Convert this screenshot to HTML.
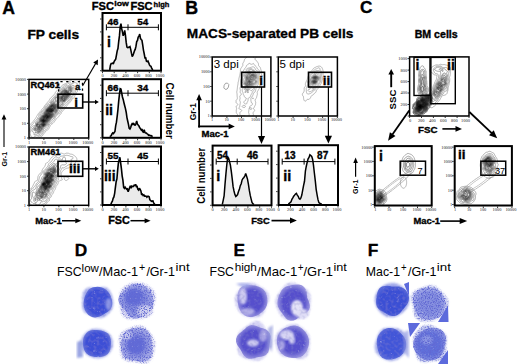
<!DOCTYPE html>
<html><head><meta charset="utf-8"><style>
html,body{margin:0;padding:0;background:#fff;}
svg{display:block;}
text{font-family:"Liberation Sans", sans-serif;}
</style></head><body>
<svg width="520" height="364" viewBox="0 0 520 364" font-family="Liberation Sans, sans-serif">
<rect width="520" height="364" fill="#fff"/>
<text x="2.2" y="13.7" font-size="17.6" font-weight="bold" text-anchor="start" fill="#000"  stroke="#000" stroke-width="0.35">A</text>
<text x="27.4" y="39" font-size="13.7" font-weight="bold" text-anchor="start" fill="#000"  textLength="51.7" lengthAdjust="spacingAndGlyphs" stroke="#000" stroke-width="0.35">FP cells</text>
<text x="91.8" y="10.2" font-size="10.6" font-weight="bold" text-anchor="start" fill="#000"  textLength="22.2" lengthAdjust="spacingAndGlyphs" stroke="#000" stroke-width="0.35">FSC</text>
<text x="114.3" y="6.2" font-size="7.8" font-weight="bold" text-anchor="start" fill="#000"  textLength="14.6" lengthAdjust="spacingAndGlyphs" stroke="#000" stroke-width="0.35">low</text>
<text x="130.4" y="10.2" font-size="10.6" font-weight="bold" text-anchor="start" fill="#000"  textLength="22.2" lengthAdjust="spacingAndGlyphs" stroke="#000" stroke-width="0.35">FSC</text>
<text x="153.6" y="6.6" font-size="7.8" font-weight="bold" text-anchor="start" fill="#000"  textLength="15.8" lengthAdjust="spacingAndGlyphs" stroke="#000" stroke-width="0.35">high</text>
<path d="M109.70,69.90 L110.45,65.29 L111.20,63.49 L111.95,63.35 L112.70,63.18 L113.45,63.51 L114.20,61.38 L114.95,60.23 L115.70,59.14 L116.45,55.06 L117.20,50.86 L117.95,48.60 L118.70,41.54 L119.45,35.93 L120.20,26.91 L120.95,23.63 L121.70,28.85 L122.45,31.84 L123.20,35.78 L123.95,34.08 L124.70,30.29 L125.45,35.40 L126.20,42.38 L126.95,47.04 L127.70,47.56 L128.45,47.38 L129.20,47.12 L129.95,46.59 L130.70,49.41 L131.45,53.15 L132.20,56.45 L132.95,55.41 L133.70,53.20 L134.45,50.91 L135.20,49.40 L135.95,46.40 L136.70,41.58 L137.45,40.56 L138.20,37.07 L138.95,36.19 L139.70,34.07 L140.45,38.47 L141.20,39.50 L141.95,40.32 L142.70,44.88 L143.45,50.05 L144.20,53.76 L144.95,57.93 L145.70,57.87 L146.45,61.13 L147.20,61.54 L147.95,60.99 L148.70,62.80 L149.45,64.86 L150.20,65.97 L150.95,66.41 L151.70,68.05 L152.70,70.00 L152.70,69.9 L109.70,69.9 Z" fill="#ebebeb" stroke="none"/>
<path d="M109.70,69.90 L110.45,65.29 L111.20,63.49 L111.95,63.35 L112.70,63.18 L113.45,63.51 L114.20,61.38 L114.95,60.23 L115.70,59.14 L116.45,55.06 L117.20,50.86 L117.95,48.60 L118.70,41.54 L119.45,35.93 L120.20,26.91 L120.95,23.63 L121.70,28.85 L122.45,31.84 L123.20,35.78 L123.95,34.08 L124.70,30.29 L125.45,35.40 L126.20,42.38 L126.95,47.04 L127.70,47.56 L128.45,47.38 L129.20,47.12 L129.95,46.59 L130.70,49.41 L131.45,53.15 L132.20,56.45 L132.95,55.41 L133.70,53.20 L134.45,50.91 L135.20,49.40 L135.95,46.40 L136.70,41.58 L137.45,40.56 L138.20,37.07 L138.95,36.19 L139.70,34.07 L140.45,38.47 L141.20,39.50 L141.95,40.32 L142.70,44.88 L143.45,50.05 L144.20,53.76 L144.95,57.93 L145.70,57.87 L146.45,61.13 L147.20,61.54 L147.95,60.99 L148.70,62.80 L149.45,64.86 L150.20,65.97 L150.95,66.41 L151.70,68.05 L152.70,70.00" fill="none" stroke="#000" stroke-width="1.6" stroke-linejoin="miter" stroke-miterlimit="2"/>
<rect x="102.5" y="13" width="58.5" height="57.7" stroke="#000" stroke-width="2" fill="none" />
<line x1="100.0" y1="19.0" x2="101.5" y2="19.0" stroke="#000" stroke-width="0.8" />
<line x1="100.0" y1="31.9" x2="101.5" y2="31.9" stroke="#000" stroke-width="0.8" />
<line x1="100.0" y1="44.9" x2="101.5" y2="44.9" stroke="#000" stroke-width="0.8" />
<line x1="100.0" y1="57.8" x2="101.5" y2="57.8" stroke="#000" stroke-width="0.8" />
<line x1="100.0" y1="70.7" x2="101.5" y2="70.7" stroke="#000" stroke-width="0.8" />
<line x1="102.5" y1="71.7" x2="102.5" y2="73.2" stroke="#000" stroke-width="0.8" />
<line x1="114.2" y1="71.7" x2="114.2" y2="73.2" stroke="#000" stroke-width="0.8" />
<line x1="125.9" y1="71.7" x2="125.9" y2="73.2" stroke="#000" stroke-width="0.8" />
<line x1="137.6" y1="71.7" x2="137.6" y2="73.2" stroke="#000" stroke-width="0.8" />
<line x1="149.3" y1="71.7" x2="149.3" y2="73.2" stroke="#000" stroke-width="0.8" />
<line x1="161.0" y1="71.7" x2="161.0" y2="73.2" stroke="#000" stroke-width="0.8" />
<text x="102.5" y="76.9" font-size="4.4" font-weight="normal" text-anchor="middle" fill="#222" style="font-family:Liberation Serif">0</text>
<text x="114.0" y="76.9" font-size="4.4" font-weight="normal" text-anchor="middle" fill="#222" style="font-family:Liberation Serif">200</text>
<text x="125.5" y="76.9" font-size="4.4" font-weight="normal" text-anchor="middle" fill="#222" style="font-family:Liberation Serif">400</text>
<text x="137.0" y="76.9" font-size="4.4" font-weight="normal" text-anchor="middle" fill="#222" style="font-family:Liberation Serif">600</text>
<text x="148.5" y="76.9" font-size="4.4" font-weight="normal" text-anchor="middle" fill="#222" style="font-family:Liberation Serif">800</text>
<text x="160.0" y="76.9" font-size="4.4" font-weight="normal" text-anchor="middle" fill="#222" style="font-family:Liberation Serif">1000</text>
<line x1="106.4" y1="27.3" x2="158.4" y2="27.3" stroke="#000" stroke-width="1.0" />
<line x1="106.4" y1="24.3" x2="106.4" y2="30.3" stroke="#000" stroke-width="1.0" />
<line x1="128" y1="24.3" x2="128" y2="30.3" stroke="#000" stroke-width="1.0" />
<line x1="158.4" y1="24.3" x2="158.4" y2="30.3" stroke="#000" stroke-width="1.0" />
<text x="107.4" y="24.900000000000002" font-size="9.9" font-weight="bold" text-anchor="start" fill="#000"  stroke="#000" stroke-width="0.35">46</text>
<text x="137.3" y="24.900000000000002" font-size="9.9" font-weight="bold" text-anchor="start" fill="#000"  stroke="#000" stroke-width="0.35">54</text>
<text x="107.1" y="46.8" font-size="14" font-weight="bold" text-anchor="start" fill="#000"  stroke="#000" stroke-width="0.35">i</text>
<path d="M109.70,136.50 L110.45,136.15 L111.20,135.66 L111.95,133.85 L112.70,132.85 L113.45,133.57 L114.20,132.48 L114.95,131.38 L115.70,125.69 L116.45,122.13 L117.20,116.20 L117.95,109.52 L118.70,101.10 L119.45,94.33 L120.20,88.80 L120.95,89.15 L121.70,92.99 L122.45,96.98 L123.20,99.41 L123.95,102.72 L124.70,105.75 L125.45,108.58 L126.20,112.22 L126.95,117.62 L127.70,120.98 L128.45,124.30 L129.20,128.35 L129.95,128.99 L130.70,127.57 L131.45,124.86 L132.20,123.59 L132.95,124.42 L133.70,123.49 L134.45,124.49 L135.20,125.50 L135.95,123.58 L136.70,121.05 L137.45,124.21 L138.20,124.95 L138.95,125.87 L139.70,127.76 L140.45,128.51 L141.20,129.87 L141.95,128.90 L142.70,131.65 L143.45,132.07 L144.20,129.77 L144.95,132.53 L145.70,133.04 L146.45,133.09 L147.20,133.96 L147.95,134.38 L148.70,135.31 L149.45,135.06 L150.20,135.71 L150.95,135.61 L151.70,136.06 L152.70,136.50 L152.70,137.0 L109.70,137.0 Z" fill="#ebebeb" stroke="none"/>
<path d="M109.70,136.50 L110.45,136.15 L111.20,135.66 L111.95,133.85 L112.70,132.85 L113.45,133.57 L114.20,132.48 L114.95,131.38 L115.70,125.69 L116.45,122.13 L117.20,116.20 L117.95,109.52 L118.70,101.10 L119.45,94.33 L120.20,88.80 L120.95,89.15 L121.70,92.99 L122.45,96.98 L123.20,99.41 L123.95,102.72 L124.70,105.75 L125.45,108.58 L126.20,112.22 L126.95,117.62 L127.70,120.98 L128.45,124.30 L129.20,128.35 L129.95,128.99 L130.70,127.57 L131.45,124.86 L132.20,123.59 L132.95,124.42 L133.70,123.49 L134.45,124.49 L135.20,125.50 L135.95,123.58 L136.70,121.05 L137.45,124.21 L138.20,124.95 L138.95,125.87 L139.70,127.76 L140.45,128.51 L141.20,129.87 L141.95,128.90 L142.70,131.65 L143.45,132.07 L144.20,129.77 L144.95,132.53 L145.70,133.04 L146.45,133.09 L147.20,133.96 L147.95,134.38 L148.70,135.31 L149.45,135.06 L150.20,135.71 L150.95,135.61 L151.70,136.06 L152.70,136.50" fill="none" stroke="#000" stroke-width="1.6" stroke-linejoin="miter" stroke-miterlimit="2"/>
<rect x="102.5" y="79.2" width="58.5" height="58.60000000000001" stroke="#000" stroke-width="2" fill="none" />
<line x1="100.0" y1="85.2" x2="101.5" y2="85.2" stroke="#000" stroke-width="0.8" />
<line x1="100.0" y1="98.4" x2="101.5" y2="98.4" stroke="#000" stroke-width="0.8" />
<line x1="100.0" y1="111.5" x2="101.5" y2="111.5" stroke="#000" stroke-width="0.8" />
<line x1="100.0" y1="124.7" x2="101.5" y2="124.7" stroke="#000" stroke-width="0.8" />
<line x1="100.0" y1="137.8" x2="101.5" y2="137.8" stroke="#000" stroke-width="0.8" />
<line x1="102.5" y1="138.8" x2="102.5" y2="140.3" stroke="#000" stroke-width="0.8" />
<line x1="114.2" y1="138.8" x2="114.2" y2="140.3" stroke="#000" stroke-width="0.8" />
<line x1="125.9" y1="138.8" x2="125.9" y2="140.3" stroke="#000" stroke-width="0.8" />
<line x1="137.6" y1="138.8" x2="137.6" y2="140.3" stroke="#000" stroke-width="0.8" />
<line x1="149.3" y1="138.8" x2="149.3" y2="140.3" stroke="#000" stroke-width="0.8" />
<line x1="161.0" y1="138.8" x2="161.0" y2="140.3" stroke="#000" stroke-width="0.8" />
<text x="102.5" y="144.0" font-size="4.4" font-weight="normal" text-anchor="middle" fill="#222" style="font-family:Liberation Serif">0</text>
<text x="114.0" y="144.0" font-size="4.4" font-weight="normal" text-anchor="middle" fill="#222" style="font-family:Liberation Serif">200</text>
<text x="125.5" y="144.0" font-size="4.4" font-weight="normal" text-anchor="middle" fill="#222" style="font-family:Liberation Serif">400</text>
<text x="137.0" y="144.0" font-size="4.4" font-weight="normal" text-anchor="middle" fill="#222" style="font-family:Liberation Serif">600</text>
<text x="148.5" y="144.0" font-size="4.4" font-weight="normal" text-anchor="middle" fill="#222" style="font-family:Liberation Serif">800</text>
<text x="160.0" y="144.0" font-size="4.4" font-weight="normal" text-anchor="middle" fill="#222" style="font-family:Liberation Serif">1000</text>
<line x1="106.4" y1="93.2" x2="158.4" y2="93.2" stroke="#000" stroke-width="1.0" />
<line x1="106.4" y1="90.2" x2="106.4" y2="96.2" stroke="#000" stroke-width="1.0" />
<line x1="128" y1="90.2" x2="128" y2="96.2" stroke="#000" stroke-width="1.0" />
<line x1="158.4" y1="90.2" x2="158.4" y2="96.2" stroke="#000" stroke-width="1.0" />
<text x="107.4" y="90.8" font-size="9.9" font-weight="bold" text-anchor="start" fill="#000"  stroke="#000" stroke-width="0.35">66</text>
<text x="137.3" y="90.8" font-size="9.9" font-weight="bold" text-anchor="start" fill="#000"  stroke="#000" stroke-width="0.35">34</text>
<text x="105.2" y="114.8" font-size="14" font-weight="bold" text-anchor="start" fill="#000"  stroke="#000" stroke-width="0.35">ii</text>
<path d="M110.90,204.20 L111.65,202.42 L112.40,201.10 L113.15,198.39 L113.90,196.88 L114.65,193.32 L115.40,187.45 L116.15,181.75 L116.90,178.95 L117.65,170.13 L118.40,162.94 L119.15,160.00 L119.90,157.33 L120.65,162.94 L121.40,168.53 L122.15,175.81 L122.90,180.23 L123.65,187.14 L124.40,188.32 L125.15,187.25 L125.90,188.38 L126.65,189.20 L127.40,188.92 L128.15,191.77 L128.90,189.77 L129.65,187.53 L130.40,185.81 L131.15,188.14 L131.90,186.21 L132.65,186.57 L133.40,186.56 L134.15,185.22 L134.90,185.42 L135.65,184.33 L136.40,186.64 L137.15,186.50 L137.90,189.40 L138.65,190.16 L139.40,188.32 L140.15,189.42 L140.90,190.94 L141.65,194.87 L142.40,194.20 L143.15,195.51 L143.90,194.86 L144.65,196.12 L145.40,196.01 L146.15,196.15 L146.90,197.27 L147.65,196.33 L148.40,196.36 L149.15,196.84 L149.90,199.85 L150.65,200.52 L151.40,201.26 L152.15,200.93 L152.90,200.84 L153.65,202.91 L154.80,204.30 L154.80,204.2 L110.90,204.2 Z" fill="#ebebeb" stroke="none"/>
<path d="M110.90,204.20 L111.65,202.42 L112.40,201.10 L113.15,198.39 L113.90,196.88 L114.65,193.32 L115.40,187.45 L116.15,181.75 L116.90,178.95 L117.65,170.13 L118.40,162.94 L119.15,160.00 L119.90,157.33 L120.65,162.94 L121.40,168.53 L122.15,175.81 L122.90,180.23 L123.65,187.14 L124.40,188.32 L125.15,187.25 L125.90,188.38 L126.65,189.20 L127.40,188.92 L128.15,191.77 L128.90,189.77 L129.65,187.53 L130.40,185.81 L131.15,188.14 L131.90,186.21 L132.65,186.57 L133.40,186.56 L134.15,185.22 L134.90,185.42 L135.65,184.33 L136.40,186.64 L137.15,186.50 L137.90,189.40 L138.65,190.16 L139.40,188.32 L140.15,189.42 L140.90,190.94 L141.65,194.87 L142.40,194.20 L143.15,195.51 L143.90,194.86 L144.65,196.12 L145.40,196.01 L146.15,196.15 L146.90,197.27 L147.65,196.33 L148.40,196.36 L149.15,196.84 L149.90,199.85 L150.65,200.52 L151.40,201.26 L152.15,200.93 L152.90,200.84 L153.65,202.91 L154.80,204.30" fill="none" stroke="#000" stroke-width="1.6" stroke-linejoin="miter" stroke-miterlimit="2"/>
<rect x="102.5" y="146.5" width="58.5" height="58.5" stroke="#000" stroke-width="2" fill="none" />
<line x1="100.0" y1="152.5" x2="101.5" y2="152.5" stroke="#000" stroke-width="0.8" />
<line x1="100.0" y1="165.6" x2="101.5" y2="165.6" stroke="#000" stroke-width="0.8" />
<line x1="100.0" y1="178.8" x2="101.5" y2="178.8" stroke="#000" stroke-width="0.8" />
<line x1="100.0" y1="191.9" x2="101.5" y2="191.9" stroke="#000" stroke-width="0.8" />
<line x1="100.0" y1="205.0" x2="101.5" y2="205.0" stroke="#000" stroke-width="0.8" />
<line x1="102.5" y1="206" x2="102.5" y2="207.5" stroke="#000" stroke-width="0.8" />
<line x1="114.2" y1="206" x2="114.2" y2="207.5" stroke="#000" stroke-width="0.8" />
<line x1="125.9" y1="206" x2="125.9" y2="207.5" stroke="#000" stroke-width="0.8" />
<line x1="137.6" y1="206" x2="137.6" y2="207.5" stroke="#000" stroke-width="0.8" />
<line x1="149.3" y1="206" x2="149.3" y2="207.5" stroke="#000" stroke-width="0.8" />
<line x1="161.0" y1="206" x2="161.0" y2="207.5" stroke="#000" stroke-width="0.8" />
<text x="102.5" y="211.2" font-size="4.4" font-weight="normal" text-anchor="middle" fill="#222" style="font-family:Liberation Serif">0</text>
<text x="114.0" y="211.2" font-size="4.4" font-weight="normal" text-anchor="middle" fill="#222" style="font-family:Liberation Serif">200</text>
<text x="125.5" y="211.2" font-size="4.4" font-weight="normal" text-anchor="middle" fill="#222" style="font-family:Liberation Serif">400</text>
<text x="137.0" y="211.2" font-size="4.4" font-weight="normal" text-anchor="middle" fill="#222" style="font-family:Liberation Serif">600</text>
<text x="148.5" y="211.2" font-size="4.4" font-weight="normal" text-anchor="middle" fill="#222" style="font-family:Liberation Serif">800</text>
<text x="160.0" y="211.2" font-size="4.4" font-weight="normal" text-anchor="middle" fill="#222" style="font-family:Liberation Serif">1000</text>
<line x1="106.4" y1="161.5" x2="158.4" y2="161.5" stroke="#000" stroke-width="1.0" />
<line x1="106.4" y1="158.5" x2="106.4" y2="164.5" stroke="#000" stroke-width="1.0" />
<line x1="128" y1="158.5" x2="128" y2="164.5" stroke="#000" stroke-width="1.0" />
<line x1="158.4" y1="158.5" x2="158.4" y2="164.5" stroke="#000" stroke-width="1.0" />
<text x="107.4" y="159.1" font-size="9.9" font-weight="bold" text-anchor="start" fill="#000"  stroke="#000" stroke-width="0.35">55</text>
<text x="137.3" y="159.1" font-size="9.9" font-weight="bold" text-anchor="start" fill="#000"  stroke="#000" stroke-width="0.35">45</text>
<text x="103.9" y="180.8" font-size="14" font-weight="bold" text-anchor="start" fill="#000"  stroke="#000" stroke-width="0.35">iii</text>
<text x="0" y="0" font-size="10" font-weight="bold" textLength="56.3" lengthAdjust="spacingAndGlyphs" transform="translate(166.2,82.4) rotate(90)">Cell number</text>
<path d="M29.1,126.1 L29.3,125.8 L29.4,125.5 L29.6,125.1 L29.9,124.8 L30.1,124.6 L30.4,124.4 L30.6,124.1 L30.9,123.8 L31.1,123.5 L31.3,123.3 L31.6,123.0 L31.8,122.8 L32.1,122.5 L32.3,122.3 L32.5,122.0 L32.8,121.8 L33.0,121.5 L33.3,121.3 L33.5,121.0 L33.7,120.8 L33.9,120.5 L34.1,120.2 L34.4,119.9 L34.6,119.5 L34.8,119.3 L35.0,119.0 L35.2,118.8 L35.4,118.5 L35.6,118.2 L35.9,117.8 L36.0,117.5 L36.2,117.3 L36.4,116.9 L36.5,116.5 L36.7,116.3 L36.9,116.0 L37.1,115.6 L37.3,115.3 L37.4,115.0 L37.6,114.7 L37.9,114.3 L38.0,114.0 L38.2,113.8 L38.4,113.5 L38.6,113.3 L38.9,113.0 L39.1,112.7 L39.4,112.5 L39.6,112.2 L39.9,111.9 L40.1,111.6 L40.4,111.3 L40.6,111.1 L40.9,110.8 L41.1,110.5 L41.2,110.3 L41.4,110.0 L41.6,109.6 L41.9,109.3 L42.1,109.0 L42.3,108.8 L42.6,108.5 L42.9,108.3 L43.1,108.0 L43.4,107.8 L43.6,107.5 L43.7,107.3 L43.9,107.0 L44.1,106.6 L44.3,106.3 L44.4,106.0 L44.6,105.6 L44.9,105.3 L45.1,105.1 L45.4,104.9 L45.6,104.8 L45.9,104.5 L46.1,104.3 L46.3,103.8 L46.4,103.5 L46.6,103.2 L46.9,102.9 L47.1,102.6 L47.4,102.4 L47.6,102.2 L47.9,101.9 L48.1,101.6 L48.4,101.3 L48.6,101.0 L48.8,100.8 L49.0,100.5 L49.2,100.3 L49.4,100.0 L49.6,99.5 L49.7,99.3 L49.9,99.0 L50.1,98.7 L50.4,98.3 L50.6,98.1 L50.9,97.9 L51.1,97.7 L51.4,97.5 L51.6,97.2 L51.9,96.8 L52.1,96.5 L52.4,96.3 L52.6,96.1 L52.9,95.9 L53.1,95.7 L53.4,95.5 L53.6,95.3 L53.9,95.0 L54.1,94.6 L54.4,94.3 L54.6,94.1 L54.9,93.8 L54.9,93.5 L55.1,93.0 L55.2,92.8 L55.4,92.3 L55.5,92.0 L55.7,91.8 L56.0,91.5 L56.3,91.3 L56.6,91.0 L56.9,90.8 L57.1,90.6 L57.4,90.3 L57.6,90.1 L57.9,89.8 L58.1,89.6 L58.4,89.3 L58.6,89.1 L58.9,88.9 L59.1,88.7 L59.4,88.5 L59.9,88.3 L60.1,88.1 L60.4,88.0 L60.9,87.8 L60.9,87.5 L61.0,87.0 L61.1,86.8 L61.3,86.3 L61.5,86.0 L61.6,85.8 L62.0,85.5 L62.3,85.3 L62.6,85.1 L62.9,84.9 L63.1,84.8 L63.5,84.5 L63.9,84.3 L64.1,84.1 L64.5,84.0 L64.9,83.9 L65.4,83.8 L65.6,83.7 L66.1,83.6 L66.4,83.3 L66.6,83.0 L66.9,82.8 L67.1,82.6 L67.4,82.4 L67.6,82.3 L68.1,82.0 L68.4,81.9 L68.6,81.8 L69.0,81.5 L69.4,81.3 L69.6,81.2 L70.0,81.0 L70.4,80.9 L70.8,80.8 L71.1,80.6 L71.4,80.4 L71.6,80.2 L71.9,79.9 L72.1,79.5" fill="none" stroke="rgb(140,140,140)" stroke-width="0.6"/>
<path d="M79.4,79.5 L79.4,80.0 L79.4,80.5 L79.4,80.8 L79.3,81.3 L79.3,81.8 L79.4,82.1 L79.4,82.5 L79.5,83.0 L79.5,83.5 L79.4,84.0 L79.3,84.3 L79.2,84.8 L79.1,85.0 L78.9,85.5 L78.7,85.8 L78.6,86.0 L78.4,86.5 L78.3,86.8 L78.1,87.3 L78.1,87.5 L78.0,88.0 L78.0,88.5 L77.9,89.0 L77.9,89.3 L77.8,89.8 L77.7,90.3 L77.6,90.5 L77.4,91.0 L77.4,91.3 L77.2,91.8 L77.0,92.0 L76.8,92.3 L76.6,92.6 L76.4,93.0 L76.2,93.3 L76.1,93.5 L75.9,94.0 L75.7,94.3 L75.5,94.5 L75.4,94.8 L75.1,95.2 L75.0,95.5 L74.9,95.8 L74.7,96.3 L74.6,96.6 L74.5,97.0 L74.4,97.3 L74.1,97.6 L73.9,97.9 L73.6,98.0 L73.2,98.3 L72.9,98.4 L72.5,98.5 L72.3,98.8 L72.1,99.0 L71.9,99.5 L71.7,99.8 L71.6,100.0 L71.4,100.5 L71.3,100.8 L71.1,101.0 L70.9,101.3 L70.6,101.6 L70.4,101.9 L70.1,102.1 L69.9,102.4 L69.6,102.7 L69.4,103.0 L69.1,103.2 L68.9,103.5 L68.6,103.7 L68.4,104.0 L68.1,104.2 L67.9,104.5 L67.6,104.7 L67.4,105.0 L67.2,105.3 L67.0,105.5 L66.8,105.8 L66.6,106.1 L66.4,106.5 L66.3,106.8 L66.1,107.1 L65.9,107.4 L65.6,107.7 L65.4,108.0 L65.2,108.3 L65.0,108.5 L64.7,108.8 L64.4,109.0 L64.1,109.3 L63.9,109.5 L63.6,109.8 L63.4,110.0 L63.3,110.3 L63.1,110.5 L62.9,110.8 L62.6,111.1 L62.4,111.4 L62.1,111.6 L61.9,111.9 L61.6,112.2 L61.4,112.5 L61.4,112.8 L61.2,113.3 L61.1,113.5 L60.9,113.8 L60.6,114.1 L60.4,114.3 L60.0,114.5 L59.8,114.8 L59.6,115.1 L59.4,115.4 L59.2,115.8 L59.0,116.0 L58.9,116.3 L58.6,116.6 L58.4,116.9 L58.1,117.1 L57.9,117.4 L57.6,117.6 L57.4,117.8 L57.1,118.1 L56.9,118.3 L56.6,118.6 L56.4,118.8 L56.1,119.0 L55.9,119.3 L55.7,119.8 L55.5,120.0 L55.4,120.3 L55.1,120.7 L54.9,121.0 L54.7,121.3 L54.5,121.5 L54.4,121.8 L54.1,122.1 L53.9,122.4 L53.6,122.7 L53.4,122.9 L53.1,123.2 L52.9,123.4 L52.6,123.6 L52.3,123.8 L51.9,124.0 L51.6,124.2 L51.4,124.3 L51.1,124.5 L50.8,124.8 L50.6,125.0 L50.4,125.5 L50.2,125.8 L50.1,126.0 L49.9,126.5 L49.8,126.8 L49.6,127.1 L49.4,127.5 L49.2,127.8 L49.1,128.0 L48.9,128.4 L48.7,128.8 L48.5,129.0 L48.3,129.3 L48.1,129.5 L47.9,129.8 L47.6,130.1 L47.3,130.3 L46.9,130.5 L46.6,130.6 L46.2,130.8 L45.9,130.9 L45.6,131.0 L45.4,131.5 L45.3,131.8 L45.1,132.2 L44.9,132.5 L44.7,132.8 L44.4,133.0 L44.1,133.3 L43.9,133.5 L43.7,133.8 L43.5,134.0 L43.4,134.3 L43.1,134.8 L43.0,135.0 L42.8,135.3 L42.5,135.5 L42.3,135.8 L42.0,136.0 L41.8,136.3 L41.5,136.5 L41.1,136.7 L40.9,136.8 L40.4,137.0 L40.1,137.1 L39.6,137.2 L39.4,137.3 L39.1,137.6" fill="none" stroke="rgb(140,140,140)" stroke-width="0.6"/>
<path d="M29.1,131.7 L29.4,131.3 L29.6,131.0 L29.5,130.5 L29.5,130.0 L29.5,129.5 L29.6,129.0 L29.6,128.8 L29.7,128.3 L29.9,127.8 L30.0,127.5 L30.1,127.1 L30.3,126.8 L30.4,126.5 L30.6,126.1 L30.9,125.8 L31.0,125.5 L31.3,125.3 L31.6,125.1 L31.9,124.9 L32.1,124.8 L32.4,124.5 L32.7,124.3 L32.9,124.0 L33.1,123.7 L33.4,123.4 L33.6,123.0 L33.7,122.8 L33.9,122.5 L34.2,122.3 L34.4,122.0 L34.7,121.8 L34.9,121.5 L35.1,121.3 L35.4,121.0 L35.6,120.7 L35.9,120.4 L36.1,120.0 L36.3,119.8 L36.5,119.5 L36.8,119.3 L37.0,119.0 L37.3,118.8 L37.4,118.5 L37.5,118.0 L37.6,117.8 L37.9,117.3 L38.1,117.0 L38.4,116.8 L38.6,116.6 L38.7,116.3 L38.8,115.8 L38.9,115.4 L38.9,115.0 L39.0,114.5 L39.2,114.3 L39.4,114.0 L39.7,113.8 L39.9,113.5 L40.1,113.2 L40.4,112.9 L40.6,112.5 L40.8,112.3 L41.0,112.0 L41.2,111.8 L41.4,111.5 L41.7,111.3 L41.9,111.0 L42.2,110.8 L42.4,110.5 L42.6,110.3 L42.9,110.0 L43.1,109.7 L43.4,109.5 L43.6,109.2 L43.9,108.9 L44.1,108.6 L44.3,108.3 L44.5,108.0 L44.6,107.7 L44.8,107.3 L45.0,107.0 L45.1,106.7 L45.3,106.3 L45.5,106.0 L45.8,105.8 L46.1,105.6 L46.4,105.3 L46.6,105.1 L46.9,104.8 L47.0,104.5 L47.2,104.3 L47.4,104.0 L47.6,103.7 L47.9,103.5 L48.4,103.3 L48.6,103.2 L49.0,103.0 L49.3,102.8 L49.6,102.5 L49.7,102.3 L49.9,101.9 L50.1,101.5 L50.2,101.3 L50.4,101.0 L50.6,100.7 L50.9,100.4 L51.1,100.2 L51.4,100.0 L51.6,99.7 L51.9,99.4 L52.1,99.0 L52.3,98.8 L52.5,98.5 L52.7,98.3 L53.0,98.0 L53.2,97.8 L53.4,97.5 L53.7,97.3 L54.0,97.0 L54.2,96.8 L54.4,96.5 L54.6,96.3 L54.9,96.0 L55.1,95.7 L55.4,95.4 L55.6,95.2 L55.9,95.0 L56.1,94.7 L56.4,94.5 L56.6,94.2 L56.8,93.8 L56.9,93.5 L57.1,93.1 L57.3,92.8 L57.5,92.5 L57.8,92.3 L58.0,92.0 L58.2,91.8 L58.4,91.5 L58.6,91.1 L58.9,90.8 L59.0,90.5 L59.2,90.3 L59.4,90.0 L59.6,89.7 L59.9,89.5 L60.3,89.3 L60.6,89.1 L60.9,88.9 L61.2,88.8 L61.6,88.6 L61.9,88.5 L62.2,88.3 L62.5,88.0 L62.7,87.8 L62.8,87.3 L62.9,87.0 L63.1,86.5 L63.3,86.3 L63.4,86.0 L63.6,85.8 L64.0,85.5 L64.4,85.3 L64.6,85.2 L65.1,85.1 L65.4,85.0 L65.9,84.9 L66.3,84.8 L66.6,84.7 L66.9,84.5 L67.3,84.3 L67.6,84.0 L67.8,83.8 L68.0,83.5 L68.4,83.3 L68.6,83.3 L69.1,83.1 L69.4,83.0 L69.9,82.9 L70.1,82.8 L70.6,82.8 L70.9,82.8 L71.3,83.0 L71.6,83.3 L71.8,83.5 L72.0,83.8 L72.4,84.0 L72.6,83.7 L72.9,83.4 L73.1,83.1 L73.4,82.9 L73.8,82.8 L74.1,82.7 L74.6,82.6 L75.1,82.7 L75.6,82.7 L76.0,82.8 L76.4,82.9 L76.6,83.0 L76.9,83.3 L77.1,83.7 L77.1,84.0 L77.1,84.3 L77.0,84.8 L76.9,85.3 L76.9,85.6 L76.9,86.0 L76.9,86.5 L76.8,87.0 L76.8,87.5 L76.7,88.0 L76.6,88.3 L76.4,88.8 L76.2,89.0 L76.0,89.3 L75.9,89.5 L75.7,90.0 L75.7,90.5 L75.6,90.8 L75.5,91.3 L75.5,91.8 L75.4,92.0 L75.2,92.5 L75.1,92.8 L74.9,93.3 L74.8,93.5 L74.6,94.0 L74.5,94.3 L74.4,94.6 L74.1,94.9 L73.9,95.3 L73.7,95.5 L73.5,95.8 L73.3,96.0 L73.1,96.3 L72.9,96.5 L72.5,96.8 L72.2,97.0 L72.0,97.3 L71.8,97.5 L71.6,97.8 L71.4,98.2 L71.2,98.5 L71.1,98.8 L70.9,99.2 L70.7,99.5 L70.6,99.8 L70.4,100.1 L70.1,100.4 L69.9,100.6 L69.6,100.9 L69.4,101.2 L69.1,101.4 L68.9,101.7 L68.6,102.0 L68.4,102.3 L68.1,102.5 L67.9,102.7 L67.6,103.0 L67.4,103.2 L67.1,103.4 L66.9,103.7 L66.6,104.0 L66.4,104.3 L66.2,104.5 L66.0,104.8 L65.8,105.0 L65.6,105.3 L65.4,105.5 L65.1,105.9 L64.9,106.2 L64.7,106.5 L64.5,106.8 L64.3,107.0 L64.1,107.3 L63.8,107.5 L63.4,107.8 L63.1,108.0 L62.9,108.1 L62.4,108.2 L62.1,108.3 L62.0,108.8 L61.9,109.3 L61.9,109.8 L61.8,110.0 L61.6,110.5 L61.4,110.7 L61.1,111.0 L60.9,111.3 L60.7,111.5 L60.6,111.8 L60.4,112.2 L60.2,112.5 L60.0,112.8 L59.7,113.0 L59.4,113.3 L59.1,113.4 L58.9,113.6 L58.5,113.8 L58.1,114.0 L57.9,114.1 L57.6,114.4 L57.4,114.8 L57.3,115.0 L57.1,115.3 L56.9,115.6 L56.6,115.8 L56.2,116.0 L55.9,116.2 L55.6,116.5 L55.5,116.8 L55.4,117.2 L55.3,117.5 L55.1,117.9 L55.0,118.3 L54.9,118.5 L54.6,119.0 L54.5,119.3 L54.3,119.5 L54.1,119.9 L53.9,120.3 L53.7,120.5 L53.4,120.8 L53.2,121.0 L53.0,121.3 L52.8,121.5 L52.6,121.8 L52.4,122.0 L52.1,122.4 L51.9,122.7 L51.6,122.9 L51.3,123.0 L50.9,123.2 L50.6,123.4 L50.3,123.5 L50.0,123.8 L49.7,124.0 L49.5,124.3 L49.4,124.6 L49.2,125.0 L49.1,125.3 L48.9,125.8 L48.7,126.0 L48.6,126.3 L48.4,126.6 L48.1,127.0 L48.0,127.3 L47.9,127.5 L47.6,128.0 L47.5,128.3 L47.3,128.5 L47.1,128.8 L46.8,129.0 L46.4,129.3 L46.1,129.4 L45.9,129.5 L45.4,129.8 L45.1,130.0 L44.9,130.2 L44.6,130.5 L44.5,130.8 L44.4,131.0 L44.1,131.4 L43.9,131.7 L43.6,131.9 L43.4,132.2 L43.1,132.4 L42.9,132.7 L42.6,133.0 L42.5,133.3 L42.4,133.5 L42.1,134.0 L42.0,134.3 L41.8,134.5 L41.6,134.9 L41.4,135.2 L41.1,135.3 L40.7,135.5 L40.4,135.6 L40.0,135.8 L39.6,135.9 L39.3,136.0 L38.9,136.2 L38.6,136.3 L38.3,136.5 L37.9,136.8 L37.6,136.9 L37.4,137.1 L37.1,137.3 L36.7,137.5 L36.4,137.7" fill="none" stroke="rgb(126,126,126)" stroke-width="0.6"/>
<path d="M29.9,137.8 L29.8,137.5 L29.6,137.0 L29.5,136.8 L29.4,136.4 L29.2,136.0" fill="none" stroke="rgb(126,126,126)" stroke-width="0.6"/>
<path d="M33.6,137.3 L33.1,137.5 L32.6,137.4 L32.1,137.3 L31.9,137.3 L31.4,137.0 L31.2,136.8 L31.1,136.5 L30.9,136.0 L30.8,135.8 L30.6,135.3 L30.5,135.0 L30.4,134.5 L30.3,134.3 L30.2,133.8 L30.1,133.5 L30.0,133.0 L30.1,132.7 L30.3,132.3 L30.4,132.0 L30.5,131.5 L30.6,131.2 L30.7,130.8 L30.7,130.3 L30.7,129.8 L30.7,129.3 L30.8,128.8 L30.9,128.5 L31.0,128.0 L31.1,127.6 L31.3,127.3 L31.5,127.0 L31.8,126.8 L32.1,126.6 L32.4,126.4 L32.6,126.3 L33.1,126.0 L33.4,125.9 L33.7,125.8 L34.1,125.7 L34.6,125.6 L35.1,125.6 L35.4,125.5 L35.6,125.0 L35.7,124.8 L35.6,124.4 L35.6,124.0 L35.5,123.5 L35.4,123.0 L35.6,122.5 L35.8,122.3 L36.0,122.0 L36.2,121.8 L36.4,121.5 L36.6,121.2 L36.9,120.9 L37.1,120.6 L37.4,120.4 L37.6,120.1 L37.8,119.8 L38.0,119.5 L38.1,119.2 L38.3,118.8 L38.4,118.5 L38.6,118.2 L38.9,117.9 L39.1,117.6 L39.4,117.4 L39.6,117.2 L39.9,117.0 L40.1,116.7 L40.2,116.3 L40.2,115.8 L40.2,115.3 L40.4,114.8 L40.4,114.5 L40.6,114.3 L40.9,114.0 L41.1,113.5 L41.3,113.3 L41.4,113.0 L41.6,112.6 L41.9,112.3 L42.1,112.1 L42.4,111.9 L42.6,111.7 L42.9,111.5 L43.1,111.2 L43.4,110.9 L43.6,110.6 L43.9,110.3 L44.1,110.1 L44.4,109.8 L44.6,109.5 L44.7,109.3 L44.9,109.0 L45.1,108.7 L45.3,108.3 L45.4,108.0 L45.6,107.6 L45.9,107.3 L46.1,107.0 L46.3,106.8 L46.5,106.5 L46.7,106.3 L47.1,106.0 L47.3,105.8 L47.5,105.5 L47.7,105.3 L48.0,105.0 L48.4,104.8 L48.6,104.7 L49.1,104.6 L49.6,104.6 L49.9,104.5 L50.1,104.3 L50.3,103.8 L50.4,103.3 L50.4,103.0 L50.5,102.5 L50.6,102.1 L50.8,101.8 L51.0,101.5 L51.2,101.3 L51.5,101.0 L51.8,100.8 L52.1,100.6 L52.4,100.3 L52.6,100.1 L52.9,99.8 L53.1,99.5 L53.3,99.3 L53.5,99.0 L53.8,98.8 L54.0,98.5 L54.1,98.2 L54.4,97.8 L54.6,97.5 L54.8,97.3 L55.0,97.0 L55.3,96.8 L55.6,96.5 L55.9,96.3 L56.1,96.1 L56.4,96.0 L56.6,95.8 L56.9,95.5 L57.1,95.3 L57.4,94.9 L57.6,94.6 L57.8,94.3 L58.0,94.0 L58.2,93.8 L58.4,93.5 L58.6,93.2 L58.9,92.9 L59.1,92.6 L59.4,92.3 L59.6,92.0 L59.7,91.8 L59.9,91.5 L60.1,91.1 L60.3,90.8 L60.5,90.5 L60.7,90.3 L60.9,90.0 L61.3,89.8 L61.6,89.6 L61.9,89.5 L62.2,89.3 L62.5,89.0 L62.8,88.8 L63.1,88.5 L63.4,88.3 L63.6,88.0 L63.9,87.8 L64.0,87.5 L64.1,87.3 L64.4,87.0 L64.8,86.8 L65.1,86.5 L65.4,86.4 L65.6,86.2 L66.1,86.0 L66.4,85.9 L66.9,85.9 L67.4,85.9 L67.9,85.9 L68.4,85.9 L68.6,85.5 L68.8,85.3 L69.0,85.0 L69.3,84.8 L69.6,84.6 L69.9,84.4 L70.4,84.3 L70.8,84.5 L71.1,84.7 L71.4,84.8 L71.7,85.0 L72.0,85.3 L72.3,85.5 L72.6,85.5 L72.9,85.5 L73.4,85.5 L73.9,85.5 L74.1,85.6 L74.2,86.0 L74.1,86.4 L74.1,86.8 L74.0,87.3 L73.9,87.8 L74.0,88.3 L74.0,88.8 L73.9,89.3 L73.9,89.7 L73.9,89.8 L74.0,90.3 L74.0,90.8 L74.0,91.3 L74.0,91.8 L73.9,92.2 L73.8,92.5 L73.6,93.0 L73.6,93.3 L73.4,93.8 L73.3,94.0 L73.1,94.3 L72.9,94.6 L72.6,95.0 L72.4,95.3 L72.2,95.5 L72.0,95.8 L71.8,96.0 L71.6,96.3 L71.3,96.5 L71.1,96.8 L70.9,97.2 L70.7,97.5 L70.6,97.8 L70.4,98.2 L70.1,98.5 L69.9,98.8 L69.7,99.0 L69.5,99.3 L69.3,99.5 L69.1,99.8 L68.9,100.2 L68.6,100.4 L68.4,100.7 L68.1,100.9 L67.9,101.1 L67.6,101.3 L67.3,101.5 L67.1,101.8 L66.9,102.0 L66.6,102.3 L66.4,102.5 L66.1,102.8 L65.7,103.0 L65.4,103.3 L65.1,103.5 L64.9,103.7 L64.6,103.9 L64.4,104.2 L64.1,104.5 L64.0,104.8 L63.9,105.1 L63.6,105.5 L63.5,105.8 L63.4,106.0 L63.1,106.4 L62.9,106.6 L62.6,106.8 L62.3,107.0 L61.9,107.3 L61.6,107.5 L61.4,107.6 L61.1,107.8 L60.9,108.0 L60.6,108.3 L60.4,108.8 L60.4,109.0 L60.2,109.5 L60.1,109.8 L59.9,110.3 L59.8,110.5 L59.6,110.8 L59.4,111.2 L59.2,111.5 L59.0,111.8 L58.8,112.0 L58.6,112.3 L58.4,112.6 L58.1,112.8 L57.8,113.0 L57.5,113.3 L57.2,113.5 L57.0,113.8 L56.8,114.0 L56.6,114.3 L56.4,114.5 L56.1,114.8 L55.9,115.0 L55.6,115.3 L55.4,115.5 L55.1,115.8 L54.9,116.2 L54.7,116.5 L54.6,116.8 L54.4,117.3 L54.3,117.5 L54.1,117.8 L53.9,118.3 L53.6,118.5 L53.4,118.7 L53.1,118.9 L52.9,119.1 L52.6,119.3 L52.4,119.6 L52.1,119.9 L51.9,120.3 L51.8,120.5 L51.6,120.8 L51.4,121.1 L51.1,121.4 L50.9,121.6 L50.6,121.8 L50.3,122.0 L49.9,122.3 L49.6,122.4 L49.4,122.7 L49.1,123.0 L49.0,123.3 L48.9,123.6 L48.7,124.0 L48.6,124.3 L48.4,124.8 L48.3,125.0 L48.1,125.3 L47.9,125.7 L47.6,126.0 L47.4,126.2 L47.1,126.4 L46.9,126.6 L46.6,126.8 L46.4,127.0 L46.1,127.3 L45.9,127.7 L45.6,128.0 L45.4,128.2 L45.1,128.4 L44.9,128.6 L44.4,128.7 L44.1,128.8 L43.6,128.8 L43.5,129.3 L43.5,129.8 L43.4,130.3 L43.4,130.5 L43.2,131.0 L42.9,131.3 L42.6,131.5 L42.4,131.8 L42.2,132.0 L42.0,132.3 L41.8,132.5 L41.6,132.8 L41.4,133.1 L41.1,133.4 L40.9,133.6 L40.6,133.9 L40.4,134.1 L40.1,134.3 L39.8,134.5 L39.4,134.7 L39.1,134.9 L38.6,135.0 L38.4,135.1 L37.9,135.2 L37.4,135.3 L37.1,135.4 L36.9,135.6 L36.5,135.8 L36.1,136.0 L35.9,136.1 L35.4,136.2 L35.1,136.3 L34.8,136.5 L34.4,136.8 L34.1,137.0 L33.9,137.2 L33.6,137.3" fill="none" stroke="rgb(113,113,113)" stroke-width="0.6"/>
<path d="M35.4,134.9 L34.9,134.9 L34.4,134.9 L34.1,134.8 L34.0,134.3 L34.0,133.8 L34.1,133.3 L34.0,132.8 L33.8,132.5 L33.6,132.3 L33.2,132.0 L32.9,131.9 L32.6,131.8 L32.3,131.5 L32.1,131.2 L32.1,130.8 L32.0,130.3 L32.1,129.8 L32.1,129.5 L32.3,129.0 L32.4,128.8 L32.6,128.4 L32.9,128.1 L33.1,127.8 L33.4,127.6 L33.6,127.3 L33.9,127.1 L34.1,126.9 L34.4,126.8 L34.9,126.6 L35.1,126.5 L35.5,126.3 L35.7,126.0 L35.9,125.6 L36.0,125.3 L36.1,124.8 L36.1,124.5 L36.2,124.0 L36.2,123.5 L36.4,123.1 L36.5,122.8 L36.7,122.5 L36.9,122.3 L37.1,122.0 L37.4,121.7 L37.6,121.5 L37.9,121.3 L38.2,121.0 L38.5,120.8 L38.7,120.5 L38.8,120.0 L38.9,119.8 L39.0,119.3 L39.1,118.8 L39.2,118.5 L39.4,118.3 L39.7,118.0 L39.9,117.8 L40.2,117.5 L40.4,117.3 L40.6,117.0 L40.9,116.8 L41.1,116.3 L41.1,116.0 L41.3,115.5 L41.4,115.2 L41.6,114.8 L41.8,114.5 L42.0,114.3 L42.1,114.0 L42.4,113.6 L42.6,113.3 L42.7,113.0 L42.9,112.8 L43.1,112.5 L43.4,112.2 L43.6,112.0 L43.9,111.6 L44.1,111.3 L44.4,111.1 L44.6,110.8 L44.9,110.5 L45.1,110.3 L45.3,110.0 L45.4,109.8 L45.6,109.4 L45.8,109.0 L45.9,108.8 L46.1,108.5 L46.4,108.1 L46.6,107.8 L46.8,107.5 L47.1,107.3 L47.3,107.0 L47.6,106.8 L47.9,106.5 L48.1,106.3 L48.4,106.0 L48.6,105.8 L48.9,105.7 L49.1,105.5 L49.6,105.4 L49.9,105.2 L50.1,105.0 L50.4,104.8 L50.7,104.5 L51.0,104.3 L51.1,103.8 L51.1,103.3 L51.1,103.0 L51.2,102.5 L51.4,102.1 L51.6,101.8 L51.9,101.6 L52.1,101.5 L52.5,101.3 L52.9,101.1 L53.1,100.8 L53.4,100.6 L53.6,100.3 L53.7,100.0 L54.0,99.8 L54.3,99.5 L54.5,99.3 L54.6,99.0 L54.8,98.5 L54.9,98.3 L55.1,97.8 L55.4,97.6 L55.6,97.3 L55.9,97.1 L56.1,97.0 L56.6,96.8 L56.9,96.8 L57.4,96.5 L57.6,96.4 L57.9,96.1 L58.1,95.8 L58.2,95.5 L58.4,95.3 L58.6,95.0 L58.9,94.6 L59.1,94.3 L59.4,94.1 L59.6,93.8 L59.8,93.5 L60.0,93.3 L60.1,93.0 L60.4,92.5 L60.5,92.3 L60.6,92.0 L60.9,91.6 L61.1,91.3 L61.3,91.0 L61.5,90.8 L61.8,90.5 L62.1,90.3 L62.4,90.1 L62.6,89.9 L62.9,89.7 L63.1,89.5 L63.4,89.3 L63.7,89.0 L63.9,88.8 L64.3,88.5 L64.6,88.4 L64.9,88.3 L65.4,88.0 L65.6,87.9 L65.9,87.7 L66.2,87.5 L66.6,87.3 L66.9,87.2 L67.4,87.0 L67.6,87.0 L68.1,86.9 L68.4,86.8 L68.8,86.5 L69.1,86.3 L69.4,86.1 L69.6,85.9 L69.9,85.7 L70.1,85.5 L70.6,85.5 L70.9,85.7 L71.1,85.8 L71.4,86.0 L71.6,86.3 L71.9,86.5 L72.2,86.8 L72.4,87.0 L72.6,87.3 L72.9,87.7 L72.9,87.9 L72.8,88.3 L72.7,88.8 L72.6,89.0 L72.4,89.5 L72.3,89.8 L72.3,90.3 L72.3,90.8 L72.2,91.3 L72.1,91.8 L72.2,92.3 L72.1,92.8 L72.1,93.0 L71.9,93.5 L71.6,93.7 L71.4,93.8 L71.1,93.8 L70.6,93.7 L70.3,93.8 L70.2,94.3 L70.3,94.8 L70.4,95.0 L70.5,95.5 L70.4,96.0 L70.3,96.3 L70.1,96.6 L69.9,97.0 L69.7,97.3 L69.4,97.5 L69.2,97.8 L68.9,98.0 L68.7,98.3 L68.5,98.5 L68.4,98.8 L68.1,99.2 L67.9,99.5 L67.6,99.7 L67.4,99.9 L66.9,100.0 L66.6,100.1 L66.3,100.3 L66.1,100.5 L65.9,101.0 L65.8,101.3 L65.6,101.5 L65.2,101.8 L64.9,102.0 L64.6,102.0 L64.1,102.2 L63.9,102.4 L63.7,102.8 L63.6,103.0 L63.4,103.5 L63.3,103.8 L63.1,104.3 L63.0,104.5 L62.9,104.8 L62.6,105.2 L62.5,105.5 L62.3,105.8 L62.1,106.1 L61.9,106.3 L61.6,106.5 L61.2,106.8 L60.9,107.0 L60.6,107.2 L60.4,107.4 L60.1,107.6 L59.8,107.8 L59.4,108.0 L59.1,108.1 L58.9,108.3 L58.7,108.8 L58.6,109.1 L58.5,109.5 L58.4,110.0 L58.3,110.3 L58.1,110.7 L58.0,111.0 L57.8,111.3 L57.6,111.7 L57.5,112.0 L57.3,112.3 L57.1,112.6 L56.9,112.8 L56.6,113.1 L56.4,113.4 L56.1,113.7 L55.9,114.0 L55.6,114.2 L55.4,114.4 L55.1,114.6 L54.9,114.9 L54.6,115.2 L54.4,115.5 L54.3,115.8 L54.1,116.1 L54.0,116.5 L53.9,116.8 L53.6,117.1 L53.4,117.3 L53.1,117.5 L52.8,117.8 L52.4,118.0 L52.1,118.1 L51.7,118.3 L51.4,118.5 L51.3,118.8 L51.1,119.3 L51.0,119.5 L50.9,119.9 L50.6,120.3 L50.4,120.5 L50.2,120.8 L49.9,121.0 L49.6,121.2 L49.4,121.5 L49.2,121.8 L48.9,122.0 L48.7,122.3 L48.4,122.5 L48.2,122.8 L48.1,123.0 L48.0,123.5 L47.9,124.0 L47.8,124.3 L47.7,124.8 L47.5,125.0 L47.2,125.3 L46.9,125.5 L46.6,125.7 L46.4,125.8 L46.1,126.0 L45.7,126.3 L45.4,126.5 L45.1,126.7 L44.9,127.0 L44.6,127.2 L44.4,127.4 L44.1,127.6 L43.7,127.8 L43.4,128.0 L43.2,128.3 L43.0,128.5 L42.8,128.8 L42.7,129.3 L42.6,129.5 L42.5,130.0 L42.3,130.3 L42.1,130.6 L41.9,130.9 L41.6,131.2 L41.4,131.5 L41.2,131.8 L41.0,132.0 L40.7,132.3 L40.4,132.5 L40.1,132.7 L39.9,132.9 L39.6,133.1 L39.3,133.3 L38.9,133.4 L38.4,133.5 L38.1,133.6 L37.6,133.6 L37.1,133.7 L36.9,133.9 L36.6,134.1 L36.4,134.3 L36.0,134.5 L35.6,134.7 L35.4,134.9" fill="none" stroke="rgb(100,100,100)" stroke-width="0.6"/>
<path d="M35.6,133.0 L35.3,133.0 L35.4,132.5 L35.5,132.3 L35.6,132.0 L35.8,131.5 L35.9,131.1 L35.9,131.0 L35.6,130.7 L35.1,130.5 L34.6,130.6 L34.3,130.5 L33.9,130.4 L33.6,130.0 L33.6,129.8 L33.6,129.3 L33.6,128.9 L33.8,128.5 L34.0,128.3 L34.2,128.0 L34.4,127.8 L34.8,127.5 L35.1,127.3 L35.4,127.2 L35.6,127.0 L35.9,126.7 L36.1,126.3 L36.2,126.0 L36.3,125.5 L36.4,125.2 L36.4,124.8 L36.5,124.3 L36.6,123.9 L36.8,123.5 L36.9,123.3 L37.1,123.0 L37.4,122.7 L37.6,122.4 L37.9,122.2 L38.1,122.0 L38.4,121.8 L38.7,121.5 L39.0,121.3 L39.4,121.0 L39.6,120.8 L39.6,120.3 L39.6,119.8 L39.6,119.3 L39.6,119.0 L39.8,118.5 L40.1,118.3 L40.3,118.0 L40.6,117.8 L40.8,117.5 L41.0,117.3 L41.2,117.0 L41.4,116.8 L41.6,116.4 L41.8,116.0 L41.9,115.8 L42.1,115.4 L42.4,115.1 L42.6,114.8 L42.9,114.7 L43.1,114.5 L43.4,114.1 L43.5,113.8 L43.6,113.5 L43.8,113.0 L43.9,112.7 L44.1,112.3 L44.3,112.0 L44.6,111.8 L44.8,111.5 L45.0,111.3 L45.2,111.0 L45.5,110.8 L45.7,110.5 L45.9,110.0 L46.0,109.8 L46.1,109.5 L46.4,109.0 L46.6,108.8 L46.8,108.5 L47.0,108.3 L47.2,108.0 L47.4,107.8 L47.7,107.5 L47.9,107.3 L48.2,107.0 L48.4,106.8 L48.7,106.5 L49.0,106.3 L49.4,106.0 L49.6,105.9 L49.9,105.7 L50.1,105.5 L50.4,105.3 L50.7,105.0 L51.0,104.8 L51.3,104.5 L51.6,104.3 L51.8,104.0 L51.7,103.5 L51.7,103.0 L51.8,102.5 L51.9,102.2 L52.4,102.1 L52.6,102.0 L53.1,101.9 L53.6,101.8 L53.9,101.7 L54.1,101.4 L54.4,101.1 L54.6,100.9 L54.9,100.7 L55.3,100.5 L55.6,100.4 L56.1,100.3 L56.2,100.0 L55.9,99.9 L55.6,99.7 L55.5,99.3 L55.4,98.8 L55.5,98.3 L55.6,97.9 L55.9,97.6 L56.4,97.6 L56.9,97.6 L57.4,97.7 L57.6,97.9 L57.8,98.3 L58.0,98.3 L58.1,98.0 L58.3,97.5 L58.4,97.2 L58.5,96.8 L58.6,96.5 L58.8,96.0 L59.0,95.8 L59.1,95.5 L59.4,95.2 L59.6,94.9 L59.9,94.6 L60.1,94.3 L60.3,94.0 L60.5,93.8 L60.6,93.4 L60.8,93.0 L60.9,92.8 L61.1,92.3 L61.3,92.0 L61.4,91.8 L61.6,91.5 L61.9,91.3 L62.1,91.0 L62.5,90.8 L62.8,90.5 L63.1,90.3 L63.4,90.0 L63.6,89.8 L63.9,89.6 L64.1,89.4 L64.5,89.3 L64.9,89.2 L65.4,89.1 L65.6,89.0 L66.1,89.0 L66.4,88.8 L66.7,88.5 L67.0,88.3 L67.3,88.0 L67.5,87.8 L67.9,87.7 L68.3,87.5 L68.6,87.3 L68.9,87.2 L69.1,87.0 L69.5,86.8 L69.9,86.5 L70.1,86.4 L70.6,86.5 L70.9,86.6 L71.1,86.8 L71.4,87.1 L71.6,87.3 L71.9,87.6 L72.0,88.0 L71.9,88.5 L71.9,88.8 L71.7,89.3 L71.6,89.5 L71.5,90.0 L71.5,90.5 L71.5,91.0 L71.4,91.5 L71.4,91.8 L71.2,92.3 L71.0,92.5 L70.7,92.8 L70.4,92.9 L70.1,93.1 L69.9,93.5 L69.8,93.8 L69.8,94.3 L69.8,94.8 L69.7,95.3 L69.6,95.8 L69.6,96.0 L69.4,96.3 L69.1,96.7 L68.9,97.0 L68.6,97.2 L68.4,97.4 L68.1,97.6 L67.9,97.9 L67.7,98.3 L67.5,98.5 L67.3,98.8 L67.0,99.0 L66.6,99.3 L66.4,99.4 L66.1,99.5 L65.9,99.8 L65.6,100.3 L65.5,100.5 L65.3,100.8 L65.1,101.0 L64.8,101.3 L64.4,101.5 L64.1,101.6 L63.6,101.7 L63.4,101.8 L62.9,102.0 L62.6,102.1 L62.5,102.5 L62.5,103.0 L62.5,103.5 L62.4,104.0 L62.4,104.3 L62.1,104.7 L61.9,104.8 L61.4,104.9 L61.0,104.8 L61.0,104.3 L60.9,103.8 L60.9,103.3 L61.0,102.8 L61.1,102.3 L61.1,102.3 L60.8,102.0 L60.4,101.9 L59.9,101.8 L59.6,102.0 L59.5,102.5 L59.4,102.9 L59.3,103.3 L59.1,103.8 L59.0,104.0 L59.1,104.4 L59.4,104.6 L59.6,104.8 L60.0,105.0 L60.4,105.1 L60.9,105.2 L60.9,105.3 L60.8,105.8 L60.8,106.3 L60.4,106.5 L60.1,106.7 L59.9,106.9 L59.6,107.0 L59.1,107.2 L58.9,107.3 L58.5,107.5 L58.1,107.7 L57.9,107.9 L57.6,108.1 L57.4,108.4 L57.4,108.6 L57.5,109.0 L57.5,109.5 L57.5,110.0 L57.4,110.5 L57.3,110.8 L57.1,111.1 L56.9,111.5 L56.8,111.8 L56.6,112.1 L56.4,112.5 L56.2,112.8 L56.0,113.0 L55.6,113.3 L55.4,113.4 L55.1,113.6 L54.9,113.8 L54.6,114.0 L54.4,114.4 L54.1,114.8 L54.0,115.0 L53.9,115.3 L53.6,115.8 L53.5,116.0 L53.4,116.3 L53.1,116.7 L52.9,116.9 L52.6,117.1 L52.4,117.3 L52.0,117.5 L51.6,117.7 L51.4,118.0 L51.1,118.2 L50.9,118.5 L50.7,118.8 L50.6,119.0 L50.4,119.5 L50.2,119.8 L50.0,120.0 L49.7,120.3 L49.5,120.5 L49.3,120.8 L49.1,121.0 L48.9,121.3 L48.6,121.6 L48.4,121.8 L48.1,122.1 L47.9,122.3 L47.6,122.5 L47.3,122.8 L47.3,123.3 L47.2,123.8 L47.1,124.0 L46.9,124.5 L46.8,124.8 L46.5,125.0 L46.1,125.3 L45.9,125.4 L45.6,125.6 L45.4,125.8 L45.1,126.1 L44.9,126.3 L44.6,126.5 L44.2,126.8 L43.9,127.0 L43.6,127.1 L43.4,127.3 L43.1,127.5 L42.9,127.8 L42.6,128.1 L42.4,128.5 L42.3,128.8 L42.1,129.2 L42.0,129.5 L41.9,129.8 L41.6,130.1 L41.4,130.4 L41.1,130.7 L40.9,131.0 L40.7,131.3 L40.5,131.5 L40.2,131.8 L39.9,132.0 L39.6,132.2 L39.4,132.4 L38.9,132.5 L38.4,132.5 L37.9,132.5 L37.4,132.4 L36.9,132.5 L36.6,132.6 L36.1,132.7 L35.9,132.8 L35.6,133.0" fill="rgba(0,0,0,0.1)" stroke="rgb(90,90,90)" stroke-width="0.6"/>
<path d="M37.4,129.0 L37.4,129.0 L37.4,129.0" fill="rgba(0,0,0,0.1)" stroke="rgb(90,90,90)" stroke-width="0.6"/>
<path d="M39.4,131.8 L38.9,131.9 L38.4,131.9 L37.9,131.8 L37.6,131.7 L37.2,131.5 L36.9,131.3 L36.7,131.0 L36.6,130.7 L36.4,130.3 L36.1,130.2 L35.6,130.0 L35.4,130.0 L34.9,129.8 L34.6,129.6 L34.4,129.3 L34.3,129.0 L34.4,128.8 L34.6,128.5 L34.9,128.2 L35.1,128.0 L35.6,127.8 L35.9,127.7 L36.2,127.5 L36.4,127.3 L36.6,126.8 L36.6,126.3 L36.6,125.8 L36.6,125.5 L36.7,125.0 L36.7,124.5 L36.9,124.1 L37.0,123.8 L37.2,123.5 L37.4,123.2 L37.7,123.0 L38.0,122.8 L38.3,122.5 L38.6,122.3 L38.9,122.0 L39.1,121.9 L39.4,121.7 L39.6,121.4 L39.9,121.0 L40.0,120.8 L40.0,120.3 L40.0,119.8 L40.1,119.3 L40.1,119.0 L40.3,118.5 L40.6,118.3 L40.8,118.0 L41.1,117.8 L41.3,117.5 L41.5,117.3 L41.7,117.0 L41.9,116.7 L42.1,116.3 L42.2,116.0 L42.4,115.8 L42.6,115.5 L42.9,115.3 L43.2,115.0 L43.6,114.8 L43.9,114.5 L43.9,114.3 L44.0,113.8 L44.1,113.5 L44.3,113.0 L44.4,112.8 L44.6,112.4 L44.9,112.1 L45.1,111.8 L45.4,111.5 L45.6,111.3 L45.8,111.0 L45.9,110.8 L46.1,110.3 L46.2,110.0 L46.4,109.7 L46.6,109.3 L46.8,109.0 L47.0,108.8 L47.3,108.5 L47.5,108.3 L47.7,108.0 L48.0,107.8 L48.2,107.5 L48.5,107.3 L48.7,107.0 L49.0,106.8 L49.3,106.5 L49.6,106.3 L49.9,106.1 L50.1,105.8 L50.4,105.6 L50.6,105.4 L50.9,105.2 L51.1,105.0 L51.5,104.8 L51.9,104.5 L52.1,104.4 L52.4,104.1 L52.4,103.8 L52.6,103.3 L52.8,103.0 L53.1,102.8 L53.4,102.8 L53.9,102.7 L54.4,102.5 L54.6,102.4 L54.9,102.2 L55.1,102.0 L55.4,101.8 L55.9,101.5 L56.1,101.4 L56.4,101.2 L56.8,101.0 L57.1,100.9 L57.4,100.8 L57.9,100.7 L58.1,100.5 L58.4,100.0 L58.4,99.8 L58.5,99.3 L58.6,98.8 L58.7,98.5 L58.8,98.0 L58.9,97.8 L59.0,97.3 L59.1,96.9 L59.3,96.5 L59.4,96.3 L59.6,95.8 L59.8,95.5 L60.1,95.3 L60.4,95.1 L60.6,94.8 L60.7,94.5 L60.9,94.1 L61.0,93.8 L61.1,93.5 L61.3,93.0 L61.4,92.8 L61.6,92.3 L61.8,92.0 L61.9,91.8 L62.2,91.5 L62.6,91.3 L62.9,91.1 L63.1,90.9 L63.4,90.7 L63.6,90.4 L63.9,90.2 L64.1,90.0 L64.6,89.9 L65.1,89.9 L65.6,89.9 L66.1,90.0 L66.6,90.0 L67.1,90.0 L67.4,90.0 L67.8,90.3 L68.0,90.5 L68.1,91.0 L68.3,91.3 L68.2,91.8 L68.5,91.8 L68.4,91.3 L68.4,90.8 L68.5,90.3 L68.6,89.8 L68.5,89.3 L68.5,88.8 L68.6,88.3 L68.7,88.0 L68.9,87.7 L69.2,87.5 L69.6,87.3 L69.9,87.2 L70.2,87.0 L70.4,87.0 L70.7,87.3 L71.0,87.5 L71.3,87.8 L71.3,88.3 L71.2,88.8 L71.1,89.2 L71.0,89.5 L71.0,90.0 L71.0,90.5 L70.9,91.0 L70.9,91.3 L70.8,91.8 L70.6,92.0 L70.4,92.3 L70.0,92.5 L69.8,92.8 L69.6,93.3 L69.6,93.5 L69.5,94.0 L69.5,94.5 L69.4,95.0 L69.3,95.3 L69.1,95.7 L68.9,96.0 L68.7,96.3 L68.5,96.5 L68.3,96.8 L68.1,97.0 L67.8,97.3 L67.6,97.5 L67.4,97.9 L67.1,98.2 L66.9,98.5 L66.6,98.7 L66.4,98.8 L66.1,99.0 L65.8,99.3 L65.6,99.5 L65.4,100.0 L65.2,100.3 L65.0,100.5 L64.8,100.8 L64.5,101.0 L64.1,101.2 L63.8,101.3 L63.4,101.3 L62.9,101.4 L62.4,101.4 L61.9,101.4 L61.4,101.4 L60.9,101.3 L60.6,101.2 L60.1,101.1 L59.6,101.2 L59.4,101.3 L59.1,101.5 L58.9,101.8 L58.7,102.3 L58.6,102.7 L58.5,103.0 L58.4,103.4 L58.2,103.8 L58.1,104.0 L58.1,104.5 L58.4,104.8 L58.6,105.0 L58.8,105.3 L59.1,105.5 L59.4,105.8 L59.6,106.0 L59.8,106.3 L59.4,106.5 L59.1,106.5 L58.6,106.7 L58.4,106.8 L57.9,107.0 L57.6,107.3 L57.4,107.5 L57.1,107.7 L56.9,107.9 L56.6,108.1 L56.5,108.5 L56.6,108.8 L56.8,109.3 L56.9,109.8 L56.9,110.0 L56.9,110.3 L56.7,110.8 L56.6,111.0 L56.4,111.5 L56.3,111.8 L56.1,112.0 L55.9,112.5 L55.6,112.6 L55.1,112.7 L54.9,112.8 L54.4,113.0 L54.1,113.2 L53.9,113.5 L53.8,113.8 L53.7,114.3 L53.6,114.5 L53.4,115.0 L53.3,115.3 L53.1,115.6 L52.9,116.0 L52.8,116.3 L52.6,116.6 L52.4,116.8 L52.1,117.0 L51.7,117.3 L51.4,117.5 L51.1,117.7 L50.9,118.0 L50.6,118.3 L50.4,118.5 L50.3,118.8 L50.1,119.1 L49.9,119.5 L49.6,119.8 L49.4,120.0 L49.2,120.3 L49.0,120.5 L48.8,120.8 L48.6,121.0 L48.4,121.3 L48.1,121.5 L47.9,121.8 L47.6,122.0 L47.3,122.3 L46.9,122.5 L46.6,122.8 L46.6,123.0 L46.5,123.5 L46.4,123.9 L46.2,124.3 L46.1,124.5 L45.9,124.9 L45.6,125.0 L45.4,125.3 L45.1,125.6 L44.9,125.8 L44.6,126.1 L44.3,126.3 L43.9,126.5 L43.6,126.7 L43.4,126.8 L42.9,127.0 L42.6,127.3 L42.4,127.5 L42.3,127.8 L42.1,128.1 L42.0,128.5 L41.9,128.8 L41.7,129.3 L41.5,129.5 L41.3,129.8 L41.0,130.0 L40.8,130.3 L40.6,130.5 L40.4,130.9 L40.1,131.2 L39.9,131.4 L39.6,131.6 L39.4,131.8" fill="rgba(0,0,0,0.1)" stroke="rgb(81,81,81)" stroke-width="0.6"/>
<path d="M62.3,96.0 L62.1,95.7 L61.8,95.8 L61.6,96.0 L61.9,96.1 L62.3,96.0" fill="rgba(0,0,0,0.1)" stroke="rgb(81,81,81)" stroke-width="0.6"/>
<path d="M56.5,104.3 L56.4,104.0 L55.9,103.8 L55.9,103.8 L55.8,104.3 L56.1,104.3 L56.5,104.3" fill="rgba(0,0,0,0.1)" stroke="rgb(81,81,81)" stroke-width="0.6"/>
<path d="M37.5,129.8 L37.6,129.5 L37.9,129.1 L37.9,128.8 L37.7,128.5 L37.6,128.3 L37.4,127.9 L37.1,128.0 L36.9,128.3 L36.7,128.8 L36.7,129.3 L36.9,129.6 L37.1,129.9 L37.5,129.8" fill="rgba(0,0,0,0.1)" stroke="rgb(81,81,81)" stroke-width="0.6"/>
<path d="M70.1,91.3 L69.9,91.2 L69.7,90.8 L69.7,90.3 L69.8,89.8 L69.6,89.4 L69.5,89.0 L69.6,88.5 L69.7,88.3 L69.9,87.8 L70.1,87.7 L70.5,87.8 L70.6,88.3 L70.6,88.8 L70.5,89.3 L70.4,89.8 L70.4,90.3 L70.4,90.8 L70.3,91.0 L70.1,91.3" fill="rgba(0,0,0,0.1)" stroke="rgb(73,73,73)" stroke-width="0.6"/>
<path d="M64.1,100.9 L63.6,100.9 L63.1,100.9 L62.6,100.8 L62.4,100.7 L61.9,100.6 L61.4,100.6 L60.9,100.6 L60.5,100.5 L60.1,100.5 L59.6,100.3 L59.4,100.0 L59.3,99.8 L59.3,99.3 L59.4,98.8 L59.4,98.5 L59.5,98.0 L59.6,97.5 L59.7,97.3 L59.8,96.8 L59.9,96.5 L60.1,96.3 L60.4,96.3 L60.9,96.3 L61.4,96.4 L61.9,96.5 L62.4,96.3 L62.6,96.1 L62.6,95.9 L62.4,95.5 L62.3,95.3 L61.9,95.0 L61.6,94.8 L61.5,94.5 L61.4,94.0 L61.6,93.5 L61.7,93.3 L61.9,92.8 L62.0,92.5 L62.2,92.3 L62.4,92.0 L62.7,91.8 L63.0,91.5 L63.4,91.3 L63.6,91.1 L63.9,90.9 L64.1,90.7 L64.6,90.5 L64.9,90.5 L65.4,90.4 L65.9,90.4 L66.4,90.5 L66.6,90.5 L67.1,90.7 L67.4,91.0 L67.6,91.3 L67.7,91.5 L67.9,92.0 L68.1,92.2 L68.4,92.3 L68.9,92.4 L69.1,92.6 L69.2,93.0 L69.3,93.5 L69.2,94.0 L69.2,94.5 L69.1,94.8 L68.9,95.3 L68.8,95.5 L68.6,95.8 L68.3,96.0 L68.1,96.3 L67.9,96.6 L67.6,96.9 L67.4,97.2 L67.1,97.5 L66.9,97.8 L66.7,98.0 L66.5,98.3 L66.1,98.5 L65.9,98.7 L65.6,98.9 L65.4,99.2 L65.2,99.5 L65.1,99.8 L64.9,100.2 L64.6,100.5 L64.4,100.7 L64.1,100.9" fill="rgba(0,0,0,0.1)" stroke="rgb(73,73,73)" stroke-width="0.6"/>
<path d="M57.9,102.3 L57.6,102.3 L57.9,102.2 L57.9,102.3" fill="rgba(0,0,0,0.1)" stroke="rgb(73,73,73)" stroke-width="0.6"/>
<path d="M39.6,131.1 L39.1,131.3 L38.6,131.2 L38.1,131.1 L37.8,131.0 L37.9,130.6 L38.0,130.3 L38.1,130.0 L38.3,129.5 L38.4,129.3 L38.4,128.8 L38.3,128.5 L38.1,128.3 L37.9,127.9 L37.7,127.5 L37.6,127.3 L37.4,126.9 L37.1,126.5 L37.0,126.3 L36.9,125.8 L36.9,125.3 L36.9,124.8 L37.1,124.3 L37.2,124.0 L37.4,123.8 L37.9,123.6 L38.1,123.5 L38.5,123.3 L38.7,123.0 L38.9,122.7 L39.1,122.5 L39.4,122.3 L39.7,122.0 L39.9,121.8 L40.1,121.4 L40.3,121.0 L40.4,120.6 L40.4,120.3 L40.4,119.8 L40.5,119.3 L40.6,118.9 L40.8,118.5 L41.0,118.3 L41.3,118.0 L41.5,117.8 L41.7,117.5 L41.9,117.3 L42.1,117.0 L42.4,116.6 L42.5,116.3 L42.7,116.0 L42.9,115.8 L43.2,115.5 L43.5,115.3 L43.8,115.0 L44.0,114.8 L44.3,114.5 L44.4,114.2 L44.5,113.8 L44.6,113.4 L44.8,113.0 L44.9,112.8 L45.1,112.4 L45.4,112.1 L45.6,111.9 L45.8,111.5 L46.0,111.3 L46.1,110.9 L46.3,110.5 L46.4,110.3 L46.6,109.8 L46.8,109.5 L47.0,109.3 L47.2,109.0 L47.4,108.8 L47.7,108.5 L48.0,108.3 L48.2,108.0 L48.4,107.8 L48.7,107.5 L49.0,107.3 L49.3,107.0 L49.6,106.8 L49.8,106.5 L50.0,106.3 L50.3,106.0 L50.6,105.8 L50.9,105.5 L51.1,105.3 L51.4,105.1 L51.6,105.0 L52.0,104.8 L52.4,104.6 L52.6,104.4 L52.9,104.3 L53.1,103.9 L53.4,103.6 L53.6,103.4 L54.1,103.4 L54.6,103.5 L54.9,103.7 L55.0,104.0 L55.1,104.3 L55.4,104.5 L55.8,104.8 L56.1,104.9 L56.6,104.9 L56.9,105.0 L57.4,105.3 L57.6,105.5 L57.7,105.8 L57.8,106.3 L57.6,106.5 L57.4,106.8 L57.1,107.0 L56.8,107.3 L56.5,107.5 L56.2,107.8 L55.9,108.0 L55.7,108.3 L55.9,108.8 L56.0,109.0 L56.2,109.3 L56.3,109.8 L56.4,110.2 L56.4,110.3 L56.2,110.8 L56.1,111.0 L55.9,111.5 L55.6,111.7 L55.4,111.8 L54.9,111.9 L54.4,111.8 L54.1,111.8 L53.8,111.8 L53.6,112.0 L53.3,112.3 L53.0,112.5 L53.1,113.0 L53.2,113.3 L53.2,113.8 L53.1,114.1 L53.1,114.5 L52.9,115.0 L52.7,115.3 L52.6,115.6 L52.4,116.0 L52.3,116.3 L52.1,116.6 L51.9,116.8 L51.5,117.0 L51.2,117.3 L50.9,117.5 L50.6,117.8 L50.4,118.0 L50.2,118.3 L50.1,118.5 L49.9,118.8 L49.6,119.2 L49.4,119.4 L49.1,119.7 L48.9,120.0 L48.7,120.3 L48.5,120.5 L48.4,120.8 L48.1,121.0 L47.9,121.3 L47.6,121.5 L47.3,121.8 L47.0,122.0 L46.6,122.3 L46.4,122.4 L46.1,122.6 L45.9,122.8 L45.8,123.3 L45.7,123.8 L45.6,124.0 L45.5,124.5 L45.4,124.8 L45.1,125.2 L44.9,125.4 L44.6,125.7 L44.4,125.9 L44.1,126.1 L43.8,126.3 L43.4,126.5 L43.1,126.5 L42.6,126.7 L42.3,126.8 L41.9,127.0 L41.8,127.3 L41.7,127.8 L41.6,128.1 L41.5,128.5 L41.4,129.0 L41.1,129.2 L40.9,129.4 L40.6,129.6 L40.4,129.9 L40.1,130.3 L40.0,130.5 L39.8,130.8 L39.6,131.1" fill="rgba(0,0,0,0.1)" stroke="rgb(73,73,73)" stroke-width="0.6"/>
<path d="M39.7,125.0 L39.9,124.8 L39.8,124.5 L39.6,124.2 L39.4,123.9 L39.1,124.3 L39.0,124.5 L39.1,125.0 L39.4,125.2 L39.7,125.0" fill="rgba(0,0,0,0.1)" stroke="rgb(73,73,73)" stroke-width="0.6"/>
<path d="M35.4,129.3 L35.1,129.2 L35.1,128.8 L35.4,128.6 L35.8,128.8 L35.6,129.2 L35.4,129.3" fill="rgba(0,0,0,0.1)" stroke="rgb(73,73,73)" stroke-width="0.6"/>
<path d="M64.1,100.6 L63.6,100.5 L63.4,100.5 L62.9,100.4 L62.6,100.2 L62.3,100.0 L61.9,99.8 L61.4,99.8 L61.1,99.8 L60.6,99.6 L60.4,99.4 L60.2,99.0 L60.1,98.5 L60.1,98.3 L60.1,98.0 L60.3,97.5 L60.5,97.3 L60.8,97.0 L61.1,96.9 L61.6,96.9 L62.1,96.8 L62.4,96.7 L62.6,96.5 L62.9,96.3 L63.0,95.8 L62.9,95.3 L62.8,95.0 L62.6,94.7 L62.4,94.4 L62.1,94.3 L62.0,93.8 L62.1,93.5 L62.4,93.3 L62.7,93.0 L62.9,92.8 L63.1,92.4 L63.3,92.0 L63.5,91.8 L63.9,91.5 L64.1,91.4 L64.4,91.2 L64.9,91.0 L65.1,91.0 L65.6,90.9 L66.1,90.9 L66.5,91.0 L66.9,91.2 L67.1,91.5 L67.3,91.8 L67.5,92.0 L67.7,92.3 L68.1,92.5 L68.4,92.7 L68.6,92.8 L68.9,93.2 L69.0,93.5 L69.0,94.0 L68.9,94.5 L68.8,94.8 L68.6,95.1 L68.4,95.5 L68.1,95.7 L67.9,95.9 L67.6,96.2 L67.4,96.5 L67.1,96.8 L66.9,97.0 L66.7,97.3 L66.6,97.5 L66.4,97.8 L66.1,98.1 L65.7,98.3 L65.4,98.5 L65.1,98.8 L65.0,99.0 L64.9,99.3 L64.7,99.8 L64.6,100.1 L64.4,100.4 L64.1,100.6" fill="rgba(0,0,0,0.1)" stroke="rgb(65,65,65)" stroke-width="0.6"/>
<path d="M64.3,94.0 L64.2,93.5 L63.9,93.5 L63.6,93.7 L63.5,94.0 L63.9,94.2 L64.3,94.0" fill="rgba(0,0,0,0.1)" stroke="rgb(65,65,65)" stroke-width="0.6"/>
<path d="M39.4,130.1 L39.2,129.8 L39.2,129.3 L39.1,128.9 L38.9,128.6 L38.6,128.3 L38.5,128.0 L38.3,127.8 L38.1,127.4 L38.0,127.0 L37.9,126.8 L37.6,126.4 L37.4,126.1 L37.2,125.8 L37.1,125.3 L37.1,125.0 L37.1,124.8 L37.4,124.3 L37.6,124.2 L38.0,124.3 L38.4,124.5 L38.5,124.8 L38.6,125.0 L38.9,125.3 L39.2,125.5 L39.6,125.5 L39.9,125.4 L40.1,125.2 L40.4,124.8 L40.4,124.8 L40.3,124.3 L40.2,123.8 L40.1,123.5 L40.0,123.0 L39.8,122.8 L40.1,122.6 L40.4,122.4 L40.5,122.0 L40.6,121.5 L40.6,121.3 L40.7,120.8 L40.7,120.3 L40.8,119.8 L40.9,119.5 L41.0,119.0 L41.1,118.7 L41.4,118.4 L41.6,118.1 L41.9,117.9 L42.1,117.6 L42.3,117.3 L42.5,117.0 L42.6,116.8 L42.9,116.3 L43.1,116.0 L43.4,115.8 L43.6,115.6 L43.9,115.3 L44.1,115.1 L44.4,114.8 L44.6,114.6 L44.8,114.3 L44.9,113.9 L45.0,113.5 L45.1,113.3 L45.4,112.8 L45.6,112.5 L45.8,112.3 L46.0,112.0 L46.1,111.7 L46.3,111.3 L46.4,111.0 L46.5,110.5 L46.6,110.3 L46.9,109.9 L47.1,109.5 L47.3,109.3 L47.6,109.0 L47.8,108.8 L48.1,108.5 L48.4,108.3 L48.6,108.0 L48.9,107.8 L49.1,107.6 L49.4,107.4 L49.6,107.2 L49.9,106.9 L50.1,106.6 L50.4,106.3 L50.6,106.0 L50.9,105.8 L51.1,105.6 L51.4,105.4 L51.6,105.3 L52.1,105.0 L52.4,104.9 L52.7,104.8 L53.1,104.5 L53.4,104.4 L53.6,104.1 L53.9,104.0 L54.1,104.1 L54.4,104.3 L54.7,104.5 L55.1,104.8 L55.4,105.0 L55.6,105.2 L55.9,105.4 L56.4,105.5 L56.6,105.7 L56.9,105.9 L57.1,106.3 L56.9,106.5 L56.6,106.8 L56.3,107.0 L56.0,107.3 L55.8,107.5 L55.6,107.8 L55.4,108.1 L55.3,108.5 L55.4,108.8 L55.5,109.3 L55.6,109.6 L55.9,110.0 L55.9,110.3 L55.9,110.6 L55.4,110.8 L55.1,110.9 L54.6,110.9 L54.1,110.8 L53.9,110.6 L53.7,111.0 L53.6,111.3 L53.4,111.6 L53.1,111.9 L52.9,112.1 L52.5,112.3 L52.1,112.5 L52.1,112.7 L52.3,113.0 L52.4,113.3 L52.5,113.8 L52.5,114.3 L52.4,114.8 L52.3,115.0 L52.1,115.5 L52.0,115.8 L51.9,116.2 L51.7,116.5 L51.4,116.8 L51.1,116.9 L50.9,117.1 L50.6,117.3 L50.4,117.6 L50.1,117.9 L49.9,118.3 L49.7,118.5 L49.4,118.8 L49.1,119.0 L48.9,119.3 L48.7,119.5 L48.5,119.8 L48.3,120.0 L48.1,120.5 L48.0,120.8 L47.7,121.0 L47.4,121.3 L47.1,121.5 L46.9,121.6 L46.6,121.8 L46.3,122.0 L45.9,122.3 L45.6,122.4 L45.4,122.6 L45.2,123.0 L45.2,123.5 L45.2,124.0 L45.1,124.5 L45.1,124.8 L44.9,125.1 L44.6,125.3 L44.4,125.5 L44.1,125.8 L43.7,126.0 L43.4,126.2 L42.9,126.3 L42.6,126.3 L42.1,126.4 L41.6,126.4 L41.4,126.5 L41.2,127.0 L41.1,127.4 L41.0,127.8 L40.9,128.2 L40.7,128.5 L40.4,128.8 L40.1,129.0 L39.9,129.2 L39.7,129.5 L39.5,129.8 L39.4,130.1" fill="rgba(0,0,0,0.1)" stroke="rgb(65,65,65)" stroke-width="0.6"/>
<path d="M41.5,122.8 L41.2,122.8 L41.5,122.8" fill="rgba(0,0,0,0.1)" stroke="rgb(65,65,65)" stroke-width="0.6"/>
<path d="M64.1,100.3 L63.6,100.2 L63.2,100.0 L62.9,99.8 L62.6,99.6 L62.4,99.4 L62.0,99.3 L61.6,99.2 L61.3,99.0 L61.0,98.8 L60.8,98.5 L60.7,98.0 L60.9,97.8 L61.1,97.5 L61.6,97.3 L61.9,97.2 L62.4,97.1 L62.6,97.0 L63.0,96.8 L63.2,96.5 L63.4,96.2 L63.5,95.8 L63.6,95.3 L63.8,95.0 L64.1,94.9 L64.4,94.6 L64.6,94.3 L64.7,94.0 L64.7,93.5 L64.6,93.3 L64.5,92.8 L64.4,92.3 L64.6,91.8 L64.9,91.6 L65.1,91.5 L65.6,91.4 L66.1,91.3 L66.5,91.5 L66.8,91.8 L67.0,92.0 L67.2,92.3 L67.6,92.5 L67.9,92.7 L68.1,92.9 L68.4,93.1 L68.6,93.4 L68.7,93.8 L68.7,94.3 L68.6,94.5 L68.4,94.9 L68.1,95.2 L67.9,95.4 L67.6,95.6 L67.4,95.8 L67.1,96.0 L66.9,96.3 L66.6,96.7 L66.4,97.0 L66.2,97.3 L65.9,97.5 L65.6,97.6 L65.2,97.8 L64.9,97.9 L64.4,98.0 L64.1,98.0 L64.4,98.2 L64.5,98.5 L64.4,99.0 L64.4,99.5 L64.3,99.8 L64.1,100.3" fill="rgba(0,0,0,0.1)" stroke="rgb(57,57,57)" stroke-width="0.6"/>
<path d="M43.6,125.8 L43.1,125.9 L42.6,125.9 L42.1,125.9 L41.7,125.8 L41.4,125.7 L40.9,125.5 L40.9,125.2 L40.9,125.0 L40.9,124.5 L41.1,124.0 L41.3,123.8 L41.5,123.5 L41.7,123.3 L41.9,123.0 L42.2,122.8 L41.9,122.5 L41.7,122.3 L41.5,122.0 L41.3,121.8 L41.1,121.5 L41.1,121.0 L41.1,120.5 L41.1,120.1 L41.2,119.8 L41.3,119.3 L41.4,119.0 L41.6,118.7 L41.9,118.4 L42.1,118.2 L42.4,117.9 L42.6,117.5 L42.8,117.3 L42.9,117.0 L43.1,116.5 L43.3,116.3 L43.5,116.0 L43.8,115.8 L44.1,115.5 L44.3,115.3 L44.6,115.0 L44.8,114.8 L45.1,114.5 L45.2,114.3 L45.4,113.8 L45.5,113.5 L45.6,113.2 L45.9,112.9 L46.1,112.5 L46.3,112.3 L46.4,112.0 L46.5,111.5 L46.6,111.2 L46.7,110.8 L46.9,110.3 L47.0,110.0 L47.2,109.8 L47.4,109.5 L47.6,109.3 L48.0,109.0 L48.3,108.8 L48.5,108.5 L48.8,108.3 L49.1,108.0 L49.3,107.8 L49.6,107.5 L49.9,107.3 L50.1,107.1 L50.4,106.8 L50.5,106.5 L50.7,106.3 L51.0,106.0 L51.3,105.8 L51.6,105.5 L51.9,105.4 L52.2,105.3 L52.6,105.1 L52.9,105.0 L53.4,104.8 L53.6,104.7 L54.1,104.7 L54.4,104.9 L54.6,105.0 L55.0,105.3 L55.4,105.5 L55.6,105.7 L55.9,105.9 L56.1,106.0 L56.4,106.3 L56.1,106.5 L55.9,106.8 L55.6,107.0 L55.5,107.3 L55.3,107.5 L55.1,107.8 L54.9,108.3 L54.9,108.8 L54.9,109.0 L54.7,109.5 L54.5,109.8 L54.1,109.9 L53.8,110.0 L53.6,110.3 L53.5,110.8 L53.3,111.0 L53.1,111.4 L52.9,111.6 L52.6,111.8 L52.3,112.0 L51.9,112.2 L51.5,112.3 L51.1,112.4 L50.7,112.5 L51.1,112.7 L51.4,112.9 L51.6,113.3 L51.8,113.5 L51.9,113.8 L52.0,114.3 L51.9,114.8 L51.8,115.0 L51.6,115.5 L51.5,115.8 L51.4,116.1 L51.1,116.5 L50.9,116.7 L50.6,116.9 L50.4,117.1 L50.1,117.4 L49.9,117.7 L49.6,118.0 L49.4,118.2 L49.1,118.4 L48.9,118.6 L48.6,118.8 L48.4,119.0 L48.1,119.4 L47.9,119.8 L47.8,120.0 L47.7,120.5 L47.5,120.8 L47.1,121.0 L46.9,121.2 L46.6,121.4 L46.4,121.5 L46.0,121.8 L45.6,122.0 L45.4,122.2 L45.1,122.4 L44.9,122.6 L44.7,123.0 L44.8,123.5 L44.8,124.0 L44.8,124.5 L44.6,125.0 L44.4,125.2 L44.1,125.4 L43.9,125.6 L43.6,125.8" fill="rgba(0,0,0,0.1)" stroke="rgb(57,57,57)" stroke-width="0.6"/>
<path d="M37.6,125.0 L37.3,125.0 L37.4,124.7 L37.6,124.8 L37.6,125.0" fill="rgba(0,0,0,0.1)" stroke="rgb(57,57,57)" stroke-width="0.6"/>
<path d="M39.6,128.3 L39.3,128.3 L39.1,128.0 L38.9,127.8 L38.6,127.4 L38.5,127.0 L38.4,126.5 L38.6,126.2 L39.1,126.0 L39.4,126.0 L39.9,126.0 L40.4,126.0 L40.6,126.2 L40.6,126.5 L40.6,126.9 L40.5,127.3 L40.4,127.6 L40.1,127.9 L39.9,128.2 L39.6,128.3" fill="rgba(0,0,0,0.1)" stroke="rgb(57,57,57)" stroke-width="0.6"/>
<path d="M65.4,96.8 L64.9,97.0 L64.4,97.0 L63.9,96.8 L63.9,96.4 L63.9,96.0 L64.0,95.8 L64.1,95.5 L64.4,95.3 L64.6,95.0 L64.9,94.7 L65.1,94.3 L65.2,94.0 L65.1,93.5 L65.1,93.3 L65.1,92.8 L65.2,92.5 L65.4,92.0 L65.6,91.9 L66.0,91.8 L66.2,91.8 L66.5,92.0 L66.7,92.3 L66.9,92.5 L67.3,92.8 L67.6,93.0 L67.9,93.1 L68.1,93.3 L68.4,93.5 L68.5,94.0 L68.4,94.4 L68.1,94.7 L67.9,94.9 L67.6,95.1 L67.3,95.3 L67.0,95.5 L66.7,95.8 L66.5,96.0 L66.3,96.3 L66.0,96.5 L65.6,96.7 L65.4,96.8" fill="rgba(0,0,0,0.1)" stroke="rgb(49,49,49)" stroke-width="0.6"/>
<path d="M63.1,98.6 L62.6,98.8 L62.1,98.8 L61.7,98.5 L61.4,98.3 L61.3,98.0 L61.6,97.8 L61.9,97.6 L62.4,97.5 L62.9,97.6 L63.3,97.8 L63.3,98.3 L63.1,98.6" fill="rgba(0,0,0,0.1)" stroke="rgb(49,49,49)" stroke-width="0.6"/>
<path d="M43.6,125.5 L43.1,125.6 L42.6,125.6 L42.3,125.5 L41.9,125.3 L41.6,125.1 L41.4,124.8 L41.6,124.3 L41.7,124.0 L41.9,123.8 L42.1,123.4 L42.4,123.2 L42.6,123.0 L42.9,122.8 L42.6,122.6 L42.4,122.4 L42.1,122.2 L41.9,121.9 L41.6,121.5 L41.5,121.3 L41.4,120.8 L41.4,120.5 L41.4,120.3 L41.5,119.8 L41.6,119.5 L41.9,119.1 L42.1,118.8 L42.4,118.6 L42.6,118.3 L42.8,118.0 L43.0,117.8 L43.1,117.4 L43.2,117.0 L43.4,116.6 L43.6,116.3 L43.9,116.1 L44.1,115.9 L44.4,115.6 L44.6,115.4 L44.9,115.1 L45.1,114.9 L45.4,114.6 L45.6,114.3 L45.7,114.0 L45.9,113.7 L46.1,113.3 L46.3,113.0 L46.5,112.8 L46.7,112.5 L46.8,112.0 L46.9,111.6 L46.9,111.3 L47.0,110.8 L47.1,110.3 L47.3,110.0 L47.5,109.8 L47.7,109.5 L48.1,109.3 L48.4,109.0 L48.6,108.8 L48.9,108.6 L49.1,108.4 L49.4,108.1 L49.6,107.9 L49.9,107.7 L50.2,107.5 L50.4,107.3 L50.6,107.0 L50.9,106.5 L51.0,106.3 L51.3,106.0 L51.6,105.8 L51.9,105.6 L52.4,105.5 L52.6,105.5 L53.1,105.4 L53.5,105.3 L53.9,105.2 L54.1,105.3 L54.5,105.5 L54.9,105.8 L55.1,105.9 L55.4,106.1 L55.4,106.5 L55.2,106.8 L55.1,107.0 L54.9,107.4 L54.7,107.8 L54.6,108.0 L54.5,108.5 L54.4,108.8 L54.1,109.2 L53.9,109.4 L53.6,109.7 L53.5,110.0 L53.4,110.3 L53.2,110.8 L53.0,111.0 L52.8,111.3 L52.6,111.5 L52.2,111.8 L51.9,111.9 L51.5,112.0 L51.1,112.1 L50.6,112.2 L50.1,112.2 L49.6,112.3 L49.4,112.5 L49.4,112.6 L49.7,112.8 L50.1,112.9 L50.5,113.0 L50.9,113.3 L51.1,113.5 L51.2,113.8 L51.4,114.1 L51.5,114.5 L51.4,114.8 L51.2,115.3 L51.1,115.5 L50.9,116.0 L50.7,116.3 L50.6,116.5 L50.3,116.8 L50.0,117.0 L49.8,117.3 L49.6,117.5 L49.3,117.8 L49.0,118.0 L48.6,118.3 L48.4,118.4 L47.9,118.5 L47.6,118.6 L47.5,119.0 L47.5,119.5 L47.4,119.9 L47.2,120.3 L47.1,120.5 L46.9,120.8 L46.5,121.0 L46.1,121.3 L45.9,121.4 L45.6,121.5 L45.4,121.8 L45.1,122.0 L44.8,122.3 L44.4,122.5 L44.1,122.7 L44.1,122.9 L44.3,123.3 L44.4,123.5 L44.5,124.0 L44.5,124.5 L44.4,124.9 L44.1,125.2 L43.9,125.4 L43.6,125.5" fill="rgba(0,0,0,0.1)" stroke="rgb(49,49,49)" stroke-width="0.6"/>
<path d="M39.4,127.6 L39.1,127.3 L39.0,127.0 L39.1,126.6 L39.4,126.5 L39.6,126.5 L40.0,126.8 L39.9,127.2 L39.6,127.5 L39.4,127.6" fill="rgba(0,0,0,0.1)" stroke="rgb(49,49,49)" stroke-width="0.6"/>
<path d="M66.4,95.3 L65.9,95.4 L65.6,95.3 L65.6,94.8 L65.6,94.3 L65.7,94.0 L65.7,93.5 L65.8,93.0 L65.9,92.8 L66.4,92.7 L66.6,92.9 L66.9,93.1 L67.2,93.3 L67.6,93.5 L67.9,93.6 L68.2,93.8 L68.1,94.2 L67.9,94.4 L67.6,94.5 L67.1,94.8 L66.9,94.9 L66.6,95.1 L66.4,95.3" fill="rgba(0,0,0,0.1)" stroke="rgb(40,40,40)" stroke-width="0.6"/>
<path d="M62.1,98.1 L62.1,98.0 L62.1,98.1" fill="rgba(0,0,0,0.1)" stroke="rgb(40,40,40)" stroke-width="0.6"/>
<path d="M43.6,122.6 L43.3,122.5 L42.9,122.3 L42.6,122.2 L42.4,122.0 L42.1,121.7 L41.9,121.3 L41.8,121.0 L41.7,120.5 L41.8,120.0 L41.9,119.8 L42.1,119.5 L42.4,119.2 L42.6,119.0 L43.0,118.8 L43.4,118.6 L43.5,118.3 L43.5,117.8 L43.6,117.3 L43.6,117.0 L43.8,116.5 L44.1,116.3 L44.4,116.0 L44.6,115.8 L44.9,115.5 L45.1,115.3 L45.4,115.0 L45.6,114.8 L45.9,114.6 L46.1,114.3 L46.2,114.0 L46.4,113.7 L46.6,113.4 L46.9,113.1 L47.1,112.8 L47.4,112.6 L47.4,112.3 L47.3,112.0 L47.2,111.5 L47.2,111.0 L47.2,110.5 L47.4,110.2 L47.6,109.9 L47.9,109.7 L48.2,109.5 L48.5,109.3 L48.8,109.0 L49.1,108.8 L49.4,108.5 L49.6,108.3 L49.9,108.1 L50.1,108.0 L50.6,107.8 L50.8,107.5 L51.0,107.3 L51.1,106.9 L51.2,106.5 L51.4,106.2 L51.6,106.0 L52.1,105.9 L52.6,105.8 L52.9,105.8 L53.4,105.8 L53.6,105.8 L54.1,106.0 L54.4,106.1 L54.7,106.3 L54.6,106.5 L54.5,107.0 L54.4,107.3 L54.3,107.8 L54.2,108.3 L54.1,108.5 L53.9,108.8 L53.6,109.0 L53.4,109.4 L53.2,109.8 L53.1,110.2 L53.0,110.5 L52.9,110.8 L52.6,111.1 L52.4,111.3 L52.1,111.5 L51.6,111.8 L51.4,111.8 L50.9,111.9 L50.4,111.9 L49.9,111.9 L49.5,112.0 L49.1,112.2 L48.8,112.3 L48.4,112.5 L48.4,112.6 L48.8,112.8 L49.1,112.9 L49.4,113.1 L49.7,113.3 L50.1,113.5 L50.4,113.6 L50.6,113.9 L50.8,114.3 L50.9,114.5 L50.9,114.8 L50.7,115.3 L50.6,115.5 L50.4,115.9 L50.1,116.3 L49.9,116.5 L49.7,116.8 L49.5,117.0 L49.3,117.3 L49.0,117.5 L48.7,117.8 L48.4,118.0 L48.1,118.1 L47.6,118.2 L47.4,118.4 L47.1,118.7 L47.0,119.0 L46.9,119.5 L46.9,119.8 L46.7,120.3 L46.5,120.5 L46.3,120.8 L45.9,121.0 L45.6,121.1 L45.4,121.4 L45.1,121.6 L44.9,121.8 L44.6,122.0 L44.2,122.3 L43.9,122.5 L43.6,122.6" fill="rgba(0,0,0,0.1)" stroke="rgb(40,40,40)" stroke-width="0.6"/>
<path d="M43.6,125.3 L43.1,125.3 L42.7,125.3 L42.4,125.2 L42.1,125.0 L42.0,124.5 L42.1,124.2 L42.4,123.8 L42.6,123.5 L42.9,123.3 L43.1,123.2 L43.6,123.1 L43.9,123.3 L44.1,123.8 L44.1,124.0 L44.2,124.5 L44.1,124.9 L43.9,125.1 L43.6,125.3" fill="rgba(0,0,0,0.1)" stroke="rgb(40,40,40)" stroke-width="0.6"/>
<path d="M53.1,108.3 L52.9,108.3 L52.4,108.1 L52.1,107.9 L51.9,107.8 L51.6,107.5 L51.5,107.0 L51.6,106.5 L51.6,106.3 L52.1,106.1 L52.6,106.1 L53.1,106.2 L53.5,106.3 L53.6,106.7 L53.7,107.0 L53.7,107.5 L53.6,108.0 L53.4,108.3 L53.1,108.3" fill="rgba(0,0,0,0.1)" stroke="rgb(32,32,32)" stroke-width="0.6"/>
<path d="M49.1,111.8 L48.6,111.9 L48.1,111.9 L47.6,111.8 L47.5,111.5 L47.5,111.0 L47.5,110.5 L47.6,110.2 L47.9,110.0 L48.3,109.8 L48.6,109.6 L48.9,109.4 L49.1,109.2 L49.4,109.0 L49.6,108.7 L50.0,108.5 L50.4,108.4 L50.9,108.4 L51.4,108.5 L51.6,108.6 L52.1,108.6 L52.4,108.5 L52.9,108.5 L52.9,108.8 L52.9,109.3 L52.9,109.8 L52.9,110.0 L52.7,110.5 L52.6,110.8 L52.4,111.0 L52.1,111.3 L51.6,111.5 L51.4,111.6 L50.9,111.6 L50.4,111.7 L49.9,111.6 L49.4,111.7 L49.1,111.8" fill="rgba(0,0,0,0.1)" stroke="rgb(32,32,32)" stroke-width="0.6"/>
<path d="M43.9,122.1 L43.4,122.2 L42.9,122.0 L42.6,121.8 L42.4,121.5 L42.2,121.3 L42.1,121.0 L42.0,120.5 L42.1,120.2 L42.3,119.8 L42.5,119.5 L42.8,119.3 L43.1,119.1 L43.4,119.0 L43.9,118.8 L44.1,118.5 L44.0,118.0 L44.0,117.5 L44.1,117.0 L44.1,116.7 L44.4,116.4 L44.6,116.2 L44.9,115.9 L45.1,115.7 L45.4,115.5 L45.6,115.2 L45.9,115.0 L46.1,114.8 L46.5,114.5 L46.6,114.2 L46.9,113.9 L47.1,113.6 L47.4,113.3 L47.6,113.1 L48.1,113.1 L48.6,113.3 L48.9,113.4 L49.2,113.5 L49.6,113.8 L49.9,114.0 L50.1,114.2 L50.4,114.5 L50.2,115.0 L50.1,115.3 L49.9,115.6 L49.7,116.0 L49.5,116.3 L49.4,116.6 L49.1,117.0 L48.9,117.2 L48.6,117.4 L48.4,117.6 L48.0,117.8 L47.6,117.9 L47.4,118.1 L47.0,118.3 L46.7,118.5 L46.5,118.8 L46.4,119.3 L46.3,119.5 L46.1,120.0 L46.0,120.3 L45.8,120.5 L45.5,120.8 L45.3,121.0 L45.1,121.3 L44.8,121.5 L44.5,121.8 L44.1,122.0 L43.9,122.1" fill="rgba(0,0,0,0.1)" stroke="rgb(32,32,32)" stroke-width="0.6"/>
<path d="M43.6,125.0 L43.1,125.1 L42.9,125.0 L42.4,124.8 L42.6,124.3 L42.9,124.0 L43.1,123.8 L43.4,123.6 L43.7,123.8 L43.9,124.3 L43.9,124.5 L43.9,124.8 L43.6,125.0" fill="rgba(0,0,0,0.1)" stroke="rgb(32,32,32)" stroke-width="0.6"/>
<path d="M51.4,111.3 L50.9,111.4 L50.4,111.4 L49.9,111.3 L49.4,111.4 L48.9,111.4 L48.4,111.4 L48.1,111.3 L47.9,111.0 L47.7,110.5 L47.9,110.3 L48.4,110.1 L48.6,109.9 L48.9,109.8 L49.3,109.5 L49.6,109.3 L49.9,109.1 L50.1,109.0 L50.6,108.9 L51.1,108.9 L51.6,109.0 L51.9,109.0 L52.3,109.3 L52.4,109.5 L52.5,110.0 L52.5,110.5 L52.3,110.8 L52.0,111.0 L51.6,111.2 L51.4,111.3" fill="rgba(0,0,0,0.1)" stroke="rgb(24,24,24)" stroke-width="0.6"/>
<path d="M43.9,121.8 L43.4,121.9 L43.1,121.8 L42.8,121.5 L42.6,121.3 L42.4,121.0 L42.3,120.5 L42.4,120.3 L42.6,119.9 L42.9,119.7 L43.1,119.5 L43.5,119.3 L43.9,119.2 L44.3,119.0 L44.6,118.9 L44.9,118.7 L44.9,118.5 L44.7,118.0 L44.6,117.8 L44.5,117.3 L44.6,116.8 L44.7,116.5 L45.0,116.3 L45.2,116.0 L45.5,115.8 L45.8,115.5 L46.1,115.3 L46.4,115.1 L46.6,114.9 L46.9,114.7 L47.1,114.5 L47.4,114.2 L47.6,113.9 L48.1,113.8 L48.6,113.9 L48.9,114.0 L49.4,114.3 L49.6,114.5 L49.6,114.7 L49.5,115.0 L49.4,115.4 L49.3,115.8 L49.1,116.3 L49.1,116.5 L48.9,116.8 L48.6,117.0 L48.3,117.3 L47.9,117.5 L47.6,117.6 L47.3,117.8 L46.9,118.0 L46.6,118.1 L46.4,118.3 L46.0,118.5 L45.8,118.8 L45.7,119.3 L45.6,119.5 L45.4,120.0 L45.4,120.3 L45.2,120.8 L45.0,121.0 L44.7,121.3 L44.4,121.5 L44.1,121.7 L43.9,121.8" fill="rgba(0,0,0,0.1)" stroke="rgb(24,24,24)" stroke-width="0.6"/>
<path d="M43.6,124.8 L43.1,124.8 L43.1,124.7 L43.4,124.4 L43.6,124.7 L43.6,124.8" fill="rgba(0,0,0,0.1)" stroke="rgb(24,24,24)" stroke-width="0.6"/>
<path d="M51.4,111.0 L50.9,111.1 L50.4,111.1 L50.1,111.0 L49.6,110.9 L49.1,110.9 L48.6,110.8 L48.4,110.5 L48.4,110.5 L48.6,110.3 L49.1,110.0 L49.4,109.9 L49.6,109.8 L50.1,109.5 L50.4,109.4 L50.9,109.3 L51.4,109.4 L51.9,109.5 L52.1,109.8 L52.2,110.0 L52.2,110.5 L52.0,110.8 L51.6,111.0 L51.4,111.0" fill="rgba(0,0,0,0.1)" stroke="rgb(16,16,16)" stroke-width="0.6"/>
<path d="M46.1,117.8 L45.6,118.0 L45.4,117.8 L45.2,117.3 L45.1,117.0 L45.1,116.7 L45.4,116.4 L45.6,116.1 L45.9,115.9 L46.1,115.7 L46.4,115.5 L46.8,115.3 L47.1,115.0 L47.4,114.9 L47.6,114.8 L48.1,114.7 L48.4,114.8 L48.7,115.0 L48.7,115.5 L48.7,116.0 L48.6,116.5 L48.4,116.8 L48.1,117.0 L47.9,117.1 L47.6,117.3 L47.1,117.5 L46.9,117.6 L46.4,117.7 L46.1,117.8" fill="rgba(0,0,0,0.1)" stroke="rgb(16,16,16)" stroke-width="0.6"/>
<path d="M43.6,121.6 L43.3,121.5 L43.0,121.3 L42.7,121.0 L42.6,120.8 L42.6,120.5 L42.9,120.1 L43.1,119.9 L43.4,119.7 L43.9,119.5 L44.4,119.6 L44.7,119.8 L44.9,120.1 L44.9,120.5 L44.8,120.8 L44.6,121.0 L44.3,121.3 L43.9,121.5 L43.6,121.6" fill="rgba(0,0,0,0.1)" stroke="rgb(16,16,16)" stroke-width="0.6"/>
<path d="M51.9,110.6 L51.4,110.8 L50.9,110.8 L50.4,110.7 L49.9,110.5 L49.8,110.3 L50.1,110.0 L50.4,109.9 L50.9,109.8 L51.4,109.8 L51.9,110.0 L52.0,110.3 L51.9,110.6" fill="rgba(0,0,0,0.1)" stroke="rgb(8,8,8)" stroke-width="0.6"/>
<path d="M47.1,117.1 L46.6,117.1 L46.1,117.1 L45.9,116.9 L45.8,116.5 L46.1,116.3 L46.4,116.1 L46.6,115.9 L46.9,115.8 L47.4,115.5 L47.6,115.5 L47.9,115.6 L48.1,116.0 L48.2,116.3 L48.1,116.6 L47.9,116.8 L47.4,117.0 L47.1,117.1" fill="rgba(0,0,0,0.1)" stroke="rgb(8,8,8)" stroke-width="0.6"/>
<path d="M43.6,121.3 L43.4,121.3 L43.1,121.0 L42.9,120.5 L43.1,120.3 L43.4,120.0 L43.9,120.0 L44.1,120.1 L44.4,120.3 L44.5,120.8 L44.1,121.0 L43.9,121.2 L43.6,121.3" fill="rgba(0,0,0,0.1)" stroke="rgb(8,8,8)" stroke-width="0.6"/>
<path d="M47.6,116.5 L47.1,116.6 L46.9,116.5 L47.1,116.5 L47.6,116.5 L47.6,116.5" fill="rgba(0,0,0,0.1)" stroke="rgb(0,0,0)" stroke-width="0.6"/>
<path d="M43.9,120.9 L43.4,120.9 L43.3,120.5 L43.6,120.3 L44.0,120.5 L43.9,120.9" fill="rgba(0,0,0,0.1)" stroke="rgb(0,0,0)" stroke-width="0.6"/>
<rect x="29" y="79.4" width="59.7" height="58.599999999999994" stroke="#000" stroke-width="1.5" fill="none" />
<line x1="27.0" y1="79.4" x2="28.5" y2="79.4" stroke="#000" stroke-width="0.8" />
<line x1="27.0" y1="94.1" x2="28.5" y2="94.1" stroke="#000" stroke-width="0.8" />
<line x1="27.0" y1="108.7" x2="28.5" y2="108.7" stroke="#000" stroke-width="0.8" />
<line x1="27.0" y1="123.3" x2="28.5" y2="123.3" stroke="#000" stroke-width="0.8" />
<line x1="27.0" y1="138.0" x2="28.5" y2="138.0" stroke="#000" stroke-width="0.8" />
<text x="26.0" y="139.4" font-size="4.4" font-weight="normal" text-anchor="end" fill="#222" style="font-family:Liberation Serif">1</text>
<text x="26.0" y="124.8" font-size="4.4" font-weight="normal" text-anchor="end" fill="#222" style="font-family:Liberation Serif">10</text>
<text x="26.0" y="110.1" font-size="4.4" font-weight="normal" text-anchor="end" fill="#222" style="font-family:Liberation Serif">100</text>
<text x="26.0" y="95.5" font-size="4.4" font-weight="normal" text-anchor="end" fill="#222" style="font-family:Liberation Serif">1000</text>
<text x="26.0" y="80.8" font-size="4.4" font-weight="normal" text-anchor="end" fill="#222" style="font-family:Liberation Serif">10000</text>
<line x1="29.0" y1="138.5" x2="29.0" y2="140.0" stroke="#000" stroke-width="0.8" />
<line x1="43.9" y1="138.5" x2="43.9" y2="140.0" stroke="#000" stroke-width="0.8" />
<line x1="58.9" y1="138.5" x2="58.9" y2="140.0" stroke="#000" stroke-width="0.8" />
<line x1="73.8" y1="138.5" x2="73.8" y2="140.0" stroke="#000" stroke-width="0.8" />
<line x1="88.7" y1="138.5" x2="88.7" y2="140.0" stroke="#000" stroke-width="0.8" />
<text x="29.0" y="143.5" font-size="4.4" font-weight="normal" text-anchor="middle" fill="#222" style="font-family:Liberation Serif">1</text>
<text x="43.7" y="143.5" font-size="4.4" font-weight="normal" text-anchor="middle" fill="#222" style="font-family:Liberation Serif">10</text>
<text x="58.4" y="143.5" font-size="4.4" font-weight="normal" text-anchor="middle" fill="#222" style="font-family:Liberation Serif">100</text>
<text x="73.0" y="143.5" font-size="4.4" font-weight="normal" text-anchor="middle" fill="#222" style="font-family:Liberation Serif">1000</text>
<text x="87.7" y="143.5" font-size="4.4" font-weight="normal" text-anchor="middle" fill="#222" style="font-family:Liberation Serif">10000</text>
<path d="M29.1,189.4 L29.4,189.3 L29.6,189.1 L30.1,188.9 L30.4,188.9 L30.9,188.8 L31.3,188.6 L31.6,188.4 L31.7,188.1 L31.8,187.6 L31.9,187.4 L32.1,187.0 L32.4,186.7 L32.6,186.4 L32.8,186.1 L32.9,185.9 L33.1,185.4 L33.2,185.1 L33.4,184.7 L33.5,184.4 L33.7,184.1 L33.9,183.8 L34.1,183.4 L34.2,183.1 L34.4,182.6 L34.5,182.4 L34.6,182.0 L34.9,181.8 L35.1,181.5 L35.4,181.2 L35.6,181.1 L36.1,180.9 L36.4,180.8 L36.8,180.6 L37.1,180.5 L37.4,180.4 L37.6,179.9 L37.6,179.4 L37.6,179.0 L37.7,178.6 L37.7,178.1 L37.8,177.6 L37.8,177.1 L37.9,176.9 L38.0,176.4 L38.1,175.9 L38.3,175.6 L38.5,175.4 L38.7,175.1 L38.9,174.8 L39.1,174.5 L39.4,174.1 L39.6,173.9 L39.8,173.6 L40.0,173.4 L40.3,173.1 L40.6,172.9 L40.9,172.7 L41.1,172.5 L41.4,172.4 L41.7,172.1 L41.9,171.9 L42.0,171.4 L42.0,170.9 L42.1,170.5 L42.2,170.1 L42.4,169.7 L42.5,169.4 L42.7,169.1 L42.9,168.8 L43.1,168.5 L43.4,168.2 L43.6,167.9 L43.9,167.7 L44.1,167.4 L44.3,167.1 L44.5,166.9 L44.6,166.6 L44.9,166.2 L45.0,165.9 L45.1,165.6 L45.3,165.1 L45.4,164.8 L45.5,164.4 L45.6,163.9 L45.7,163.6 L46.0,163.4 L46.3,163.1 L46.6,162.9 L46.9,162.8 L47.2,162.6 L47.6,162.5 L47.9,162.3 L48.1,162.1 L48.4,161.8 L48.6,161.6 L48.9,161.3 L49.1,160.9 L49.3,160.6 L49.4,160.4 L49.6,159.9 L49.8,159.6 L50.0,159.4 L50.2,159.1 L50.5,158.9 L50.7,158.6 L50.9,158.4 L51.1,158.1 L51.4,157.8 L51.6,157.4 L51.9,157.2 L52.1,157.1 L52.5,156.9 L52.9,156.6 L53.1,156.4 L53.4,156.2 L53.6,156.0 L53.9,155.7 L54.1,155.6 L54.6,155.5 L55.1,155.5 L55.6,155.5 L56.1,155.4 L56.1,155.1 L56.4,154.6 L56.6,154.4 L56.9,154.2 L57.1,154.1 L57.6,154.0 L58.1,153.9 L58.4,153.9 L58.9,153.7 L59.3,153.6 L59.6,153.5 L60.1,153.4 L60.4,153.3 L60.9,153.2 L61.4,153.2 L61.9,153.1 L62.4,153.3 L62.6,153.5 L62.9,153.6 L63.4,153.8 L63.6,153.9 L64.1,154.1 L64.6,153.9 L64.9,153.8 L65.2,153.6 L65.6,153.5 L65.9,153.4 L66.4,153.2 L66.9,153.2 L67.4,153.2 L67.9,153.2 L68.4,153.2 L68.7,153.4 L69.1,153.6 L69.4,153.7 L69.7,153.9 L70.1,154.0 L70.6,154.1 L70.9,154.1 L71.4,154.2 L71.9,154.3 L72.4,154.4 L72.6,154.5 L72.9,154.7 L73.1,154.9 L73.6,155.1 L73.9,155.3 L74.1,155.4 L74.4,155.7 L74.6,155.9 L75.0,156.1 L75.2,156.4 L75.5,156.6 L75.7,156.9 L75.9,157.1 L76.1,157.4 L76.4,157.7 L76.6,158.1 L76.7,158.4 L76.9,158.9 L76.9,159.1 L76.9,159.6 L76.8,159.9 L76.6,160.2 L76.4,160.5 L76.1,160.7 L75.9,161.1 L75.7,161.4 L75.6,161.6 L75.6,162.1 L75.4,162.6 L75.3,162.9 L75.1,163.3 L74.9,163.6 L74.6,163.7 L74.3,163.9 L73.9,164.1 L73.6,164.3 L73.4,164.6 L73.2,164.9 L73.0,165.1 L72.9,165.5 L72.6,165.9 L72.4,166.1 L72.1,166.3 L71.9,166.4 L71.4,166.5 L71.1,166.6 L70.6,166.8 L70.3,166.9 L69.9,167.1 L69.6,167.2 L69.4,167.4 L69.1,167.6 L68.6,167.9 L68.4,168.0 L67.9,168.1 L67.6,168.1 L67.1,168.2 L66.6,168.3 L66.1,168.4 L65.9,168.5 L65.6,168.7 L65.4,168.9 L65.0,169.1 L64.6,169.3 L64.4,169.5 L64.1,169.6 L63.8,169.9 L63.5,170.1 L63.3,170.4 L63.0,170.6 L62.8,170.9 L62.6,171.1 L62.4,171.4 L62.1,171.7 L61.9,172.0 L61.7,172.4 L61.6,172.6 L61.4,173.1 L61.3,173.4 L61.2,173.9 L61.3,174.4 L61.4,174.9 L61.4,175.1 L61.6,175.6 L61.7,175.9 L61.7,176.4 L61.7,176.9 L61.6,177.4 L61.6,177.6 L61.6,178.1 L61.7,178.4 L61.9,178.8 L62.1,179.1 L62.3,179.4 L62.2,179.9 L61.9,180.1 L61.6,180.1 L61.1,180.2 L60.6,180.3 L60.4,180.4 L59.9,180.6 L59.6,180.8 L59.4,181.0 L59.1,181.3 L58.9,181.5 L58.6,181.7 L58.4,182.0 L58.2,182.4 L58.1,182.8 L58.1,183.1 L58.0,183.6 L57.9,183.9 L57.7,184.4 L57.5,184.6 L57.3,184.9 L57.1,185.1 L56.9,185.4 L56.6,185.7 L56.4,186.0 L56.1,186.3 L56.0,186.6 L55.9,187.0 L55.8,187.4 L55.7,187.9 L55.6,188.1 L55.4,188.6 L55.3,188.9 L55.1,189.3 L55.0,189.6 L54.8,189.9 L54.6,190.1 L54.3,190.4 L54.1,190.7 L53.9,191.1 L53.8,191.4 L53.7,191.9 L53.6,192.2 L53.5,192.6 L53.4,192.9 L53.1,193.4 L53.0,193.6 L52.8,193.9 L52.5,194.1 L52.2,194.4 L51.9,194.6 L51.8,194.9 L51.6,195.4 L51.6,195.6 L51.5,196.1 L51.4,196.4 L51.1,196.9 L50.9,197.1 L50.7,197.4 L50.5,197.6 L50.1,197.9 L49.9,198.0 L49.6,198.2 L49.4,198.6 L49.4,198.8 L49.4,199.1 L49.5,199.6 L49.4,200.1 L49.4,200.6 L49.1,200.8 L48.9,201.0 L48.6,201.1 L48.2,201.4 L47.9,201.6 L47.6,201.8 L47.4,202.1 L47.3,202.4 L47.1,202.6 L46.9,203.0 L46.7,203.4 L46.5,203.6 L46.3,203.9 L46.1,204.1 L45.8,204.4 L45.5,204.6 L45.2,204.9 L44.9,205.1" fill="none" stroke="rgb(140,140,140)" stroke-width="0.6"/>
<path d="M66.6,180.4 L66.1,180.5 L65.6,180.4 L65.4,180.3 L65.1,180.1 L64.8,179.9 L64.6,179.6 L64.4,179.1 L64.3,178.9 L64.3,178.4 L64.3,177.9 L64.1,177.5 L64.0,177.1 L64.1,176.9 L64.6,176.8 L65.1,176.8 L65.6,176.8 L66.1,176.9 L66.4,176.9 L66.9,177.1 L67.1,177.2 L67.6,177.3 L67.9,177.4 L68.4,177.6 L68.6,177.7 L68.9,178.0 L68.9,178.4 L68.8,178.6 L68.6,178.9 L68.4,179.1 L68.1,179.4 L67.8,179.6 L67.5,179.9 L67.2,180.1 L66.9,180.3 L66.6,180.4" fill="none" stroke="rgb(140,140,140)" stroke-width="0.6"/>
<path d="M29.1,194.0 L29.3,193.6 L29.5,193.4 L29.6,193.0 L29.8,192.6 L29.9,192.1 L29.9,191.9 L30.0,191.4 L30.1,191.1 L30.3,190.6 L30.5,190.4 L30.8,190.1 L31.1,190.0 L31.4,189.8 L31.7,189.6 L32.0,189.4 L32.3,189.1 L32.5,188.9 L32.7,188.6 L32.9,188.3 L33.1,187.9 L33.4,187.7 L33.6,187.5 L33.9,187.3 L34.1,187.1 L34.4,186.8 L34.6,186.5 L34.9,186.1 L35.0,185.9 L35.2,185.6 L35.4,185.4 L35.6,185.0 L35.9,184.6 L36.0,184.4 L36.1,184.1 L36.4,183.6 L36.5,183.4 L36.8,183.1 L37.1,182.9 L37.4,182.7 L37.6,182.5 L37.9,182.3 L38.1,182.0 L38.3,181.6 L38.4,181.4 L38.6,180.9 L38.7,180.6 L38.9,180.2 L38.9,179.9 L39.0,179.4 L39.1,178.9 L39.2,178.6 L39.3,178.1 L39.4,177.6 L39.4,177.4 L39.6,176.9 L39.7,176.6 L39.9,176.3 L40.1,175.9 L40.4,175.6 L40.6,175.4 L40.8,175.1 L40.9,174.9 L41.1,174.5 L41.3,174.1 L41.4,173.9 L41.8,173.6 L42.1,173.4 L42.4,173.2 L42.6,172.9 L42.8,172.6 L42.9,172.4 L43.1,171.9 L43.2,171.6 L43.4,171.2 L43.5,170.9 L43.7,170.6 L44.0,170.4 L44.4,170.1 L44.6,170.0 L44.9,169.9 L45.4,169.6 L45.6,169.4 L45.7,169.1 L45.9,168.7 L46.0,168.4 L46.2,168.1 L46.4,167.9 L46.6,167.6 L46.9,167.2 L47.1,166.9 L47.4,166.7 L47.6,166.5 L47.9,166.1 L48.0,165.9 L48.1,165.6 L48.2,165.1 L48.4,164.6 L48.4,164.4 L48.6,163.9 L48.8,163.6 L49.0,163.4 L49.3,163.1 L49.6,162.9 L49.9,162.6 L50.1,162.5 L50.4,162.3 L50.7,162.1 L51.0,161.9 L51.4,161.6 L51.6,161.4 L51.7,161.1 L51.9,160.8 L52.1,160.4 L52.2,160.1 L52.4,159.8 L52.6,159.4 L52.9,159.2 L53.1,158.9 L53.4,158.7 L53.6,158.6 L53.9,158.4 L54.1,158.1 L54.4,157.8 L54.6,157.5 L54.9,157.3 L55.1,157.1 L55.5,156.9 L55.9,156.7 L56.4,156.8 L56.8,156.9 L57.1,157.1 L57.2,157.4 L57.4,157.6 L57.6,157.9 L57.9,158.2 L58.2,158.1 L58.6,157.9 L58.9,157.8 L59.2,157.6 L59.6,157.4 L59.8,157.1 L60.0,156.9 L60.3,156.6 L60.6,156.4 L60.9,156.3 L61.4,156.2 L61.7,156.1 L62.1,156.0 L62.6,156.0 L63.1,155.9 L63.4,155.8 L63.9,155.8 L64.4,155.7 L64.9,155.7 L65.1,155.6 L65.6,155.5 L66.0,155.4 L66.4,155.3 L66.9,155.4 L67.2,155.4 L67.6,155.4 L68.1,155.5 L68.6,155.6 L68.9,155.7 L69.4,155.8 L69.6,156.0 L70.0,156.1 L70.4,156.3 L70.6,156.4 L71.1,156.5 L71.6,156.6 L71.9,156.6 L72.4,156.7 L72.6,157.0 L72.9,157.2 L73.0,157.6 L72.9,158.1 L72.8,158.4 L72.6,158.8 L72.4,159.1 L72.1,159.2 L71.6,159.3 L71.2,159.4 L70.9,159.6 L71.2,159.9 L71.3,160.4 L71.3,160.9 L71.2,161.4 L71.2,161.9 L71.2,162.4 L71.1,162.9 L71.1,163.1 L70.9,163.6 L70.8,163.9 L70.6,164.2 L70.4,164.4 L69.9,164.6 L69.6,164.7 L69.1,164.8 L68.6,164.9 L68.4,164.9 L67.9,165.1 L67.6,165.3 L67.4,165.5 L67.1,165.8 L66.9,166.1 L66.6,166.2 L66.4,166.4 L65.9,166.6 L65.6,166.7 L65.3,166.9 L65.0,167.1 L64.7,167.4 L64.4,167.6 L64.1,167.9 L63.9,167.9 L63.4,167.9 L63.1,167.9 L62.6,167.8 L62.1,167.7 L61.9,168.1 L61.8,168.4 L61.6,168.9 L61.5,169.1 L61.4,169.4 L61.1,169.9 L61.0,170.1 L60.8,170.4 L60.6,170.8 L60.5,171.1 L60.4,171.4 L60.2,171.9 L60.1,172.3 L60.1,172.6 L60.0,173.1 L60.0,173.6 L59.9,174.1 L60.0,174.6 L60.0,175.1 L60.0,175.6 L59.9,176.1 L59.8,176.4 L59.5,176.6 L59.3,176.9 L59.0,177.1 L58.8,177.4 L58.5,177.6 L58.3,177.9 L58.4,178.4 L58.4,178.6 L58.5,179.1 L58.5,179.6 L58.4,180.1 L58.2,180.4 L58.0,180.6 L57.7,180.9 L57.4,181.1 L57.1,181.4 L56.9,181.6 L56.6,181.9 L56.4,182.1 L56.4,182.6 L56.3,182.9 L56.3,183.4 L56.2,183.9 L56.1,184.1 L55.9,184.5 L55.6,184.7 L55.4,185.0 L55.2,185.4 L55.0,185.6 L54.9,185.9 L54.7,186.4 L54.6,186.6 L54.4,187.1 L54.3,187.4 L54.1,187.7 L53.9,188.1 L53.8,188.4 L53.6,188.6 L53.4,189.0 L53.1,189.4 L53.0,189.6 L52.8,189.9 L52.6,190.1 L52.4,190.6 L52.3,190.9 L52.2,191.4 L52.1,191.6 L52.0,192.1 L51.9,192.4 L51.6,192.7 L51.4,193.0 L51.1,193.3 L50.9,193.6 L50.8,193.9 L50.6,194.2 L50.4,194.6 L50.4,194.9 L50.2,195.4 L50.1,195.7 L50.0,196.1 L49.9,196.5 L49.6,196.8 L49.4,196.9 L49.1,197.2 L48.9,197.5 L48.6,197.9 L48.5,198.1 L48.4,198.5 L48.2,198.9 L48.1,199.1 L47.9,199.6 L47.6,199.9 L47.4,200.1 L47.3,200.4 L47.1,200.6 L46.9,201.0 L46.6,201.4 L46.5,201.6 L46.3,201.9 L46.1,202.2 L45.9,202.6 L45.7,202.9 L45.4,203.0 L45.1,203.2 L44.6,203.4 L44.4,203.5 L44.1,203.6 L43.6,203.9 L43.4,204.0 L43.0,204.1 L42.6,204.3 L42.4,204.4 L42.0,204.6 L41.6,204.8 L41.4,204.9 L41.1,205.1" fill="none" stroke="rgb(126,126,126)" stroke-width="0.6"/>
<path d="M31.7,205.1 L31.4,204.9 L31.1,204.6 L30.9,204.5 L30.6,204.3 L30.4,204.1 L30.1,203.9 L29.9,203.6 L29.6,203.3 L29.4,202.9 L29.2,202.6 L29.2,202.1 L29.1,201.6 L29.1,201.1 L29.1,200.6" fill="none" stroke="rgb(126,126,126)" stroke-width="0.6"/>
<path d="M35.5,205.1 L35.4,204.6 L35.3,204.6 L34.9,204.9" fill="none" stroke="rgb(126,126,126)" stroke-width="0.6"/>
<path d="M38.4,204.9 L37.9,205.0 L37.4,205.1 L37.1,204.8 L36.9,204.5 L36.6,204.3 L36.4,204.1 L36.1,203.9 L35.6,203.7 L35.4,203.6 L34.9,203.6 L34.4,203.6 L33.9,203.6 L33.4,203.6 L33.1,203.4 L32.8,203.1 L32.6,202.9 L32.3,202.6 L32.0,202.4 L31.6,202.2 L31.4,202.0 L31.1,201.9 L30.9,201.6 L30.6,201.2 L30.5,200.9 L30.4,200.4 L30.5,199.9 L30.6,199.6 L30.9,199.2 L31.1,199.0 L31.4,198.8 L31.7,198.6 L31.6,198.3 L31.5,197.9 L31.4,197.4 L31.4,197.1 L31.3,196.6 L31.2,196.1 L31.1,195.8 L31.0,195.4 L30.9,194.9 L30.9,194.4 L30.8,194.1 L30.8,193.6 L30.8,193.1 L30.8,192.6 L30.9,192.3 L31.1,191.9 L31.3,191.6 L31.6,191.4 L31.9,191.1 L32.1,191.0 L32.4,190.8 L32.6,190.6 L32.9,190.4 L33.2,190.1 L33.6,189.9 L33.9,189.7 L34.1,189.6 L34.6,189.4 L34.9,189.3 L35.2,189.1 L35.4,188.9 L35.6,188.4 L35.7,188.1 L35.9,187.7 L36.0,187.4 L36.1,187.0 L36.3,186.6 L36.4,186.3 L36.6,185.9 L36.7,185.6 L36.9,185.4 L37.1,184.9 L37.3,184.6 L37.4,184.4 L37.7,184.1 L38.0,183.9 L38.4,183.6 L38.6,183.4 L38.9,183.2 L39.1,182.9 L39.3,182.6 L39.5,182.4 L39.7,182.1 L39.9,181.6 L40.0,181.4 L40.1,181.1 L40.4,180.7 L40.6,180.4 L40.9,180.2 L41.0,179.9 L41.1,179.6 L41.3,179.1 L41.4,178.9 L41.5,178.4 L41.6,178.0 L41.8,177.6 L41.9,177.4 L42.1,177.1 L42.4,176.8 L42.7,176.6 L43.1,176.4 L43.4,176.4 L43.7,176.1 L43.9,175.9 L43.8,175.6 L43.8,175.1 L43.8,174.6 L43.8,174.1 L43.8,173.6 L43.9,173.4 L44.0,172.9 L44.1,172.6 L44.3,172.1 L44.5,171.9 L44.7,171.6 L45.0,171.4 L45.3,171.1 L45.6,170.9 L45.9,170.6 L46.1,170.4 L46.3,170.1 L46.4,169.9 L46.6,169.5 L46.9,169.1 L47.0,168.9 L47.3,168.6 L47.5,168.4 L47.8,168.1 L48.1,167.9 L48.3,167.6 L48.5,167.4 L48.6,167.1 L48.9,166.7 L49.1,166.4 L49.2,166.1 L49.4,165.8 L49.6,165.4 L49.7,165.1 L49.9,164.9 L50.2,164.6 L50.5,164.4 L50.8,164.1 L51.1,163.9 L51.4,163.8 L51.8,163.6 L52.0,163.4 L52.2,163.1 L52.4,162.9 L52.7,162.6 L52.9,162.4 L53.2,162.1 L53.4,161.9 L53.7,161.6 L53.9,161.4 L54.1,161.0 L54.4,160.6 L54.5,160.4 L54.7,160.1 L55.0,159.9 L55.2,159.6 L55.4,159.4 L55.7,159.1 L56.1,159.0 L56.4,159.2 L56.7,159.4 L57.1,159.6 L57.4,159.7 L57.7,159.9 L58.1,159.9 L58.4,159.8 L58.6,159.6 L59.0,159.4 L59.4,159.2 L59.6,159.1 L60.1,159.0 L60.6,159.1 L60.9,159.3 L61.1,159.5 L61.4,159.6 L61.9,159.8 L62.4,159.6 L62.5,159.4 L62.5,158.9 L62.6,158.4 L62.6,158.1 L62.9,157.6 L63.1,157.4 L63.4,157.3 L63.7,157.1 L64.1,157.0 L64.5,157.1 L64.9,157.3 L65.1,157.6 L65.2,157.9 L65.4,158.3 L65.5,158.6 L65.5,159.1 L65.5,159.6 L65.5,160.1 L65.5,160.6 L65.4,161.1 L65.2,161.4 L65.4,161.8 L65.6,162.1 L65.9,162.4 L66.0,162.6 L66.2,162.9 L66.4,163.1 L66.5,163.6 L66.2,163.9 L65.9,164.1 L65.6,164.3 L65.4,164.5 L65.1,164.6 L64.6,164.8 L64.4,164.9 L63.9,164.9 L63.4,164.9 L63.1,164.8 L62.6,164.8 L62.1,164.7 L61.6,164.9 L61.4,165.0 L61.1,165.3 L60.9,165.6 L60.8,165.9 L60.7,166.4 L60.6,166.6 L60.6,167.1 L60.5,167.6 L60.4,167.9 L60.2,168.4 L60.0,168.6 L59.9,168.9 L59.6,169.1 L59.4,169.4 L59.1,169.8 L59.0,170.1 L58.9,170.5 L58.8,170.9 L58.7,171.4 L58.6,171.6 L58.6,172.1 L58.6,172.6 L58.6,173.1 L58.6,173.6 L58.5,174.1 L58.4,174.5 L58.1,174.9 L58.0,175.1 L57.8,175.4 L57.6,175.7 L57.5,176.1 L57.4,176.5 L57.3,176.9 L57.1,177.3 L57.0,177.6 L56.9,178.1 L56.9,178.4 L56.8,178.9 L56.8,179.4 L56.7,179.9 L56.6,180.1 L56.4,180.4 L56.1,180.6 L55.9,180.9 L55.6,181.3 L55.4,181.6 L55.3,181.9 L55.1,182.4 L55.1,182.6 L54.9,183.1 L54.8,183.4 L54.6,183.7 L54.4,184.0 L54.2,184.4 L54.1,184.6 L53.9,185.1 L53.9,185.4 L53.7,185.9 L53.6,186.2 L53.4,186.5 L53.2,186.9 L53.0,187.1 L52.9,187.5 L52.8,187.9 L52.6,188.3 L52.4,188.6 L52.3,188.9 L52.1,189.1 L51.9,189.4 L51.6,189.7 L51.1,189.8 L50.9,189.9 L50.4,189.9 L50.0,189.9 L49.8,189.9 L49.5,190.1 L49.5,190.6 L49.6,191.1 L49.7,191.4 L49.9,191.7 L50.0,192.1 L50.0,192.6 L49.8,192.9 L49.6,193.4 L49.5,193.6 L49.4,193.9 L49.1,194.4 L49.0,194.6 L48.8,194.9 L48.6,195.2 L48.4,195.6 L48.1,195.9 L47.9,196.1 L47.7,196.4 L47.6,196.6 L47.5,197.1 L47.4,197.6 L47.4,197.9 L47.2,198.4 L47.0,198.6 L46.8,198.9 L46.6,199.1 L46.4,199.5 L46.2,199.9 L46.1,200.1 L45.9,200.6 L45.7,200.9 L45.4,201.1 L45.1,201.2 L44.6,201.3 L44.1,201.3 L43.7,201.1 L43.5,201.1 L43.2,201.4 L42.9,201.6 L42.6,201.7 L42.1,201.8 L41.6,201.8 L41.4,201.9 L41.0,202.1 L40.7,202.4 L40.5,202.6 L40.4,202.9 L40.2,203.4 L40.1,203.6 L39.9,203.9 L39.6,204.3 L39.4,204.6 L39.1,204.7 L38.6,204.8 L38.4,204.9" fill="none" stroke="rgb(113,113,113)" stroke-width="0.6"/>
<path d="M62.1,161.9 L61.8,161.9 L61.5,161.6 L61.8,161.4 L62.1,161.3 L62.4,161.6 L62.1,161.9" fill="none" stroke="rgb(100,100,100)" stroke-width="0.6"/>
<path d="M35.6,202.6 L35.3,202.6 L34.9,202.4 L34.7,202.1 L34.5,201.9 L34.3,201.6 L34.1,201.4 L33.9,200.9 L33.8,200.6 L33.8,200.1 L33.8,199.6 L33.9,199.3 L34.0,198.9 L33.9,198.4 L33.8,198.1 L33.6,197.9 L33.4,197.6 L33.1,197.3 L32.9,196.9 L32.7,196.6 L32.6,196.3 L32.5,195.9 L32.4,195.4 L32.4,194.9 L32.4,194.5 L32.4,194.1 L32.4,193.6 L32.4,193.4 L32.5,192.9 L32.6,192.5 L32.9,192.2 L33.1,192.0 L33.6,192.1 L33.9,192.2 L34.1,192.4 L34.4,192.7 L34.6,192.9 L34.9,193.2 L35.1,193.4 L35.4,193.4 L35.6,193.0 L35.9,192.6 L36.0,192.4 L36.1,191.9 L36.1,191.5 L36.3,191.1 L36.4,190.8 L36.6,190.4 L36.7,190.1 L36.8,189.6 L36.9,189.4 L37.0,188.9 L37.1,188.4 L37.1,188.1 L37.3,187.6 L37.4,187.2 L37.6,186.9 L37.8,186.6 L38.1,186.4 L38.4,186.1 L38.6,185.9 L38.9,185.7 L39.1,185.4 L39.3,185.1 L39.5,184.9 L39.6,184.6 L40.0,184.4 L40.4,184.3 L40.9,184.2 L41.4,184.2 L41.4,183.9 L41.1,183.8 L40.9,183.4 L40.9,183.1 L40.8,182.6 L40.9,182.1 L41.0,181.9 L41.2,181.6 L41.4,181.4 L41.6,181.1 L41.9,180.8 L42.1,180.4 L42.3,180.1 L42.4,179.9 L42.5,179.4 L42.6,179.1 L42.8,178.6 L42.9,178.3 L43.1,177.9 L43.4,177.6 L43.6,177.4 L43.8,177.1 L44.0,176.9 L44.2,176.6 L44.5,176.4 L44.7,176.1 L44.9,175.9 L44.8,175.6 L44.7,175.1 L44.6,174.9 L44.6,174.4 L44.5,173.9 L44.6,173.6 L44.9,173.1 L45.0,172.9 L45.1,172.6 L45.4,172.3 L45.6,172.0 L45.9,171.8 L46.1,171.6 L46.4,171.4 L46.6,171.1 L46.9,170.7 L47.0,170.4 L47.1,170.1 L47.4,169.6 L47.6,169.4 L47.8,169.1 L48.1,168.9 L48.4,168.7 L48.6,168.5 L48.9,168.2 L49.1,168.0 L49.4,167.8 L49.6,167.4 L49.8,167.1 L50.1,166.9 L50.3,166.6 L50.5,166.4 L50.8,166.1 L51.0,165.9 L51.2,165.6 L51.6,165.4 L51.9,165.2 L52.1,165.0 L52.4,164.8 L52.6,164.5 L52.9,164.3 L53.1,164.1 L53.4,163.8 L53.6,163.5 L54.1,163.5 L54.4,163.6 L54.9,163.9 L55.1,164.0 L55.4,164.1 L55.9,164.3 L56.4,164.2 L56.6,164.0 L56.9,163.8 L57.0,163.4 L57.1,163.1 L57.4,162.7 L57.6,162.5 L58.1,162.5 L58.4,162.7 L58.6,163.1 L58.7,163.4 L58.6,163.8 L58.5,164.1 L58.4,164.4 L58.1,164.8 L57.9,165.0 L57.7,165.4 L57.6,165.6 L57.7,165.9 L57.9,166.3 L58.1,166.5 L58.4,166.9 L58.5,167.1 L58.6,167.4 L58.6,167.9 L58.4,168.1 L58.3,168.4 L58.1,168.6 L57.9,168.9 L57.6,169.2 L57.4,169.6 L57.3,169.9 L57.3,170.4 L57.3,170.9 L57.3,171.4 L57.3,171.9 L57.3,172.4 L57.3,172.9 L57.3,173.4 L57.3,173.9 L57.1,174.1 L56.9,174.6 L56.9,174.9 L56.8,175.4 L56.7,175.9 L56.6,176.2 L56.5,176.6 L56.4,177.0 L56.2,177.4 L56.1,177.7 L56.0,178.1 L55.9,178.6 L55.7,178.9 L55.6,179.1 L55.4,179.6 L55.2,179.9 L55.1,180.1 L54.9,180.6 L54.7,180.9 L54.6,181.1 L54.5,181.6 L54.4,182.0 L54.2,182.4 L54.1,182.6 L53.9,183.0 L53.6,183.3 L53.4,183.6 L53.3,183.9 L53.1,184.3 L53.0,184.6 L52.9,184.9 L52.6,185.3 L52.4,185.6 L52.1,185.9 L51.9,186.0 L51.8,186.4 L51.8,186.9 L51.8,187.4 L51.7,187.9 L51.6,188.3 L51.4,188.5 L51.1,188.6 L50.6,188.8 L50.4,188.9 L49.9,188.9 L49.5,189.1 L49.3,189.4 L49.1,189.7 L48.9,190.1 L48.8,190.4 L48.9,190.9 L48.9,191.4 L48.9,191.9 L48.8,192.4 L48.6,192.8 L48.4,193.1 L48.3,193.4 L48.1,193.6 L47.9,193.9 L47.6,194.2 L47.4,194.6 L47.3,194.9 L47.2,195.4 L47.1,195.6 L46.9,196.1 L46.8,196.4 L46.6,196.7 L46.4,197.1 L46.3,197.4 L46.1,197.6 L45.9,197.9 L45.6,198.1 L45.2,198.4 L44.9,198.5 L44.6,198.6 L44.3,198.9 L43.9,199.0 L43.4,199.1 L43.1,199.2 L42.9,199.4 L42.6,199.6 L42.3,199.9 L42.1,200.1 L41.9,200.5 L41.6,200.7 L41.1,200.8 L40.6,200.7 L40.4,200.6 L39.9,200.4 L39.6,200.4 L39.1,200.3 L38.6,200.3 L38.1,200.3 L37.8,200.1 L37.7,199.6 L37.7,199.1 L37.8,198.6 L37.6,198.4 L37.1,198.3 L36.9,198.6 L36.9,198.8 L37.0,199.1 L37.1,199.6 L37.2,199.9 L37.3,200.4 L37.3,200.9 L37.2,201.4 L37.1,201.7 L36.9,202.1 L36.6,202.3 L36.4,202.4 L35.9,202.6 L35.6,202.6" fill="none" stroke="rgb(100,100,100)" stroke-width="0.6"/>
<path d="M35.4,200.9 L35.1,200.7 L35.0,200.4 L35.0,199.9 L35.0,199.4 L35.0,198.9 L35.0,198.4 L35.0,197.9 L34.9,197.4 L34.9,197.0 L34.9,196.6 L34.9,196.4 L35.1,195.9 L35.3,195.6 L35.4,195.4 L35.6,194.9 L35.6,194.6 L35.9,194.1 L36.0,193.9 L36.2,193.6 L36.4,193.2 L36.5,192.9 L36.7,192.6 L36.8,192.1 L37.0,191.9 L37.1,191.5 L37.4,191.2 L37.6,190.9 L37.7,190.6 L37.9,190.3 L38.0,189.9 L38.1,189.4 L38.2,189.1 L38.4,188.8 L38.6,188.4 L38.9,188.2 L39.1,187.9 L39.4,187.7 L39.5,187.4 L39.6,187.1 L39.8,186.6 L39.9,186.3 L40.1,185.9 L40.2,185.6 L40.4,185.4 L40.7,185.1 L41.1,184.9 L41.4,184.8 L41.6,184.6 L41.8,184.1 L41.8,183.6 L41.8,183.1 L41.7,182.6 L41.7,182.1 L41.9,181.9 L42.2,181.6 L42.4,181.3 L42.6,181.0 L42.8,180.6 L43.0,180.4 L43.1,180.0 L43.2,179.6 L43.4,179.2 L43.5,178.9 L43.6,178.5 L43.7,178.1 L43.9,177.8 L44.1,177.4 L44.4,177.1 L44.6,176.9 L44.8,176.6 L45.1,176.4 L45.4,176.2 L45.6,175.9 L45.6,175.9 L45.4,175.4 L45.3,175.1 L45.1,174.6 L45.1,174.4 L45.0,173.9 L45.2,173.6 L45.4,173.2 L45.6,172.9 L45.9,172.7 L46.1,172.4 L46.4,172.2 L46.6,172.1 L46.9,171.9 L47.1,171.6 L47.4,171.2 L47.5,170.9 L47.6,170.5 L47.8,170.1 L47.9,169.9 L48.1,169.6 L48.4,169.4 L48.7,169.1 L49.0,168.9 L49.3,168.6 L49.6,168.4 L49.9,168.2 L50.1,168.1 L50.6,167.9 L50.9,167.8 L51.2,167.6 L51.6,167.4 L51.8,167.1 L51.9,166.9 L52.1,166.5 L52.4,166.2 L52.6,165.9 L52.9,165.7 L53.1,165.6 L53.4,165.4 L53.8,165.1 L54.1,165.0 L54.6,165.0 L55.1,165.0 L55.6,165.1 L55.9,165.2 L56.3,165.4 L56.5,165.6 L56.5,166.1 L56.5,166.6 L56.4,167.1 L56.1,167.3 L55.9,167.4 L55.8,167.9 L55.9,168.4 L56.0,168.6 L56.1,169.1 L56.1,169.6 L56.1,169.9 L56.3,170.4 L56.3,170.9 L56.4,171.2 L56.4,171.6 L56.4,172.0 L56.3,172.4 L56.1,172.8 L55.9,173.1 L55.8,173.4 L55.6,173.6 L55.6,174.1 L55.8,174.4 L55.9,174.6 L56.1,175.1 L56.1,175.5 L56.2,175.9 L56.1,176.1 L55.9,176.6 L55.8,176.9 L55.6,177.1 L55.4,177.4 L55.1,177.6 L54.8,177.9 L54.6,178.1 L54.4,178.6 L54.3,178.9 L54.2,179.4 L54.1,179.7 L54.0,180.1 L54.0,180.6 L53.9,181.1 L53.8,181.4 L53.7,181.9 L53.6,182.1 L53.3,182.4 L53.1,182.6 L52.9,183.0 L52.7,183.4 L52.6,183.8 L52.6,184.1 L52.4,184.5 L52.1,184.9 L51.9,185.1 L51.7,185.4 L51.5,185.6 L51.4,186.0 L51.3,186.4 L51.2,186.9 L51.1,187.1 L50.9,187.6 L50.7,187.9 L50.4,188.1 L50.1,188.2 L49.6,188.3 L49.4,188.5 L49.1,188.7 L48.9,189.1 L48.7,189.4 L48.6,189.6 L48.5,190.1 L48.4,190.6 L48.4,190.9 L48.3,191.4 L48.2,191.9 L48.1,192.1 L47.9,192.6 L47.7,192.9 L47.5,193.1 L47.3,193.4 L47.1,193.7 L47.0,194.1 L46.9,194.4 L46.7,194.9 L46.6,195.1 L46.4,195.6 L46.3,195.9 L46.1,196.3 L46.0,196.6 L45.8,196.9 L45.6,197.1 L45.1,197.4 L44.9,197.5 L44.4,197.6 L44.1,197.7 L43.6,197.8 L43.4,197.9 L42.9,198.1 L42.6,198.2 L42.1,198.2 L41.6,198.3 L41.2,198.4 L40.9,198.6 L40.8,198.9 L40.5,199.1 L40.2,199.4 L39.9,199.5 L39.4,199.5 L39.0,199.4 L38.8,199.1 L38.6,198.9 L38.4,198.4 L38.2,198.1 L38.0,197.9 L37.7,197.6 L37.4,197.5 L36.9,197.5 L36.6,197.6 L36.1,197.8 L35.9,198.1 L35.7,198.4 L35.7,198.9 L35.8,199.4 L35.8,199.9 L35.7,200.4 L35.6,200.7 L35.4,200.9" fill="rgba(0,0,0,0.1)" stroke="rgb(90,90,90)" stroke-width="0.6"/>
<path d="M43.7,194.6 L43.6,194.3 L43.4,194.6 L43.7,194.6" fill="rgba(0,0,0,0.1)" stroke="rgb(90,90,90)" stroke-width="0.6"/>
<path d="M39.6,198.9 L39.3,198.9 L39.0,198.6 L39.0,198.1 L38.9,197.7 L38.8,197.4 L38.6,197.1 L38.1,197.0 L37.6,196.9 L37.4,196.9 L36.9,196.7 L36.6,196.6 L36.5,196.1 L36.4,195.6 L36.4,195.1 L36.4,194.6 L36.6,194.1 L36.7,193.9 L36.9,193.5 L37.0,193.1 L37.1,192.9 L37.3,192.4 L37.5,192.1 L37.7,191.9 L37.9,191.6 L38.1,191.2 L38.3,190.9 L38.4,190.6 L38.6,190.1 L38.7,189.9 L38.9,189.5 L39.1,189.1 L39.4,188.9 L39.6,188.6 L39.7,188.4 L39.9,188.1 L40.0,187.6 L40.1,187.3 L40.2,186.9 L40.4,186.4 L40.4,186.1 L40.6,185.9 L40.9,185.6 L41.2,185.4 L41.5,185.1 L41.7,184.9 L41.9,184.5 L42.0,184.1 L42.0,183.6 L42.1,183.1 L42.1,182.9 L42.3,182.4 L42.5,182.1 L42.7,181.9 L42.9,181.6 L43.1,181.2 L43.3,180.9 L43.4,180.6 L43.6,180.1 L43.7,179.9 L43.8,179.4 L43.9,179.1 L44.0,178.6 L44.1,178.1 L44.2,177.9 L44.4,177.6 L44.6,177.3 L44.9,177.0 L45.1,176.8 L45.4,176.5 L45.6,176.3 L45.9,176.0 L45.9,175.7 L45.8,175.4 L45.6,174.9 L45.5,174.6 L45.4,174.1 L45.6,173.6 L45.8,173.4 L46.0,173.1 L46.3,172.9 L46.6,172.6 L46.9,172.4 L47.1,172.3 L47.4,172.1 L47.9,171.9 L48.1,171.8 L48.3,171.4 L48.4,171.1 L48.5,170.6 L48.5,170.1 L48.6,169.8 L48.9,169.6 L49.1,169.4 L49.4,169.1 L49.8,168.9 L50.1,168.7 L50.4,168.6 L50.9,168.5 L51.2,168.4 L51.6,168.3 L51.9,168.1 L52.2,167.9 L52.4,167.6 L52.6,167.3 L52.9,167.0 L53.1,166.7 L53.4,166.5 L53.7,166.4 L54.1,166.3 L54.6,166.3 L54.9,166.5 L55.0,166.9 L55.0,167.4 L55.1,167.9 L55.2,168.1 L55.3,168.6 L55.4,168.9 L55.5,169.4 L55.5,169.9 L55.6,170.4 L55.7,170.6 L55.7,171.1 L55.8,171.6 L55.7,172.1 L55.6,172.4 L55.4,172.8 L55.2,173.1 L54.9,173.4 L54.6,173.6 L54.4,173.7 L53.9,173.8 L53.6,173.9 L53.9,174.1 L54.1,174.2 L54.5,174.4 L54.8,174.6 L55.0,174.9 L55.2,175.1 L55.4,175.5 L55.6,175.9 L55.4,176.2 L55.1,176.5 L54.9,176.7 L54.6,176.9 L54.2,177.1 L53.9,177.2 L53.6,177.6 L53.4,177.9 L53.3,178.1 L53.4,178.4 L53.5,178.9 L53.5,179.4 L53.5,179.9 L53.5,180.4 L53.4,180.7 L53.2,181.1 L53.1,181.4 L52.8,181.6 L52.4,181.9 L52.1,181.9 L51.6,182.1 L51.6,182.2 L51.8,182.6 L52.0,182.9 L52.1,183.4 L52.1,183.9 L52.0,184.4 L51.8,184.6 L51.5,184.9 L51.4,185.1 L51.2,185.6 L51.1,185.9 L51.0,186.4 L50.9,186.6 L50.6,187.1 L50.5,187.4 L50.2,187.6 L49.9,187.8 L49.6,187.9 L49.2,188.1 L48.9,188.3 L48.6,188.4 L48.4,188.9 L48.3,189.1 L48.2,189.6 L48.1,190.1 L48.1,190.4 L48.0,190.9 L47.9,191.4 L47.8,191.6 L47.6,191.9 L47.4,192.1 L47.1,192.4 L46.9,192.7 L46.7,193.1 L46.6,193.4 L46.5,193.9 L46.4,194.4 L46.3,194.6 L46.1,195.1 L46.0,195.4 L45.9,195.7 L45.7,196.1 L45.6,196.4 L45.1,196.6 L44.9,196.7 L44.4,196.8 L43.9,196.9 L43.6,196.9 L43.3,197.1 L43.0,197.4 L42.6,197.6 L42.4,197.6 L41.9,197.8 L41.4,197.9 L41.1,197.9 L40.6,198.1 L40.4,198.2 L40.1,198.5 L39.9,198.7 L39.6,198.9" fill="rgba(0,0,0,0.1)" stroke="rgb(81,81,81)" stroke-width="0.6"/>
<path d="M43.8,195.6 L43.9,195.4 L44.1,194.9 L44.2,194.6 L44.1,194.3 L43.9,194.1 L43.4,194.0 L43.1,194.1 L42.8,194.4 L42.9,194.7 L43.1,195.1 L43.3,195.4 L43.4,195.6 L43.8,195.6" fill="rgba(0,0,0,0.1)" stroke="rgb(81,81,81)" stroke-width="0.6"/>
<path d="M39.4,196.6 L39.2,196.6 L39.4,196.6" fill="rgba(0,0,0,0.1)" stroke="rgb(81,81,81)" stroke-width="0.6"/>
<path d="M41.6,197.4 L41.1,197.4 L40.8,197.4 L40.4,197.2 L40.1,196.9 L40.0,196.6 L39.9,196.1 L39.7,195.9 L39.6,195.6 L39.1,195.5 L38.6,195.5 L38.1,195.6 L37.6,195.5 L37.3,195.4 L37.2,194.9 L37.2,194.4 L37.4,193.9 L37.6,193.7 L37.8,193.4 L38.0,193.1 L38.1,192.9 L38.4,192.4 L38.5,192.1 L38.6,191.8 L38.8,191.4 L38.9,191.0 L39.0,190.6 L39.1,190.2 L39.3,189.9 L39.5,189.6 L39.8,189.4 L40.0,189.1 L40.1,188.9 L40.4,188.4 L40.4,188.1 L40.6,187.6 L40.6,187.3 L40.7,186.9 L40.8,186.4 L40.9,186.1 L41.1,185.9 L41.4,185.6 L41.7,185.4 L41.9,185.1 L42.0,184.6 L42.1,184.4 L42.2,183.9 L42.3,183.4 L42.4,183.1 L42.6,182.7 L42.9,182.4 L43.1,182.2 L43.4,182.0 L43.6,181.6 L43.7,181.4 L43.9,180.9 L44.0,180.6 L44.1,180.2 L44.2,179.9 L44.3,179.4 L44.3,178.9 L44.4,178.4 L44.4,178.1 L44.6,177.7 L44.9,177.4 L45.1,177.1 L45.4,176.9 L45.6,176.7 L45.9,176.4 L46.1,176.1 L46.2,175.9 L46.1,175.4 L46.1,175.1 L45.9,174.6 L45.9,174.2 L45.8,173.9 L46.1,173.6 L46.3,173.4 L46.6,173.1 L46.9,172.9 L47.1,172.7 L47.4,172.6 L47.8,172.4 L48.1,172.3 L48.6,172.2 L49.1,172.2 L49.6,172.3 L49.9,172.1 L50.2,171.9 L50.1,171.6 L49.9,171.2 L49.6,170.9 L49.4,170.6 L49.3,170.4 L49.3,169.9 L49.5,169.6 L49.9,169.4 L50.1,169.3 L50.6,169.1 L50.9,169.1 L51.4,169.0 L51.9,168.9 L52.1,168.7 L52.4,168.4 L52.6,168.2 L52.9,168.0 L53.1,167.8 L53.4,167.6 L53.7,167.4 L54.0,167.4 L54.2,167.6 L54.4,167.9 L54.6,168.3 L54.8,168.6 L54.9,168.9 L55.0,169.4 L55.1,169.9 L55.1,170.1 L55.2,170.6 L55.3,171.1 L55.3,171.6 L55.2,172.1 L55.1,172.4 L54.9,172.6 L54.6,172.9 L54.4,173.1 L53.9,173.4 L53.6,173.4 L53.1,173.5 L52.6,173.5 L52.1,173.5 L51.6,173.5 L51.4,173.9 L51.8,174.1 L52.1,174.2 L52.6,174.2 L53.1,174.4 L53.4,174.6 L53.6,174.9 L53.7,175.1 L53.9,175.6 L54.1,175.7 L54.1,176.0 L53.9,176.1 L53.6,176.6 L53.5,176.9 L53.4,177.1 L53.1,177.4 L52.9,177.6 L52.5,177.9 L52.4,178.1 L52.6,178.4 L52.8,178.6 L52.9,178.9 L53.0,179.4 L53.1,179.9 L53.0,180.4 L52.9,180.7 L52.6,181.0 L52.4,181.2 L52.1,181.4 L51.7,181.6 L51.4,181.9 L51.3,182.1 L51.3,182.6 L51.4,182.9 L51.5,183.4 L51.5,183.9 L51.4,184.3 L51.1,184.6 L51.0,184.9 L50.9,185.3 L50.8,185.6 L50.7,186.1 L50.6,186.5 L50.4,186.9 L50.2,187.1 L50.0,187.4 L49.6,187.6 L49.4,187.7 L48.9,187.9 L48.6,187.9 L48.1,188.1 L47.9,188.2 L47.8,188.6 L47.8,189.1 L47.8,189.6 L47.8,190.1 L47.7,190.6 L47.6,191.0 L47.3,191.1 L46.9,191.4 L46.6,191.5 L46.3,191.6 L45.9,191.7 L45.6,191.9 L45.5,192.4 L45.6,192.8 L45.8,193.1 L45.9,193.4 L45.9,193.9 L45.9,194.4 L45.9,194.6 L45.7,195.1 L45.4,195.3 L45.1,195.1 L44.9,194.6 L44.8,194.4 L44.6,194.0 L44.4,193.8 L44.1,193.6 L43.6,193.5 L43.2,193.6 L42.9,193.8 L42.6,194.0 L42.4,194.2 L42.2,194.6 L42.4,194.9 L42.6,195.3 L42.8,195.6 L42.9,195.9 L43.1,196.4 L42.9,196.8 L42.6,197.0 L42.4,197.1 L41.9,197.3 L41.6,197.4" fill="rgba(0,0,0,0.1)" stroke="rgb(73,73,73)" stroke-width="0.6"/>
<path d="M41.9,196.9 L41.4,197.1 L40.9,196.9 L40.6,196.6 L40.5,196.4 L40.5,195.9 L40.4,195.4 L40.4,194.9 L40.3,194.6 L39.9,194.4 L39.6,194.2 L39.4,193.9 L39.3,193.6 L39.3,193.1 L39.3,192.6 L39.4,192.1 L39.4,191.9 L39.5,191.4 L39.6,190.9 L39.7,190.6 L39.9,190.4 L40.3,190.1 L40.5,189.9 L40.6,189.6 L40.8,189.1 L40.9,188.7 L40.9,188.4 L41.0,187.9 L41.1,187.4 L41.1,186.9 L41.2,186.6 L41.3,186.1 L41.6,185.9 L41.8,185.6 L42.0,185.4 L42.1,185.1 L42.3,184.6 L42.4,184.1 L42.4,183.9 L42.6,183.4 L42.7,183.1 L42.9,182.8 L43.1,182.5 L43.4,182.4 L43.9,182.1 L44.0,181.9 L44.1,181.6 L44.3,181.1 L44.4,180.9 L44.6,180.4 L44.7,180.1 L44.7,179.6 L44.7,179.1 L44.7,178.6 L44.7,178.1 L44.9,177.8 L45.1,177.5 L45.4,177.2 L45.6,177.0 L45.9,176.8 L46.1,176.5 L46.4,176.2 L46.5,175.9 L46.4,175.4 L46.4,175.0 L46.3,174.6 L46.3,174.1 L46.4,173.8 L46.6,173.6 L46.9,173.4 L47.2,173.1 L47.6,172.9 L47.9,172.8 L48.4,172.6 L48.6,172.6 L49.1,172.6 L49.4,172.6 L49.9,172.6 L50.1,172.5 L50.4,172.4 L50.6,172.1 L50.7,171.6 L50.6,171.2 L50.5,170.9 L50.4,170.4 L50.3,170.1 L50.4,169.8 L50.9,169.6 L51.1,169.6 L51.4,169.6 L51.7,169.6 L52.1,169.4 L52.4,169.2 L52.6,169.0 L52.9,168.8 L53.1,168.6 L53.5,168.4 L53.9,168.3 L54.1,168.6 L54.3,168.9 L54.4,169.1 L54.6,169.6 L54.7,169.9 L54.7,170.4 L54.8,170.9 L54.8,171.4 L54.9,171.9 L54.6,172.2 L54.4,172.5 L54.1,172.8 L53.9,172.9 L53.4,173.0 L52.9,173.1 L52.4,173.0 L51.9,172.9 L51.4,173.1 L51.2,173.4 L51.1,173.8 L51.1,173.9 L51.4,174.1 L51.7,174.4 L52.1,174.5 L52.6,174.6 L52.9,174.8 L53.1,175.0 L53.3,175.4 L53.5,175.6 L53.5,176.1 L53.4,176.4 L53.1,176.8 L52.9,177.1 L52.6,177.3 L52.4,177.5 L52.1,177.6 L51.6,177.9 L51.6,178.1 L51.8,178.4 L52.1,178.6 L52.4,178.9 L52.5,179.1 L52.6,179.5 L52.7,179.9 L52.6,180.3 L52.4,180.6 L52.2,180.9 L51.9,181.1 L51.6,181.3 L51.4,181.5 L51.1,181.8 L51.0,182.1 L50.9,182.6 L50.9,183.1 L50.9,183.4 L50.6,183.9 L50.4,184.1 L50.4,184.3 L50.5,184.6 L50.5,185.1 L50.5,185.6 L50.5,186.1 L50.4,186.4 L50.1,186.8 L49.9,187.1 L49.6,187.2 L49.2,187.4 L48.9,187.5 L48.4,187.6 L48.1,187.7 L47.6,187.8 L47.4,188.1 L47.3,188.4 L47.3,188.9 L47.3,189.4 L47.2,189.9 L47.0,190.1 L46.6,190.2 L46.1,190.2 L45.6,190.1 L45.2,190.4 L45.1,190.9 L45.1,191.1 L45.0,191.6 L44.9,192.1 L44.8,192.4 L44.6,192.8 L44.4,193.0 L43.9,193.1 L43.4,193.1 L43.1,193.2 L42.9,193.4 L42.4,193.6 L42.1,193.8 L41.9,194.0 L41.6,194.3 L41.5,194.6 L41.7,194.9 L41.9,195.1 L42.1,195.5 L42.3,195.9 L42.4,196.1 L42.4,196.6 L42.1,196.8 L41.9,196.9" fill="rgba(0,0,0,0.1)" stroke="rgb(65,65,65)" stroke-width="0.6"/>
<path d="M53.9,172.5 L53.4,172.6 L52.9,172.6 L52.4,172.5 L52.0,172.4 L51.6,172.1 L51.4,171.9 L51.5,171.4 L51.6,171.1 L51.9,170.8 L52.1,170.4 L52.2,170.1 L52.4,169.9 L52.7,169.6 L53.1,169.4 L53.4,169.2 L53.9,169.1 L54.1,169.6 L54.2,169.9 L54.3,170.4 L54.4,170.9 L54.4,171.1 L54.4,171.6 L54.4,171.9 L54.1,172.2 L53.9,172.5" fill="rgba(0,0,0,0.1)" stroke="rgb(57,57,57)" stroke-width="0.6"/>
<path d="M41.6,193.4 L41.1,193.4 L40.9,193.2 L40.6,193.0 L40.4,192.6 L40.3,192.4 L40.4,192.1 L40.6,191.7 L40.8,191.4 L41.1,191.1 L41.4,190.9 L41.6,190.7 L41.9,190.5 L41.9,190.1 L41.8,189.9 L41.6,189.4 L41.6,189.1 L41.5,188.6 L41.5,188.1 L41.5,187.6 L41.5,187.1 L41.6,186.6 L41.6,186.4 L41.9,186.1 L42.1,185.8 L42.3,185.4 L42.4,185.1 L42.5,184.6 L42.5,184.1 L42.6,183.8 L42.8,183.4 L42.9,183.1 L43.1,182.9 L43.4,182.6 L43.9,182.4 L44.1,182.3 L44.5,182.1 L44.6,181.7 L44.7,181.4 L44.9,180.9 L45.0,180.6 L45.1,180.2 L45.1,179.9 L45.1,179.6 L45.0,179.1 L45.0,178.6 L44.9,178.1 L45.1,177.8 L45.4,177.5 L45.6,177.3 L45.9,177.1 L46.2,176.9 L46.4,176.6 L46.6,176.2 L46.7,175.9 L46.7,175.4 L46.7,174.9 L46.7,174.4 L46.8,173.9 L47.1,173.6 L47.4,173.4 L47.6,173.2 L47.9,173.1 L48.4,173.0 L48.9,173.0 L49.4,173.0 L49.9,173.1 L50.2,173.1 L50.6,173.4 L50.7,173.6 L50.9,174.0 L51.1,174.3 L51.4,174.5 L51.7,174.6 L52.1,174.8 L52.4,174.9 L52.7,175.1 L52.9,175.4 L53.1,175.7 L53.1,176.1 L53.0,176.4 L52.8,176.6 L52.6,176.9 L52.3,177.1 L51.9,177.4 L51.6,177.6 L51.4,177.8 L51.3,178.1 L51.4,178.4 L51.6,178.7 L51.9,179.0 L52.1,179.3 L52.3,179.6 L52.4,180.1 L52.1,180.4 L51.9,180.7 L51.6,180.9 L51.4,181.1 L51.1,181.4 L50.9,181.7 L50.7,182.1 L50.6,182.4 L50.5,182.9 L50.4,183.1 L50.1,183.4 L49.8,183.6 L49.6,183.9 L49.5,184.4 L49.7,184.6 L50.0,184.9 L50.1,185.3 L50.2,185.6 L50.2,186.1 L50.1,186.4 L49.9,186.7 L49.6,186.9 L49.1,187.1 L48.9,187.1 L48.4,187.2 L47.9,187.2 L47.6,187.4 L47.4,187.7 L47.1,188.1 L47.0,188.4 L46.9,188.9 L46.8,189.1 L46.6,189.4 L46.3,189.6 L45.9,189.8 L45.4,189.9 L45.1,190.0 L44.9,190.1 L44.5,190.4 L44.5,190.9 L44.4,191.4 L44.3,191.6 L44.2,192.1 L44.1,192.4 L43.8,192.6 L43.4,192.7 L43.0,192.9 L42.6,193.0 L42.3,193.1 L41.9,193.3 L41.6,193.4" fill="rgba(0,0,0,0.1)" stroke="rgb(57,57,57)" stroke-width="0.6"/>
<path d="M41.6,196.6 L41.3,196.6 L41.2,196.1 L41.4,195.7 L41.6,195.9 L41.8,196.4 L41.6,196.6" fill="rgba(0,0,0,0.1)" stroke="rgb(57,57,57)" stroke-width="0.6"/>
<path d="M53.9,172.0 L53.4,172.1 L52.9,172.1 L52.4,171.9 L52.3,171.6 L52.5,171.4 L52.6,171.1 L52.9,170.8 L53.1,170.6 L53.4,170.4 L53.7,170.4 L53.9,170.6 L54.0,171.1 L54.0,171.6 L53.9,172.0" fill="rgba(0,0,0,0.1)" stroke="rgb(49,49,49)" stroke-width="0.6"/>
<path d="M43.6,190.1 L43.4,190.1 L43.1,189.7 L43.0,189.4 L42.9,189.0 L42.8,188.6 L42.6,188.1 L42.5,187.9 L42.4,187.4 L42.4,187.1 L42.3,186.6 L42.4,186.3 L42.5,185.9 L42.6,185.4 L42.6,184.9 L42.6,184.6 L42.7,184.1 L42.9,183.6 L43.0,183.4 L43.2,183.1 L43.4,182.9 L43.9,182.6 L44.1,182.5 L44.5,182.4 L44.9,182.2 L45.1,181.9 L45.2,181.6 L45.3,181.1 L45.4,180.9 L45.5,180.4 L45.5,179.9 L45.4,179.4 L45.3,179.1 L45.2,178.6 L45.2,178.1 L45.4,177.8 L45.6,177.5 L45.9,177.4 L46.3,177.1 L46.6,176.9 L46.7,176.6 L46.9,176.2 L47.0,175.9 L47.0,175.4 L47.0,174.9 L47.1,174.4 L47.1,174.1 L47.4,173.8 L47.6,173.6 L48.1,173.4 L48.4,173.4 L48.9,173.3 L49.3,173.4 L49.6,173.4 L50.1,173.6 L50.3,173.9 L50.5,174.1 L50.8,174.4 L51.1,174.6 L51.4,174.8 L51.6,174.9 L52.1,175.1 L52.4,175.3 L52.6,175.5 L52.9,175.9 L52.6,176.4 L52.4,176.6 L52.1,176.9 L51.9,177.1 L51.6,177.2 L51.4,177.4 L51.1,177.7 L50.9,178.1 L51.1,178.5 L51.4,178.9 L51.5,179.1 L51.7,179.4 L51.9,179.6 L52.0,180.1 L51.8,180.4 L51.5,180.6 L51.2,180.9 L50.9,181.1 L50.7,181.4 L50.6,181.6 L50.4,182.1 L50.3,182.4 L50.1,182.7 L49.9,183.0 L49.6,183.3 L49.4,183.6 L49.3,183.9 L49.1,184.1 L49.2,184.4 L49.4,184.8 L49.6,185.1 L49.8,185.4 L49.9,185.6 L50.0,186.1 L49.9,186.4 L49.6,186.6 L49.1,186.8 L48.6,186.8 L48.1,186.8 L47.6,186.8 L47.4,187.1 L47.2,187.4 L47.1,187.6 L46.9,188.0 L46.7,188.4 L46.6,188.6 L46.4,189.0 L46.1,189.2 L45.8,189.4 L45.4,189.5 L44.9,189.6 L44.6,189.7 L44.1,189.8 L43.9,189.9 L43.6,190.1" fill="rgba(0,0,0,0.1)" stroke="rgb(49,49,49)" stroke-width="0.6"/>
<path d="M42.9,192.4 L42.4,192.5 L41.9,192.5 L41.4,192.4 L41.7,192.1 L42.1,191.9 L42.4,191.8 L42.9,191.6 L43.1,192.1 L42.9,192.4" fill="rgba(0,0,0,0.1)" stroke="rgb(49,49,49)" stroke-width="0.6"/>
<path d="M45.4,189.1 L44.9,189.1 L44.6,189.1 L44.2,188.9 L44.0,188.6 L43.9,188.3 L43.7,187.9 L43.6,187.6 L43.4,187.1 L43.3,186.9 L43.1,186.4 L43.0,186.1 L42.9,185.7 L42.8,185.4 L42.8,184.9 L42.8,184.4 L42.9,184.0 L43.0,183.6 L43.2,183.4 L43.4,183.1 L43.9,182.9 L44.1,182.8 L44.6,182.6 L44.9,182.5 L45.2,182.4 L45.5,182.1 L45.6,181.8 L45.7,181.4 L45.8,180.9 L45.9,180.6 L46.0,180.1 L45.9,179.7 L45.7,179.4 L45.6,179.1 L45.5,178.6 L45.4,178.1 L45.6,177.8 L46.1,177.6 L46.4,177.5 L46.6,177.3 L46.9,177.0 L47.0,176.6 L47.1,176.2 L47.2,175.9 L47.2,175.4 L47.3,174.9 L47.4,174.6 L47.5,174.1 L47.7,173.9 L48.1,173.8 L48.6,173.7 L49.1,173.7 L49.6,173.8 L49.9,174.0 L50.1,174.3 L50.4,174.5 L50.6,174.7 L50.9,174.9 L51.4,175.1 L51.6,175.2 L52.0,175.4 L52.3,175.6 L52.6,175.9 L52.4,176.3 L52.1,176.5 L51.9,176.7 L51.6,176.9 L51.3,177.1 L51.0,177.4 L50.7,177.6 L50.6,177.9 L50.6,178.3 L50.8,178.6 L50.9,178.9 L51.1,179.2 L51.4,179.6 L51.6,179.9 L51.6,180.1 L51.4,180.3 L51.1,180.5 L50.9,180.7 L50.6,181.0 L50.4,181.4 L50.2,181.6 L50.1,182.0 L50.0,182.4 L49.8,182.6 L49.6,182.9 L49.4,183.2 L49.1,183.6 L48.9,183.9 L48.8,184.1 L48.9,184.6 L49.0,184.9 L49.1,185.1 L49.4,185.5 L49.6,185.8 L49.7,186.1 L49.6,186.4 L49.1,186.5 L48.6,186.5 L48.1,186.5 L47.8,186.4 L47.6,186.4 L47.4,186.7 L47.1,187.0 L46.9,187.4 L46.8,187.6 L46.6,187.9 L46.4,188.4 L46.2,188.6 L46.0,188.9 L45.6,189.1 L45.4,189.1" fill="rgba(0,0,0,0.1)" stroke="rgb(40,40,40)" stroke-width="0.6"/>
<path d="M45.6,188.8 L45.1,188.7 L44.8,188.6 L44.5,188.4 L44.3,188.1 L44.1,187.6 L44.0,187.4 L43.9,186.9 L43.8,186.6 L43.6,186.1 L43.4,185.9 L43.2,185.6 L43.1,185.4 L43.0,184.9 L43.0,184.4 L43.1,183.9 L43.2,183.6 L43.4,183.4 L43.8,183.1 L44.1,183.0 L44.6,182.9 L44.9,182.9 L45.4,182.7 L45.6,182.6 L45.9,182.2 L45.9,181.9 L46.0,181.4 L46.1,181.0 L46.2,180.6 L46.4,180.2 L46.4,179.9 L46.3,179.6 L46.2,179.1 L46.1,178.8 L46.0,178.4 L46.1,178.0 L46.5,177.9 L46.9,177.8 L47.2,177.9 L47.4,178.1 L47.8,178.1 L47.6,177.7 L47.3,177.6 L47.3,177.1 L47.3,176.6 L47.4,176.1 L47.4,175.9 L47.5,175.4 L47.6,174.9 L47.8,174.6 L48.1,174.4 L48.4,174.3 L48.9,174.3 L49.2,174.4 L49.5,174.6 L49.6,174.9 L50.1,175.1 L50.4,175.1 L50.9,175.3 L51.3,175.4 L51.6,175.5 L52.0,175.6 L52.2,175.9 L52.1,176.1 L51.9,176.4 L51.4,176.6 L51.1,176.8 L50.9,176.9 L50.6,177.1 L50.4,177.5 L50.2,177.9 L50.2,178.4 L50.4,178.8 L50.5,179.1 L50.6,179.4 L50.9,179.8 L50.9,180.1 L50.6,180.3 L50.4,180.6 L50.2,180.9 L50.0,181.1 L49.9,181.6 L49.8,181.9 L49.6,182.4 L49.4,182.6 L49.3,182.9 L49.1,183.1 L48.9,183.5 L48.6,183.9 L48.5,184.1 L48.5,184.6 L48.5,185.1 L48.4,185.6 L48.1,185.7 L47.6,185.7 L47.4,186.1 L47.2,186.4 L47.0,186.6 L46.9,186.9 L46.6,187.3 L46.5,187.6 L46.3,187.9 L46.1,188.3 L45.9,188.6 L45.6,188.8" fill="rgba(0,0,0,0.1)" stroke="rgb(32,32,32)" stroke-width="0.6"/>
<path d="M45.6,188.5 L45.2,188.4 L44.9,188.1 L44.8,187.9 L44.6,187.5 L44.5,187.1 L44.4,186.8 L44.3,186.4 L44.1,186.1 L43.8,185.9 L43.5,185.6 L43.3,185.4 L43.2,184.9 L43.1,184.6 L43.1,184.1 L43.2,183.9 L43.4,183.6 L43.7,183.4 L44.1,183.3 L44.6,183.2 L45.1,183.2 L45.6,183.2 L45.9,182.9 L46.0,182.6 L46.1,182.4 L46.3,181.9 L46.4,181.4 L46.5,181.1 L46.6,180.6 L46.7,180.4 L46.8,179.9 L46.9,179.6 L47.0,179.1 L47.4,178.9 L47.6,178.9 L48.0,178.6 L48.4,178.4 L48.6,178.3 L48.9,178.0 L48.9,177.9 L48.6,177.6 L48.3,177.4 L48.1,177.1 L47.8,176.9 L47.6,176.6 L47.6,176.1 L47.6,175.7 L47.9,175.4 L48.1,175.3 L48.6,175.3 L48.9,175.4 L49.2,175.6 L49.4,176.1 L49.4,176.4 L49.6,176.9 L49.6,177.1 L49.7,177.6 L49.7,178.1 L49.8,178.6 L49.8,179.1 L49.7,179.6 L49.6,179.9 L49.6,180.4 L49.6,180.9 L49.6,181.4 L49.5,181.9 L49.4,182.2 L49.1,182.6 L48.9,182.9 L48.8,183.1 L48.6,183.4 L48.4,183.7 L48.1,184.1 L48.1,184.4 L47.9,184.8 L47.6,185.1 L47.4,185.4 L47.2,185.6 L47.1,185.9 L46.9,186.3 L46.7,186.6 L46.5,186.9 L46.4,187.1 L46.1,187.6 L46.0,187.9 L45.9,188.1 L45.6,188.5" fill="rgba(0,0,0,0.1)" stroke="rgb(24,24,24)" stroke-width="0.6"/>
<path d="M50.6,176.4 L50.4,176.4 L50.2,175.9 L50.6,175.7 L51.1,175.7 L51.6,175.7 L51.9,175.9 L51.7,176.1 L51.4,176.3 L50.9,176.4 L50.6,176.4" fill="rgba(0,0,0,0.1)" stroke="rgb(24,24,24)" stroke-width="0.6"/>
<path d="M45.6,187.8 L45.4,187.6 L45.1,187.3 L44.9,186.9 L44.9,186.6 L44.6,186.1 L44.4,185.9 L44.1,185.7 L43.9,185.5 L43.6,185.4 L43.4,185.0 L43.3,184.6 L43.2,184.1 L43.4,183.9 L43.6,183.6 L44.1,183.5 L44.6,183.5 L45.1,183.5 L45.4,183.6 L45.8,183.6 L46.0,183.4 L46.2,183.1 L46.4,182.7 L46.5,182.4 L46.6,181.9 L46.7,181.6 L46.8,181.1 L46.9,180.9 L47.1,180.4 L47.2,180.1 L47.4,179.8 L47.6,179.5 L48.1,179.4 L48.4,179.4 L48.6,179.4 L48.9,179.7 L49.0,180.1 L49.1,180.6 L49.1,181.0 L49.1,181.4 L49.1,181.6 L49.1,182.1 L48.9,182.4 L48.6,182.8 L48.4,183.1 L48.2,183.4 L48.1,183.6 L47.9,184.0 L47.6,184.4 L47.4,184.6 L47.2,184.9 L47.0,185.1 L46.9,185.4 L46.6,185.8 L46.5,186.1 L46.4,186.4 L46.1,186.8 L45.9,187.1 L45.8,187.4 L45.6,187.8" fill="rgba(0,0,0,0.1)" stroke="rgb(16,16,16)" stroke-width="0.6"/>
<path d="M47.6,183.7 L47.1,183.8 L46.9,183.6 L46.8,183.1 L46.9,182.7 L46.9,182.4 L47.0,181.9 L47.1,181.4 L47.2,181.1 L47.4,180.8 L47.6,180.4 L47.9,180.3 L48.1,180.4 L48.4,180.6 L48.6,181.1 L48.6,181.4 L48.7,181.9 L48.6,182.2 L48.4,182.5 L48.1,182.9 L48.0,183.1 L47.8,183.4 L47.6,183.7" fill="rgba(0,0,0,0.1)" stroke="rgb(8,8,8)" stroke-width="0.6"/>
<path d="M45.6,186.7 L45.4,186.4 L45.3,186.1 L45.1,185.8 L44.9,185.5 L44.6,185.4 L44.1,185.2 L43.9,185.1 L43.6,184.9 L43.4,184.4 L43.4,184.1 L43.6,183.9 L43.9,183.8 L44.4,183.8 L44.9,183.8 L45.1,183.9 L45.4,184.1 L45.5,184.6 L45.6,185.0 L45.9,185.1 L45.9,185.6 L45.9,186.1 L45.8,186.4 L45.6,186.7" fill="rgba(0,0,0,0.1)" stroke="rgb(8,8,8)" stroke-width="0.6"/>
<path d="M47.6,182.8 L47.4,182.4 L47.3,182.1 L47.4,181.9 L47.6,181.4 L47.9,181.4 L48.0,181.6 L48.1,181.9 L48.1,182.2 L47.9,182.5 L47.6,182.8" fill="rgba(0,0,0,0.1)" stroke="rgb(0,0,0)" stroke-width="0.6"/>
<path d="M44.4,184.6 L44.0,184.6 L43.6,184.5 L43.5,184.1 L43.9,184.0 L44.4,184.0 L44.8,184.1 L44.6,184.6 L44.4,184.6" fill="rgba(0,0,0,0.1)" stroke="rgb(0,0,0)" stroke-width="0.6"/>
<rect x="29" y="147" width="59.7" height="58.30000000000001" stroke="#000" stroke-width="1.5" fill="none" />
<line x1="27.0" y1="147.0" x2="28.5" y2="147.0" stroke="#000" stroke-width="0.8" />
<line x1="27.0" y1="161.6" x2="28.5" y2="161.6" stroke="#000" stroke-width="0.8" />
<line x1="27.0" y1="176.2" x2="28.5" y2="176.2" stroke="#000" stroke-width="0.8" />
<line x1="27.0" y1="190.7" x2="28.5" y2="190.7" stroke="#000" stroke-width="0.8" />
<line x1="27.0" y1="205.3" x2="28.5" y2="205.3" stroke="#000" stroke-width="0.8" />
<text x="26.0" y="206.7" font-size="4.4" font-weight="normal" text-anchor="end" fill="#222" style="font-family:Liberation Serif">1</text>
<text x="26.0" y="192.1" font-size="4.4" font-weight="normal" text-anchor="end" fill="#222" style="font-family:Liberation Serif">10</text>
<text x="26.0" y="177.6" font-size="4.4" font-weight="normal" text-anchor="end" fill="#222" style="font-family:Liberation Serif">100</text>
<text x="26.0" y="163.0" font-size="4.4" font-weight="normal" text-anchor="end" fill="#222" style="font-family:Liberation Serif">1000</text>
<text x="26.0" y="148.4" font-size="4.4" font-weight="normal" text-anchor="end" fill="#222" style="font-family:Liberation Serif">10000</text>
<line x1="29.0" y1="205.8" x2="29.0" y2="207.3" stroke="#000" stroke-width="0.8" />
<line x1="43.9" y1="205.8" x2="43.9" y2="207.3" stroke="#000" stroke-width="0.8" />
<line x1="58.9" y1="205.8" x2="58.9" y2="207.3" stroke="#000" stroke-width="0.8" />
<line x1="73.8" y1="205.8" x2="73.8" y2="207.3" stroke="#000" stroke-width="0.8" />
<line x1="88.7" y1="205.8" x2="88.7" y2="207.3" stroke="#000" stroke-width="0.8" />
<text x="29.0" y="210.8" font-size="4.4" font-weight="normal" text-anchor="middle" fill="#222" style="font-family:Liberation Serif">1</text>
<text x="43.7" y="210.8" font-size="4.4" font-weight="normal" text-anchor="middle" fill="#222" style="font-family:Liberation Serif">10</text>
<text x="58.4" y="210.8" font-size="4.4" font-weight="normal" text-anchor="middle" fill="#222" style="font-family:Liberation Serif">100</text>
<text x="73.0" y="210.8" font-size="4.4" font-weight="normal" text-anchor="middle" fill="#222" style="font-family:Liberation Serif">1000</text>
<text x="87.7" y="210.8" font-size="4.4" font-weight="normal" text-anchor="middle" fill="#222" style="font-family:Liberation Serif">10000</text>
<text x="30.5" y="88" font-size="9.3" font-weight="bold" text-anchor="start" fill="#000"  stroke="#000" stroke-width="0.35">RQ461</text>
<text x="30.5" y="155.4" font-size="9.3" font-weight="bold" text-anchor="start" fill="#000"  stroke="#000" stroke-width="0.35">RM461</text>
<path d="M58.7,91.5 L58.7,81.6 L82.5,81.6 L82.5,93.5" stroke="#000" stroke-width="1.3" stroke-dasharray="2.2,3.6" fill="none"/>
<text x="74.9" y="89.8" font-size="9.6" font-weight="bold" text-anchor="start" fill="#000"  stroke="#000" stroke-width="0.35">a</text>
<rect x="58" y="94.2" width="24.700000000000003" height="13.799999999999997" stroke="#000" stroke-width="1.6" fill="rgba(255,255,255,0.0)" />
<text x="74.3" y="106.9" font-size="13.5" font-weight="bold" text-anchor="start" fill="#000"  stroke="#000" stroke-width="0.35">i</text>
<rect x="58" y="161.3" width="24.700000000000003" height="15.0" stroke="#000" stroke-width="1.6" fill="none" />
<text x="68.9" y="173.2" font-size="13.5" font-weight="bold" text-anchor="start" fill="#000"  textLength="11.6" lengthAdjust="spacingAndGlyphs" stroke="#000" stroke-width="0.35">iii</text>
<line x1="82.7" y1="102" x2="95.5" y2="102.0" stroke="#000" stroke-width="1.4" />
<polygon points="98.80,102.00 95.00,104.20 95.00,99.80" fill="#000"/>
<line x1="82.7" y1="168.8" x2="95.5" y2="168.8" stroke="#000" stroke-width="1.4" />
<polygon points="98.80,168.80 95.00,171.00 95.00,166.60" fill="#000"/>
<line x1="82.5" y1="86" x2="95.72802508232921" y2="63.38434421408232" stroke="#000" stroke-width="1.1" />
<polygon points="98.00,59.50 97.72,65.13 93.23,62.50" fill="#000"/>
<line x1="4.0" y1="147" x2="4.0" y2="118.9" stroke="#000" stroke-width="1.1" />
<polygon points="4.00,114.20 6.40,119.40 1.60,119.40" fill="#000"/>
<text x="0" y="0" font-size="7.6" font-weight="bold" textLength="14.5" lengthAdjust="spacingAndGlyphs" transform="translate(6.9,166.4) rotate(-90)">Gr-1</text>
<text x="35.3" y="223.8" font-size="9.4" font-weight="bold" text-anchor="start" fill="#000"  textLength="26.5" lengthAdjust="spacingAndGlyphs" stroke="#000" stroke-width="0.35">Mac-1</text>
<line x1="62" y1="220.75" x2="75.8" y2="220.75" stroke="#000" stroke-width="1.5" />
<polygon points="81.30,220.75 75.30,223.25 75.30,218.25" fill="#000"/>
<text x="108.2" y="224.1" font-size="10.8" font-weight="bold" text-anchor="start" fill="#000"  textLength="21.7" lengthAdjust="spacingAndGlyphs" stroke="#000" stroke-width="0.35">FSC</text>
<line x1="130.5" y1="220.7" x2="145.1" y2="220.7" stroke="#000" stroke-width="1.5" />
<polygon points="150.60,220.70 144.60,223.20 144.60,218.20" fill="#000"/>
<text x="185.3" y="13.5" font-size="17.8" font-weight="bold" text-anchor="start" fill="#000"  stroke="#000" stroke-width="0.35">B</text>
<text x="186.8" y="38.4" font-size="13.6" font-weight="bold" text-anchor="start" fill="#000"  textLength="166.5" lengthAdjust="spacingAndGlyphs" stroke="#000" stroke-width="0.35">MACS-separated PB cells</text>
<ellipse cx="226.3" cy="86.2" rx="2.3" ry="3.3" transform="rotate(20 226.3 86.2)" fill="none" stroke="#888" stroke-width="0.7"/>
<path d="M236.7,115.9 L236.9,115.6 L237.2,115.4 L237.4,115.1 L237.5,114.6 L237.3,114.2 L237.1,113.9 L236.9,113.6 L236.7,113.4 L236.5,113.1 L236.3,112.6 L236.3,112.2 L236.3,111.9 L236.3,111.4 L236.2,110.9 L236.3,110.4 L236.3,110.1 L236.4,109.6 L236.5,109.1 L236.6,108.7 L236.6,108.6 L236.5,108.1 L236.4,107.6 L236.3,107.4 L236.2,106.9 L236.2,106.4 L236.4,106.1 L236.6,105.9 L237.1,105.6 L237.3,105.4 L237.5,105.1 L237.7,104.9 L237.8,104.5 L237.8,104.3 L237.6,104.0 L237.3,103.7 L237.1,103.5 L236.8,103.4 L236.5,103.1 L236.3,102.9 L236.1,102.4 L236.1,101.9 L236.1,101.4 L236.1,100.9 L236.1,100.4 L236.3,100.1 L236.6,99.8 L236.8,99.5 L237.1,99.2 L237.2,98.9 L237.3,98.6 L237.4,98.1 L237.3,97.6 L237.3,97.4 L237.2,96.9 L237.2,96.4 L237.2,95.9 L237.1,95.4 L237.1,94.9 L237.1,94.4 L237.1,94.0 L237.0,93.6 L236.9,93.1 L236.8,92.7 L236.8,92.4 L236.8,91.9 L236.8,91.6 L236.9,91.1 L237.0,90.6 L237.1,90.4 L237.2,89.9 L237.2,89.4 L237.3,88.9 L237.3,88.4 L237.3,88.1 L237.4,87.6 L237.4,87.1 L237.5,86.6 L237.5,86.1 L237.6,85.9 L237.7,85.4 L237.8,84.9 L237.9,84.6 L238.0,84.1 L238.0,83.6 L238.1,83.1 L238.1,82.9 L238.1,82.4 L238.2,81.9 L238.4,81.6 L238.5,81.1 L238.6,80.9 L238.6,80.4 L238.7,79.9 L238.8,79.4 L238.8,78.9 L238.9,78.6 L239.0,78.1 L239.1,77.8 L239.2,77.4 L239.3,76.9 L239.4,76.6 L239.5,76.1 L239.6,75.9 L239.8,75.4 L239.8,75.1 L239.9,74.6 L240.0,74.1 L240.1,73.8 L240.1,73.4 L240.2,72.9 L240.3,72.4 L240.3,72.1 L240.4,71.6 L240.4,71.1 L240.4,70.6 L240.5,70.1 L240.5,69.6 L240.6,69.3 L240.7,68.9 L240.8,68.6 L241.1,68.1 L241.3,67.9 L241.4,67.6 L241.6,67.4 L241.8,67.0 L242.1,66.6 L242.2,66.4 L242.4,66.1 L242.6,65.9 L242.8,65.4 L242.9,65.1 L242.8,64.6 L242.8,64.1 L242.8,63.6 L242.9,63.1 L243.1,62.9 L243.3,62.5 L243.6,62.2 L243.8,61.9 L243.9,61.6 L244.1,61.1 L244.1,60.9 L244.3,60.4 L244.3,60.1 L244.5,59.6 L244.6,59.4 L244.8,58.9 L245.1,58.7 L245.3,58.5 L245.6,58.3 L245.8,58.1 L246.2,57.9 L246.4,57.6 L246.7,57.4 L246.9,57.1" fill="none" stroke="#888" stroke-width="0.6"/>
<path d="M253.0,57.1 L253.3,57.3 L253.8,57.1" fill="none" stroke="#888" stroke-width="0.6"/>
<path d="M256.5,57.1 L256.2,57.4 L256.0,57.6 L255.7,57.9 L255.3,58.1 L255.1,58.4 L254.9,58.6 L254.8,59.0 L254.8,59.2 L255.1,59.5 L255.3,59.8 L255.6,60.0 L255.8,60.2 L256.1,60.4 L256.4,60.6 L256.7,60.9 L257.0,61.1 L257.1,61.4 L257.3,61.8 L257.5,62.1 L257.7,62.4 L257.9,62.6 L258.1,62.9 L258.3,63.3 L258.4,63.6 L258.5,64.1 L258.5,64.6 L258.5,65.1 L258.6,65.5 L258.8,65.9 L259.0,66.1 L259.2,66.4 L259.5,66.6 L259.8,66.9 L260.0,67.1 L260.2,67.4 L260.3,67.7 L260.5,68.1 L260.6,68.5 L260.7,68.9 L260.8,69.4 L260.9,69.6 L261.1,70.1 L261.1,70.4 L261.3,70.9 L261.4,71.1 L261.5,71.6 L261.4,72.1 L261.3,72.6 L261.3,72.9 L261.2,73.4 L261.3,73.9 L261.4,74.1 L261.6,74.6 L261.7,74.9 L261.8,75.2 L262.0,75.6 L261.9,76.1 L261.8,76.4 L261.7,76.9 L261.6,77.4 L261.5,77.6 L261.4,78.1 L261.3,78.5 L261.2,78.9 L261.1,79.2 L260.9,79.6 L261.0,80.1 L261.1,80.4 L261.2,80.9 L261.3,81.3 L261.4,81.6 L261.3,82.0 L261.1,82.3 L260.9,82.6 L260.8,82.9 L260.6,83.4 L260.5,83.6 L260.4,84.1 L260.3,84.4 L260.2,84.9 L260.1,85.2 L259.9,85.6 L259.8,85.9 L259.7,86.4 L259.7,86.9 L259.7,87.4 L259.6,87.9 L259.6,88.1 L259.3,88.4 L259.1,88.8 L258.9,89.1 L258.7,89.4 L258.6,89.7 L258.4,90.1 L258.2,90.4 L258.0,90.6 L257.8,91.0 L257.6,91.4 L257.4,91.6 L257.3,91.9 L257.2,92.4 L257.3,92.9 L257.3,93.2 L257.4,93.6 L257.5,94.1 L257.3,94.6 L257.2,94.9 L257.1,95.3 L257.0,95.6 L256.9,96.1 L256.8,96.4 L256.7,96.9 L256.6,97.4 L256.5,97.6 L256.3,98.1 L256.2,98.4 L256.0,98.6 L255.7,98.9 L255.5,99.1 L255.3,99.6 L255.3,99.9 L255.1,100.4 L255.3,100.9 L255.3,101.1 L255.5,101.6 L255.6,102.0 L255.7,102.4 L255.7,102.9 L255.6,103.4 L255.6,103.9 L255.6,104.4 L255.5,104.6 L255.3,105.0 L255.1,105.4 L255.0,105.6 L254.8,105.9 L254.6,106.4 L254.5,106.6 L254.3,107.1 L254.2,107.4 L254.0,107.6 L253.8,107.9 L253.6,108.2 L253.5,108.6 L253.7,108.9 L254.0,109.1 L254.2,109.4 L254.3,109.6 L254.5,110.1 L254.6,110.4 L254.6,110.7 L254.3,111.0 L254.1,111.3 L253.9,111.6 L253.7,111.9 L253.5,112.1 L253.3,112.4 L253.1,112.9 L253.1,112.9 L253.1,113.4 L253.2,113.9 L253.3,114.3 L253.4,114.6 L253.3,115.1 L253.2,115.4 L253.1,115.9" fill="none" stroke="#888" stroke-width="0.6"/>
<path d="M245.2,115.9 L244.8,115.8 L244.3,115.7 L243.8,115.7 L243.6,115.6 L243.1,115.6 L242.8,115.7 L242.3,115.8 L241.8,115.8 L241.3,115.8 L241.0,115.6 L240.6,115.4 L240.3,115.1 L240.1,114.9 L240.0,114.6 L239.9,114.1 L239.9,113.6 L239.8,113.1 L239.8,112.9 L239.9,112.6 L240.1,112.3 L240.3,112.0 L240.6,111.8 L240.8,111.6 L241.2,111.4 L241.4,111.1 L241.6,110.9 L241.7,110.4 L241.6,110.1 L241.3,109.8 L241.1,109.6 L240.6,109.4 L240.3,109.4 L239.8,109.2 L239.6,109.1 L239.2,108.9 L238.9,108.6 L239.0,108.1 L239.1,107.8 L239.3,107.4 L239.4,107.1 L239.6,106.8 L239.7,106.4 L239.8,105.9 L239.8,105.6 L239.9,105.1 L240.0,104.6 L240.1,104.1 L240.1,103.9 L240.2,103.4 L240.3,102.9 L240.3,102.4 L240.2,101.9 L240.1,101.4 L240.0,101.1 L239.8,100.7 L239.7,100.4 L239.8,99.9 L239.8,99.5 L239.9,99.1 L240.0,98.6 L240.1,98.4 L240.1,98.1 L240.0,97.6 L239.9,97.1 L239.8,96.6 L239.8,96.4 L239.8,96.1 L240.1,95.7 L240.3,95.4 L240.6,95.2 L240.8,95.0 L241.1,94.9 L241.3,94.6 L241.5,94.1 L241.3,93.8 L241.1,93.5 L240.8,93.3 L240.6,93.1 L240.3,92.7 L240.2,92.4 L240.1,91.9 L240.2,91.4 L240.3,90.9 L240.3,90.6 L240.6,90.1 L240.6,90.1 L240.3,89.8 L240.2,89.4 L240.1,89.0 L240.0,88.6 L240.0,88.1 L240.1,87.6 L240.2,87.4 L240.3,87.0 L240.5,86.6 L240.6,86.4 L240.8,85.9 L240.7,85.4 L240.6,84.9 L240.6,84.6 L240.5,84.1 L240.5,83.6 L240.5,83.1 L240.5,82.6 L240.5,82.1 L240.5,81.6 L240.6,81.1 L240.6,80.9 L240.7,80.4 L240.8,79.9 L241.0,79.6 L241.1,79.4 L241.3,79.0 L241.5,78.6 L241.6,78.4 L241.8,77.9 L241.8,77.6 L242.0,77.1 L242.1,76.7 L242.2,76.4 L242.3,75.9 L242.4,75.6 L242.3,75.2 L242.3,74.9 L242.2,74.4 L242.2,73.9 L242.2,73.4 L242.3,73.1 L242.5,72.6 L242.6,72.3 L242.8,71.9 L242.9,71.6 L243.1,71.2 L243.3,70.9 L243.5,70.6 L243.6,70.4 L243.8,70.1 L244.1,69.7 L244.2,69.4 L244.3,69.1 L244.6,68.7 L244.8,68.4 L245.0,68.1 L245.2,67.9 L245.5,67.6 L245.7,67.4 L245.9,67.1 L246.1,66.8 L246.3,66.4 L246.4,66.1 L246.5,65.6 L246.6,65.4 L246.9,65.1 L247.2,64.9 L247.6,64.7 L247.8,64.5 L248.2,64.4 L248.5,64.1 L248.8,63.9 L249.0,63.6 L249.1,63.4 L249.3,63.0 L249.6,63.2 L249.8,63.6 L250.1,63.8 L250.3,63.9 L250.8,64.1 L251.1,64.2 L251.6,64.3 L252.0,64.1 L252.3,64.0 L252.6,63.9 L253.1,63.6 L253.3,63.5 L253.6,63.6 L253.8,64.0 L254.1,64.4 L254.2,64.6 L254.4,64.9 L254.6,65.1 L254.8,65.4 L255.1,65.7 L255.3,65.9 L255.6,66.1 L256.0,66.4 L256.2,66.6 L256.4,66.9 L256.6,67.2 L256.8,67.6 L256.9,67.9 L257.1,68.3 L257.3,68.6 L257.5,68.9 L257.8,69.1 L258.1,69.3 L258.3,69.5 L258.6,69.7 L258.8,70.0 L259.1,70.4 L259.2,70.6 L259.3,70.9 L259.6,71.4 L259.6,71.6 L259.6,72.1 L259.6,72.4 L259.5,72.9 L259.5,73.4 L259.5,73.9 L259.4,74.4 L259.4,74.9 L259.3,75.1 L259.2,75.6 L259.3,75.9 L259.6,76.4 L259.7,76.6 L259.8,77.1 L259.9,77.4 L259.9,77.9 L259.8,78.1 L259.6,78.6 L259.6,78.9 L259.4,79.4 L259.3,79.6 L259.2,80.1 L259.1,80.6 L259.0,80.9 L258.9,81.4 L258.8,81.7 L258.8,82.1 L258.7,82.6 L258.7,83.1 L258.6,83.6 L258.5,83.9 L258.3,84.3 L258.2,84.6 L258.0,84.9 L257.8,85.2 L257.6,85.6 L257.5,85.9 L257.3,86.3 L257.2,86.6 L257.1,87.1 L256.9,87.4 L256.8,87.6 L256.5,87.9 L256.3,88.1 L256.1,88.5 L255.9,88.9 L255.8,89.3 L255.8,89.6 L255.7,90.1 L255.6,90.5 L255.5,90.9 L255.3,91.4 L255.2,91.6 L255.1,91.9 L254.8,92.2 L254.5,92.4 L254.2,92.6 L253.8,92.8 L253.6,92.9 L253.4,93.4 L253.3,93.7 L253.2,94.1 L253.1,94.6 L253.0,94.9 L252.8,95.3 L252.7,95.6 L252.5,95.9 L252.3,96.2 L252.2,96.6 L252.1,97.0 L251.8,97.1 L251.4,97.4 L251.2,97.6 L251.1,98.0 L250.9,98.4 L250.9,98.9 L250.9,99.4 L250.9,99.9 L250.9,100.4 L251.0,100.9 L251.1,101.4 L251.1,101.6 L251.2,102.1 L251.3,102.5 L251.7,102.6 L252.1,102.9 L252.2,103.1 L252.3,103.6 L252.3,103.9 L252.4,104.4 L252.3,104.6 L252.1,104.9 L251.8,105.1 L251.5,105.4 L251.1,105.6 L250.8,105.7 L250.5,105.9 L250.1,106.1 L249.8,106.4 L249.7,106.6 L249.7,107.1 L249.6,107.6 L249.3,107.8 L249.2,108.1 L249.1,108.6 L249.1,108.9 L249.0,109.4 L248.9,109.9 L248.8,110.4 L248.8,110.6 L248.8,111.1 L248.7,111.6 L248.7,112.1 L248.6,112.6 L248.6,112.7 L248.8,113.1 L248.9,113.4 L249.0,113.9 L249.1,114.4 L249.1,114.6 L249.1,115.0 L249.0,115.4 L249.0,115.9" fill="none" stroke="#888" stroke-width="0.6"/>
<path d="M253.1,98.6 L252.8,98.6 L252.5,98.4 L252.6,98.0 L253.1,98.0 L253.4,98.1 L253.3,98.6 L253.1,98.6" fill="none" stroke="#888" stroke-width="0.6"/>
<path d="M251.3,109.4 L250.8,109.4 L250.5,109.4 L250.1,109.2 L249.8,108.9 L249.7,108.6 L249.7,108.1 L249.8,107.7 L250.3,107.7 L250.8,107.8 L251.3,107.9 L251.6,108.1 L251.8,108.4 L251.9,108.6 L251.7,108.9 L251.6,109.2 L251.3,109.4" fill="none" stroke="#888" stroke-width="0.6"/>
<path d="M246.3,103.9 L245.8,104.0 L245.3,104.0 L245.1,103.9 L244.8,103.6 L244.5,103.4 L244.3,103.1 L244.1,102.8 L243.8,102.4 L243.8,102.3 L244.0,101.9 L244.1,101.6 L244.3,101.2 L244.6,100.9 L244.8,100.7 L245.1,100.6 L245.5,100.4 L245.6,100.1 L245.8,99.6 L245.9,99.4 L246.1,99.1 L246.3,98.6 L246.4,98.4 L246.2,98.1 L245.8,97.9 L245.6,97.8 L245.3,97.6 L244.9,97.4 L244.7,97.1 L244.5,96.9 L244.3,96.4 L244.2,96.1 L244.1,95.7 L243.9,95.4 L243.8,95.1 L243.6,94.7 L243.3,94.4 L243.2,94.1 L243.1,93.6 L243.1,93.2 L243.0,92.9 L242.9,92.4 L242.7,92.1 L242.6,91.9 L242.4,91.4 L242.3,91.0 L242.3,90.6 L242.2,90.1 L242.2,89.6 L242.3,89.1 L242.3,88.9 L242.6,88.4 L242.8,88.3 L243.2,88.1 L243.1,87.6 L242.8,87.5 L242.6,87.3 L242.4,86.9 L242.3,86.4 L242.3,86.1 L242.3,85.8 L242.5,85.4 L242.6,85.1 L242.8,84.8 L243.1,84.6 L243.3,84.3 L243.4,83.9 L243.3,83.5 L243.1,83.2 L242.8,83.1 L242.5,82.9 L242.3,82.6 L242.1,82.3 L241.9,81.9 L242.0,81.4 L242.1,81.1 L242.2,80.6 L242.3,80.1 L242.3,79.9 L242.4,79.4 L242.5,78.9 L242.6,78.6 L242.7,78.1 L242.7,77.6 L242.8,77.3 L243.0,76.9 L243.1,76.6 L243.3,76.1 L243.4,75.9 L243.4,75.4 L243.4,74.9 L243.4,74.4 L243.4,73.9 L243.5,73.4 L243.7,73.1 L243.9,72.9 L244.1,72.6 L244.4,72.4 L244.7,72.1 L245.1,71.9 L245.3,71.8 L245.8,71.8 L246.3,71.8 L246.8,71.9 L247.1,71.9 L247.4,71.9 L247.6,71.6 L247.6,71.4 L247.3,71.0 L246.8,70.9 L246.6,70.8 L246.3,70.5 L246.2,70.1 L246.1,69.6 L246.3,69.2 L246.6,69.0 L246.8,68.8 L247.1,68.6 L247.5,68.4 L247.8,68.2 L248.2,68.1 L248.6,68.0 L249.1,67.9 L249.4,67.9 L249.8,67.7 L250.3,67.6 L250.6,67.5 L251.1,67.4 L251.3,67.2 L251.6,67.1 L252.1,66.9 L252.3,66.9 L252.8,66.8 L253.3,66.9 L253.6,66.9 L253.9,67.1 L254.3,67.3 L254.6,67.6 L254.7,67.9 L254.9,68.1 L255.1,68.6 L255.2,68.9 L255.3,69.4 L255.4,69.6 L255.6,69.9 L256.0,70.1 L256.3,70.3 L256.6,70.4 L257.1,70.6 L257.3,70.7 L257.6,70.9 L257.8,71.1 L258.1,71.5 L258.2,71.9 L258.3,72.4 L258.3,72.7 L258.4,73.1 L258.4,73.6 L258.3,74.1 L258.3,74.4 L258.2,74.9 L258.1,75.4 L258.2,75.9 L258.3,76.2 L258.5,76.6 L258.6,76.9 L258.7,77.4 L258.8,77.9 L258.6,78.4 L258.6,78.6 L258.4,79.1 L258.3,79.4 L258.1,79.9 L258.1,80.2 L258.0,80.6 L257.8,81.1 L257.7,81.4 L257.6,81.9 L257.5,82.1 L257.5,82.6 L257.3,83.1 L257.3,83.4 L257.1,83.9 L257.0,84.1 L256.8,84.4 L256.6,84.8 L256.3,85.1 L256.1,85.4 L255.9,85.6 L255.6,85.9 L255.3,86.1 L255.1,86.4 L255.0,86.6 L254.8,87.0 L254.7,87.4 L254.6,87.9 L254.6,88.1 L254.5,88.6 L254.4,89.1 L254.3,89.5 L254.2,89.9 L254.1,90.2 L253.8,90.5 L253.6,90.7 L253.3,90.9 L253.1,91.1 L252.8,91.4 L252.6,91.8 L252.4,92.1 L252.3,92.4 L252.1,92.9 L252.0,93.1 L251.8,93.5 L251.6,93.9 L251.5,94.1 L251.3,94.4 L251.1,94.6 L250.8,95.1 L250.7,95.4 L250.6,95.9 L250.5,96.1 L250.3,96.6 L250.1,96.9 L250.0,97.1 L249.8,97.4 L249.5,97.6 L249.1,97.8 L248.8,97.9 L248.4,98.1 L248.1,98.4 L248.1,98.6 L248.1,98.9 L248.1,99.4 L248.1,99.9 L248.1,100.4 L248.0,100.6 L247.9,101.1 L247.7,101.4 L247.6,101.6 L247.3,101.9 L247.1,102.4 L247.1,102.6 L247.0,103.1 L246.8,103.5 L246.6,103.8 L246.3,103.9" fill="none" stroke="#888" stroke-width="0.6"/>
<path d="M247.4,92.6 L247.8,92.5 L248.1,92.4 L248.6,92.2 L248.9,92.1 L248.6,92.0 L248.1,92.0 L247.6,91.9 L247.1,92.0 L247.1,92.3 L247.3,92.6 L247.4,92.6" fill="none" stroke="#888" stroke-width="0.6"/>
<path d="M244.6,107.4 L244.1,107.4 L243.6,107.4 L243.1,107.4 L242.8,107.3 L242.6,107.1 L242.3,106.9 L242.1,106.4 L242.3,106.1 L242.6,105.8 L242.8,105.6 L243.3,105.4 L243.8,105.4 L244.3,105.4 L244.8,105.5 L245.1,105.7 L245.3,106.1 L245.4,106.4 L245.3,106.8 L245.1,107.1 L244.8,107.3 L244.6,107.4" fill="none" stroke="#888" stroke-width="0.6"/>
<path d="M245.3,92.9 L245.1,92.6 L244.8,92.1 L245.0,91.6 L245.3,91.4 L245.6,91.1 L245.6,90.9 L245.6,90.4 L245.6,90.1 L245.3,89.7 L244.8,89.7 L244.4,89.6 L244.2,89.4 L244.1,88.9 L244.1,88.4 L244.1,87.9 L244.2,87.4 L244.3,86.9 L244.6,86.7 L244.8,86.6 L245.3,86.4 L245.5,86.1 L245.6,85.9 L245.4,85.6 L245.1,85.4 L244.7,85.4 L244.3,85.1 L244.2,84.9 L244.1,84.4 L244.1,84.1 L244.0,83.6 L243.9,83.1 L243.8,82.8 L243.7,82.4 L243.6,82.0 L243.5,81.6 L243.5,81.1 L243.6,80.8 L243.6,80.4 L243.7,79.9 L243.8,79.4 L243.8,79.1 L244.0,78.6 L244.1,78.4 L244.4,78.1 L244.8,78.0 L245.2,77.9 L245.1,77.5 L244.6,77.4 L244.4,77.1 L244.4,76.6 L244.3,76.1 L244.3,75.6 L244.4,75.1 L244.4,74.6 L244.5,74.1 L244.6,73.6 L244.8,73.4 L245.0,73.1 L245.3,72.9 L245.6,72.9 L246.1,72.8 L246.6,72.8 L246.9,72.9 L247.3,73.0 L247.6,72.7 L247.8,72.4 L248.0,72.1 L248.2,71.9 L248.4,71.6 L248.3,71.2 L248.2,70.9 L248.1,70.4 L248.0,70.1 L247.8,69.7 L247.8,69.6 L248.1,69.3 L248.5,69.1 L248.8,69.0 L249.3,68.9 L249.6,68.8 L250.1,68.7 L250.6,68.7 L250.8,68.6 L251.3,68.6 L251.7,68.6 L252.1,68.8 L252.3,68.9 L252.6,69.1 L252.8,69.4 L253.1,69.7 L253.4,69.9 L253.8,70.1 L254.1,70.2 L254.3,70.4 L254.6,70.7 L254.8,71.0 L255.0,71.4 L255.1,71.6 L255.3,71.9 L255.6,72.1 L256.1,72.2 L256.6,72.4 L256.8,72.6 L257.1,72.9 L257.2,73.1 L257.3,73.4 L257.4,73.9 L257.3,74.4 L257.3,74.6 L257.2,75.1 L257.2,75.6 L257.3,76.1 L257.4,76.4 L257.6,76.7 L257.7,77.1 L257.8,77.5 L257.8,77.9 L257.8,78.1 L257.6,78.6 L257.6,78.9 L257.3,79.4 L257.2,79.6 L257.1,79.9 L257.0,80.4 L257.0,80.9 L256.9,81.4 L256.9,81.9 L256.8,82.1 L256.6,82.6 L256.5,82.9 L256.3,83.4 L256.2,83.6 L256.1,83.9 L255.8,84.2 L255.6,84.5 L255.3,84.7 L255.1,84.9 L254.7,85.1 L254.3,85.4 L254.1,85.5 L253.7,85.6 L253.3,85.8 L253.3,86.1 L253.4,86.4 L253.5,86.9 L253.6,87.1 L253.6,87.6 L253.6,88.1 L253.5,88.4 L253.3,88.7 L253.1,89.1 L252.8,89.4 L252.6,89.6 L252.4,89.9 L252.1,90.1 L251.8,90.4 L251.7,90.6 L251.5,90.9 L251.1,90.9 L250.9,90.6 L250.7,90.4 L250.5,90.1 L250.3,89.9 L250.0,89.6 L249.7,89.4 L249.3,89.3 L249.1,89.6 L249.0,89.9 L248.8,90.3 L248.6,90.6 L248.3,90.9 L248.1,91.0 L247.7,91.1 L247.3,91.2 L246.8,91.3 L246.3,91.3 L245.8,91.4 L245.7,91.6 L245.6,92.1 L245.6,92.4 L245.3,92.9" fill="none" stroke="#888" stroke-width="0.6"/>
<path d="M247.3,90.7 L247.1,90.6 L246.6,90.4 L246.4,90.1 L246.3,89.9 L246.1,89.5 L245.8,89.2 L245.6,89.0 L245.3,88.9 L245.0,88.6 L244.8,88.3 L244.7,87.9 L244.8,87.6 L245.1,87.3 L245.3,87.1 L245.6,86.9 L245.8,86.5 L246.0,86.1 L245.8,85.6 L245.7,85.4 L245.4,85.1 L245.1,84.9 L244.8,84.6 L244.7,84.4 L244.6,84.1 L244.5,83.6 L244.5,83.1 L244.4,82.6 L244.5,82.1 L244.5,81.6 L244.6,81.2 L244.7,80.9 L244.8,80.4 L244.9,80.1 L245.1,79.9 L245.3,79.5 L245.4,79.1 L245.6,78.7 L245.6,78.4 L245.8,77.9 L245.7,77.4 L245.6,77.1 L245.3,76.6 L245.2,76.4 L245.1,76.1 L244.9,75.6 L245.0,75.1 L245.1,74.8 L245.2,74.4 L245.3,73.9 L245.6,73.7 L245.8,73.6 L246.3,73.6 L246.8,73.6 L247.1,73.6 L247.4,73.6 L247.6,73.4 L247.8,73.1 L248.1,72.8 L248.3,72.5 L248.6,72.1 L248.8,71.9 L249.0,71.6 L249.0,71.1 L249.1,70.7 L249.1,70.4 L249.3,69.9 L249.6,69.7 L249.8,69.6 L250.3,69.5 L250.8,69.4 L251.3,69.4 L251.7,69.6 L251.9,69.9 L252.2,70.1 L252.6,70.3 L252.8,70.4 L253.3,70.6 L253.6,70.7 L253.8,70.9 L254.1,71.1 L254.3,71.4 L254.6,71.9 L254.7,72.1 L254.9,72.4 L255.1,72.6 L255.4,72.9 L255.8,73.1 L256.1,73.3 L256.3,73.6 L256.4,73.9 L256.5,74.4 L256.5,74.9 L256.5,75.4 L256.6,75.8 L256.7,76.1 L256.8,76.6 L256.9,76.9 L257.0,77.4 L257.1,77.6 L257.1,77.9 L256.9,78.4 L256.8,78.6 L256.6,78.9 L256.3,79.2 L256.1,79.5 L255.9,79.9 L256.1,80.1 L256.2,80.6 L256.3,81.1 L256.3,81.4 L256.3,81.9 L256.3,82.1 L256.1,82.6 L256.0,82.9 L255.8,83.1 L255.6,83.5 L255.3,83.8 L255.1,84.0 L254.8,84.2 L254.6,84.4 L254.2,84.6 L253.8,84.8 L253.6,84.9 L253.3,85.1 L253.0,85.4 L252.7,85.6 L252.4,85.9 L252.3,86.1 L252.3,86.6 L252.2,87.1 L252.1,87.4 L251.8,87.8 L251.6,88.0 L251.3,88.1 L250.8,88.3 L250.3,88.2 L249.8,88.2 L249.6,88.1 L249.3,88.1 L249.0,88.4 L248.8,88.6 L248.6,89.1 L248.5,89.4 L248.3,89.9 L248.2,90.1 L247.9,90.4 L247.6,90.6 L247.3,90.7" fill="rgba(0,0,0,0.06)" stroke="rgb(130,130,130)" stroke-width="0.6"/>
<path d="M249.4,79.6 L249.3,79.6 L249.4,79.6" fill="rgba(0,0,0,0.06)" stroke="rgb(130,130,130)" stroke-width="0.6"/>
<path d="M247.6,90.1 L247.1,90.2 L246.9,89.9 L246.8,89.4 L246.7,89.1 L246.6,88.8 L246.3,88.6 L245.9,88.4 L245.6,88.3 L245.2,88.1 L245.3,87.8 L245.6,87.6 L245.9,87.4 L246.1,87.1 L246.2,86.6 L246.3,86.1 L246.2,85.6 L246.0,85.4 L245.8,85.1 L245.6,84.8 L245.3,84.6 L245.1,84.3 L244.8,84.0 L244.8,83.6 L244.8,83.4 L244.9,82.9 L245.0,82.4 L245.1,82.1 L245.3,81.6 L245.3,81.4 L245.5,80.9 L245.6,80.5 L245.7,80.1 L245.8,79.6 L245.8,79.4 L245.9,78.9 L246.0,78.4 L246.1,78.0 L246.1,77.6 L246.0,77.4 L245.9,76.9 L245.8,76.6 L245.7,76.1 L245.6,75.9 L245.6,75.4 L245.7,75.1 L245.9,74.9 L246.2,74.6 L246.6,74.5 L247.0,74.4 L247.3,74.3 L247.6,74.1 L247.8,73.7 L248.0,73.4 L248.3,73.1 L248.5,72.9 L248.7,72.6 L248.9,72.4 L249.1,72.1 L249.3,71.7 L249.7,71.6 L250.1,71.5 L250.6,71.5 L251.1,71.5 L251.3,71.7 L251.6,71.5 L251.8,71.2 L252.2,71.1 L252.6,71.1 L253.1,71.1 L253.3,71.1 L253.7,71.4 L253.9,71.6 L254.1,72.1 L254.2,72.4 L254.3,72.6 L254.6,73.0 L254.8,73.2 L255.1,73.4 L255.5,73.6 L255.7,73.9 L255.8,74.2 L255.9,74.6 L256.0,75.1 L256.1,75.5 L256.1,75.9 L256.3,76.4 L256.3,76.7 L256.4,77.1 L256.5,77.6 L256.4,78.1 L256.2,78.4 L256.0,78.6 L255.8,78.9 L255.6,79.1 L255.3,79.4 L255.1,79.8 L255.1,79.9 L255.3,80.1 L255.6,80.4 L255.8,80.9 L255.9,81.1 L256.0,81.6 L255.9,82.1 L255.8,82.4 L255.6,82.8 L255.3,83.0 L255.1,83.2 L254.8,83.4 L254.6,83.7 L254.3,83.9 L254.0,84.1 L253.6,84.4 L253.3,84.5 L253.1,84.7 L252.8,84.9 L252.6,85.1 L252.3,85.4 L252.0,85.6 L251.7,85.9 L251.5,86.1 L251.3,86.4 L250.8,86.5 L250.3,86.4 L250.1,86.3 L249.8,86.1 L249.3,86.0 L249.2,86.4 L249.1,86.8 L248.9,87.1 L248.8,87.4 L248.6,87.6 L248.2,87.9 L247.9,88.1 L247.8,88.6 L247.8,88.9 L247.7,89.4 L247.7,89.9 L247.6,90.1" fill="rgba(0,0,0,0.06)" stroke="rgb(121,121,121)" stroke-width="0.6"/>
<path d="M249.7,79.9 L249.7,79.4 L249.5,79.1 L249.2,79.1 L249.1,79.4 L249.0,79.9 L249.3,80.1 L249.7,79.9" fill="rgba(0,0,0,0.06)" stroke="rgb(121,121,121)" stroke-width="0.6"/>
<path d="M247.6,87.4 L247.1,87.4 L246.9,87.1 L246.8,86.9 L246.7,86.4 L246.6,85.9 L246.5,85.6 L246.3,85.3 L246.1,84.9 L245.8,84.6 L245.6,84.4 L245.3,84.2 L245.1,83.9 L245.2,83.4 L245.3,82.9 L245.4,82.6 L245.6,82.3 L245.8,81.9 L245.9,81.6 L246.0,81.1 L246.1,80.8 L246.2,80.4 L246.3,79.9 L246.3,79.4 L246.3,78.9 L246.3,78.6 L246.4,78.1 L246.4,77.6 L246.3,77.1 L246.3,76.9 L246.3,76.4 L246.2,75.9 L246.3,75.6 L246.6,75.3 L246.9,75.1 L247.3,74.9 L247.6,74.8 L247.8,74.6 L248.1,74.2 L248.2,73.9 L248.3,73.6 L248.6,73.3 L248.8,73.0 L249.1,72.6 L249.3,72.4 L249.6,72.3 L250.1,72.4 L250.3,72.5 L250.6,72.7 L250.8,73.1 L250.9,73.4 L251.1,73.7 L251.3,74.0 L251.8,73.9 L252.1,73.8 L252.6,73.7 L253.1,73.7 L253.6,73.7 L254.1,73.7 L254.6,73.9 L254.8,74.0 L255.1,74.2 L255.3,74.6 L255.5,74.9 L255.6,75.1 L255.7,75.6 L255.8,76.1 L255.8,76.5 L255.9,76.9 L256.0,77.4 L255.9,77.9 L255.8,78.1 L255.6,78.4 L255.3,78.6 L255.1,78.9 L254.8,79.2 L254.6,79.4 L254.4,79.9 L254.6,80.2 L254.8,80.5 L255.1,80.8 L255.3,81.0 L255.6,81.3 L255.7,81.6 L255.6,82.1 L255.3,82.3 L255.1,82.4 L254.8,82.6 L254.4,82.9 L254.1,83.1 L253.8,83.4 L253.6,83.6 L253.5,83.9 L253.2,84.1 L252.8,84.4 L252.6,84.6 L252.3,84.8 L252.1,85.0 L251.8,85.2 L251.6,85.4 L251.1,85.5 L250.6,85.5 L250.1,85.5 L249.6,85.4 L249.1,85.6 L248.9,85.9 L248.8,86.1 L248.6,86.5 L248.3,86.9 L248.1,87.1 L247.8,87.3 L247.6,87.4" fill="rgba(0,0,0,0.06)" stroke="rgb(112,112,112)" stroke-width="0.6"/>
<path d="M249.7,80.1 L250.1,79.9 L250.1,79.6 L250.0,79.4 L249.8,79.0 L249.6,78.6 L249.3,78.4 L249.1,78.8 L248.9,79.1 L248.7,79.4 L248.6,79.9 L249.0,80.1 L249.3,80.3 L249.7,80.1" fill="rgba(0,0,0,0.06)" stroke="rgb(112,112,112)" stroke-width="0.6"/>
<path d="M247.6,86.7 L247.2,86.6 L247.0,86.4 L246.9,85.9 L246.8,85.6 L246.6,85.1 L246.4,84.9 L246.2,84.6 L246.0,84.4 L245.8,84.1 L245.5,83.9 L245.6,83.6 L245.8,83.1 L245.9,82.9 L246.1,82.5 L246.3,82.1 L246.5,81.9 L246.6,81.6 L246.6,81.1 L246.6,80.6 L246.7,80.1 L246.7,79.6 L246.7,79.1 L246.7,78.6 L246.7,78.1 L246.7,77.6 L246.7,77.1 L246.7,76.6 L246.8,76.2 L246.9,75.9 L247.1,75.6 L247.6,75.5 L248.1,75.4 L248.4,75.6 L248.7,75.9 L248.8,76.1 L249.1,76.6 L249.2,76.9 L249.3,77.4 L249.2,77.9 L249.1,78.1 L248.8,78.5 L248.6,78.9 L248.5,79.1 L248.3,79.4 L248.1,79.9 L248.4,80.1 L248.8,80.3 L249.1,80.4 L249.6,80.5 L249.8,80.4 L250.2,80.1 L250.4,79.9 L250.3,79.4 L250.2,79.1 L250.1,78.8 L249.9,78.4 L249.7,78.1 L249.5,77.9 L249.4,77.4 L249.6,76.9 L249.6,76.6 L249.7,76.1 L249.8,75.6 L249.6,75.3 L249.3,75.1 L248.8,75.1 L248.7,74.6 L248.7,74.1 L248.7,73.6 L248.9,73.4 L249.1,73.1 L249.3,72.9 L249.7,72.9 L250.1,73.1 L250.3,73.3 L250.5,73.6 L250.6,73.9 L250.9,74.1 L251.3,74.4 L251.4,74.4 L251.8,74.3 L252.3,74.2 L252.7,74.1 L253.1,74.1 L253.6,74.1 L253.8,74.2 L254.3,74.4 L254.6,74.6 L254.8,74.8 L255.0,75.1 L255.1,75.4 L255.3,75.9 L255.3,76.2 L255.4,76.6 L255.4,77.1 L255.4,77.6 L255.3,77.9 L255.0,78.1 L254.8,78.4 L254.5,78.6 L254.3,78.9 L254.1,79.1 L253.8,79.4 L253.6,79.9 L253.6,80.4 L253.6,80.7 L253.4,81.1 L253.2,81.4 L252.8,81.6 L252.6,81.6 L252.2,81.6 L251.8,81.6 L251.4,81.6 L251.3,81.9 L251.5,82.1 L251.7,82.1 L252.1,82.1 L252.6,82.1 L252.8,82.4 L252.9,82.6 L252.9,83.1 L252.9,83.6 L252.8,83.9 L252.5,84.1 L252.2,84.4 L251.8,84.6 L251.6,84.8 L251.3,84.9 L250.8,85.0 L250.3,85.0 L249.8,85.0 L249.3,85.0 L249.1,85.2 L248.8,85.4 L248.6,85.7 L248.3,86.0 L248.1,86.3 L247.8,86.5 L247.6,86.7" fill="rgba(0,0,0,0.06)" stroke="rgb(103,103,103)" stroke-width="0.6"/>
<path d="M249.8,74.2 L249.3,74.3 L249.2,73.9 L249.3,73.4 L249.6,73.4 L249.8,73.6 L249.9,73.9 L249.8,74.2" fill="rgba(0,0,0,0.06)" stroke="rgb(95,95,95)" stroke-width="0.6"/>
<path d="M247.3,86.3 L247.2,85.9 L247.1,85.6 L246.9,85.1 L246.8,84.9 L246.6,84.5 L246.3,84.2 L246.1,83.9 L246.1,83.8 L246.2,83.4 L246.4,83.1 L246.6,82.7 L246.8,82.4 L247.0,82.1 L247.2,81.9 L247.2,81.4 L247.2,80.9 L247.2,80.4 L247.2,79.9 L247.1,79.4 L247.0,79.1 L247.0,78.6 L246.9,78.1 L246.9,77.6 L247.0,77.1 L247.1,76.8 L247.2,76.4 L247.6,76.3 L247.9,76.4 L248.3,76.6 L248.5,76.9 L248.6,77.1 L248.8,77.6 L248.6,78.1 L248.4,78.4 L248.3,78.6 L248.1,78.9 L247.8,79.3 L247.6,79.6 L247.5,79.9 L247.6,80.1 L247.9,80.4 L248.3,80.5 L248.8,80.6 L249.1,80.7 L249.6,80.7 L250.0,80.6 L250.3,80.5 L250.6,80.4 L250.8,79.9 L250.7,79.4 L250.6,79.0 L250.5,78.6 L250.3,78.3 L250.1,77.9 L250.0,77.6 L250.0,77.1 L250.1,76.7 L250.1,76.4 L250.2,75.9 L250.2,75.4 L250.3,74.9 L250.6,74.8 L251.1,74.8 L251.6,74.7 L252.0,74.6 L252.3,74.6 L252.8,74.5 L253.3,74.5 L253.8,74.6 L254.1,74.8 L254.3,75.0 L254.6,75.3 L254.8,75.6 L254.8,76.1 L254.8,76.6 L254.7,77.1 L254.6,77.5 L254.3,77.8 L254.1,78.0 L253.8,78.3 L253.6,78.5 L253.4,78.9 L253.2,79.1 L253.1,79.5 L252.9,79.9 L252.8,80.1 L252.6,80.4 L252.3,80.6 L251.8,80.8 L251.4,80.9 L251.1,81.1 L251.0,81.4 L251.0,81.9 L251.1,82.2 L251.3,82.6 L251.5,82.9 L251.8,83.1 L252.0,83.4 L252.1,83.6 L252.1,83.9 L251.8,84.1 L251.4,84.4 L251.1,84.5 L250.6,84.5 L250.1,84.5 L249.6,84.5 L249.1,84.6 L248.8,84.9 L248.6,85.1 L248.3,85.3 L248.1,85.5 L247.8,85.8 L247.6,86.1 L247.3,86.3" fill="rgba(0,0,0,0.06)" stroke="rgb(95,95,95)" stroke-width="0.6"/>
<path d="M251.8,80.0 L251.3,80.0 L251.2,79.6 L251.1,79.2 L251.0,78.9 L250.9,78.4 L250.8,78.1 L250.7,77.6 L250.6,77.1 L250.6,76.6 L250.6,76.1 L250.7,75.6 L250.9,75.4 L251.3,75.2 L251.6,75.1 L252.1,75.0 L252.6,74.9 L252.8,74.9 L253.2,74.9 L253.6,74.9 L253.9,75.1 L254.1,75.4 L254.3,75.6 L254.3,76.1 L254.3,76.4 L254.1,76.9 L253.9,77.1 L253.6,77.3 L253.3,77.5 L253.1,77.7 L252.9,78.1 L252.8,78.4 L252.6,78.8 L252.4,79.1 L252.3,79.4 L252.1,79.7 L251.8,80.0" fill="rgba(0,0,0,0.06)" stroke="rgb(86,86,86)" stroke-width="0.6"/>
<path d="M247.3,78.9 L247.2,78.4 L247.2,77.9 L247.2,77.4 L247.3,77.1 L247.6,77.2 L247.9,77.4 L248.1,77.6 L248.1,77.9 L247.8,78.3 L247.6,78.6 L247.3,78.9" fill="rgba(0,0,0,0.06)" stroke="rgb(86,86,86)" stroke-width="0.6"/>
<path d="M247.3,85.4 L247.2,85.1 L247.1,84.7 L246.9,84.4 L246.8,84.1 L246.7,83.6 L246.8,83.4 L247.1,83.0 L247.3,82.6 L247.5,82.4 L247.6,82.1 L247.8,81.6 L247.9,81.4 L248.1,81.1 L248.6,81.0 L249.1,80.9 L249.6,81.0 L250.1,81.0 L250.3,81.1 L250.6,81.5 L250.7,81.9 L250.8,82.4 L250.8,82.7 L250.9,83.1 L251.1,83.5 L251.3,83.9 L250.8,84.0 L250.3,84.1 L249.8,84.1 L249.3,84.1 L249.1,84.2 L248.7,84.4 L248.3,84.6 L248.1,84.8 L247.8,85.0 L247.6,85.2 L247.3,85.4" fill="rgba(0,0,0,0.06)" stroke="rgb(86,86,86)" stroke-width="0.6"/>
<path d="M251.8,77.4 L251.4,77.4 L251.3,77.1 L251.2,76.6 L251.1,76.1 L251.2,75.6 L251.6,75.4 L251.8,75.4 L252.3,75.3 L252.8,75.2 L253.3,75.3 L253.6,75.4 L253.9,75.6 L253.8,76.0 L253.7,76.4 L253.4,76.6 L253.1,76.9 L252.8,77.0 L252.6,77.2 L252.1,77.4 L251.8,77.4" fill="rgba(0,0,0,0.06)" stroke="rgb(77,77,77)" stroke-width="0.6"/>
<path d="M248.6,83.9 L248.1,84.0 L247.6,84.1 L247.2,83.9 L247.4,83.6 L247.7,83.4 L247.8,83.1 L248.0,82.6 L248.1,82.2 L248.1,81.9 L248.3,81.6 L248.6,81.4 L249.1,81.2 L249.6,81.2 L250.0,81.4 L250.2,81.6 L250.3,81.9 L250.3,82.4 L250.3,82.6 L250.2,83.1 L249.9,83.4 L249.6,83.5 L249.1,83.6 L248.8,83.8 L248.6,83.9" fill="rgba(0,0,0,0.06)" stroke="rgb(77,77,77)" stroke-width="0.6"/>
<path d="M252.6,75.9 L252.4,75.6 L252.8,75.6 L253.1,75.6 L252.8,75.9 L252.6,75.9" fill="rgba(0,0,0,0.06)" stroke="rgb(68,68,68)" stroke-width="0.6"/>
<path d="M249.3,82.9 L249.1,82.8 L248.8,82.6 L248.6,82.1 L248.6,81.9 L248.8,81.6 L249.1,81.5 L249.6,81.5 L249.8,81.6 L249.9,82.1 L249.8,82.4 L249.6,82.8 L249.3,82.9" fill="rgba(0,0,0,0.06)" stroke="rgb(68,68,68)" stroke-width="0.6"/>
<path d="M249.3,82.2 L249.1,81.9 L249.1,81.9 L249.6,81.8 L249.6,82.0 L249.3,82.2" fill="rgba(0,0,0,0.06)" stroke="rgb(60,60,60)" stroke-width="0.6"/>
<rect x="212.2" y="57" width="58.69999999999999" height="59" stroke="#000" stroke-width="1.5" fill="none" />
<line x1="210.2" y1="57.0" x2="211.7" y2="57.0" stroke="#000" stroke-width="0.8" />
<line x1="210.2" y1="71.8" x2="211.7" y2="71.8" stroke="#000" stroke-width="0.8" />
<line x1="210.2" y1="86.5" x2="211.7" y2="86.5" stroke="#000" stroke-width="0.8" />
<line x1="210.2" y1="101.2" x2="211.7" y2="101.2" stroke="#000" stroke-width="0.8" />
<line x1="210.2" y1="116.0" x2="211.7" y2="116.0" stroke="#000" stroke-width="0.8" />
<line x1="212.2" y1="116.5" x2="212.2" y2="118.0" stroke="#000" stroke-width="0.8" />
<line x1="226.9" y1="116.5" x2="226.9" y2="118.0" stroke="#000" stroke-width="0.8" />
<line x1="241.5" y1="116.5" x2="241.5" y2="118.0" stroke="#000" stroke-width="0.8" />
<line x1="256.2" y1="116.5" x2="256.2" y2="118.0" stroke="#000" stroke-width="0.8" />
<line x1="270.9" y1="116.5" x2="270.9" y2="118.0" stroke="#000" stroke-width="0.8" />
<text x="212.2" y="121" font-size="4.4" font-weight="normal" text-anchor="middle" fill="#222" style="font-family:Liberation Serif">1</text>
<text x="226.6" y="121" font-size="4.4" font-weight="normal" text-anchor="middle" fill="#222" style="font-family:Liberation Serif">10</text>
<text x="241.0" y="121" font-size="4.4" font-weight="normal" text-anchor="middle" fill="#222" style="font-family:Liberation Serif">100</text>
<text x="255.5" y="121" font-size="4.4" font-weight="normal" text-anchor="middle" fill="#222" style="font-family:Liberation Serif">1000</text>
<text x="269.9" y="121" font-size="4.4" font-weight="normal" text-anchor="middle" fill="#222" style="font-family:Liberation Serif">10000</text>
<text x="209.7" y="117.4" font-size="4.4" font-weight="normal" text-anchor="end" fill="#222" style="font-family:Liberation Serif">1</text>
<text x="209.7" y="102.7" font-size="4.4" font-weight="normal" text-anchor="end" fill="#222" style="font-family:Liberation Serif">10</text>
<text x="209.7" y="87.9" font-size="4.4" font-weight="normal" text-anchor="end" fill="#222" style="font-family:Liberation Serif">100</text>
<text x="209.7" y="73.2" font-size="4.4" font-weight="normal" text-anchor="end" fill="#222" style="font-family:Liberation Serif">1000</text>
<text x="209.7" y="58.4" font-size="4.4" font-weight="normal" text-anchor="end" fill="#222" style="font-family:Liberation Serif">10000</text>
<path d="M305.2,101.1 L304.9,101.0 L304.6,100.9 L304.3,100.6 L304.1,100.4 L303.9,100.0 L303.8,99.6 L303.7,99.1 L303.7,98.7 L303.6,98.4 L303.6,97.9 L303.5,97.4 L303.5,96.9 L303.4,96.5 L303.2,96.1 L302.9,95.9 L302.7,95.6 L302.6,95.4 L302.5,94.9 L302.4,94.6 L302.4,94.1 L302.5,93.9 L302.7,93.4 L302.8,93.1 L303.0,92.9 L303.2,92.6 L303.6,92.4 L303.9,92.1 L303.9,91.9 L304.0,91.4 L304.1,90.9 L304.2,90.4 L304.2,90.1 L304.2,89.6 L304.2,89.1 L304.2,88.6 L304.2,88.1 L304.4,87.6 L304.5,87.4 L304.7,87.1 L304.9,86.8 L305.2,86.6 L305.4,86.2 L305.6,85.9 L305.5,85.4 L305.4,85.0 L305.4,84.6 L305.3,84.1 L305.4,83.6 L305.5,83.4 L305.7,83.0 L305.8,82.6 L305.9,82.3 L306.1,81.9 L306.2,81.6 L306.4,81.1 L306.5,80.9 L306.7,80.6 L306.9,80.2 L307.1,79.9 L307.2,79.6 L307.4,79.1 L307.4,78.8 L307.5,78.4 L307.6,77.9 L307.7,77.6 L307.8,77.1 L307.9,76.8 L308.1,76.4 L308.2,76.1 L308.4,75.6 L308.5,75.4 L308.7,75.1 L308.9,74.8 L309.2,74.4 L309.3,74.1 L309.5,73.9 L309.7,73.6 L309.9,73.3 L310.2,72.9 L310.3,72.6 L310.5,72.4 L310.7,72.1 L310.9,71.7 L311.2,71.4 L311.4,71.2 L311.7,70.9 L311.9,70.6 L312.1,70.4 L312.3,70.1 L312.5,69.9 L312.7,69.6 L312.9,69.2 L313.1,68.9 L313.3,68.6 L313.6,68.4 L313.9,68.1 L314.2,67.9 L314.4,67.8 L314.7,67.6 L315.2,67.4 L315.4,67.4 L315.8,67.1 L316.2,66.9 L316.4,66.8 L316.8,66.6 L317.2,66.5 L317.7,66.4 L317.9,66.3 L318.4,66.2 L318.9,66.1 L319.2,66.1 L319.7,66.1 L319.9,66.2 L320.4,66.4 L320.7,66.5 L320.9,66.7 L321.2,66.9 L321.4,67.1 L321.7,67.4 L322.0,67.6 L322.2,68.0 L322.3,68.4 L322.4,68.6 L322.6,69.1 L322.7,69.4 L322.8,69.9 L322.9,70.2 L323.0,70.6 L323.1,71.1 L323.1,71.6 L323.1,72.1 L323.1,72.6 L323.0,73.1 L323.0,73.6 L323.0,74.1 L323.1,74.6 L323.1,75.1 L323.1,75.6 L323.0,76.1 L322.9,76.4 L322.8,76.9 L322.7,77.3 L322.6,77.6 L322.6,78.1 L322.6,78.6 L322.5,79.1 L322.5,79.6 L322.4,79.9 L322.2,80.4 L322.1,80.6 L322.0,81.1 L321.9,81.4 L321.7,81.9 L321.6,82.1 L321.5,82.6 L321.4,82.9 L321.2,83.3 L321.0,83.6 L320.8,83.9 L320.7,84.1 L320.4,84.6 L320.2,84.9 L320.1,85.1 L319.9,85.5 L319.7,85.9 L319.6,86.1 L319.4,86.5 L319.2,86.9 L319.0,87.1 L318.9,87.4 L318.7,87.7 L318.4,88.0 L318.2,88.4 L318.0,88.6 L317.8,88.9 L317.5,89.1 L317.2,89.4 L317.0,89.6 L316.7,89.8 L316.4,90.1 L316.3,90.4 L316.3,90.9 L316.2,91.2 L316.1,91.6 L315.9,92.1 L315.7,92.4 L315.4,92.6 L315.2,92.8 L314.9,92.9 L314.6,93.1 L314.4,93.4 L314.2,93.6 L313.9,94.0 L313.7,94.4 L313.4,94.6 L313.2,94.8 L312.9,95.0 L312.6,95.1 L312.2,95.4 L311.9,95.5 L311.7,95.6 L311.4,95.9 L311.2,96.2 L311.0,96.6 L310.9,96.9 L310.7,97.4 L310.5,97.6 L310.4,97.9 L310.2,98.1 L309.9,98.5 L309.7,98.8 L309.4,99.1 L309.2,99.3 L308.9,99.4 L308.4,99.4 L307.9,99.4 L307.7,99.3 L307.2,99.3 L307.0,99.6 L306.8,99.9 L306.6,100.1 L306.4,100.4 L306.2,100.7 L305.9,100.9 L305.4,101.1 L305.2,101.1" fill="none" stroke="#888" stroke-width="0.6"/>
<path d="M309.2,93.9 L308.7,94.0 L308.2,94.0 L307.7,94.0 L307.4,93.9 L307.1,93.6 L306.9,93.4 L306.7,92.9 L306.6,92.6 L306.5,92.1 L306.4,91.8 L306.4,91.4 L306.4,90.9 L306.3,90.4 L306.3,89.9 L306.3,89.4 L306.3,88.9 L306.2,88.4 L306.3,87.9 L306.5,87.6 L306.7,87.3 L306.9,86.9 L307.0,86.6 L307.2,86.1 L307.3,85.9 L307.4,85.4 L307.5,85.1 L307.7,84.6 L307.7,84.4 L307.9,83.9 L307.7,83.4 L307.7,83.1 L307.6,82.6 L307.6,82.1 L307.6,81.6 L307.7,81.4 L307.9,81.0 L308.1,80.6 L308.2,80.4 L308.4,80.1 L308.7,79.6 L308.6,79.1 L308.6,78.6 L308.7,78.1 L308.7,77.9 L308.8,77.4 L308.9,77.1 L309.1,76.6 L309.3,76.4 L309.4,76.1 L309.7,75.8 L309.9,75.4 L310.1,75.1 L310.3,74.9 L310.5,74.6 L310.7,74.3 L310.9,73.9 L311.1,73.6 L311.3,73.4 L311.5,73.1 L311.7,72.9 L312.0,72.6 L312.2,72.4 L312.4,72.1 L312.7,71.9 L312.9,71.6 L313.2,71.4 L313.4,71.0 L313.7,70.7 L313.9,70.4 L314.2,70.2 L314.4,69.9 L314.7,69.7 L314.9,69.5 L315.2,69.3 L315.6,69.1 L315.9,69.0 L316.3,68.9 L316.7,68.7 L316.9,68.6 L317.3,68.4 L317.7,68.2 L317.9,68.1 L318.4,67.9 L318.7,67.8 L319.2,67.8 L319.4,67.9 L319.7,68.2 L319.8,68.6 L319.8,69.1 L319.9,69.5 L320.2,69.7 L320.4,70.0 L320.7,70.2 L320.9,70.6 L321.1,70.9 L321.3,71.1 L321.4,71.5 L321.5,71.9 L321.5,72.4 L321.6,72.9 L321.6,73.4 L321.6,73.9 L321.6,74.4 L321.6,74.9 L321.5,75.4 L321.5,75.9 L321.4,76.2 L321.4,76.6 L321.3,77.1 L321.2,77.6 L321.2,78.1 L321.2,78.6 L321.2,78.9 L321.1,79.4 L321.0,79.9 L320.9,80.3 L320.9,80.6 L320.7,81.1 L320.7,81.4 L320.5,81.9 L320.4,82.1 L320.2,82.5 L320.0,82.9 L319.8,83.1 L319.6,83.4 L319.4,83.6 L319.2,84.0 L319.0,84.4 L318.9,84.6 L318.7,85.0 L318.5,85.4 L318.3,85.6 L318.2,85.9 L317.9,86.2 L317.7,86.6 L317.5,86.9 L317.3,87.1 L317.1,87.4 L316.9,87.6 L316.7,87.9 L316.4,88.1 L316.1,88.4 L315.8,88.6 L315.4,88.9 L315.2,89.1 L315.0,89.4 L314.8,89.6 L314.6,89.9 L314.4,90.1 L314.2,90.5 L313.9,90.7 L313.7,90.9 L313.3,91.1 L313.0,91.4 L312.7,91.6 L312.4,91.9 L312.2,92.1 L312.0,92.4 L311.8,92.6 L311.5,92.9 L311.2,93.1 L310.9,93.2 L310.5,93.4 L310.2,93.5 L309.9,93.6 L309.4,93.8 L309.2,93.9" fill="none" stroke="#888" stroke-width="0.6"/>
<path d="M309.2,88.4 L309.7,88.1 L309.7,87.9 L309.5,87.6 L309.2,87.4 L308.9,87.6 L308.8,88.1 L309.2,88.4 L309.2,88.4" fill="none" stroke="#888" stroke-width="0.6"/>
<path d="M309.9,91.7 L309.4,91.7 L309.2,91.6 L308.8,91.4 L308.5,91.1 L308.3,90.9 L308.1,90.6 L307.9,90.3 L307.9,90.0 L308.2,89.7 L308.4,89.6 L308.9,89.6 L309.4,89.5 L309.7,89.3 L309.9,89.1 L310.2,88.8 L310.4,88.4 L310.6,88.1 L310.5,87.6 L310.4,87.4 L310.2,87.1 L309.9,86.7 L309.7,86.4 L309.4,86.1 L309.2,85.9 L309.2,85.4 L309.2,84.9 L309.3,84.4 L309.3,83.9 L309.0,83.6 L308.8,83.4 L308.6,83.1 L308.4,82.6 L308.4,82.4 L308.3,81.9 L308.4,81.5 L308.6,81.1 L308.8,80.9 L308.9,80.6 L309.2,80.3 L309.4,80.0 L309.6,79.6 L309.5,79.1 L309.4,78.6 L309.4,78.1 L309.5,77.6 L309.7,77.4 L309.9,77.0 L310.2,76.7 L310.4,76.4 L310.5,76.1 L310.7,75.9 L310.9,75.5 L311.2,75.1 L311.4,74.9 L311.6,74.6 L311.8,74.4 L312.0,74.1 L312.3,73.9 L312.4,73.6 L312.7,73.4 L313.0,73.1 L313.2,72.9 L313.5,72.6 L313.7,72.4 L314.0,72.1 L314.3,71.9 L314.7,71.6 L314.9,71.4 L315.2,71.2 L315.4,71.0 L315.7,70.8 L316.1,70.6 L316.4,70.5 L316.9,70.5 L317.4,70.5 L317.9,70.5 L318.4,70.5 L318.9,70.5 L319.3,70.6 L319.7,70.8 L319.9,71.0 L320.2,71.3 L320.3,71.6 L320.3,72.1 L320.3,72.6 L320.3,73.1 L320.2,73.5 L320.2,73.7 L320.3,74.1 L320.4,74.6 L320.4,75.1 L320.4,75.4 L320.5,75.9 L320.5,76.4 L320.5,76.9 L320.5,77.4 L320.5,77.9 L320.4,78.4 L320.4,78.6 L320.3,79.1 L320.2,79.6 L320.1,79.9 L320.0,80.4 L319.9,80.9 L319.9,81.1 L319.8,81.6 L319.7,81.9 L319.4,82.2 L319.2,82.4 L318.9,82.6 L318.7,82.9 L318.4,83.3 L318.3,83.6 L318.2,83.9 L317.9,84.3 L317.8,84.6 L317.6,84.9 L317.4,85.2 L317.2,85.5 L316.9,85.9 L316.7,86.1 L316.5,86.4 L316.3,86.6 L316.1,86.9 L315.8,87.1 L315.6,87.4 L315.4,87.6 L315.2,88.0 L314.9,88.3 L314.7,88.6 L314.4,88.9 L314.2,89.1 L313.9,89.4 L313.7,89.6 L313.5,89.9 L313.2,90.1 L312.9,90.2 L312.6,90.4 L312.2,90.6 L311.9,90.8 L311.7,91.0 L311.4,91.2 L311.0,91.4 L310.7,91.5 L310.2,91.6 L309.9,91.7" fill="none" stroke="#888" stroke-width="0.6"/>
<path d="M313.4,88.8 L312.9,88.9 L312.4,88.8 L312.1,88.6 L311.9,88.4 L311.7,87.9 L311.7,87.6 L311.5,87.1 L311.4,86.9 L311.2,86.5 L311.0,86.1 L310.8,85.9 L310.6,85.6 L310.4,85.2 L310.3,84.9 L310.2,84.4 L310.2,84.0 L310.0,83.6 L309.8,83.4 L309.6,83.1 L309.4,82.9 L309.2,82.6 L309.0,82.1 L309.0,81.6 L309.2,81.3 L309.4,81.0 L309.7,80.7 L309.9,80.4 L310.1,80.1 L310.3,79.9 L310.3,79.4 L310.4,78.9 L310.4,78.6 L310.5,78.1 L310.7,77.8 L310.9,77.4 L311.1,77.1 L311.2,76.9 L311.4,76.5 L311.7,76.1 L311.9,75.9 L312.2,75.8 L312.7,75.7 L313.2,75.7 L313.6,75.6 L313.6,75.1 L313.6,74.6 L313.7,74.3 L313.8,73.9 L313.9,73.5 L314.2,73.3 L314.4,73.0 L314.7,72.8 L315.0,72.6 L315.4,72.4 L315.7,72.3 L316.2,72.2 L316.4,72.1 L316.9,72.1 L317.4,72.1 L317.9,72.1 L318.2,72.1 L318.5,72.4 L318.7,72.9 L318.7,73.1 L318.7,73.6 L318.8,74.1 L318.9,74.6 L319.0,74.9 L319.1,75.4 L319.2,75.7 L319.4,75.9 L319.7,76.4 L319.7,76.6 L319.8,77.1 L319.9,77.6 L319.8,78.1 L319.7,78.6 L319.6,78.9 L319.4,79.3 L319.3,79.6 L319.2,80.1 L319.1,80.4 L318.9,80.7 L318.7,81.0 L318.4,81.2 L317.9,81.3 L317.6,81.4 L317.4,81.6 L317.3,82.1 L317.3,82.6 L317.3,83.1 L317.2,83.6 L317.1,83.9 L316.9,84.1 L316.7,84.4 L316.4,84.7 L316.2,85.0 L315.9,85.3 L315.7,85.6 L315.5,85.9 L315.2,86.1 L314.9,86.4 L314.8,86.6 L314.6,86.9 L314.4,87.4 L314.4,87.6 L314.2,88.1 L313.9,88.3 L313.7,88.6 L313.4,88.8" fill="none" stroke="#888" stroke-width="0.6"/>
<path d="M312.9,85.4 L312.4,85.5 L311.9,85.4 L311.7,85.3 L311.3,85.1 L311.1,84.9 L310.9,84.4 L310.8,84.1 L310.7,83.7 L310.5,83.4 L310.3,83.1 L310.1,82.9 L309.9,82.6 L309.7,82.3 L309.4,81.9 L309.4,81.8 L309.7,81.5 L309.9,81.2 L310.2,80.9 L310.4,80.6 L310.5,80.4 L310.7,80.1 L310.8,79.6 L310.9,79.1 L311.0,78.9 L311.2,78.4 L311.3,78.1 L311.5,77.9 L311.6,77.4 L311.7,77.1 L311.9,76.8 L312.2,76.5 L312.4,76.4 L312.9,76.2 L313.2,76.1 L313.7,76.0 L313.9,75.9 L314.4,75.7 L314.5,75.4 L314.5,74.9 L314.5,74.4 L314.7,73.9 L314.7,73.6 L315.0,73.4 L315.4,73.1 L315.7,73.1 L316.2,73.1 L316.7,73.1 L316.9,73.2 L317.2,73.4 L317.3,73.9 L317.3,74.4 L317.2,74.7 L317.0,75.1 L316.9,75.4 L316.9,75.7 L317.3,75.9 L317.7,76.0 L318.2,76.1 L318.4,76.2 L318.8,76.4 L319.0,76.6 L319.2,76.9 L319.3,77.4 L319.4,77.9 L319.2,78.4 L319.1,78.6 L318.9,79.1 L318.8,79.4 L318.7,79.7 L318.5,80.1 L318.3,80.4 L318.0,80.6 L317.7,80.8 L317.4,80.9 L317.2,81.4 L317.1,81.6 L317.0,82.1 L316.9,82.5 L316.8,82.9 L316.7,83.2 L316.4,83.6 L316.2,83.8 L315.9,84.0 L315.7,84.3 L315.4,84.5 L315.2,84.8 L314.9,85.0 L314.6,85.1 L314.2,85.3 L313.7,85.3 L313.2,85.3 L312.9,85.4" fill="rgba(0,0,0,0.07)" stroke="rgb(130,130,130)" stroke-width="0.6"/>
<path d="M313.6,79.9 L313.4,79.6 L313.2,79.9 L313.6,79.9" fill="rgba(0,0,0,0.07)" stroke="rgb(130,130,130)" stroke-width="0.6"/>
<path d="M313.4,88.1 L312.9,87.9 L313.0,87.4 L313.2,87.0 L313.5,87.1 L313.6,87.6 L313.4,88.1" fill="rgba(0,0,0,0.07)" stroke="rgb(130,130,130)" stroke-width="0.6"/>
<path d="M315.4,75.1 L315.4,74.9 L315.4,74.5 L315.7,74.6 L315.7,75.0 L315.4,75.1" fill="rgba(0,0,0,0.07)" stroke="rgb(120,120,120)" stroke-width="0.6"/>
<path d="M312.9,84.4 L312.4,84.5 L311.9,84.4 L311.7,84.3 L311.4,84.1 L311.2,83.7 L311.1,83.4 L310.9,83.1 L310.7,82.6 L310.5,82.4 L310.3,82.1 L310.2,81.9 L310.3,81.6 L310.5,81.4 L310.7,81.1 L310.9,80.6 L311.0,80.4 L311.2,79.9 L311.2,79.6 L311.4,79.1 L311.6,78.9 L311.7,78.6 L311.8,78.1 L311.9,77.6 L312.0,77.4 L312.2,77.1 L312.4,76.9 L312.8,76.6 L313.2,76.4 L313.4,76.4 L313.9,76.1 L314.2,76.1 L314.7,75.9 L314.9,75.8 L315.4,75.7 L315.9,75.7 L316.4,75.9 L316.7,76.0 L317.1,76.1 L317.4,76.3 L317.7,76.4 L318.2,76.6 L318.4,76.8 L318.7,77.1 L318.8,77.4 L318.9,77.6 L318.9,77.9 L318.8,78.4 L318.7,78.6 L318.5,79.1 L318.4,79.4 L318.2,79.7 L317.9,80.1 L317.7,80.3 L317.4,80.4 L317.2,80.8 L317.0,81.1 L316.9,81.4 L316.8,81.9 L316.7,82.3 L316.6,82.6 L316.4,82.9 L316.2,83.3 L315.9,83.5 L315.7,83.6 L315.2,83.8 L314.8,83.9 L314.4,84.1 L314.2,84.2 L313.7,84.3 L313.2,84.3 L312.9,84.4" fill="rgba(0,0,0,0.07)" stroke="rgb(120,120,120)" stroke-width="0.6"/>
<path d="M313.5,80.1 L313.9,80.0 L314.1,79.6 L313.7,79.4 L313.4,79.3 L313.2,79.4 L312.7,79.6 L312.6,79.9 L312.9,80.0 L313.3,80.1 L313.5,80.1" fill="rgba(0,0,0,0.07)" stroke="rgb(120,120,120)" stroke-width="0.6"/>
<path d="M314.4,83.6 L313.9,83.7 L313.4,83.7 L312.9,83.7 L312.4,83.7 L312.2,83.6 L311.8,83.4 L311.6,83.1 L311.4,82.6 L311.4,82.4 L311.2,81.9 L311.3,81.4 L311.4,80.9 L311.5,80.6 L311.7,80.4 L312.2,80.2 L312.7,80.3 L313.2,80.3 L313.4,80.4 L313.7,80.3 L314.1,80.1 L314.4,80.0 L314.8,79.9 L314.7,79.6 L314.2,79.4 L313.9,79.3 L313.6,79.1 L313.2,79.1 L312.7,79.0 L312.4,78.9 L312.2,78.4 L312.2,77.9 L312.4,77.4 L312.6,77.1 L312.9,76.9 L313.2,76.7 L313.5,76.6 L313.9,76.4 L314.2,76.3 L314.7,76.2 L314.9,76.1 L315.4,76.0 L315.9,76.0 L316.3,76.1 L316.7,76.3 L316.9,76.4 L317.4,76.6 L317.7,76.8 L317.9,77.0 L318.2,77.2 L318.4,77.5 L318.5,77.9 L318.4,78.1 L318.2,78.6 L318.1,78.9 L317.9,79.3 L317.8,79.6 L317.5,79.9 L317.2,80.1 L317.0,80.4 L316.8,80.6 L316.7,81.1 L316.6,81.4 L316.6,81.9 L316.4,82.3 L316.3,82.6 L316.1,82.9 L315.9,83.1 L315.5,83.4 L315.2,83.5 L314.7,83.6 L314.4,83.6" fill="rgba(0,0,0,0.07)" stroke="rgb(110,110,110)" stroke-width="0.6"/>
<path d="M316.9,79.6 L316.4,79.8 L315.9,79.8 L315.6,79.6 L315.2,79.5 L314.7,79.4 L314.4,79.3 L314.1,79.1 L313.7,78.9 L313.4,78.8 L313.0,78.6 L312.7,78.4 L312.6,78.1 L312.5,77.6 L312.8,77.4 L313.1,77.1 L313.4,76.9 L313.7,76.8 L314.1,76.6 L314.4,76.5 L314.8,76.4 L315.2,76.3 L315.7,76.3 L316.2,76.4 L316.4,76.5 L316.8,76.6 L317.2,76.9 L317.4,77.0 L317.7,77.2 L317.9,77.4 L318.1,77.9 L317.9,78.3 L317.8,78.6 L317.7,78.9 L317.4,79.3 L317.2,79.5 L316.9,79.6" fill="rgba(0,0,0,0.07)" stroke="rgb(100,100,100)" stroke-width="0.6"/>
<path d="M313.9,83.4 L313.7,83.4 L313.2,83.3 L312.7,83.2 L312.4,83.1 L312.1,82.9 L311.9,82.6 L311.7,82.1 L311.7,81.6 L311.9,81.1 L312.1,80.9 L312.4,80.7 L312.7,80.6 L313.2,80.6 L313.7,80.5 L314.0,80.4 L314.4,80.2 L314.8,80.1 L315.2,80.0 L315.7,79.9 L316.2,79.9 L316.4,80.3 L316.4,80.6 L316.4,80.9 L316.4,81.4 L316.4,81.9 L316.2,82.3 L316.0,82.6 L315.8,82.9 L315.4,83.1 L315.2,83.2 L314.7,83.3 L314.2,83.4 L313.9,83.4" fill="rgba(0,0,0,0.07)" stroke="rgb(100,100,100)" stroke-width="0.6"/>
<path d="M316.7,79.2 L316.2,79.3 L315.7,79.3 L315.2,79.2 L314.8,79.1 L314.4,79.0 L314.1,78.9 L313.7,78.6 L313.4,78.5 L313.2,78.3 L312.9,78.0 L312.9,77.6 L313.1,77.4 L313.4,77.2 L313.7,77.0 L314.1,76.9 L314.4,76.7 L314.8,76.6 L315.2,76.5 L315.7,76.5 L316.1,76.6 L316.4,76.8 L316.7,76.9 L317.1,77.1 L317.4,77.4 L317.6,77.6 L317.6,78.1 L317.4,78.5 L317.2,78.9 L316.9,79.1 L316.7,79.2" fill="rgba(0,0,0,0.07)" stroke="rgb(90,90,90)" stroke-width="0.6"/>
<path d="M315.2,82.9 L314.7,83.0 L314.2,83.1 L313.7,83.1 L313.2,83.0 L312.8,82.9 L312.5,82.6 L312.3,82.4 L312.1,82.1 L312.1,81.6 L312.2,81.4 L312.5,81.1 L312.9,80.9 L313.2,80.9 L313.7,80.7 L314.0,80.6 L314.4,80.5 L314.8,80.4 L315.2,80.3 L315.7,80.3 L315.9,80.5 L316.1,80.9 L316.2,81.4 L316.2,81.6 L316.2,81.9 L315.9,82.3 L315.7,82.6 L315.4,82.8 L315.2,82.9" fill="rgba(0,0,0,0.07)" stroke="rgb(90,90,90)" stroke-width="0.6"/>
<path d="M316.2,78.9 L315.7,79.0 L315.2,79.0 L314.9,78.9 L314.4,78.7 L314.2,78.6 L313.7,78.4 L313.4,78.2 L313.2,77.9 L313.2,77.6 L313.4,77.4 L313.7,77.3 L314.0,77.1 L314.4,77.0 L314.8,76.9 L315.2,76.8 L315.7,76.8 L316.0,76.9 L316.4,77.0 L316.7,77.2 L317.0,77.4 L317.2,77.6 L317.2,78.1 L317.0,78.4 L316.8,78.6 L316.4,78.9 L316.2,78.9" fill="rgba(0,0,0,0.07)" stroke="rgb(80,80,80)" stroke-width="0.6"/>
<path d="M315.2,82.7 L314.7,82.8 L314.2,82.8 L313.7,82.8 L313.2,82.7 L312.9,82.5 L312.7,82.3 L312.4,82.0 L312.4,81.7 L312.7,81.4 L312.9,81.2 L313.2,81.1 L313.7,81.0 L313.9,80.9 L314.4,80.7 L314.9,80.6 L315.2,80.6 L315.5,80.6 L315.8,80.9 L315.9,81.3 L316.0,81.6 L315.9,82.0 L315.7,82.3 L315.4,82.6 L315.2,82.7" fill="rgba(0,0,0,0.07)" stroke="rgb(80,80,80)" stroke-width="0.6"/>
<path d="M315.9,78.6 L315.4,78.7 L315.0,78.6 L314.7,78.5 L314.3,78.4 L313.9,78.2 L313.7,78.0 L313.5,77.6 L313.9,77.4 L314.2,77.3 L314.7,77.1 L314.9,77.1 L315.4,77.0 L315.9,77.1 L316.2,77.2 L316.5,77.4 L316.9,77.6 L316.7,78.1 L316.4,78.4 L316.2,78.5 L315.9,78.6" fill="rgba(0,0,0,0.07)" stroke="rgb(70,70,70)" stroke-width="0.6"/>
<path d="M315.2,82.4 L314.7,82.5 L314.2,82.5 L313.7,82.5 L313.3,82.4 L312.9,82.1 L312.7,81.9 L312.9,81.5 L313.2,81.4 L313.7,81.2 L313.9,81.1 L314.4,81.0 L314.9,80.9 L315.4,80.9 L315.7,81.3 L315.8,81.6 L315.7,82.0 L315.4,82.3 L315.2,82.4" fill="rgba(0,0,0,0.07)" stroke="rgb(70,70,70)" stroke-width="0.6"/>
<path d="M315.4,78.4 L315.2,78.3 L314.7,78.2 L314.4,78.1 L314.0,77.9 L314.2,77.5 L314.7,77.4 L314.9,77.3 L315.4,77.2 L315.9,77.4 L316.2,77.5 L316.4,77.9 L316.1,78.1 L315.7,78.3 L315.4,78.4" fill="rgba(0,0,0,0.07)" stroke="rgb(60,60,60)" stroke-width="0.6"/>
<path d="M315.2,82.1 L314.7,82.2 L314.2,82.3 L313.7,82.2 L313.4,82.1 L313.0,81.9 L313.3,81.6 L313.7,81.5 L314.0,81.4 L314.4,81.3 L314.9,81.3 L315.4,81.3 L315.6,81.6 L315.4,82.1 L315.2,82.1" fill="rgba(0,0,0,0.07)" stroke="rgb(60,60,60)" stroke-width="0.6"/>
<path d="M315.7,78.0 L315.2,78.0 L314.7,77.9 L314.6,77.6 L314.9,77.6 L315.4,77.5 L315.9,77.6 L315.7,78.0" fill="rgba(0,0,0,0.07)" stroke="rgb(50,50,50)" stroke-width="0.6"/>
<path d="M315.2,81.9 L314.7,82.0 L314.2,82.0 L313.7,81.9 L313.7,81.8 L314.2,81.6 L314.4,81.6 L314.9,81.6 L315.2,81.8 L315.2,81.9" fill="rgba(0,0,0,0.07)" stroke="rgb(50,50,50)" stroke-width="0.6"/>
<rect x="278.3" y="57" width="59.099999999999966" height="59" stroke="#000" stroke-width="1.5" fill="none" />
<line x1="276.3" y1="57.0" x2="277.8" y2="57.0" stroke="#000" stroke-width="0.8" />
<line x1="276.3" y1="71.8" x2="277.8" y2="71.8" stroke="#000" stroke-width="0.8" />
<line x1="276.3" y1="86.5" x2="277.8" y2="86.5" stroke="#000" stroke-width="0.8" />
<line x1="276.3" y1="101.2" x2="277.8" y2="101.2" stroke="#000" stroke-width="0.8" />
<line x1="276.3" y1="116.0" x2="277.8" y2="116.0" stroke="#000" stroke-width="0.8" />
<line x1="278.3" y1="116.5" x2="278.3" y2="118.0" stroke="#000" stroke-width="0.8" />
<line x1="293.1" y1="116.5" x2="293.1" y2="118.0" stroke="#000" stroke-width="0.8" />
<line x1="307.9" y1="116.5" x2="307.9" y2="118.0" stroke="#000" stroke-width="0.8" />
<line x1="322.6" y1="116.5" x2="322.6" y2="118.0" stroke="#000" stroke-width="0.8" />
<line x1="337.4" y1="116.5" x2="337.4" y2="118.0" stroke="#000" stroke-width="0.8" />
<text x="278.3" y="121" font-size="4.4" font-weight="normal" text-anchor="middle" fill="#222" style="font-family:Liberation Serif">1</text>
<text x="292.8" y="121" font-size="4.4" font-weight="normal" text-anchor="middle" fill="#222" style="font-family:Liberation Serif">10</text>
<text x="307.4" y="121" font-size="4.4" font-weight="normal" text-anchor="middle" fill="#222" style="font-family:Liberation Serif">100</text>
<text x="321.9" y="121" font-size="4.4" font-weight="normal" text-anchor="middle" fill="#222" style="font-family:Liberation Serif">1000</text>
<text x="336.4" y="121" font-size="4.4" font-weight="normal" text-anchor="middle" fill="#222" style="font-family:Liberation Serif">10000</text>
<text x="213.7" y="67.8" font-size="11.6" font-weight="normal" text-anchor="start" fill="#000"  textLength="25" lengthAdjust="spacingAndGlyphs">3 dpi</text>
<text x="279.6" y="67.8" font-size="11.6" font-weight="normal" text-anchor="start" fill="#000"  textLength="25" lengthAdjust="spacingAndGlyphs">5 dpi</text>
<rect x="241.6" y="72.3" width="22.900000000000006" height="14.700000000000003" stroke="#000" stroke-width="1.6" fill="none" />
<text x="259.3" y="85.2" font-size="13.5" font-weight="bold" text-anchor="start" fill="#000"  stroke="#000" stroke-width="0.35">i</text>
<rect x="308.5" y="72.3" width="23.0" height="14.700000000000003" stroke="#000" stroke-width="1.6" fill="none" />
<text x="322.8" y="85.2" font-size="13.5" font-weight="bold" text-anchor="start" fill="#000"  stroke="#000" stroke-width="0.35">ii</text>
<line x1="261.5" y1="87" x2="261.5" y2="136.5" stroke="#000" stroke-width="1.2" />
<polygon points="261.50,143.90 257.90,136.00 265.10,136.00" fill="#000"/>
<line x1="328.4" y1="87" x2="328.4" y2="136.2" stroke="#000" stroke-width="1.2" />
<polygon points="328.40,143.60 324.80,135.70 332.00,135.70" fill="#000"/>
<line x1="199.1" y1="127.4" x2="199.1" y2="99" stroke="#000" stroke-width="1.8" />
<line x1="199.1" y1="110" x2="199.1" y2="99.8" stroke="#000" stroke-width="1.8" />
<polygon points="199.10,94.10 201.90,100.30 196.30,100.30" fill="#000"/>
<line x1="198.2" y1="126.4" x2="229.10000000000002" y2="126.4" stroke="#000" stroke-width="1.8" />
<polygon points="234.80,126.40 228.60,129.20 228.60,123.60" fill="#000"/>
<text x="0" y="0" font-size="9.6" font-weight="bold" textLength="17.2" lengthAdjust="spacingAndGlyphs" transform="translate(195.8,120.2) rotate(-90)">Gr-1</text>
<text x="201.6" y="136.6" font-size="9.4" font-weight="bold" text-anchor="start" fill="#000"  textLength="27" lengthAdjust="spacingAndGlyphs" stroke="#000" stroke-width="0.35">Mac-1</text>
<path d="M222.30,204.50 L223.20,200.34 L224.10,195.98 L225.00,184.40 L225.90,174.17 L226.80,164.77 L227.70,157.33 L228.60,158.10 L229.50,161.37 L230.40,165.22 L231.30,171.30 L232.20,178.56 L233.10,186.64 L234.00,191.00 L234.90,194.60 L235.80,196.43 L236.70,195.66 L237.60,194.58 L238.50,191.43 L239.40,189.35 L240.30,185.66 L241.20,183.71 L242.10,179.92 L243.00,178.39 L243.90,177.48 L244.80,176.03 L245.70,173.42 L246.60,176.32 L247.50,179.07 L248.40,184.09 L249.30,190.21 L250.20,195.14 L251.10,198.86 L252.00,202.34 L252.90,203.71 L254.00,204.50 L254.00,204.5 L222.30,204.5 Z" fill="#ebebeb" stroke="none"/>
<path d="M222.30,204.50 L223.20,200.34 L224.10,195.98 L225.00,184.40 L225.90,174.17 L226.80,164.77 L227.70,157.33 L228.60,158.10 L229.50,161.37 L230.40,165.22 L231.30,171.30 L232.20,178.56 L233.10,186.64 L234.00,191.00 L234.90,194.60 L235.80,196.43 L236.70,195.66 L237.60,194.58 L238.50,191.43 L239.40,189.35 L240.30,185.66 L241.20,183.71 L242.10,179.92 L243.00,178.39 L243.90,177.48 L244.80,176.03 L245.70,173.42 L246.60,176.32 L247.50,179.07 L248.40,184.09 L249.30,190.21 L250.20,195.14 L251.10,198.86 L252.00,202.34 L252.90,203.71 L254.00,204.50" fill="none" stroke="#000" stroke-width="1.5" stroke-linejoin="miter" stroke-miterlimit="2"/>
<rect x="212.6" y="145.6" width="58.900000000000006" height="59.70000000000002" stroke="#000" stroke-width="2" fill="none" />
<line x1="210.1" y1="151.6" x2="211.6" y2="151.6" stroke="#000" stroke-width="0.8" />
<line x1="210.1" y1="165.0" x2="211.6" y2="165.0" stroke="#000" stroke-width="0.8" />
<line x1="210.1" y1="178.4" x2="211.6" y2="178.4" stroke="#000" stroke-width="0.8" />
<line x1="210.1" y1="191.9" x2="211.6" y2="191.9" stroke="#000" stroke-width="0.8" />
<line x1="210.1" y1="205.3" x2="211.6" y2="205.3" stroke="#000" stroke-width="0.8" />
<line x1="212.6" y1="206.3" x2="212.6" y2="207.8" stroke="#000" stroke-width="0.8" />
<line x1="224.4" y1="206.3" x2="224.4" y2="207.8" stroke="#000" stroke-width="0.8" />
<line x1="236.2" y1="206.3" x2="236.2" y2="207.8" stroke="#000" stroke-width="0.8" />
<line x1="247.9" y1="206.3" x2="247.9" y2="207.8" stroke="#000" stroke-width="0.8" />
<line x1="259.7" y1="206.3" x2="259.7" y2="207.8" stroke="#000" stroke-width="0.8" />
<line x1="271.5" y1="206.3" x2="271.5" y2="207.8" stroke="#000" stroke-width="0.8" />
<text x="212.6" y="210.8" font-size="4.4" font-weight="normal" text-anchor="middle" fill="#222" style="font-family:Liberation Serif">0</text>
<text x="224.2" y="210.8" font-size="4.4" font-weight="normal" text-anchor="middle" fill="#222" style="font-family:Liberation Serif">200</text>
<text x="235.8" y="210.8" font-size="4.4" font-weight="normal" text-anchor="middle" fill="#222" style="font-family:Liberation Serif">400</text>
<text x="247.3" y="210.8" font-size="4.4" font-weight="normal" text-anchor="middle" fill="#222" style="font-family:Liberation Serif">600</text>
<text x="258.9" y="210.8" font-size="4.4" font-weight="normal" text-anchor="middle" fill="#222" style="font-family:Liberation Serif">800</text>
<text x="270.5" y="210.8" font-size="4.4" font-weight="normal" text-anchor="middle" fill="#222" style="font-family:Liberation Serif">1000</text>
<line x1="216.2" y1="161.6" x2="268" y2="161.6" stroke="#000" stroke-width="1.0" />
<line x1="216.2" y1="158.6" x2="216.2" y2="164.6" stroke="#000" stroke-width="1.0" />
<line x1="237.2" y1="158.6" x2="237.2" y2="164.6" stroke="#000" stroke-width="1.0" />
<line x1="268" y1="158.6" x2="268" y2="164.6" stroke="#000" stroke-width="1.0" />
<text x="216.89999999999998" y="159.3" font-size="10" font-weight="bold" text-anchor="start" fill="#000"  stroke="#000" stroke-width="0.35">54</text>
<text x="246.89999999999998" y="159.3" font-size="10" font-weight="bold" text-anchor="start" fill="#000"  stroke="#000" stroke-width="0.35">46</text>
<text x="216.2" y="181" font-size="14.5" font-weight="bold" text-anchor="start" fill="#000"  stroke="#000" stroke-width="0.35">i</text>
<path d="M288.30,204.00 L289.20,203.33 L290.10,202.63 L291.00,201.88 L291.90,199.37 L292.80,197.95 L293.70,196.25 L294.60,195.12 L295.50,194.00 L296.40,193.35 L297.30,195.07 L298.20,196.32 L299.10,198.47 L300.00,199.12 L300.90,198.01 L301.80,195.09 L302.70,190.14 L303.60,185.43 L304.50,181.27 L305.40,171.06 L306.30,166.22 L307.20,162.20 L308.10,158.72 L309.00,157.37 L309.90,154.72 L310.80,155.47 L311.70,156.39 L312.60,159.19 L313.50,165.33 L314.40,173.24 L315.30,180.87 L316.20,189.54 L317.10,194.91 L318.00,199.66 L318.90,202.60 L319.80,203.23 L320.70,203.59 L321.70,204.00 L321.70,204.2 L288.30,204.2 Z" fill="#ebebeb" stroke="none"/>
<path d="M288.30,204.00 L289.20,203.33 L290.10,202.63 L291.00,201.88 L291.90,199.37 L292.80,197.95 L293.70,196.25 L294.60,195.12 L295.50,194.00 L296.40,193.35 L297.30,195.07 L298.20,196.32 L299.10,198.47 L300.00,199.12 L300.90,198.01 L301.80,195.09 L302.70,190.14 L303.60,185.43 L304.50,181.27 L305.40,171.06 L306.30,166.22 L307.20,162.20 L308.10,158.72 L309.00,157.37 L309.90,154.72 L310.80,155.47 L311.70,156.39 L312.60,159.19 L313.50,165.33 L314.40,173.24 L315.30,180.87 L316.20,189.54 L317.10,194.91 L318.00,199.66 L318.90,202.60 L319.80,203.23 L320.70,203.59 L321.70,204.00" fill="none" stroke="#000" stroke-width="1.5" stroke-linejoin="miter" stroke-miterlimit="2"/>
<rect x="278.6" y="145.2" width="59.39999999999998" height="59.80000000000001" stroke="#000" stroke-width="2" fill="none" />
<line x1="276.1" y1="151.2" x2="277.6" y2="151.2" stroke="#000" stroke-width="0.8" />
<line x1="276.1" y1="164.6" x2="277.6" y2="164.6" stroke="#000" stroke-width="0.8" />
<line x1="276.1" y1="178.1" x2="277.6" y2="178.1" stroke="#000" stroke-width="0.8" />
<line x1="276.1" y1="191.6" x2="277.6" y2="191.6" stroke="#000" stroke-width="0.8" />
<line x1="276.1" y1="205.0" x2="277.6" y2="205.0" stroke="#000" stroke-width="0.8" />
<line x1="278.6" y1="206.0" x2="278.6" y2="207.5" stroke="#000" stroke-width="0.8" />
<line x1="290.5" y1="206.0" x2="290.5" y2="207.5" stroke="#000" stroke-width="0.8" />
<line x1="302.4" y1="206.0" x2="302.4" y2="207.5" stroke="#000" stroke-width="0.8" />
<line x1="314.2" y1="206.0" x2="314.2" y2="207.5" stroke="#000" stroke-width="0.8" />
<line x1="326.1" y1="206.0" x2="326.1" y2="207.5" stroke="#000" stroke-width="0.8" />
<line x1="338.0" y1="206.0" x2="338.0" y2="207.5" stroke="#000" stroke-width="0.8" />
<text x="278.6" y="210.5" font-size="4.4" font-weight="normal" text-anchor="middle" fill="#222" style="font-family:Liberation Serif">0</text>
<text x="290.3" y="210.5" font-size="4.4" font-weight="normal" text-anchor="middle" fill="#222" style="font-family:Liberation Serif">200</text>
<text x="302.0" y="210.5" font-size="4.4" font-weight="normal" text-anchor="middle" fill="#222" style="font-family:Liberation Serif">400</text>
<text x="313.6" y="210.5" font-size="4.4" font-weight="normal" text-anchor="middle" fill="#222" style="font-family:Liberation Serif">600</text>
<text x="325.3" y="210.5" font-size="4.4" font-weight="normal" text-anchor="middle" fill="#222" style="font-family:Liberation Serif">800</text>
<text x="337.0" y="210.5" font-size="4.4" font-weight="normal" text-anchor="middle" fill="#222" style="font-family:Liberation Serif">1000</text>
<line x1="282.2" y1="161.6" x2="334.9" y2="161.6" stroke="#000" stroke-width="1.0" />
<line x1="282.2" y1="158.6" x2="282.2" y2="164.6" stroke="#000" stroke-width="1.0" />
<line x1="304.1" y1="158.6" x2="304.1" y2="164.6" stroke="#000" stroke-width="1.0" />
<line x1="334.9" y1="158.6" x2="334.9" y2="164.6" stroke="#000" stroke-width="1.0" />
<text x="284.5" y="159.3" font-size="10" font-weight="bold" text-anchor="start" fill="#000"  stroke="#000" stroke-width="0.35">13</text>
<text x="317.09999999999997" y="159.3" font-size="10" font-weight="bold" text-anchor="start" fill="#000"  stroke="#000" stroke-width="0.35">87</text>
<text x="283.2" y="181" font-size="14.5" font-weight="bold" text-anchor="start" fill="#000"  stroke="#000" stroke-width="0.35">ii</text>
<text x="0" y="0" font-size="10" font-weight="bold" textLength="56" lengthAdjust="spacingAndGlyphs" transform="translate(205.2,203.8) rotate(-90)">Cell number</text>
<text x="251.2" y="223.6" font-size="9.4" font-weight="bold" text-anchor="start" fill="#000"  textLength="18.6" lengthAdjust="spacingAndGlyphs" stroke="#000" stroke-width="0.35">FSC</text>
<line x1="271.5" y1="220.6" x2="290.5" y2="220.6" stroke="#000" stroke-width="1.7" />
<polygon points="296.90,220.60 290.00,223.60 290.00,217.60" fill="#000"/>
<text x="360.1" y="12.6" font-size="17.2" font-weight="bold" text-anchor="start" fill="#000"  stroke="#000" stroke-width="0.35">C</text>
<text x="414.7" y="37.7" font-size="10" font-weight="bold" text-anchor="start" fill="#000"  textLength="43" lengthAdjust="spacingAndGlyphs" stroke="#000" stroke-width="0.35">BM cells</text>
<path d="M423.0,97.5 L422.6,97.5 L422.2,97.4 L422.0,97.3 L421.7,97.0 L421.5,96.7 L421.2,96.4 L421.0,96.1 L420.7,96.0 L420.4,95.8 L420.0,95.5 L419.7,95.4 L419.5,95.2 L419.2,95.0 L419.0,94.6 L418.8,94.3 L418.6,94.0 L418.5,93.5 L418.4,93.3 L418.3,92.8 L418.2,92.5 L418.0,92.0 L417.9,91.8 L417.7,91.3 L417.7,91.0 L417.6,90.5 L417.5,90.0 L417.5,89.5 L417.5,89.0 L417.5,88.5 L417.6,88.0 L417.7,87.5 L417.7,87.3 L417.9,86.8 L418.0,86.5 L418.2,86.0 L418.2,85.8 L418.3,85.3 L418.5,84.8 L418.5,84.5 L418.7,84.0 L418.8,83.8 L418.7,83.5 L418.6,83.0 L418.6,82.5 L418.5,82.0 L418.5,81.5 L418.5,81.0 L418.5,80.5 L418.6,80.0 L418.6,79.5 L418.6,79.0 L418.7,78.5 L418.8,78.3 L418.9,77.8 L418.8,77.3 L418.7,76.8 L418.7,76.5 L418.6,76.0 L418.5,75.5 L418.6,75.0 L418.6,74.5 L418.7,74.0 L418.7,73.8 L418.8,73.3 L418.9,72.8 L418.9,72.3 L419.0,72.0 L419.0,71.5 L419.1,71.0 L419.2,70.7 L419.3,70.3 L419.5,69.9 L419.6,69.5 L419.7,69.2 L419.8,68.8 L420.0,68.3 L420.0,68.0 L420.2,67.5 L420.3,67.3 L420.5,67.0 L420.8,66.8 L421.0,66.5 L421.4,66.3 L421.7,66.1 L422.0,66.0 L422.5,65.8 L423.0,65.9 L423.2,66.0 L423.5,66.4 L423.6,66.8 L423.7,67.3 L423.8,67.5 L424.1,67.8 L424.4,68.0 L424.6,68.3 L424.8,68.5 L425.0,68.8 L425.2,69.3 L425.3,69.5 L425.5,69.8 L425.7,70.3 L425.7,70.5 L425.9,71.0 L426.0,71.3 L426.1,71.8 L426.1,72.3 L426.0,72.8 L426.0,73.3 L426.0,73.8 L426.1,74.3 L426.1,74.8 L426.2,75.3 L426.2,75.7 L426.3,76.0 L426.4,76.5 L426.5,77.0 L426.5,77.3 L426.6,77.8 L426.5,78.3 L426.5,78.8 L426.5,79.3 L426.5,79.8 L426.6,80.3 L426.7,80.8 L426.7,81.3 L426.8,81.5 L426.8,82.0 L426.8,82.5 L426.9,83.0 L426.9,83.5 L426.9,84.0 L426.9,84.5 L426.9,85.0 L426.9,85.5 L427.0,85.9 L427.2,86.2 L427.5,86.5 L427.6,86.8 L427.8,87.0 L428.0,87.4 L428.1,87.8 L428.2,88.1 L428.3,88.5 L428.4,89.0 L428.4,89.5 L428.4,90.0 L428.4,90.5 L428.3,91.0 L428.2,91.3 L428.1,91.8 L428.0,92.1 L427.7,92.5 L427.5,92.8 L427.3,93.0 L427.1,93.3 L427.0,93.5 L426.7,93.8 L426.5,94.2 L426.3,94.5 L426.2,94.8 L426.0,95.1 L425.7,95.5 L425.5,95.8 L425.2,96.0 L425.0,96.3 L424.8,96.5 L424.5,96.8 L424.3,97.0 L424.0,97.2 L423.7,97.3 L423.2,97.5 L423.0,97.5" fill="none" stroke="rgb(110,110,110)" stroke-width="0.6"/>
<path d="M423.7,95.6 L423.2,95.6 L422.7,95.5 L422.5,95.5 L422.0,95.3 L421.7,95.3 L421.2,95.1 L421.0,95.0 L420.5,94.8 L420.2,94.6 L420.0,94.5 L419.7,94.2 L419.5,93.8 L419.5,93.4 L419.4,93.0 L419.4,92.5 L419.4,92.0 L419.2,91.8 L419.0,91.4 L418.8,91.0 L418.7,90.8 L418.5,90.3 L418.5,90.0 L418.4,89.5 L418.4,89.0 L418.5,88.5 L418.5,88.3 L418.6,87.8 L418.7,87.3 L418.8,87.0 L418.9,86.5 L419.0,86.2 L419.1,85.8 L419.2,85.4 L419.4,85.0 L419.5,84.8 L419.7,84.5 L420.0,84.2 L420.2,83.8 L420.2,83.8 L420.0,83.3 L419.9,83.0 L419.7,82.7 L419.5,82.3 L419.5,82.0 L419.4,81.5 L419.3,81.0 L419.3,80.5 L419.3,80.0 L419.3,79.5 L419.4,79.0 L419.5,78.8 L419.7,78.3 L419.8,78.0 L420.0,77.8 L420.0,77.3 L419.9,77.0 L419.7,76.6 L419.6,76.3 L419.5,75.8 L419.5,75.3 L419.5,74.8 L419.6,74.3 L419.7,73.8 L419.7,73.3 L419.8,73.0 L419.8,72.5 L419.9,72.0 L420.0,71.5 L420.0,71.3 L420.2,70.9 L420.4,70.5 L420.6,70.3 L420.9,70.0 L421.2,69.8 L421.5,69.6 L422.0,69.5 L422.2,69.5 L422.7,69.3 L423.2,69.4 L423.5,69.5 L423.9,69.8 L424.1,70.0 L424.3,70.3 L424.5,70.5 L424.7,71.0 L424.8,71.3 L424.9,71.8 L424.9,72.3 L424.8,72.8 L424.8,73.3 L424.8,73.8 L424.9,74.3 L425.0,74.8 L425.0,75.0 L425.1,75.5 L425.2,75.8 L425.4,76.3 L425.5,76.5 L425.6,77.0 L425.7,77.4 L425.8,77.8 L425.7,78.2 L425.7,78.5 L425.6,79.0 L425.5,79.5 L425.6,80.0 L425.7,80.5 L425.7,80.9 L425.8,81.3 L425.9,81.8 L425.9,82.3 L425.9,82.8 L426.0,83.3 L426.0,83.6 L426.0,83.9 L425.9,84.3 L425.8,84.8 L425.8,85.3 L425.7,85.5 L425.7,85.9 L425.9,86.3 L426.1,86.5 L426.3,86.8 L426.5,87.0 L426.7,87.3 L427.0,87.6 L427.1,88.0 L427.2,88.5 L427.2,89.0 L427.2,89.5 L427.1,90.0 L427.1,90.5 L427.1,91.0 L427.0,91.5 L427.0,91.8 L426.8,92.3 L426.6,92.5 L426.4,92.8 L426.2,93.0 L426.0,93.3 L425.7,93.7 L425.5,94.0 L425.3,94.3 L425.1,94.5 L424.9,94.8 L424.7,95.0 L424.4,95.3 L424.0,95.5 L423.7,95.6" fill="none" stroke="rgb(96,96,96)" stroke-width="0.6"/>
<path d="M424.0,94.6 L423.5,94.6 L423.0,94.6 L422.5,94.6 L422.2,94.5 L421.7,94.4 L421.2,94.3 L421.0,94.2 L420.6,94.0 L420.5,93.8 L420.3,93.3 L420.3,92.8 L420.3,92.3 L420.2,91.8 L420.1,91.5 L419.9,91.3 L419.7,91.0 L419.5,90.7 L419.3,90.3 L419.2,90.0 L419.2,89.5 L419.2,89.0 L419.2,88.5 L419.2,88.2 L419.3,87.8 L419.4,87.3 L419.5,86.8 L419.5,86.5 L419.6,86.0 L419.7,85.7 L420.0,85.3 L420.1,85.0 L420.3,84.8 L420.5,84.5 L420.7,84.0 L420.8,83.8 L420.7,83.5 L420.6,83.0 L420.5,82.7 L420.3,82.3 L420.2,82.0 L420.1,81.5 L420.0,81.0 L419.9,80.8 L419.9,80.3 L419.8,79.8 L419.9,79.3 L420.0,79.0 L420.2,78.7 L420.5,78.3 L420.6,78.0 L420.7,77.7 L420.7,77.4 L420.6,77.0 L420.5,76.5 L420.4,76.3 L420.3,75.8 L420.3,75.3 L420.4,74.8 L420.5,74.3 L420.5,74.0 L420.7,73.5 L420.7,73.3 L420.8,72.8 L420.8,72.3 L420.9,71.8 L421.0,71.5 L421.2,71.1 L421.5,70.9 L421.8,70.8 L422.2,70.7 L422.7,70.7 L423.1,70.8 L423.5,71.0 L423.7,71.3 L423.8,71.5 L423.8,72.0 L423.7,72.3 L423.6,72.8 L423.5,73.3 L423.5,73.5 L423.6,73.8 L423.7,74.2 L423.8,74.5 L423.9,75.0 L424.0,75.3 L424.2,75.8 L424.4,76.0 L424.6,76.3 L424.7,76.6 L424.9,77.0 L425.0,77.3 L425.1,77.8 L425.0,78.3 L425.0,78.5 L424.8,79.0 L424.7,79.3 L424.6,79.8 L424.7,80.3 L424.7,80.5 L424.9,81.0 L425.0,81.5 L425.0,81.8 L425.0,82.3 L425.1,82.8 L425.1,83.3 L425.2,83.8 L425.1,84.3 L425.1,84.8 L425.1,85.3 L425.1,85.8 L425.2,86.2 L425.4,86.5 L425.5,86.8 L425.7,87.1 L426.0,87.4 L426.2,87.7 L426.4,88.0 L426.3,88.5 L426.3,89.0 L426.2,89.5 L426.1,89.8 L426.1,90.3 L426.2,90.8 L426.2,91.3 L426.1,91.8 L426.0,92.1 L425.7,92.4 L425.5,92.7 L425.2,93.0 L425.1,93.3 L424.9,93.5 L424.7,93.8 L424.5,94.2 L424.2,94.4 L424.0,94.6" fill="rgba(0,0,0,0.04)" stroke="rgb(82,82,82)" stroke-width="0.6"/>
<path d="M423.2,93.8 L422.8,93.8 L422.5,93.7 L422.0,93.6 L421.7,93.5 L421.5,93.3 L421.2,93.0 L421.0,92.5 L421.0,92.2 L420.8,91.8 L420.7,91.5 L420.5,91.1 L420.3,90.8 L420.1,90.5 L420.0,90.2 L419.8,89.8 L419.8,89.3 L419.8,88.8 L419.8,88.3 L419.9,87.8 L420.0,87.3 L420.0,87.0 L420.1,86.5 L420.2,86.0 L420.3,85.8 L420.5,85.5 L420.7,85.2 L421.0,84.8 L421.1,84.5 L421.2,84.0 L421.3,83.8 L421.2,83.5 L421.1,83.0 L421.0,82.5 L420.9,82.3 L420.8,81.8 L420.7,81.5 L420.7,81.0 L420.6,80.5 L420.5,80.0 L420.5,79.8 L420.5,79.5 L420.7,79.2 L421.0,78.8 L421.1,78.5 L421.2,78.3 L421.4,77.8 L421.5,77.5 L421.4,77.3 L421.4,76.8 L421.3,76.3 L421.2,76.0 L421.2,75.5 L421.3,75.3 L421.5,74.9 L421.7,74.6 L422.0,74.5 L422.4,74.5 L422.7,74.8 L422.9,75.0 L423.0,75.3 L423.2,75.7 L423.5,76.0 L423.7,76.3 L423.9,76.5 L424.1,76.8 L424.3,77.0 L424.5,77.4 L424.5,77.8 L424.4,78.0 L424.3,78.5 L424.1,78.8 L424.0,79.1 L423.7,79.5 L423.7,79.8 L423.7,80.0 L423.8,80.5 L423.9,81.0 L424.0,81.4 L424.0,81.8 L424.1,82.3 L424.1,82.8 L424.2,83.3 L424.3,83.5 L424.4,84.0 L424.4,84.5 L424.5,84.8 L424.6,85.3 L424.6,85.8 L424.7,86.3 L424.8,86.5 L424.9,87.0 L425.0,87.3 L425.2,87.6 L425.5,88.0 L425.5,88.3 L425.5,88.6 L425.4,89.0 L425.4,89.5 L425.3,90.0 L425.3,90.5 L425.2,91.0 L425.2,91.3 L425.0,91.7 L424.7,92.0 L424.6,92.3 L424.4,92.5 L424.2,92.9 L424.0,93.3 L423.8,93.5 L423.5,93.7 L423.2,93.8" fill="rgba(0,0,0,0.04)" stroke="rgb(68,68,68)" stroke-width="0.6"/>
<path d="M422.5,92.8 L422.2,92.8 L421.8,92.5 L421.7,92.3 L421.5,91.9 L421.3,91.5 L421.2,91.3 L421.0,90.8 L420.8,90.5 L420.7,90.3 L420.5,89.8 L420.5,89.5 L420.4,89.0 L420.5,88.5 L420.5,88.3 L420.5,87.8 L420.6,87.3 L420.7,86.9 L420.9,86.5 L421.0,86.2 L421.2,85.8 L421.4,85.5 L421.5,85.3 L421.7,84.8 L421.7,84.4 L421.8,84.0 L421.8,83.5 L421.7,83.1 L421.7,82.8 L421.6,82.3 L421.5,81.8 L421.5,81.5 L421.5,81.3 L421.5,80.8 L421.5,80.3 L421.6,79.8 L421.8,79.5 L422.0,79.3 L422.2,78.9 L422.4,78.5 L422.4,78.0 L422.5,77.6 L422.7,77.3 L423.0,77.2 L423.3,77.3 L423.7,77.5 L423.5,78.0 L423.3,78.3 L423.0,78.5 L422.8,78.8 L422.7,79.0 L422.5,79.5 L422.7,80.0 L422.8,80.3 L423.0,80.8 L423.0,81.0 L423.2,81.5 L423.2,81.8 L423.3,82.3 L423.3,82.8 L423.3,83.3 L423.4,83.8 L423.5,84.0 L423.6,84.5 L423.7,84.8 L423.9,85.3 L424.0,85.5 L424.1,86.0 L424.1,86.5 L424.2,87.0 L424.1,87.5 L424.1,88.0 L424.2,88.3 L424.4,88.8 L424.5,89.3 L424.4,89.8 L424.3,90.3 L424.2,90.6 L424.0,91.0 L423.9,91.3 L423.7,91.7 L423.5,92.0 L423.4,92.3 L423.2,92.5 L422.7,92.7 L422.5,92.8" fill="rgba(0,0,0,0.04)" stroke="rgb(54,54,54)" stroke-width="0.6"/>
<path d="M422.5,91.6 L422.0,91.5 L421.9,91.3 L421.7,90.8 L421.6,90.5 L421.5,90.1 L421.3,89.8 L421.2,89.3 L421.2,89.0 L421.2,88.5 L421.2,88.0 L421.2,87.8 L421.5,87.3 L421.6,87.0 L421.8,86.8 L422.2,86.5 L422.5,86.4 L422.9,86.5 L423.1,86.8 L423.2,87.1 L423.3,87.5 L423.4,88.0 L423.5,88.5 L423.5,88.8 L423.5,89.3 L423.5,89.7 L423.4,90.0 L423.3,90.5 L423.2,90.8 L423.0,91.1 L422.7,91.4 L422.5,91.6" fill="rgba(0,0,0,0.04)" stroke="rgb(40,40,40)" stroke-width="0.6"/>
<path d="M432.2,107.6 L431.7,107.7 L431.2,107.7 L430.7,107.6 L430.5,107.5 L430.1,107.3 L429.9,107.0 L429.7,106.8 L429.5,106.3 L429.5,106.0 L429.3,105.5 L429.2,105.2 L429.1,104.8 L429.0,104.4 L428.7,104.1 L428.5,103.8 L428.4,103.5 L428.2,103.1 L428.1,102.8 L428.0,102.3 L428.1,101.8 L428.2,101.3 L428.3,101.0 L428.4,100.5 L428.5,100.3 L428.6,99.8 L428.7,99.3 L428.7,99.0 L428.8,98.5 L429.0,98.0 L429.0,97.8 L429.2,97.3 L429.2,97.0 L429.4,96.5 L429.5,96.0 L429.5,95.8 L429.6,95.3 L429.7,94.9 L429.8,94.5 L430.0,94.0 L430.0,93.8 L430.1,93.3 L430.2,92.9 L430.3,92.5 L430.5,92.1 L430.6,91.8 L430.7,91.5 L431.0,91.0 L431.1,90.8 L431.2,90.5 L431.5,90.1 L431.7,89.8 L431.8,89.5 L432.0,89.3 L432.2,88.9 L432.4,88.5 L432.5,88.3 L432.7,87.8 L432.7,87.5 L432.9,87.0 L433.0,86.7 L433.1,86.3 L433.2,85.9 L433.4,85.5 L433.5,85.3 L433.7,84.9 L433.9,84.5 L434.1,84.3 L434.2,84.0 L434.4,83.5 L434.5,83.3 L434.6,82.8 L434.7,82.4 L434.9,82.0 L435.0,81.8 L435.2,81.4 L435.5,81.1 L435.7,80.8 L435.8,80.5 L436.0,80.3 L436.2,79.8 L436.3,79.5 L436.5,79.0 L436.5,78.8 L436.6,78.3 L436.6,77.8 L436.7,77.3 L436.8,77.0 L436.9,76.5 L436.9,76.0 L436.9,75.5 L436.7,75.3 L436.2,75.1 L435.9,75.0 L435.5,75.0 L435.0,74.9 L434.5,74.8 L434.2,74.7 L433.9,74.5 L433.5,74.3 L433.3,74.0 L433.1,73.8 L433.0,73.5 L432.7,73.2 L432.5,72.9 L432.2,72.7 L431.7,72.5 L431.5,72.4 L431.2,72.3 L430.8,72.0 L430.5,71.8 L430.3,71.5 L430.2,71.3 L430.1,70.8 L430.1,70.3 L430.1,69.8 L430.2,69.3 L430.4,69.0 L430.7,68.8 L431.0,68.5 L431.2,68.3 L431.4,68.0 L431.6,67.8 L431.7,67.5 L432.0,67.2 L432.2,66.9 L432.5,66.7 L432.7,66.5 L433.2,66.3 L433.5,66.1 L433.7,66.0 L434.2,65.8 L434.5,65.6 L434.7,65.4 L435.0,65.3 L435.5,65.1 L435.8,65.0 L436.2,64.9 L436.7,64.9 L437.2,64.9 L437.7,64.9 L438.2,65.0 L438.7,65.0 L439.2,64.8 L439.5,64.7 L439.9,64.5 L440.2,64.4 L440.7,64.3 L441.2,64.4 L441.7,64.5 L442.0,64.6 L442.5,64.7 L443.0,64.7 L443.5,64.6 L444.0,64.6 L444.5,64.6 L445.0,64.7 L445.3,64.8 L445.7,64.9 L446.2,65.0 L446.5,65.1 L447.0,65.2 L447.3,65.3 L447.7,65.4 L448.0,65.6 L448.5,65.8 L448.7,65.9 L449.0,66.0 L449.4,66.3 L449.6,66.5 L449.8,66.8 L450.0,67.0 L450.2,67.5 L450.3,67.8 L450.4,68.3 L450.5,68.5 L450.6,69.0 L450.6,69.5 L450.6,70.0 L450.5,70.5 L450.5,70.8 L450.4,71.3 L450.4,71.8 L450.4,72.3 L450.3,72.8 L450.3,73.3 L450.3,73.8 L450.2,74.3 L450.2,74.5 L450.2,75.0 L450.1,75.5 L450.0,75.9 L449.8,76.3 L449.7,76.7 L449.6,77.0 L449.5,77.5 L449.6,78.0 L449.7,78.5 L449.7,79.0 L449.7,79.3 L449.8,79.8 L449.7,80.2 L449.7,80.5 L449.7,81.0 L449.6,81.5 L449.6,82.0 L449.5,82.3 L449.4,82.8 L449.2,83.3 L449.2,83.5 L449.0,84.0 L449.0,84.5 L448.9,84.8 L448.8,85.3 L448.7,85.7 L448.6,86.0 L448.5,86.5 L448.4,86.8 L448.3,87.3 L448.2,87.6 L448.2,88.0 L448.1,88.5 L448.1,89.0 L448.0,89.5 L448.0,90.0 L447.9,90.3 L447.8,90.8 L447.7,91.1 L447.6,91.5 L447.5,91.9 L447.4,92.3 L447.2,92.7 L447.1,93.0 L447.0,93.4 L446.8,93.8 L446.6,94.0 L446.3,94.3 L446.0,94.5 L445.7,94.7 L445.5,94.8 L445.0,95.0 L444.7,95.1 L444.2,95.3 L444.0,95.3 L443.5,95.4 L443.0,95.5 L442.7,95.6 L442.3,95.8 L442.0,95.9 L441.7,96.1 L441.5,96.5 L441.4,96.8 L441.2,97.2 L441.1,97.5 L440.9,97.8 L440.7,98.2 L440.5,98.5 L440.4,98.8 L440.2,99.1 L440.0,99.5 L439.8,99.8 L439.7,100.0 L439.5,100.3 L439.2,100.5 L438.9,100.8 L438.6,101.0 L438.4,101.3 L438.1,101.5 L437.9,101.8 L437.7,102.0 L437.5,102.3 L437.2,102.6 L437.0,102.9 L436.7,103.1 L436.5,103.4 L436.2,103.7 L436.0,104.0 L435.9,104.3 L435.7,104.5 L435.5,104.9 L435.2,105.2 L435.0,105.5 L434.8,105.8 L434.6,106.0 L434.4,106.3 L434.0,106.5 L433.7,106.6 L433.5,106.8 L433.0,107.0 L432.7,107.3 L432.5,107.5 L432.2,107.6" fill="none" stroke="rgb(130,130,130)" stroke-width="0.6"/>
<path d="M433.7,104.3 L433.2,104.3 L433.0,104.2 L432.6,104.0 L432.2,103.8 L432.0,103.8 L431.5,103.7 L431.0,103.5 L430.7,103.4 L430.3,103.3 L430.0,103.0 L429.8,102.8 L429.6,102.5 L429.6,102.0 L429.7,101.5 L429.8,101.3 L429.9,100.8 L430.0,100.5 L430.1,100.0 L430.2,99.5 L430.2,99.3 L430.3,98.8 L430.4,98.3 L430.5,97.9 L430.5,97.5 L430.5,97.0 L430.6,96.5 L430.7,96.0 L430.7,95.7 L430.8,95.3 L430.9,94.8 L431.0,94.5 L431.1,94.0 L431.2,93.7 L431.4,93.3 L431.5,93.0 L431.7,92.6 L432.0,92.3 L432.2,92.0 L432.3,91.8 L432.5,91.4 L432.6,91.0 L432.7,90.6 L432.8,90.3 L433.0,89.8 L433.1,89.5 L433.2,89.0 L433.3,88.8 L433.5,88.3 L433.6,88.0 L433.7,87.5 L433.8,87.3 L434.0,86.8 L434.1,86.5 L434.2,86.2 L434.4,85.8 L434.6,85.5 L434.7,85.2 L435.0,84.8 L435.1,84.5 L435.2,84.3 L435.5,83.8 L435.6,83.5 L435.7,83.2 L435.9,82.8 L436.1,82.5 L436.3,82.3 L436.5,82.0 L436.7,81.6 L436.9,81.3 L437.0,81.0 L437.2,80.6 L437.4,80.3 L437.5,80.0 L437.7,79.5 L437.8,79.3 L438.0,78.9 L438.1,78.5 L438.3,78.3 L438.4,77.8 L438.5,77.5 L438.6,77.0 L438.6,76.5 L438.5,76.1 L438.4,75.8 L438.3,75.3 L438.2,74.9 L438.1,74.5 L437.9,74.3 L437.5,74.0 L437.2,73.9 L436.8,73.8 L436.5,73.7 L436.0,73.6 L435.7,73.5 L435.2,73.3 L435.0,73.1 L434.7,72.9 L434.5,72.7 L434.3,72.3 L434.2,72.0 L434.0,71.5 L433.8,71.3 L433.7,71.0 L433.5,70.5 L433.4,70.3 L433.4,69.8 L433.4,69.3 L433.5,69.0 L433.7,68.6 L434.0,68.3 L434.2,68.1 L434.5,68.0 L434.7,67.8 L435.0,67.5 L435.2,67.3 L435.5,66.9 L435.7,66.7 L436.0,66.5 L436.3,66.3 L436.7,66.2 L437.2,66.2 L437.7,66.2 L438.2,66.3 L438.5,66.3 L438.8,66.3 L439.2,66.2 L439.7,66.1 L440.1,66.0 L440.5,66.0 L440.9,66.0 L441.2,66.2 L441.5,66.3 L441.8,66.5 L442.0,66.8 L442.2,67.2 L442.5,67.5 L442.7,67.6 L443.2,67.6 L443.7,67.6 L444.2,67.6 L444.7,67.6 L445.2,67.5 L445.7,67.5 L446.2,67.6 L446.7,67.7 L447.0,67.8 L447.4,68.0 L447.7,68.3 L447.8,68.5 L447.9,69.0 L448.0,69.3 L448.2,69.6 L448.5,69.8 L448.7,70.1 L448.9,70.5 L449.0,70.8 L449.1,71.3 L449.0,71.8 L448.9,72.0 L448.8,72.5 L448.6,72.8 L448.5,73.1 L448.3,73.5 L448.3,74.0 L448.3,74.5 L448.3,75.0 L448.3,75.5 L448.2,76.0 L448.2,76.3 L448.2,76.8 L448.2,77.3 L448.2,77.8 L448.3,78.0 L448.4,78.5 L448.5,78.8 L448.6,79.3 L448.7,79.6 L448.8,80.0 L448.8,80.5 L448.8,81.0 L448.8,81.5 L448.7,81.9 L448.6,82.3 L448.5,82.5 L448.3,83.0 L448.2,83.3 L448.0,83.8 L448.0,84.0 L447.8,84.5 L447.7,84.8 L447.5,85.3 L447.4,85.5 L447.2,86.0 L447.2,86.5 L447.2,87.0 L447.2,87.5 L447.2,87.8 L447.2,88.3 L447.2,88.8 L447.1,89.3 L447.1,89.8 L447.0,90.3 L446.9,90.5 L446.7,90.8 L446.4,91.0 L446.0,91.2 L445.5,91.2 L445.0,91.0 L444.7,90.8 L444.7,90.8 L444.5,91.3 L444.3,91.5 L444.2,91.8 L444.0,92.2 L443.9,92.5 L443.7,92.9 L443.6,93.3 L443.4,93.5 L443.2,93.9 L443.0,94.1 L442.7,94.3 L442.3,94.5 L442.0,94.7 L441.7,94.8 L441.5,95.0 L441.1,95.3 L440.8,95.5 L440.5,95.8 L440.3,96.0 L440.2,96.3 L440.0,96.7 L439.8,97.0 L439.6,97.3 L439.4,97.5 L439.2,97.8 L438.8,98.0 L438.5,98.3 L438.4,98.5 L438.3,99.0 L438.2,99.3 L438.0,99.7 L437.8,100.0 L437.7,100.3 L437.5,100.5 L437.2,100.8 L437.0,101.0 L436.7,101.3 L436.4,101.5 L436.2,101.8 L435.9,102.0 L435.7,102.3 L435.5,102.5 L435.2,102.9 L435.0,103.2 L434.8,103.5 L434.6,103.8 L434.4,104.0 L434.0,104.2 L433.7,104.3" fill="none" stroke="rgb(117,117,117)" stroke-width="0.6"/>
<path d="M433.7,101.3 L433.5,101.3 L433.0,101.1 L432.7,101.0 L432.2,100.8 L432.0,100.7 L431.7,100.4 L431.6,100.0 L431.6,99.5 L431.5,99.0 L431.5,98.5 L431.5,98.0 L431.5,97.6 L431.5,97.3 L431.4,96.8 L431.4,96.3 L431.5,95.9 L431.5,95.5 L431.7,95.0 L431.7,94.7 L431.8,94.3 L432.0,93.9 L432.2,93.5 L432.3,93.3 L432.5,93.0 L432.7,92.5 L432.8,92.3 L433.0,92.0 L433.1,91.5 L433.2,91.1 L433.3,90.8 L433.5,90.3 L433.6,90.0 L433.7,89.5 L433.8,89.3 L434.0,88.8 L434.1,88.5 L434.2,88.1 L434.3,87.8 L434.5,87.4 L434.7,87.0 L434.8,86.8 L435.0,86.5 L435.2,86.0 L435.3,85.8 L435.5,85.4 L435.7,85.0 L435.8,84.8 L436.0,84.4 L436.2,84.0 L436.3,83.8 L436.5,83.5 L436.7,83.0 L436.9,82.8 L437.0,82.5 L437.2,82.2 L437.5,81.8 L437.7,81.5 L437.8,81.3 L438.0,80.9 L438.2,80.5 L438.3,80.3 L438.5,80.0 L438.7,79.7 L439.0,79.3 L439.1,79.0 L439.3,78.8 L439.5,78.3 L439.6,78.0 L439.7,77.6 L439.8,77.3 L439.9,76.8 L440.0,76.3 L439.9,75.8 L440.0,75.3 L440.1,75.0 L440.2,74.7 L440.4,74.3 L440.5,74.0 L440.7,73.5 L440.7,73.0 L440.6,72.5 L440.5,72.0 L440.6,71.5 L440.2,71.5 L439.7,71.4 L439.2,71.4 L438.7,71.3 L438.2,71.3 L437.9,71.3 L437.5,71.2 L437.0,71.1 L436.7,71.0 L436.4,70.8 L436.0,70.6 L435.7,70.5 L435.4,70.3 L435.0,70.1 L434.7,69.9 L434.5,69.7 L434.5,69.3 L434.7,69.2 L435.1,69.0 L435.5,68.8 L435.7,68.6 L436.0,68.3 L436.2,68.0 L436.3,67.8 L436.5,67.4 L437.0,67.3 L437.2,67.3 L437.7,67.3 L438.2,67.3 L438.5,67.3 L438.7,67.3 L439.2,67.2 L439.7,67.1 L440.2,67.1 L440.7,67.1 L441.0,67.3 L441.2,67.5 L441.5,67.8 L441.8,68.0 L442.2,68.3 L442.5,68.4 L442.7,68.5 L443.2,68.6 L443.7,68.7 L444.2,68.8 L444.5,68.8 L444.9,69.0 L445.2,69.2 L445.4,69.5 L445.5,69.8 L445.7,70.1 L446.0,70.3 L446.2,70.5 L446.7,70.8 L447.0,70.9 L447.2,71.1 L447.5,71.5 L447.2,72.0 L447.1,72.3 L446.9,72.5 L446.7,72.8 L446.5,73.3 L446.6,73.8 L446.8,74.0 L447.0,74.3 L447.2,74.7 L447.3,75.0 L447.5,75.5 L447.4,76.0 L447.3,76.5 L447.3,77.0 L447.2,77.4 L447.2,77.7 L447.3,78.0 L447.4,78.5 L447.5,78.8 L447.7,79.3 L447.7,79.5 L447.7,80.0 L447.7,80.3 L447.6,80.8 L447.5,81.1 L447.2,81.5 L447.0,81.6 L447.0,82.0 L447.1,82.3 L447.2,82.8 L447.2,83.3 L447.2,83.8 L447.0,84.3 L446.9,84.5 L446.7,84.8 L446.5,85.3 L446.4,85.5 L446.2,85.8 L446.2,86.3 L446.2,86.7 L446.2,87.0 L446.2,87.5 L446.2,87.8 L446.1,88.3 L446.0,88.5 L445.7,88.8 L445.2,88.9 L444.7,88.8 L444.5,89.2 L444.2,89.5 L444.1,89.8 L443.9,90.0 L443.7,90.4 L443.5,90.8 L443.3,91.0 L443.1,91.3 L443.0,91.5 L442.7,91.8 L442.5,92.1 L442.2,92.5 L442.1,92.8 L442.0,93.1 L441.8,93.5 L441.7,93.8 L441.5,94.1 L441.2,94.3 L440.9,94.5 L440.6,94.8 L440.3,95.0 L440.1,95.3 L439.9,95.5 L439.7,95.8 L439.5,96.1 L439.2,96.5 L439.0,96.8 L438.8,97.0 L438.5,97.3 L438.2,97.5 L438.0,97.7 L437.7,97.9 L437.5,98.2 L437.3,98.5 L437.2,98.8 L437.0,99.3 L436.9,99.5 L436.7,99.8 L436.5,100.2 L436.2,100.3 L435.7,100.5 L435.5,100.6 L435.0,100.7 L434.5,100.6 L434.3,101.0 L434.0,101.2 L433.7,101.3" fill="none" stroke="rgb(105,105,105)" stroke-width="0.6"/>
<path d="M442.7,71.5 L442.5,71.1 L442.2,70.8 L442.0,70.5 L441.7,70.4 L441.2,70.3 L441.0,70.2 L440.5,70.2 L440.0,70.0 L439.7,69.9 L439.5,69.7 L439.2,69.3 L439.2,69.3 L439.5,68.9 L439.7,68.7 L440.1,68.5 L440.5,68.4 L440.8,68.5 L441.1,68.8 L441.5,69.0 L441.7,69.1 L442.2,69.3 L442.5,69.4 L442.8,69.5 L442.9,70.0 L443.0,70.5 L442.9,71.0 L442.7,71.5" fill="rgba(0,0,0,0.07)" stroke="rgb(92,92,92)" stroke-width="0.6"/>
<path d="M435.5,99.1 L435.0,99.2 L434.5,99.2 L434.0,99.2 L433.5,99.2 L433.2,99.0 L432.9,98.8 L432.7,98.4 L432.6,98.0 L432.5,97.8 L432.3,97.3 L432.2,97.0 L432.1,96.5 L432.1,96.0 L432.2,95.5 L432.3,95.3 L432.4,94.8 L432.5,94.4 L432.6,94.0 L432.7,93.7 L432.9,93.3 L433.1,93.0 L433.2,92.7 L433.4,92.3 L433.5,92.0 L433.6,91.5 L433.7,91.3 L433.9,90.8 L434.0,90.4 L434.1,90.0 L434.2,89.7 L434.4,89.3 L434.5,89.0 L434.7,88.5 L434.9,88.3 L435.1,88.0 L435.2,87.8 L435.5,87.3 L435.6,87.0 L435.7,86.6 L435.8,86.3 L436.0,85.9 L436.1,85.5 L436.3,85.3 L436.5,84.8 L436.6,84.5 L436.7,84.3 L436.9,83.8 L437.0,83.5 L437.2,83.2 L437.5,82.8 L437.7,82.5 L437.9,82.3 L438.1,82.0 L438.3,81.8 L438.5,81.4 L438.7,81.1 L439.0,80.8 L439.2,80.6 L439.5,80.3 L439.7,80.0 L439.9,79.8 L440.1,79.5 L440.2,79.3 L440.5,78.8 L440.5,78.5 L440.7,78.0 L440.8,77.8 L440.9,77.3 L441.0,76.9 L441.1,76.5 L441.1,76.0 L441.2,75.5 L441.4,75.3 L441.6,75.0 L441.8,74.8 L442.1,74.5 L442.4,74.3 L442.7,74.1 L443.0,73.9 L443.2,73.7 L443.5,73.4 L443.7,73.1 L444.0,72.9 L444.5,72.9 L444.9,73.0 L445.2,73.3 L445.3,73.5 L445.5,73.8 L445.7,74.2 L445.9,74.5 L446.1,74.8 L446.3,75.0 L446.5,75.3 L446.7,75.8 L446.6,76.3 L446.5,76.8 L446.5,77.0 L446.4,77.5 L446.5,78.0 L446.5,78.3 L446.6,78.8 L446.7,79.3 L446.7,79.8 L446.5,80.3 L446.5,80.5 L446.3,81.0 L446.2,81.3 L446.1,81.8 L446.2,82.1 L446.3,82.5 L446.4,83.0 L446.5,83.5 L446.5,83.8 L446.4,84.0 L446.2,84.5 L446.1,84.8 L445.9,85.0 L445.7,85.4 L445.5,85.7 L445.3,86.0 L445.2,86.4 L445.1,86.8 L445.0,87.0 L444.7,87.3 L444.5,87.8 L444.3,88.0 L444.1,88.3 L443.9,88.5 L443.7,88.8 L443.5,89.2 L443.3,89.5 L443.1,89.8 L443.0,90.1 L442.7,90.5 L442.5,90.8 L442.3,91.0 L442.0,91.3 L441.7,91.5 L441.5,91.7 L441.2,91.8 L440.9,92.0 L440.8,92.5 L440.8,93.0 L440.7,93.3 L440.6,93.8 L440.5,94.1 L440.2,94.3 L440.0,94.6 L439.7,94.8 L439.5,95.2 L439.2,95.5 L439.1,95.8 L438.9,96.0 L438.7,96.3 L438.5,96.6 L438.2,96.8 L437.8,97.0 L437.5,97.3 L437.2,97.5 L437.0,97.7 L436.7,97.9 L436.5,98.2 L436.2,98.5 L436.0,98.8 L435.7,98.9 L435.5,99.1" fill="rgba(0,0,0,0.07)" stroke="rgb(92,92,92)" stroke-width="0.6"/>
<path d="M436.0,97.3 L435.5,97.4 L435.0,97.4 L434.9,97.0 L434.9,96.5 L434.8,96.0 L434.5,95.8 L434.0,95.8 L433.7,95.8 L433.4,95.5 L433.2,95.2 L433.2,94.8 L433.1,94.3 L433.2,93.9 L433.4,93.5 L433.5,93.3 L433.7,92.8 L433.8,92.5 L434.0,92.1 L434.1,91.8 L434.2,91.3 L434.3,91.0 L434.4,90.5 L434.6,90.3 L434.7,90.0 L435.0,89.5 L435.1,89.3 L435.3,89.0 L435.5,88.8 L435.7,88.5 L436.0,88.2 L436.2,87.8 L436.3,87.5 L436.4,87.0 L436.5,86.8 L436.6,86.3 L436.7,85.9 L436.9,85.5 L437.0,85.3 L437.2,84.8 L437.2,84.5 L437.4,84.0 L437.5,83.7 L437.7,83.3 L437.9,83.0 L438.1,82.8 L438.3,82.5 L438.5,82.3 L438.9,82.0 L439.2,81.8 L439.5,81.6 L439.7,81.4 L440.0,81.2 L440.2,81.0 L440.5,80.8 L440.7,80.4 L440.8,80.0 L441.0,79.6 L441.1,79.3 L441.2,78.8 L441.3,78.5 L441.5,78.1 L441.6,77.8 L441.7,77.5 L441.9,77.0 L442.0,76.8 L442.1,76.3 L442.2,76.0 L442.4,75.5 L442.7,75.3 L443.0,75.2 L443.5,75.1 L444.0,75.1 L444.5,75.3 L444.7,75.5 L445.0,75.7 L445.2,76.0 L445.4,76.3 L445.5,76.7 L445.5,77.0 L445.6,77.5 L445.7,78.0 L445.8,78.3 L445.9,78.8 L446.0,79.3 L446.0,79.5 L446.0,79.9 L445.9,80.3 L445.8,80.8 L445.7,81.0 L445.6,81.5 L445.6,82.0 L445.7,82.3 L445.8,82.8 L445.9,83.3 L446.0,83.5 L446.0,83.9 L445.8,84.3 L445.6,84.5 L445.5,84.8 L445.2,85.1 L445.0,85.4 L444.7,85.7 L444.5,85.8 L444.2,86.1 L444.0,86.5 L443.9,86.8 L443.7,87.1 L443.6,87.5 L443.5,87.8 L443.2,88.2 L443.0,88.5 L442.9,88.8 L442.7,89.0 L442.5,89.5 L442.4,89.8 L442.2,90.1 L442.0,90.5 L441.7,90.7 L441.5,91.0 L441.2,91.2 L441.0,91.4 L440.7,91.5 L440.3,91.8 L440.0,92.0 L440.0,92.5 L440.0,92.8 L439.9,93.3 L439.8,93.8 L439.7,94.0 L439.5,94.3 L439.2,94.6 L439.0,94.9 L438.8,95.3 L438.6,95.5 L438.4,95.8 L438.2,96.0 L437.9,96.3 L437.5,96.5 L437.2,96.7 L437.0,96.8 L436.6,97.0 L436.2,97.2 L436.0,97.3" fill="rgba(0,0,0,0.07)" stroke="rgb(80,80,80)" stroke-width="0.6"/>
<path d="M436.7,96.0 L436.2,96.0 L436.0,95.9 L435.7,95.8 L435.3,95.5 L435.0,95.4 L434.7,95.2 L434.3,95.0 L434.0,94.8 L433.9,94.5 L433.7,94.1 L433.7,94.0 L433.9,93.5 L434.0,93.3 L434.2,92.8 L434.3,92.5 L434.4,92.0 L434.5,91.8 L434.7,91.4 L434.9,91.0 L435.0,90.8 L435.2,90.5 L435.5,90.1 L435.7,89.8 L435.9,89.5 L436.1,89.3 L436.4,89.0 L436.5,88.8 L436.7,88.3 L436.8,88.0 L436.9,87.5 L437.0,87.2 L437.1,86.8 L437.2,86.5 L437.5,86.1 L437.7,85.8 L437.7,85.5 L437.8,85.0 L437.8,84.5 L437.9,84.0 L438.0,83.7 L438.2,83.3 L438.5,83.0 L438.7,82.8 L439.0,82.6 L439.2,82.5 L439.7,82.3 L440.0,82.2 L440.5,82.0 L440.7,81.9 L441.0,81.7 L441.2,81.3 L441.2,81.0 L441.3,80.5 L441.4,80.0 L441.5,79.8 L441.6,79.3 L441.7,79.0 L442.0,78.5 L442.1,78.3 L442.3,78.0 L442.5,77.8 L442.8,77.5 L443.1,77.3 L443.5,77.1 L444.0,77.2 L444.2,77.3 L444.5,77.5 L444.7,77.8 L444.9,78.3 L445.0,78.6 L445.1,79.0 L445.2,79.5 L445.2,80.0 L445.1,80.5 L445.1,81.0 L445.0,81.5 L445.1,82.0 L445.2,82.4 L445.3,82.8 L445.4,83.3 L445.5,83.5 L445.5,83.9 L445.2,84.3 L445.1,84.5 L444.9,84.8 L444.6,85.0 L444.2,85.2 L443.9,85.3 L443.5,85.4 L443.1,85.5 L442.7,85.6 L442.6,86.0 L442.6,86.5 L442.6,87.0 L442.5,87.5 L442.5,87.8 L442.3,88.3 L442.2,88.5 L442.0,89.0 L441.9,89.3 L441.8,89.8 L441.7,90.0 L441.5,90.3 L441.2,90.6 L441.0,90.8 L440.7,91.0 L440.2,91.3 L440.0,91.4 L439.7,91.6 L439.5,91.8 L439.3,92.3 L439.3,92.8 L439.2,93.0 L439.1,93.5 L439.0,93.9 L438.7,94.3 L438.6,94.5 L438.3,94.8 L438.0,95.0 L437.7,95.3 L437.5,95.5 L437.2,95.7 L437.0,95.9 L436.7,96.0" fill="rgba(0,0,0,0.07)" stroke="rgb(67,67,67)" stroke-width="0.6"/>
<path d="M435.7,94.6 L435.2,94.6 L435.0,94.5 L434.5,94.3 L434.3,94.0 L434.4,93.5 L434.6,93.3 L434.7,93.0 L435.0,92.5 L435.1,92.3 L435.2,91.9 L435.4,91.5 L435.6,91.3 L435.7,91.0 L436.0,90.7 L436.2,90.5 L436.5,90.2 L436.7,90.0 L437.0,89.5 L437.0,89.3 L437.1,88.8 L437.2,88.3 L437.2,88.0 L437.4,87.5 L437.5,87.2 L437.7,86.8 L437.9,86.5 L438.2,86.3 L438.5,86.1 L438.7,85.8 L438.7,85.7 L438.6,85.3 L438.5,84.8 L438.4,84.5 L438.4,84.0 L438.5,83.7 L438.7,83.4 L439.0,83.3 L439.5,83.1 L439.7,83.0 L440.2,82.8 L440.5,82.7 L441.0,82.6 L441.2,82.5 L441.6,82.3 L442.0,82.1 L442.2,81.9 L442.3,81.5 L442.2,81.3 L442.0,80.8 L442.0,80.3 L442.0,79.8 L442.2,79.3 L442.4,79.0 L442.6,78.8 L443.0,78.6 L443.5,78.6 L443.8,78.8 L444.0,79.0 L444.2,79.4 L444.3,79.8 L444.3,80.3 L444.3,80.8 L444.2,81.0 L444.0,81.5 L443.9,81.8 L444.2,82.0 L444.5,82.2 L444.7,82.5 L444.8,82.8 L445.0,83.3 L445.0,83.5 L445.0,83.9 L444.7,84.3 L444.5,84.4 L444.0,84.5 L443.7,84.5 L443.2,84.6 L442.9,84.5 L442.7,84.5 L442.5,84.8 L442.3,85.3 L442.2,85.5 L442.1,86.0 L442.0,86.5 L441.9,86.8 L441.7,87.3 L441.6,87.5 L441.4,87.8 L441.3,88.3 L441.4,88.8 L441.3,89.3 L441.3,89.8 L441.2,90.0 L441.0,90.3 L440.7,90.5 L440.2,90.7 L440.0,90.8 L439.5,91.0 L439.2,91.1 L439.0,91.3 L438.7,91.7 L438.6,92.0 L438.5,92.5 L438.5,92.8 L438.3,93.3 L438.1,93.5 L437.9,93.8 L437.5,94.0 L437.2,94.1 L436.7,94.0 L436.5,93.9 L436.2,94.3 L436.0,94.5 L435.7,94.6" fill="rgba(0,0,0,0.07)" stroke="rgb(55,55,55)" stroke-width="0.6"/>
<path d="M442.7,80.0 L442.7,79.7 L442.7,80.0" fill="rgba(0,0,0,0.07)" stroke="rgb(42,42,42)" stroke-width="0.6"/>
<path d="M440.7,90.1 L440.2,90.2 L439.7,90.2 L439.2,90.0 L439.0,89.8 L438.7,89.6 L438.5,89.5 L438.0,89.3 L437.9,89.0 L437.7,88.5 L437.7,88.3 L437.7,87.8 L437.8,87.5 L438.0,87.3 L438.2,87.0 L438.5,86.8 L438.8,86.5 L439.1,86.3 L439.2,86.0 L439.3,85.5 L439.2,85.1 L439.2,84.8 L439.2,84.3 L439.2,84.0 L439.5,83.7 L440.0,83.5 L440.2,83.5 L440.7,83.4 L441.2,83.4 L441.6,83.5 L441.9,83.8 L441.9,84.3 L441.8,84.8 L441.7,85.1 L441.7,85.5 L441.6,86.0 L441.5,86.3 L441.3,86.8 L441.1,87.0 L440.9,87.3 L440.6,87.5 L440.4,87.8 L440.4,88.3 L440.6,88.5 L440.7,89.0 L440.8,89.3 L440.8,89.8 L440.7,90.1" fill="rgba(0,0,0,0.07)" stroke="rgb(42,42,42)" stroke-width="0.6"/>
<path d="M437.0,92.6 L436.5,92.6 L436.2,92.4 L436.1,92.0 L436.2,91.8 L436.5,91.5 L437.0,91.4 L437.3,91.5 L437.5,91.8 L437.5,92.1 L437.2,92.4 L437.0,92.6" fill="rgba(0,0,0,0.07)" stroke="rgb(42,42,42)" stroke-width="0.6"/>
<path d="M440.7,86.6 L440.2,86.7 L440.0,86.5 L439.9,86.0 L439.9,85.5 L440.0,85.3 L440.2,84.8 L440.4,84.5 L440.7,84.5 L440.9,84.8 L441.0,85.0 L441.1,85.5 L441.0,86.0 L440.9,86.3 L440.7,86.6" fill="rgba(0,0,0,0.07)" stroke="rgb(30,30,30)" stroke-width="0.6"/>
<path d="M439.2,88.6 L438.7,88.7 L438.4,88.5 L438.2,88.3 L438.2,87.8 L438.4,87.5 L438.7,87.3 L439.0,87.3 L439.2,87.3 L439.5,87.5 L439.5,88.0 L439.5,88.3 L439.2,88.6" fill="rgba(0,0,0,0.07)" stroke="rgb(30,30,30)" stroke-width="0.6"/>
<path d="M420.5,115.6 L420.0,115.7 L419.5,115.7 L419.0,115.8 L418.5,115.7 L418.0,115.7 L417.5,115.7 L417.0,115.6 L416.6,115.5 L416.2,115.3 L416.0,115.1 L415.7,115.0 L415.4,114.8 L415.0,114.6 L414.7,114.5 L414.3,114.3 L414.0,114.1 L413.7,113.9 L413.5,113.5 L413.4,113.3 L413.2,112.9 L413.1,112.5 L413.1,112.0 L413.2,111.5 L413.2,111.2 L413.3,110.8 L413.4,110.3 L413.3,109.8 L413.4,109.3 L413.7,109.2 L414.0,108.9 L414.2,108.5 L414.0,108.2 L413.5,108.3 L413.2,108.4 L413.0,108.6 L412.5,108.6 L412.4,108.3 L412.5,107.9 L412.5,107.5 L412.6,107.0 L412.7,106.5 L412.7,106.3 L412.8,105.8 L413.0,105.3 L413.0,105.0 L413.1,104.5 L413.2,104.3 L413.5,103.9 L413.7,103.6 L414.0,103.4 L414.2,103.3 L414.6,103.0 L415.0,102.8 L415.2,102.5 L415.5,102.3 L415.6,102.0 L415.8,101.8 L416.0,101.5 L416.2,101.0 L416.3,100.8 L416.5,100.5 L416.6,100.0 L416.7,99.5 L416.7,99.1 L416.8,98.8 L417.0,98.4 L417.2,98.1 L417.5,97.8 L417.7,97.6 L418.0,97.4 L418.3,97.3 L418.7,97.1 L419.2,97.0 L419.5,97.0 L420.0,97.0 L420.3,96.8 L420.6,96.5 L421.0,96.3 L421.2,96.1 L421.4,95.8 L421.5,95.5 L421.7,95.0 L421.8,94.8 L422.0,94.3 L422.2,94.2 L422.5,94.3 L423.0,94.5 L423.2,94.6 L423.6,94.8 L424.0,94.9 L424.5,94.8 L424.7,94.7 L425.1,94.5 L425.5,94.4 L425.8,94.3 L426.2,94.1 L426.7,94.1 L427.2,94.1 L427.7,94.2 L428.2,94.2 L428.7,94.2 L429.2,94.1 L429.7,94.1 L430.2,94.2 L430.5,94.3 L430.9,94.5 L431.1,94.8 L431.3,95.0 L431.5,95.3 L431.6,95.8 L431.7,96.2 L431.9,96.5 L432.0,96.8 L432.2,97.3 L432.3,97.5 L432.4,98.0 L432.5,98.3 L432.5,98.5 L432.4,99.0 L432.3,99.5 L432.2,100.0 L432.2,100.3 L432.2,100.5 L432.3,101.0 L432.3,101.5 L432.3,102.0 L432.2,102.4 L432.0,102.8 L431.9,103.0 L431.7,103.5 L431.6,103.8 L431.5,104.2 L431.3,104.5 L431.2,104.8 L431.0,105.2 L430.8,105.5 L430.6,105.8 L430.4,106.0 L430.2,106.3 L430.0,106.5 L429.7,107.0 L429.6,107.3 L429.4,107.5 L429.2,107.9 L429.0,108.3 L428.8,108.5 L428.5,108.8 L428.2,109.0 L428.0,109.3 L427.9,109.5 L427.7,109.8 L427.5,110.3 L427.4,110.5 L427.2,111.0 L427.1,111.3 L426.9,111.5 L426.7,111.8 L426.4,112.0 L426.0,112.3 L425.7,112.4 L425.5,112.6 L425.2,112.8 L425.0,113.0 L424.7,113.3 L424.4,113.5 L424.2,113.8 L423.7,114.0 L423.5,114.1 L423.0,114.2 L422.7,114.3 L422.2,114.3 L421.8,114.5 L421.5,114.8 L421.3,115.0 L421.1,115.3 L420.7,115.5 L420.5,115.6" fill="rgba(0,0,0,0.2)" stroke="rgb(50,50,50)" stroke-width="0.65"/>
<path d="M419.2,115.0 L418.7,115.1 L418.2,115.1 L417.7,115.0 L417.5,114.9 L417.1,114.8 L416.8,114.5 L416.5,114.3 L416.2,114.1 L416.0,113.9 L415.6,113.8 L415.2,113.6 L415.0,113.5 L414.6,113.3 L414.2,113.0 L414.0,112.8 L413.8,112.5 L413.9,112.0 L413.9,111.5 L414.0,111.3 L414.2,110.8 L414.4,110.5 L414.5,110.0 L414.5,109.8 L414.6,109.3 L414.7,109.0 L414.9,108.5 L414.7,108.1 L414.5,107.8 L414.4,107.5 L414.2,107.3 L414.0,107.0 L413.7,106.7 L413.6,106.3 L413.7,105.8 L413.7,105.3 L413.8,105.0 L413.9,104.5 L414.1,104.3 L414.5,104.1 L414.8,104.0 L415.2,103.9 L415.7,103.9 L416.0,103.5 L416.0,103.3 L416.1,102.8 L416.2,102.4 L416.4,102.0 L416.5,101.8 L416.7,101.3 L416.9,101.0 L417.1,100.8 L417.2,100.5 L417.5,100.1 L417.6,99.8 L417.7,99.4 L417.9,99.0 L418.2,98.8 L418.5,98.6 L418.7,98.4 L419.1,98.3 L419.5,98.2 L420.0,98.1 L420.2,97.9 L420.5,97.7 L420.7,97.5 L421.0,97.3 L421.4,97.0 L421.7,96.8 L422.0,96.6 L422.2,96.5 L422.7,96.3 L423.0,96.2 L423.2,96.0 L423.7,95.8 L424.0,95.8 L424.5,95.6 L424.7,95.5 L425.2,95.3 L425.5,95.2 L425.9,95.0 L426.2,94.9 L426.7,94.8 L427.0,94.8 L427.5,94.7 L428.0,94.7 L428.5,94.7 L428.8,94.8 L429.2,94.9 L429.6,95.0 L429.9,95.3 L430.2,95.5 L430.3,95.8 L430.5,96.0 L430.7,96.5 L430.8,96.8 L431.0,97.3 L431.0,97.5 L431.2,98.0 L431.2,98.3 L431.4,98.8 L431.5,99.3 L431.5,99.5 L431.5,100.0 L431.5,100.4 L431.4,100.8 L431.3,101.3 L431.2,101.6 L431.0,102.0 L430.8,102.3 L430.8,102.8 L430.7,103.3 L430.7,103.5 L430.7,104.0 L430.5,104.5 L430.4,104.8 L430.2,105.0 L429.8,105.3 L429.5,105.5 L429.2,105.6 L428.8,105.8 L428.5,105.9 L428.2,106.0 L428.0,106.3 L427.9,106.8 L427.9,107.3 L427.8,107.8 L427.8,108.3 L427.7,108.5 L427.5,108.9 L427.3,109.3 L427.2,109.5 L427.0,109.9 L426.8,110.3 L426.6,110.5 L426.5,110.8 L426.2,111.1 L425.9,111.3 L425.5,111.5 L425.2,111.6 L424.9,111.8 L424.5,112.0 L424.2,112.2 L424.0,112.4 L423.7,112.7 L423.5,112.9 L423.2,113.1 L423.0,113.3 L422.5,113.5 L422.2,113.6 L421.7,113.8 L421.5,113.9 L421.2,114.1 L420.9,114.3 L420.6,114.5 L420.3,114.8 L420.0,114.9 L419.5,115.0 L419.2,115.0" fill="rgba(0,0,0,0.2)" stroke="rgb(46,46,46)" stroke-width="0.65"/>
<path d="M419.0,114.3 L418.5,114.3 L418.0,114.3 L417.8,114.0 L417.6,113.8 L417.3,113.5 L417.0,113.4 L416.6,113.3 L416.2,113.2 L415.7,113.0 L415.5,112.9 L415.2,112.8 L414.9,112.5 L414.9,112.0 L415.0,111.5 L415.0,111.3 L415.2,110.8 L415.3,110.5 L415.2,110.0 L415.3,109.5 L415.3,109.0 L415.4,108.5 L415.4,108.0 L415.4,107.5 L415.4,107.0 L415.6,106.8 L416.0,106.5 L416.0,106.3 L416.1,105.8 L416.1,105.3 L416.2,104.8 L416.2,104.5 L416.3,104.0 L416.4,103.5 L416.5,103.2 L416.6,102.8 L416.7,102.3 L416.8,102.0 L417.0,101.8 L417.2,101.4 L417.5,101.0 L417.6,100.8 L417.9,100.5 L418.2,100.4 L418.7,100.3 L419.2,100.3 L419.7,100.3 L420.1,100.3 L420.2,99.8 L420.2,99.5 L420.4,99.0 L420.5,98.8 L420.7,98.3 L421.0,98.1 L421.2,97.9 L421.5,97.7 L421.7,97.5 L422.1,97.3 L422.5,97.2 L423.0,97.1 L423.3,97.0 L423.7,96.9 L424.0,96.8 L424.3,96.5 L424.5,96.3 L424.8,96.0 L425.2,95.9 L425.5,95.8 L426.0,95.6 L426.2,95.5 L426.7,95.3 L427.0,95.3 L427.5,95.2 L428.0,95.1 L428.5,95.2 L428.8,95.3 L429.2,95.5 L429.5,95.6 L429.7,95.9 L429.9,96.3 L430.0,96.5 L430.1,97.0 L430.1,97.5 L430.1,98.0 L430.2,98.4 L430.5,98.7 L430.7,99.0 L430.8,99.3 L430.9,99.8 L430.9,100.3 L430.8,100.8 L430.7,101.0 L430.5,101.4 L430.2,101.7 L430.0,101.9 L429.7,102.1 L429.4,102.3 L429.5,102.6 L429.6,103.0 L429.7,103.5 L429.7,104.0 L429.5,104.4 L429.2,104.6 L428.8,104.8 L428.5,104.9 L428.2,105.0 L428.0,105.3 L427.7,105.7 L427.5,106.0 L427.3,106.3 L427.1,106.5 L427.2,107.0 L427.2,107.5 L427.2,108.0 L427.1,108.5 L427.0,108.8 L426.7,109.2 L426.6,109.5 L426.5,109.8 L426.2,110.2 L426.0,110.4 L425.7,110.6 L425.2,110.8 L425.0,110.9 L424.6,111.0 L424.2,111.2 L424.0,111.3 L423.7,111.5 L423.5,111.8 L423.2,112.1 L423.0,112.5 L422.7,112.7 L422.5,112.9 L422.1,113.0 L421.7,113.2 L421.4,113.3 L421.0,113.4 L420.7,113.6 L420.3,113.8 L420.0,114.0 L419.7,114.1 L419.2,114.2 L419.0,114.3" fill="rgba(0,0,0,0.2)" stroke="rgb(42,42,42)" stroke-width="0.65"/>
<path d="M421.0,112.8 L420.5,112.9 L420.0,112.9 L419.6,112.8 L419.3,112.5 L419.0,112.3 L418.7,112.2 L418.3,112.0 L418.0,111.9 L417.5,112.0 L417.2,112.1 L416.7,112.1 L416.2,112.0 L416.0,111.8 L416.0,111.5 L416.0,111.2 L416.0,110.8 L416.0,110.3 L415.9,110.0 L415.9,109.5 L415.8,109.0 L415.9,108.5 L416.0,108.0 L416.0,107.8 L416.2,107.3 L416.2,107.0 L416.4,106.5 L416.5,106.0 L416.5,105.8 L416.5,105.3 L416.6,104.8 L416.6,104.3 L416.7,103.8 L416.8,103.5 L416.9,103.0 L417.0,102.7 L417.1,102.3 L417.2,102.0 L417.5,101.6 L417.7,101.3 L417.9,101.0 L418.2,100.9 L418.7,100.9 L419.2,100.9 L419.7,101.0 L420.0,101.0 L420.2,100.8 L420.3,100.5 L420.5,100.2 L420.6,99.8 L420.7,99.4 L420.9,99.0 L421.1,98.8 L421.3,98.5 L421.5,98.3 L421.8,98.0 L422.2,97.8 L422.7,97.8 L423.2,97.9 L423.5,98.0 L423.8,98.3 L424.2,98.4 L424.5,98.0 L424.5,97.8 L424.7,97.3 L424.9,97.0 L425.1,96.8 L425.3,96.5 L425.6,96.3 L426.0,96.1 L426.2,96.0 L426.7,95.8 L427.0,95.7 L427.5,95.5 L427.7,95.5 L428.2,95.5 L428.5,95.5 L429.0,95.8 L429.2,96.0 L429.4,96.3 L429.5,96.5 L429.6,97.0 L429.6,97.5 L429.6,98.0 L429.7,98.5 L429.9,98.8 L430.0,99.0 L430.2,99.4 L430.4,99.8 L430.5,100.1 L430.5,100.3 L430.2,100.8 L430.0,101.0 L429.7,101.1 L429.5,101.3 L429.0,101.5 L428.7,101.7 L428.4,101.8 L428.1,102.0 L427.9,102.3 L428.0,102.5 L428.1,103.0 L428.1,103.5 L428.1,104.0 L428.0,104.5 L427.8,104.8 L427.6,105.0 L427.5,105.3 L427.2,105.6 L427.0,105.9 L426.7,106.2 L426.5,106.5 L426.6,107.0 L426.6,107.5 L426.6,108.0 L426.6,108.5 L426.5,108.8 L426.2,109.3 L426.0,109.5 L425.7,109.6 L425.5,109.8 L425.0,110.0 L424.7,110.1 L424.2,110.2 L424.0,110.3 L423.5,110.5 L423.2,110.7 L423.0,110.9 L422.7,111.3 L422.6,111.5 L422.5,111.8 L422.2,112.3 L422.1,112.5 L421.7,112.6 L421.2,112.7 L421.0,112.8" fill="rgba(0,0,0,0.2)" stroke="rgb(38,38,38)" stroke-width="0.65"/>
<path d="M419.2,111.4 L418.7,111.4 L418.2,111.3 L417.8,111.3 L417.5,111.2 L417.2,111.0 L416.9,110.8 L416.7,110.4 L416.5,110.0 L416.4,109.8 L416.3,109.3 L416.3,108.8 L416.3,108.3 L416.4,107.8 L416.5,107.5 L416.6,107.0 L416.7,106.8 L416.9,106.3 L416.9,105.8 L416.9,105.3 L416.9,104.8 L417.0,104.3 L417.0,104.0 L417.1,103.5 L417.2,103.0 L417.3,102.8 L417.4,102.3 L417.6,102.0 L417.8,101.8 L418.0,101.5 L418.5,101.4 L419.0,101.4 L419.5,101.5 L419.7,101.5 L420.1,101.5 L420.3,101.3 L420.5,101.0 L420.7,100.5 L420.8,100.3 L421.0,99.8 L421.1,99.5 L421.2,99.3 L421.5,98.9 L421.7,98.6 L422.0,98.4 L422.5,98.4 L423.0,98.5 L423.2,98.5 L423.7,98.7 L424.0,98.8 L424.3,98.8 L424.7,98.5 L425.0,98.3 L425.1,98.0 L425.3,97.8 L425.5,97.4 L425.7,97.1 L426.0,96.9 L426.2,96.7 L426.5,96.4 L426.7,96.2 L427.0,96.0 L427.5,95.9 L428.0,95.8 L428.2,95.8 L428.5,95.9 L428.8,96.0 L429.0,96.4 L429.1,96.8 L429.2,97.3 L429.2,97.8 L429.2,98.3 L429.2,98.6 L429.3,99.0 L429.4,99.5 L429.5,99.8 L429.6,100.3 L429.2,100.4 L428.7,100.5 L428.2,100.4 L428.1,100.8 L427.9,101.0 L427.7,101.4 L427.5,101.8 L427.3,102.0 L427.1,102.3 L427.3,102.5 L427.5,103.0 L427.5,103.3 L427.6,103.8 L427.6,104.3 L427.5,104.6 L427.2,104.9 L427.0,105.3 L426.8,105.5 L426.6,105.8 L426.3,106.0 L426.1,106.3 L426.0,106.5 L426.0,106.8 L426.1,107.3 L426.1,107.8 L426.1,108.3 L426.0,108.6 L425.6,108.8 L425.2,109.0 L425.0,109.1 L424.5,109.3 L424.2,109.3 L423.7,109.4 L423.2,109.3 L423.0,109.1 L422.8,108.8 L422.7,108.5 L422.3,108.3 L422.0,108.3 L421.7,108.5 L421.7,109.0 L421.7,109.3 L421.6,109.8 L421.4,110.0 L421.0,110.3 L420.7,110.3 L420.2,110.4 L419.7,110.5 L419.7,110.8 L419.5,111.3 L419.2,111.4" fill="rgba(0,0,0,0.2)" stroke="rgb(34,34,34)" stroke-width="0.65"/>
<path d="M418.5,110.6 L418.0,110.7 L417.6,110.5 L417.3,110.3 L417.1,110.0 L417.0,109.8 L416.8,109.3 L416.7,109.0 L416.6,108.5 L416.7,108.0 L416.8,107.8 L416.9,107.3 L417.0,107.0 L417.2,106.5 L417.2,106.3 L417.2,106.0 L417.2,105.5 L417.2,105.0 L417.2,104.5 L417.2,104.3 L417.3,103.8 L417.5,103.3 L417.5,103.0 L417.6,102.5 L417.7,102.3 L418.0,101.9 L418.5,101.9 L419.0,101.9 L419.5,102.0 L419.7,102.0 L420.2,102.0 L420.5,101.8 L420.7,101.5 L420.8,101.3 L421.0,100.8 L421.0,100.5 L421.2,100.0 L421.3,99.8 L421.5,99.5 L421.7,99.2 L422.0,98.9 L422.5,98.8 L423.0,98.9 L423.3,99.0 L423.7,99.2 L424.0,99.3 L424.3,99.3 L424.7,99.1 L425.0,98.9 L425.2,98.7 L425.5,98.5 L425.7,98.2 L426.0,97.9 L426.2,97.6 L426.5,97.3 L426.7,97.0 L427.0,96.8 L427.2,96.5 L427.5,96.3 L427.7,96.2 L428.2,96.1 L428.5,96.3 L428.6,96.8 L428.7,97.3 L428.7,97.5 L428.7,97.8 L428.7,98.3 L428.7,98.8 L428.5,99.3 L428.2,99.5 L428.0,99.8 L427.7,100.0 L427.5,100.3 L427.4,100.5 L427.2,100.9 L427.0,101.3 L426.8,101.5 L426.7,101.8 L426.4,102.0 L426.5,102.5 L426.7,102.8 L426.9,103.0 L427.0,103.3 L427.1,103.8 L427.2,104.3 L427.0,104.7 L426.7,105.0 L426.5,105.3 L426.3,105.5 L426.1,105.8 L425.8,106.0 L425.5,106.3 L425.4,106.5 L425.4,107.0 L425.3,107.5 L425.2,107.8 L425.0,108.1 L424.6,108.3 L424.2,108.4 L423.7,108.3 L423.5,108.3 L423.0,108.1 L422.6,108.0 L422.2,107.9 L421.9,108.0 L421.6,108.3 L421.4,108.5 L421.3,109.0 L421.1,109.3 L421.0,109.5 L420.6,109.8 L420.2,109.9 L419.9,110.0 L419.5,110.2 L419.2,110.3 L418.7,110.5 L418.5,110.6" fill="rgba(0,0,0,0.2)" stroke="rgb(30,30,30)" stroke-width="0.65"/>
<path d="M418.7,110.1 L418.2,110.2 L417.7,110.0 L417.5,109.8 L417.3,109.5 L417.2,109.3 L417.0,108.8 L417.0,108.5 L417.0,108.3 L417.1,107.8 L417.2,107.4 L417.4,107.0 L417.5,106.7 L417.6,106.3 L417.5,105.8 L417.5,105.3 L417.5,104.8 L417.5,104.3 L417.6,103.8 L417.7,103.3 L417.8,103.0 L417.9,102.5 L418.2,102.4 L418.7,102.3 L419.2,102.4 L419.5,102.5 L419.8,102.8 L420.2,102.9 L420.5,102.8 L420.8,102.5 L421.1,102.3 L421.2,101.8 L421.2,101.5 L421.3,101.0 L421.3,100.5 L421.5,100.1 L421.6,99.8 L421.8,99.5 L422.1,99.3 L422.5,99.3 L422.7,99.3 L423.2,99.4 L423.6,99.5 L424.0,99.7 L424.5,99.7 L425.0,99.5 L425.2,99.5 L425.6,99.3 L426.0,99.0 L426.2,98.8 L426.5,98.6 L426.7,98.3 L427.0,98.1 L427.2,97.8 L427.5,97.6 L427.7,97.4 L428.0,97.2 L428.2,97.3 L428.3,97.8 L428.2,98.1 L428.0,98.4 L427.7,98.8 L427.5,99.0 L427.3,99.3 L427.1,99.5 L426.9,99.8 L426.7,100.0 L426.5,100.5 L426.3,100.8 L426.2,101.0 L426.0,101.5 L425.8,101.8 L425.7,102.0 L425.7,102.4 L426.0,102.7 L426.2,102.9 L426.5,103.3 L426.6,103.5 L426.7,103.9 L426.8,104.3 L426.7,104.5 L426.5,104.8 L426.2,105.1 L426.0,105.3 L425.7,105.5 L425.4,105.8 L425.2,106.0 L425.0,106.4 L424.8,106.8 L424.7,107.1 L424.5,107.4 L424.2,107.6 L423.7,107.7 L423.2,107.7 L422.7,107.7 L422.2,107.6 L421.8,107.8 L421.5,108.0 L421.3,108.3 L421.0,108.5 L420.9,108.8 L420.7,109.1 L420.5,109.3 L420.1,109.5 L419.7,109.7 L419.5,109.8 L419.0,110.0 L418.7,110.1" fill="rgba(0,0,0,0.2)" stroke="rgb(26,26,26)" stroke-width="0.65"/>
<path d="M422.2,104.3 L422.1,104.0 L421.9,104.0 L422.0,104.5 L422.2,104.3" fill="rgba(0,0,0,0.2)" stroke="rgb(26,26,26)" stroke-width="0.65"/>
<path d="M419.0,109.6 L418.5,109.7 L418.0,109.7 L417.7,109.4 L417.5,109.0 L417.4,108.8 L417.3,108.3 L417.4,107.8 L417.5,107.5 L417.7,107.0 L417.8,106.8 L417.9,106.3 L417.8,105.8 L417.8,105.3 L417.7,104.8 L417.8,104.3 L417.9,103.8 L418.0,103.4 L418.3,103.3 L418.7,103.2 L419.0,103.3 L419.4,103.5 L419.7,103.8 L419.8,104.0 L420.0,104.3 L420.5,104.3 L421.0,104.5 L421.2,104.6 L421.7,104.8 L422.0,104.9 L422.4,104.8 L422.7,104.5 L422.8,104.3 L422.7,103.9 L422.7,103.5 L422.6,103.0 L422.6,102.5 L422.5,102.2 L422.2,102.0 L421.9,101.8 L421.7,101.5 L421.7,101.0 L421.6,100.5 L421.7,100.1 L422.0,99.8 L422.2,99.6 L422.7,99.7 L423.1,99.8 L423.5,99.9 L423.8,100.0 L424.2,100.2 L424.7,100.2 L425.1,100.3 L425.2,100.5 L425.2,101.0 L425.2,101.3 L425.1,101.8 L425.0,102.3 L425.2,102.6 L425.5,102.9 L425.7,103.2 L426.0,103.4 L426.2,103.7 L426.4,104.0 L426.3,104.5 L426.1,104.8 L425.7,105.0 L425.5,105.2 L425.2,105.4 L425.0,105.6 L424.7,105.9 L424.5,106.3 L424.4,106.5 L424.2,106.9 L424.0,107.1 L423.5,107.2 L423.0,107.3 L422.7,107.3 L422.5,107.3 L422.2,107.3 L421.8,107.5 L421.5,107.8 L421.2,108.0 L421.0,108.2 L420.7,108.5 L420.5,108.8 L420.3,109.0 L420.0,109.2 L419.7,109.3 L419.2,109.5 L419.0,109.6" fill="rgba(0,0,0,0.2)" stroke="rgb(23,23,23)" stroke-width="0.65"/>
<path d="M423.5,101.4 L423.0,101.4 L422.5,101.3 L422.2,101.3 L422.0,100.9 L421.9,100.5 L422.0,100.2 L422.2,100.0 L422.5,100.0 L423.0,100.2 L423.3,100.3 L423.5,100.7 L423.5,101.0 L423.5,101.4" fill="rgba(0,0,0,0.2)" stroke="rgb(19,19,19)" stroke-width="0.65"/>
<path d="M419.2,109.1 L418.7,109.2 L418.2,109.2 L417.9,109.0 L417.7,108.8 L417.6,108.3 L417.7,107.9 L417.8,107.5 L418.0,107.1 L418.1,106.8 L418.2,106.3 L418.2,106.3 L418.2,105.8 L418.1,105.3 L418.1,104.8 L418.2,104.5 L418.7,104.4 L419.2,104.5 L419.5,104.5 L420.0,104.6 L420.5,104.7 L420.8,104.8 L421.2,104.9 L421.5,105.1 L421.8,105.3 L422.2,105.5 L422.7,105.3 L423.0,105.1 L423.2,104.8 L423.4,104.5 L423.4,104.0 L423.5,103.5 L423.5,103.3 L423.6,102.8 L423.8,102.5 L423.9,102.0 L424.0,102.0 L424.2,102.3 L424.5,102.7 L424.7,103.0 L424.9,103.3 L425.1,103.5 L425.4,103.8 L425.6,104.0 L425.9,104.3 L425.6,104.5 L425.2,104.7 L425.0,104.9 L424.7,105.1 L424.5,105.3 L424.2,105.8 L424.1,106.0 L424.0,106.3 L423.7,106.6 L423.3,106.8 L423.0,106.9 L422.5,106.9 L422.0,107.0 L421.7,107.2 L421.5,107.5 L421.2,107.7 L421.0,107.9 L420.7,108.1 L420.5,108.4 L420.2,108.6 L420.0,108.8 L419.5,109.0 L419.2,109.1" fill="rgba(0,0,0,0.2)" stroke="rgb(19,19,19)" stroke-width="0.65"/>
<path d="M419.5,108.6 L419.0,108.7 L418.5,108.7 L418.0,108.6 L418.0,108.3 L418.0,108.0 L418.2,107.6 L418.3,107.3 L418.5,106.8 L418.5,106.5 L418.5,106.0 L418.7,105.5 L418.8,105.3 L419.2,105.0 L419.5,105.0 L420.0,104.9 L420.5,105.0 L420.7,105.1 L421.2,105.3 L421.5,105.5 L421.7,105.7 L422.0,105.9 L422.2,106.1 L422.7,106.2 L422.7,106.4 L422.5,106.6 L422.0,106.7 L421.7,106.9 L421.5,107.2 L421.2,107.4 L421.0,107.6 L420.7,107.8 L420.5,108.0 L420.2,108.3 L419.7,108.5 L419.5,108.6" fill="rgba(0,0,0,0.2)" stroke="rgb(15,15,15)" stroke-width="0.65"/>
<path d="M420.0,108.1 L419.5,108.1 L419.1,108.0 L418.9,107.8 L418.8,107.3 L418.8,106.8 L418.8,106.3 L419.0,105.9 L419.2,105.5 L419.5,105.4 L419.7,105.3 L420.2,105.3 L420.5,105.3 L421.0,105.5 L421.2,105.7 L421.5,105.9 L421.7,106.1 L421.8,106.5 L421.5,106.8 L421.3,107.0 L421.0,107.3 L420.7,107.5 L420.5,107.7 L420.2,107.9 L420.0,108.1" fill="rgba(0,0,0,0.2)" stroke="rgb(11,11,11)" stroke-width="0.65"/>
<path d="M420.2,107.6 L419.7,107.7 L419.5,107.5 L419.2,107.2 L419.1,106.8 L419.2,106.3 L419.3,106.0 L419.5,105.8 L420.0,105.5 L420.0,105.5 L420.5,105.6 L420.8,105.8 L421.2,106.0 L421.4,106.3 L421.2,106.7 L421.0,106.9 L420.7,107.2 L420.5,107.4 L420.2,107.6" fill="rgba(0,0,0,0.2)" stroke="rgb(7,7,7)" stroke-width="0.65"/>
<path d="M420.0,107.3 L419.7,107.2 L419.5,106.8 L419.4,106.5 L419.5,106.3 L419.7,106.0 L420.2,105.9 L420.6,106.0 L421.0,106.3 L421.0,106.5 L420.7,106.8 L420.5,107.0 L420.2,107.2 L420.0,107.3" fill="rgba(0,0,0,0.2)" stroke="rgb(3,3,3)" stroke-width="0.65"/>
<path d="M420.2,106.8 L419.9,106.8 L419.7,106.5 L419.8,106.3 L420.2,106.2 L420.5,106.3 L420.5,106.6 L420.2,106.8" fill="rgba(0,0,0,0.2)" stroke="rgb(0,0,0)" stroke-width="0.65"/>
<rect x="409.6" y="56.9" width="59.39999999999998" height="59.1" stroke="#000" stroke-width="1.5" fill="none" />
<rect x="414" y="57.4" width="16" height="38.1" stroke="#000" stroke-width="1.4" fill="none" />
<rect x="430.9" y="57.4" width="24.400000000000034" height="46.300000000000004" stroke="#000" stroke-width="1.4" fill="none" />
<text x="415.6" y="70" font-size="14" font-weight="bold" text-anchor="start" fill="#000"  stroke="#000" stroke-width="0.35">i</text>
<text x="447.1" y="70" font-size="14" font-weight="bold" text-anchor="start" fill="#000"  stroke="#000" stroke-width="0.35">ii</text>
<line x1="407.6" y1="58.6" x2="409.1" y2="58.6" stroke="#000" stroke-width="0.8" />
<line x1="407.6" y1="70.1" x2="409.1" y2="70.1" stroke="#000" stroke-width="0.8" />
<line x1="407.6" y1="81.6" x2="409.1" y2="81.6" stroke="#000" stroke-width="0.8" />
<line x1="407.6" y1="93.0" x2="409.1" y2="93.0" stroke="#000" stroke-width="0.8" />
<line x1="407.6" y1="104.5" x2="409.1" y2="104.5" stroke="#000" stroke-width="0.8" />
<line x1="407.6" y1="116.0" x2="409.1" y2="116.0" stroke="#000" stroke-width="0.8" />
<text x="407.1" y="105.9" font-size="4.4" font-weight="normal" text-anchor="end" fill="#222" style="font-family:Liberation Serif">200</text>
<text x="407.1" y="94.4" font-size="4.4" font-weight="normal" text-anchor="end" fill="#222" style="font-family:Liberation Serif">400</text>
<text x="407.1" y="83.0" font-size="4.4" font-weight="normal" text-anchor="end" fill="#222" style="font-family:Liberation Serif">600</text>
<text x="407.1" y="71.5" font-size="4.4" font-weight="normal" text-anchor="end" fill="#222" style="font-family:Liberation Serif">800</text>
<text x="407.1" y="60.0" font-size="4.4" font-weight="normal" text-anchor="end" fill="#222" style="font-family:Liberation Serif">1000</text>
<line x1="409.6" y1="116.5" x2="409.6" y2="118.0" stroke="#000" stroke-width="0.8" />
<line x1="421.5" y1="116.5" x2="421.5" y2="118.0" stroke="#000" stroke-width="0.8" />
<line x1="433.4" y1="116.5" x2="433.4" y2="118.0" stroke="#000" stroke-width="0.8" />
<line x1="445.2" y1="116.5" x2="445.2" y2="118.0" stroke="#000" stroke-width="0.8" />
<line x1="457.1" y1="116.5" x2="457.1" y2="118.0" stroke="#000" stroke-width="0.8" />
<line x1="469.0" y1="116.5" x2="469.0" y2="118.0" stroke="#000" stroke-width="0.8" />
<text x="410.1" y="121.8" font-size="4.4" font-weight="normal" text-anchor="middle" fill="#222" style="font-family:Liberation Serif">0</text>
<text x="421.2" y="121.8" font-size="4.4" font-weight="normal" text-anchor="middle" fill="#222" style="font-family:Liberation Serif">200</text>
<text x="432.3" y="121.8" font-size="4.4" font-weight="normal" text-anchor="middle" fill="#222" style="font-family:Liberation Serif">400</text>
<text x="443.3" y="121.8" font-size="4.4" font-weight="normal" text-anchor="middle" fill="#222" style="font-family:Liberation Serif">600</text>
<text x="454.4" y="121.8" font-size="4.4" font-weight="normal" text-anchor="middle" fill="#222" style="font-family:Liberation Serif">800</text>
<text x="465.5" y="121.8" font-size="4.4" font-weight="normal" text-anchor="middle" fill="#222" style="font-family:Liberation Serif">1000</text>
<line x1="391.2" y1="87.2" x2="391.2" y2="74.0" stroke="#000" stroke-width="1.9" />
<polygon points="391.20,69.00 394.00,74.50 388.40,74.50" fill="#000"/>
<text x="0" y="0" font-size="9.8" font-weight="bold" textLength="19.8" lengthAdjust="spacingAndGlyphs" transform="translate(395.6,109.4) rotate(-90)">SSC</text>
<text x="418.1" y="133.1" font-size="9.6" font-weight="bold" text-anchor="start" fill="#000"  textLength="19.5" lengthAdjust="spacingAndGlyphs" stroke="#000" stroke-width="0.35">FSC</text>
<line x1="442.4" y1="128.9" x2="456.0" y2="128.9" stroke="#000" stroke-width="1.6" />
<polygon points="462.00,128.90 455.50,131.70 455.50,126.10" fill="#000"/>
<line x1="409.2" y1="110.5" x2="392.39550069387593" y2="134.55193739549512" stroke="#000" stroke-width="1.8" />
<polygon points="388.10,140.70 389.89,132.19 395.47,136.09" fill="#000"/>
<line x1="469.4" y1="112" x2="491.7419596228581" y2="133.05609144312527" stroke="#000" stroke-width="1.8" />
<polygon points="497.20,138.20 489.05,135.19 493.71,130.24" fill="#000"/>
<path d="M409.2,174.3 L408.7,174.4 L408.2,174.4 L407.7,174.3 L407.3,174.2 L406.9,174.1 L406.7,173.9 L406.3,173.7 L405.9,173.5 L405.7,173.4 L405.4,173.2 L405.1,173.0 L404.8,172.7 L404.5,172.5 L404.2,172.2 L403.9,172.0 L403.7,171.8 L403.4,171.5 L403.2,171.2 L403.0,171.0 L402.9,170.7 L402.8,170.2 L402.7,169.7 L402.7,169.5 L402.6,169.0 L402.4,168.6 L402.2,168.2 L402.1,168.0 L401.9,167.5 L401.8,167.2 L401.7,166.7 L401.7,166.4 L401.6,166.0 L401.6,165.5 L401.6,165.0 L401.6,164.5 L401.5,164.0 L401.5,163.5 L401.5,163.0 L401.5,162.5 L401.6,162.0 L401.7,161.7 L401.8,161.2 L401.9,160.9 L402.1,160.5 L402.2,160.0 L402.2,159.7 L402.4,159.2 L402.5,159.0 L402.6,158.5 L402.7,158.2 L402.9,157.7 L403.0,157.5 L403.2,157.2 L403.4,156.8 L403.7,156.5 L403.9,156.3 L404.2,156.0 L404.4,155.8 L404.7,155.6 L404.9,155.4 L405.2,155.2 L405.5,155.0 L405.8,154.7 L406.1,154.5 L406.4,154.2 L406.7,154.0 L406.9,153.8 L407.2,153.7 L407.7,153.5 L407.9,153.4 L408.4,153.5 L408.7,153.5 L409.2,153.7 L409.4,153.8 L409.8,154.0 L410.2,154.1 L410.4,154.2 L410.9,154.4 L411.2,154.5 L411.5,154.7 L411.9,155.0 L412.2,155.2 L412.4,155.4 L412.7,155.7 L412.9,156.0 L413.1,156.2 L413.3,156.5 L413.4,156.7 L413.7,157.1 L413.9,157.5 L414.1,157.7 L414.2,158.0 L414.4,158.5 L414.5,158.7 L414.7,159.2 L414.7,159.5 L414.8,160.0 L414.9,160.5 L415.0,160.7 L415.1,161.2 L415.2,161.5 L415.3,162.0 L415.4,162.3 L415.5,162.7 L415.5,163.2 L415.5,163.7 L415.4,164.2 L415.4,164.5 L415.4,165.0 L415.4,165.5 L415.3,166.0 L415.3,166.5 L415.2,167.0 L415.1,167.2 L415.0,167.7 L414.9,168.0 L414.8,168.5 L414.7,168.8 L414.5,169.2 L414.3,169.5 L414.2,169.7 L413.9,170.1 L413.7,170.5 L413.6,170.7 L413.4,171.1 L413.3,171.5 L413.2,171.8 L412.9,172.2 L412.7,172.5 L412.5,172.7 L412.3,173.0 L412.0,173.2 L411.7,173.4 L411.4,173.5 L411.0,173.7 L410.7,173.9 L410.2,174.0 L409.9,174.0 L409.4,174.2 L409.2,174.3" fill="none" stroke="rgb(110,110,110)" stroke-width="0.6"/>
<path d="M409.4,172.0 L408.9,172.1 L408.4,172.1 L407.9,172.1 L407.4,172.0 L407.2,171.9 L406.8,171.7 L406.4,171.5 L406.2,171.3 L405.9,171.1 L405.7,170.9 L405.4,170.7 L405.1,170.5 L404.9,170.2 L404.7,169.7 L404.6,169.5 L404.5,169.0 L404.4,168.7 L404.2,168.2 L404.1,168.0 L403.9,167.5 L403.8,167.2 L403.6,167.0 L403.5,166.5 L403.5,166.0 L403.5,165.5 L403.5,165.0 L403.5,164.5 L403.4,164.0 L403.4,163.7 L403.4,163.2 L403.4,162.7 L403.4,162.5 L403.5,162.0 L403.6,161.5 L403.6,161.0 L403.7,160.7 L403.8,160.2 L403.9,160.0 L404.1,159.5 L404.2,159.2 L404.4,158.9 L404.7,158.5 L404.9,158.2 L405.2,158.0 L405.4,157.8 L405.7,157.6 L405.9,157.4 L406.2,157.2 L406.5,157.0 L406.9,156.7 L407.2,156.6 L407.4,156.4 L407.9,156.2 L408.2,156.2 L408.5,156.2 L408.9,156.3 L409.4,156.5 L409.7,156.6 L410.0,156.7 L410.4,156.9 L410.7,157.1 L410.9,157.2 L411.2,157.5 L411.4,157.7 L411.7,158.0 L411.9,158.4 L412.2,158.7 L412.4,159.0 L412.6,159.2 L412.7,159.5 L412.9,159.9 L413.0,160.2 L413.2,160.7 L413.3,161.0 L413.4,161.5 L413.5,161.7 L413.6,162.2 L413.7,162.7 L413.7,163.0 L413.7,163.5 L413.7,164.0 L413.7,164.5 L413.7,164.9 L413.6,165.2 L413.6,165.7 L413.5,166.2 L413.4,166.5 L413.3,167.0 L413.2,167.4 L413.1,167.7 L412.9,168.1 L412.8,168.5 L412.7,168.7 L412.4,169.2 L412.3,169.5 L412.2,169.9 L412.0,170.2 L411.9,170.5 L411.7,170.8 L411.4,171.0 L411.1,171.2 L410.7,171.5 L410.4,171.6 L410.1,171.7 L409.7,171.9 L409.4,172.0" fill="none" stroke="rgb(95,95,95)" stroke-width="0.6"/>
<path d="M408.4,170.7 L407.9,170.7 L407.7,170.7 L407.2,170.5 L406.9,170.4 L406.6,170.2 L406.2,170.0 L405.9,169.8 L405.7,169.6 L405.5,169.2 L405.3,169.0 L405.2,168.5 L405.1,168.2 L405.0,167.7 L404.9,167.3 L404.9,167.0 L404.8,166.5 L404.7,166.0 L404.7,165.5 L404.7,165.0 L404.7,164.7 L404.6,164.2 L404.6,163.7 L404.6,163.2 L404.6,162.7 L404.7,162.4 L404.8,162.0 L404.9,161.7 L405.2,161.3 L405.4,161.0 L405.7,160.8 L405.9,160.6 L406.1,160.2 L406.2,159.9 L406.4,159.5 L406.6,159.2 L406.8,159.0 L407.0,158.7 L407.4,158.5 L407.7,158.4 L408.2,158.3 L408.4,158.2 L408.9,158.2 L409.2,158.2 L409.7,158.3 L410.0,158.5 L410.3,158.7 L410.6,159.0 L410.8,159.2 L411.0,159.5 L411.2,159.7 L411.4,160.0 L411.7,160.3 L411.9,160.7 L412.0,161.0 L412.2,161.5 L412.2,161.7 L412.3,162.2 L412.4,162.7 L412.4,163.2 L412.3,163.7 L412.2,164.2 L412.2,164.5 L412.1,165.0 L412.1,165.5 L412.0,166.0 L412.0,166.5 L411.9,166.7 L411.7,167.2 L411.6,167.5 L411.4,167.9 L411.3,168.2 L411.2,168.5 L411.0,169.0 L410.8,169.2 L410.6,169.5 L410.4,169.7 L410.1,170.0 L409.8,170.2 L409.4,170.4 L409.2,170.5 L408.7,170.7 L408.4,170.7" fill="none" stroke="rgb(80,80,80)" stroke-width="0.6"/>
<path d="M408.9,169.2 L408.4,169.3 L407.9,169.2 L407.4,169.3 L406.9,169.2 L406.7,169.1 L406.3,169.0 L406.0,168.7 L405.9,168.5 L405.8,168.0 L405.8,167.5 L405.8,167.0 L405.7,166.5 L405.7,166.2 L405.6,165.7 L405.6,165.2 L405.6,164.7 L405.5,164.2 L405.5,163.7 L405.5,163.2 L405.5,162.7 L405.7,162.4 L405.9,162.1 L406.2,161.9 L406.4,161.7 L406.7,161.5 L407.1,161.2 L407.4,161.1 L407.7,161.0 L408.1,160.7 L408.4,160.5 L408.7,160.2 L408.9,160.1 L409.4,160.1 L409.9,160.2 L410.2,160.4 L410.4,160.7 L410.6,161.0 L410.7,161.3 L410.8,161.7 L410.9,162.1 L411.0,162.5 L411.1,163.0 L411.0,163.5 L410.9,164.0 L410.9,164.2 L410.8,164.7 L410.7,165.2 L410.6,165.5 L410.5,166.0 L410.4,166.2 L410.2,166.5 L410.0,167.0 L410.0,167.5 L410.0,168.0 L409.9,168.2 L409.7,168.7 L409.5,169.0 L409.2,169.1 L408.9,169.2" fill="none" stroke="rgb(65,65,65)" stroke-width="0.6"/>
<path d="M408.2,167.2 L407.9,167.2 L407.7,167.3 L407.3,167.2 L407.2,166.9 L406.9,166.5 L406.7,166.2 L406.6,166.0 L406.5,165.5 L406.5,165.0 L406.4,164.5 L406.5,164.0 L406.6,163.5 L406.7,163.1 L406.9,162.7 L407.2,162.6 L407.7,162.5 L408.1,162.5 L408.4,162.4 L408.8,162.5 L409.1,162.7 L409.3,163.0 L409.4,163.2 L409.5,163.7 L409.6,164.2 L409.6,164.7 L409.5,165.2 L409.4,165.5 L409.2,166.0 L409.1,166.2 L408.9,166.5 L408.6,166.7 L408.4,167.0 L408.2,167.2" fill="none" stroke="rgb(50,50,50)" stroke-width="0.6"/>
<path d="M404.2,188.1 L403.7,188.2 L403.2,188.2 L402.7,188.0 L402.4,187.8 L402.2,187.6 L401.9,187.4 L401.7,187.1 L401.4,186.7 L401.3,186.5 L401.1,186.2 L400.9,185.7 L400.8,185.5 L400.7,185.0 L400.6,184.7 L400.5,184.2 L400.5,183.7 L400.4,183.4 L400.4,183.0 L400.4,182.5 L400.4,182.0 L400.4,181.6 L400.5,181.2 L400.5,180.7 L400.6,180.2 L400.7,180.0 L400.9,179.5 L401.0,179.2 L401.2,178.7 L401.3,178.5 L401.4,178.2 L401.7,177.9 L401.9,177.6 L402.2,177.4 L402.4,177.2 L402.8,177.0 L403.2,176.8 L403.7,176.8 L404.2,176.9 L404.4,177.1 L404.7,177.2 L405.0,177.5 L405.2,177.7 L405.4,178.0 L405.7,178.4 L405.8,178.7 L405.9,179.0 L406.1,179.5 L406.2,179.7 L406.4,180.2 L406.4,180.5 L406.5,181.0 L406.6,181.5 L406.6,182.0 L406.6,182.5 L406.6,183.0 L406.6,183.5 L406.5,184.0 L406.4,184.5 L406.4,184.7 L406.2,185.2 L406.2,185.5 L406.0,186.0 L405.9,186.2 L405.7,186.6 L405.4,187.0 L405.2,187.2 L405.0,187.5 L404.7,187.7 L404.4,187.9 L404.2,188.1" fill="none" stroke="#888" stroke-width="0.6"/>
<path d="M374.9,197.7 L375.2,197.4 L375.4,197.1 L375.7,196.8 L375.9,196.6 L376.2,196.3 L376.4,196.0 L376.7,195.8 L376.9,195.5 L377.2,195.3 L377.4,195.0 L377.7,194.8 L377.9,194.5 L378.2,194.3 L378.4,194.0 L378.7,193.8 L378.9,193.6 L379.2,193.3 L379.4,193.1 L379.7,192.8 L379.9,192.6 L380.2,192.4 L380.4,192.2 L380.7,191.9 L380.9,191.7 L381.2,191.5 L381.5,191.2 L381.7,191.0 L382.0,190.7 L382.3,190.5 L382.6,190.2 L382.9,190.0 L383.2,189.7 L383.4,189.5 L383.7,189.3 L383.9,189.1 L384.2,188.9 L384.4,188.6 L384.7,188.4 L384.9,188.2 L385.2,188.0 L385.5,187.7 L385.8,187.5 L386.1,187.2 L386.4,187.0 L386.7,186.8 L386.9,186.6 L387.2,186.4 L387.4,186.2 L387.7,186.0 L388.0,185.7 L388.3,185.5 L388.6,185.2 L388.9,185.0 L389.2,184.8 L389.4,184.6 L389.7,184.4 L389.9,184.2 L390.2,184.0 L390.5,183.7 L390.8,183.5 L391.1,183.2 L391.4,183.0 L391.7,182.8 L391.9,182.6 L392.2,182.4 L392.4,182.2 L392.8,182.0 L393.1,181.7 L393.4,181.5 L393.7,181.3 L393.9,181.1 L394.2,180.9 L394.5,180.7 L394.8,180.5 L395.1,180.2 L395.4,180.0 L395.7,179.8 L395.9,179.7 L396.2,179.5 L396.5,179.2 L396.9,179.0 L397.2,178.8 L397.4,178.6 L397.7,178.4 L398.0,178.2 L398.3,178.0 L398.7,177.7 L398.9,177.6 L399.2,177.4 L399.4,177.2 L399.8,177.0 L400.2,176.7 L400.4,176.5 L400.7,176.4 L400.9,176.2 L401.3,176.0 L401.7,175.7 L401.9,175.6 L402.2,175.4 L402.5,175.2 L402.9,175.0 L403.2,174.8 L403.4,174.6 L403.7,174.5 L404.1,174.2 L404.4,174.0 L404.7,173.9 L405.0,173.7 L405.4,173.5 L405.7,173.3 L405.9,173.2 L406.3,173.0 L406.7,172.8 L406.9,172.6 L407.3,172.5 L407.7,172.3 L407.9,172.2 L408.3,172.0 L408.7,171.8 L409.0,171.7 L409.4,171.6 L409.7,171.5 L410.2,171.4 L410.7,171.3 L411.2,171.5 L411.3,171.7 L411.2,172.2 L411.1,172.5 L410.9,172.8 L410.7,173.2 L410.5,173.5 L410.4,173.7 L410.2,174.0 L409.9,174.3 L409.7,174.6 L409.4,174.9 L409.2,175.2 L409.0,175.5 L408.7,175.7 L408.5,176.0 L408.3,176.2 L408.0,176.5 L407.8,176.7 L407.6,177.0 L407.3,177.2 L407.1,177.5 L406.8,177.7 L406.6,178.0 L406.3,178.2 L406.1,178.5 L405.8,178.7 L405.6,179.0 L405.3,179.2 L405.0,179.5 L404.8,179.7 L404.5,180.0 L404.2,180.2 L404.0,180.5 L403.7,180.7 L403.4,181.0 L403.2,181.2 L402.9,181.4 L402.7,181.7 L402.4,181.9 L402.2,182.1 L401.9,182.3 L401.7,182.5 L401.4,182.8 L401.2,183.0 L400.9,183.2 L400.6,183.5 L400.3,183.7 L400.0,184.0 L399.7,184.2 L399.4,184.5 L399.2,184.7 L398.9,184.9 L398.7,185.1 L398.4,185.3 L398.2,185.5 L397.9,185.7 L397.6,186.0 L397.3,186.2 L397.0,186.5 L396.7,186.7 L396.4,187.0 L396.2,187.2 L395.9,187.4 L395.7,187.6 L395.4,187.8 L395.2,188.0 L394.9,188.2 L394.5,188.5 L394.2,188.7 L393.9,189.0 L393.7,189.2 L393.4,189.3 L393.2,189.5 L392.9,189.7 L392.6,190.0 L392.3,190.2 L392.0,190.5 L391.7,190.7 L391.4,190.9 L391.2,191.1 L390.9,191.2 L390.6,191.5 L390.3,191.7 L389.9,192.0 L389.7,192.2 L389.4,192.4 L389.2,192.5 L388.9,192.7 L388.6,193.0 L388.2,193.2 L387.9,193.4 L387.7,193.6 L387.4,193.8 L387.2,194.0 L386.8,194.2 L386.5,194.5 L386.2,194.7 L385.9,194.9 L385.7,195.0 L385.4,195.2 L385.0,195.5 L384.7,195.7 L384.4,195.9 L384.2,196.1 L383.9,196.2 L383.5,196.5 L383.2,196.7 L382.9,196.9 L382.7,197.0 L382.4,197.2 L382.0,197.5 L381.7,197.7 L381.4,197.8 L381.2,198.0 L380.8,198.2 L380.4,198.5 L380.2,198.6 L379.9,198.8 L379.6,199.0 L379.2,199.2 L378.9,199.3 L378.7,199.5 L378.2,199.7 L377.9,199.9 L377.7,200.0 L377.3,200.2 L376.9,200.4 L376.7,200.6 L376.3,200.7 L375.9,200.9 L375.7,201.0 L375.2,201.2 L374.9,201.3" fill="none" stroke="#888" stroke-width="0.6"/>
<path d="M381.4,195.5 L380.9,195.7 L380.4,195.6 L380.4,195.2 L380.4,195.0 L380.7,194.6 L380.9,194.2 L381.1,194.0 L381.3,193.7 L381.5,193.5 L381.7,193.2 L381.9,193.0 L382.2,192.7 L382.4,192.4 L382.7,192.2 L382.9,191.9 L383.2,191.7 L383.4,191.4 L383.7,191.2 L383.9,190.9 L384.2,190.7 L384.4,190.5 L384.7,190.2 L384.9,190.0 L385.2,189.7 L385.5,189.5 L385.8,189.2 L386.1,189.0 L386.3,188.7 L386.6,188.5 L386.9,188.2 L387.2,188.0 L387.4,187.8 L387.7,187.6 L387.9,187.4 L388.2,187.2 L388.4,187.0 L388.7,186.7 L389.0,186.5 L389.3,186.2 L389.6,186.0 L389.9,185.7 L390.2,185.5 L390.4,185.3 L390.7,185.1 L390.9,184.9 L391.2,184.7 L391.5,184.5 L391.9,184.2 L392.2,184.0 L392.4,183.8 L392.7,183.6 L392.9,183.4 L393.2,183.2 L393.5,183.0 L393.9,182.7 L394.2,182.5 L394.4,182.3 L394.7,182.1 L394.9,182.0 L395.3,181.7 L395.6,181.5 L395.9,181.3 L396.2,181.1 L396.4,180.9 L396.7,180.7 L397.1,180.5 L397.4,180.3 L397.7,180.1 L397.9,179.9 L398.3,179.7 L398.7,179.5 L398.9,179.3 L399.2,179.2 L399.5,179.0 L399.9,178.7 L400.2,178.6 L400.4,178.4 L400.8,178.2 L401.2,178.1 L401.4,177.9 L401.9,177.7 L402.2,177.6 L402.5,177.5 L402.9,177.4 L403.4,177.3 L403.6,177.7 L403.5,178.2 L403.3,178.5 L403.1,178.7 L402.9,179.0 L402.7,179.3 L402.4,179.6 L402.2,179.9 L401.9,180.2 L401.7,180.5 L401.4,180.7 L401.2,181.0 L400.9,181.2 L400.7,181.5 L400.4,181.7 L400.2,182.0 L399.9,182.2 L399.7,182.5 L399.4,182.7 L399.2,182.9 L398.9,183.1 L398.7,183.4 L398.4,183.6 L398.2,183.8 L397.9,184.0 L397.7,184.3 L397.4,184.5 L397.1,184.7 L396.8,185.0 L396.6,185.2 L396.3,185.5 L396.0,185.7 L395.7,186.0 L395.4,186.2 L395.2,186.4 L394.9,186.6 L394.7,186.8 L394.4,187.0 L394.1,187.2 L393.8,187.5 L393.5,187.7 L393.2,188.0 L392.9,188.2 L392.7,188.4 L392.4,188.6 L392.2,188.7 L391.9,189.0 L391.5,189.2 L391.2,189.5 L390.9,189.7 L390.7,189.9 L390.4,190.1 L390.2,190.2 L389.9,190.5 L389.5,190.7 L389.2,191.0 L388.9,191.1 L388.7,191.3 L388.4,191.5 L388.1,191.7 L387.7,192.0 L387.4,192.2 L387.2,192.3 L386.9,192.5 L386.6,192.7 L386.2,193.0 L385.9,193.2 L385.7,193.3 L385.4,193.5 L385.0,193.7 L384.7,193.9 L384.4,194.1 L384.2,194.2 L383.7,194.5 L383.4,194.6 L383.2,194.8 L382.8,195.0 L382.4,195.1 L382.2,195.3 L381.7,195.5 L381.4,195.5" fill="none" stroke="#999" stroke-width="0.6"/>
<path d="M374.9,191.4 L375.3,191.2 L375.7,191.0 L375.9,190.9 L376.2,190.7 L376.7,190.5 L376.9,190.5 L377.2,190.2 L377.5,190.0 L377.9,189.7 L378.2,189.6 L378.4,189.4 L378.9,189.3 L379.4,189.2 L379.9,189.3 L380.4,189.4 L380.7,189.5 L381.2,189.7 L381.5,189.7 L381.9,189.8 L382.4,190.0 L382.7,190.1 L383.1,190.2 L383.4,190.4 L383.7,190.5 L383.9,190.7 L384.2,191.0 L384.5,191.2 L384.8,191.5 L385.0,191.7 L385.2,192.0 L385.4,192.3 L385.7,192.7 L385.8,193.0 L385.9,193.2 L386.1,193.7 L386.2,194.2 L386.2,194.5 L386.2,195.0 L386.2,195.5 L386.3,196.0 L386.4,196.2 L386.6,196.7 L386.7,197.2 L386.7,197.5 L386.8,198.0 L386.8,198.5 L386.8,199.0 L386.9,199.5 L386.8,200.0 L386.7,200.3 L386.5,200.7 L386.4,201.0 L386.2,201.5 L386.1,201.7 L385.9,202.0 L385.6,202.2 L385.2,202.5 L384.9,202.7 L384.7,203.0 L384.6,203.2 L384.4,203.5 L384.2,204.0 L384.0,204.2 L383.8,204.5 L383.6,204.7 L383.4,205.0 L382.9,205.2" fill="none" stroke="rgb(110,110,110)" stroke-width="0.6"/>
<path d="M376.6,205.2 L376.3,205.0 L376.1,204.7 L375.9,204.5 L375.7,204.1 L375.5,203.7 L375.4,203.5 L375.2,203.2 L374.9,202.8" fill="none" stroke="rgb(110,110,110)" stroke-width="0.6"/>
<path d="M374.9,193.0 L375.2,192.8 L375.4,192.6 L375.7,192.5 L376.2,192.3 L376.4,192.2 L376.9,192.1 L377.2,191.9 L377.4,191.6 L377.7,191.4 L377.9,191.2 L378.2,191.0 L378.6,190.7 L378.9,190.6 L379.4,190.5 L379.9,190.7 L380.2,190.8 L380.7,191.0 L380.9,191.1 L381.2,191.3 L381.7,191.3 L382.2,191.3 L382.7,191.5 L382.9,191.6 L383.2,191.8 L383.4,192.2 L383.5,192.5 L383.7,192.7 L383.9,193.1 L384.2,193.4 L384.4,193.6 L384.7,193.9 L384.8,194.2 L384.9,194.6 L385.0,195.0 L385.0,195.5 L385.2,195.9 L385.3,196.2 L385.4,196.5 L385.6,197.0 L385.7,197.3 L385.7,197.7 L385.8,198.2 L385.8,198.7 L385.8,199.2 L385.7,199.7 L385.6,200.0 L385.4,200.5 L385.3,200.7 L385.2,201.0 L384.9,201.3 L384.7,201.5 L384.3,201.7 L384.0,202.0 L383.9,202.2 L383.7,202.7 L383.6,203.0 L383.5,203.5 L383.4,203.8 L383.2,204.1 L382.7,204.2 L382.2,204.2 L381.7,204.1 L381.4,203.9 L380.9,203.9 L380.7,204.1 L380.4,204.5 L380.2,204.6 L379.9,204.8 L379.4,204.9 L378.9,205.0 L378.4,204.8 L378.1,204.7 L377.7,204.6 L377.4,204.5 L376.9,204.2 L376.7,204.0 L376.5,203.7 L376.4,203.5 L376.2,203.1 L375.9,202.7 L375.8,202.5 L375.6,202.2 L375.4,201.9 L375.2,201.6 L374.9,201.4" fill="rgba(0,0,0,0.08)" stroke="rgb(100,100,100)" stroke-width="0.6"/>
<path d="M374.9,194.4 L375.2,194.1 L375.4,193.8 L375.7,193.6 L375.9,193.4 L376.3,193.2 L376.7,193.1 L377.1,193.0 L377.4,192.7 L377.7,192.5 L377.9,192.3 L378.2,192.1 L378.4,191.9 L378.7,191.7 L379.0,191.5 L379.3,191.5 L379.7,191.6 L380.1,191.7 L380.4,191.8 L380.9,192.0 L381.2,192.0 L381.7,192.2 L381.9,192.3 L382.2,192.5 L382.4,192.8 L382.6,193.2 L382.7,193.5 L382.9,193.9 L383.1,194.2 L383.4,194.5 L383.7,194.7 L383.9,195.0 L384.0,195.2 L384.2,195.6 L384.3,196.0 L384.4,196.3 L384.6,196.7 L384.7,197.0 L384.9,197.5 L384.9,197.7 L385.0,198.2 L385.0,198.7 L385.0,199.2 L385.0,199.7 L384.8,200.0 L384.7,200.3 L384.4,200.6 L384.2,200.8 L383.9,201.0 L383.6,201.2 L383.2,201.4 L382.9,201.6 L382.8,202.0 L382.7,202.5 L382.5,202.7 L382.2,203.0 L381.9,203.1 L381.4,203.1 L380.9,203.2 L380.7,203.3 L380.2,203.5 L379.9,203.6 L379.5,203.7 L379.2,203.8 L378.7,203.9 L378.2,203.8 L377.9,203.7 L377.4,203.5 L377.2,203.3 L376.9,203.0 L376.8,202.7 L376.6,202.5 L376.4,202.0 L376.2,201.7 L375.9,201.5 L375.7,201.3 L375.4,201.0 L375.2,200.8 L374.9,200.5" fill="rgba(0,0,0,0.08)" stroke="rgb(90,90,90)" stroke-width="0.6"/>
<path d="M379.2,203.2 L378.8,203.2 L378.4,203.2 L378.0,203.0 L377.7,202.8 L377.4,202.5 L377.3,202.2 L377.2,202.0 L376.9,201.6 L376.7,201.4 L376.4,201.2 L376.1,201.0 L375.8,200.7 L375.6,200.5 L375.4,200.2 L375.2,200.0 L375.0,199.5 L375.0,199.0 L375.0,198.5 L375.2,198.0 L375.2,197.7 L375.2,197.3 L375.1,197.0 L375.1,196.5 L375.1,196.0 L375.2,195.6 L375.4,195.2 L375.5,195.0 L375.8,194.7 L376.0,194.5 L376.4,194.2 L376.7,194.1 L376.9,194.0 L377.2,193.7 L377.6,193.5 L377.9,193.3 L378.2,193.1 L378.4,193.0 L378.8,192.7 L379.2,192.5 L379.4,192.5 L379.9,192.4 L380.4,192.5 L380.7,192.5 L381.2,192.6 L381.4,192.7 L381.8,193.0 L382.0,193.2 L382.2,193.5 L382.4,194.0 L382.6,194.2 L382.7,194.5 L382.9,194.8 L383.2,195.2 L383.4,195.5 L383.5,195.7 L383.6,196.2 L383.7,196.5 L383.8,197.0 L383.8,197.5 L383.9,197.8 L384.1,198.2 L384.2,198.5 L384.3,199.0 L384.3,199.5 L384.2,200.0 L384.0,200.2 L383.7,200.5 L383.4,200.7 L383.2,200.9 L382.9,201.1 L382.7,201.3 L382.4,201.5 L382.2,201.9 L381.9,202.2 L381.7,202.4 L381.4,202.6 L381.0,202.7 L380.7,202.8 L380.2,203.0 L379.9,203.1 L379.4,203.2 L379.2,203.2" fill="rgba(0,0,0,0.08)" stroke="rgb(80,80,80)" stroke-width="0.6"/>
<path d="M379.2,202.7 L378.9,202.7 L378.4,202.6 L378.2,202.4 L377.9,202.2 L377.7,201.9 L377.4,201.6 L377.2,201.3 L376.9,201.1 L376.7,200.9 L376.4,200.7 L376.2,200.5 L375.9,200.2 L375.7,199.9 L375.5,199.5 L375.5,199.0 L375.6,198.5 L375.7,198.2 L375.9,197.7 L375.8,197.2 L375.8,196.7 L375.9,196.2 L375.9,196.0 L376.2,195.5 L376.4,195.3 L376.7,195.1 L377.0,195.0 L377.2,194.7 L377.4,194.5 L377.7,194.2 L378.2,194.0 L378.4,193.9 L378.9,193.7 L379.2,193.6 L379.4,193.4 L379.7,193.2 L380.2,193.1 L380.7,193.0 L381.2,193.1 L381.4,193.2 L381.7,193.5 L381.9,194.0 L382.1,194.2 L382.2,194.5 L382.4,194.9 L382.6,195.2 L382.8,195.5 L382.9,195.9 L383.0,196.2 L383.0,196.7 L383.0,197.2 L383.0,197.7 L383.2,198.1 L383.4,198.4 L383.6,198.7 L383.7,199.0 L383.8,199.5 L383.7,199.9 L383.4,200.2 L383.2,200.4 L382.9,200.6 L382.7,200.7 L382.4,201.0 L382.1,201.2 L381.9,201.5 L381.7,201.8 L381.4,202.1 L381.2,202.2 L380.7,202.4 L380.4,202.5 L379.9,202.6 L379.4,202.7 L379.2,202.7" fill="rgba(0,0,0,0.08)" stroke="rgb(70,70,70)" stroke-width="0.6"/>
<path d="M379.9,202.2 L379.4,202.3 L378.9,202.3 L378.7,202.2 L378.4,202.0 L378.1,201.7 L377.8,201.5 L377.6,201.2 L377.3,201.0 L377.1,200.7 L376.8,200.5 L376.5,200.2 L376.3,200.0 L376.1,199.7 L376.0,199.2 L376.1,198.7 L376.2,198.5 L376.4,198.0 L376.5,197.7 L376.5,197.2 L376.6,196.7 L376.8,196.5 L376.9,196.2 L377.2,195.8 L377.4,195.5 L377.6,195.2 L377.8,195.0 L378.1,194.7 L378.4,194.6 L378.7,194.5 L379.2,194.3 L379.4,194.1 L379.7,193.9 L380.0,193.7 L380.4,193.5 L380.7,193.5 L381.1,193.5 L381.4,193.7 L381.5,194.0 L381.7,194.4 L381.8,194.7 L381.9,195.0 L382.2,195.5 L382.3,195.7 L382.4,196.0 L382.5,196.5 L382.6,197.0 L382.6,197.5 L382.7,197.8 L382.8,198.2 L382.9,198.5 L383.1,199.0 L383.2,199.2 L383.4,199.7 L383.1,200.0 L382.7,200.2 L382.4,200.4 L382.2,200.5 L381.9,200.8 L381.7,201.1 L381.4,201.4 L381.3,201.7 L380.9,202.0 L380.7,202.0 L380.2,202.2 L379.9,202.2" fill="rgba(0,0,0,0.08)" stroke="rgb(60,60,60)" stroke-width="0.6"/>
<path d="M380.4,201.7 L379.9,201.9 L379.4,201.9 L378.9,201.8 L378.7,201.7 L378.4,201.5 L378.0,201.2 L377.8,201.0 L377.5,200.7 L377.3,200.5 L377.1,200.2 L376.8,200.0 L376.6,199.7 L376.6,199.2 L376.7,198.7 L376.8,198.5 L376.9,198.2 L377.1,197.7 L377.2,197.5 L377.3,197.0 L377.4,196.5 L377.5,196.2 L377.7,196.0 L377.9,195.6 L378.2,195.4 L378.4,195.2 L378.9,195.0 L379.2,194.9 L379.5,194.7 L379.9,194.5 L380.2,194.4 L380.7,194.2 L380.9,194.2 L381.2,194.4 L381.3,194.7 L381.4,195.0 L381.6,195.5 L381.7,195.7 L381.9,196.0 L382.1,196.5 L382.2,196.7 L382.3,197.2 L382.3,197.7 L382.4,198.2 L382.5,198.5 L382.5,199.0 L382.6,199.5 L382.4,199.8 L382.1,200.0 L381.7,200.2 L381.4,200.5 L381.3,200.7 L381.1,201.0 L380.9,201.3 L380.7,201.6 L380.4,201.7" fill="rgba(0,0,0,0.08)" stroke="rgb(50,50,50)" stroke-width="0.6"/>
<path d="M379.2,201.5 L378.9,201.4 L378.6,201.2 L378.3,201.0 L378.0,200.7 L377.7,200.5 L377.5,200.2 L377.3,200.0 L377.1,199.7 L377.1,199.2 L377.2,198.8 L377.3,198.5 L377.4,198.0 L377.6,197.7 L377.7,197.3 L377.8,197.0 L377.9,196.6 L378.2,196.2 L378.4,196.0 L378.7,195.8 L378.9,195.6 L379.3,195.5 L379.7,195.3 L380.2,195.3 L380.7,195.3 L380.9,195.5 L381.2,195.7 L381.4,196.0 L381.7,196.4 L381.8,196.7 L381.9,197.1 L382.0,197.5 L382.0,198.0 L382.0,198.5 L381.9,199.0 L381.8,199.2 L381.4,199.5 L381.2,199.5 L380.9,199.7 L380.8,200.2 L380.7,200.6 L380.4,201.0 L380.2,201.2 L379.9,201.3 L379.4,201.5 L379.2,201.5" fill="rgba(0,0,0,0.08)" stroke="rgb(40,40,40)" stroke-width="0.6"/>
<path d="M379.2,201.0 L378.9,201.0 L378.5,200.7 L378.2,200.5 L378.0,200.2 L377.7,200.0 L377.5,199.7 L377.5,199.2 L377.6,198.7 L377.7,198.5 L377.9,198.0 L378.1,197.7 L378.2,197.4 L378.4,197.0 L378.5,196.7 L378.8,196.5 L379.1,196.2 L379.4,196.1 L379.9,196.0 L380.2,196.0 L380.4,196.0 L380.9,196.1 L381.2,196.3 L381.4,196.7 L381.6,197.0 L381.7,197.4 L381.7,197.7 L381.7,198.2 L381.6,198.5 L381.4,198.8 L381.2,199.0 L380.9,199.2 L380.7,199.5 L380.4,199.9 L380.3,200.2 L380.2,200.5 L379.9,200.7 L379.4,201.0 L379.2,201.0" fill="rgba(0,0,0,0.08)" stroke="rgb(30,30,30)" stroke-width="0.6"/>
<path d="M379.2,200.5 L378.9,200.5 L378.5,200.2 L378.2,200.0 L378.0,199.7 L378.0,199.2 L378.1,198.7 L378.2,198.5 L378.4,198.0 L378.7,197.8 L378.9,197.5 L379.0,197.2 L379.2,197.0 L379.5,196.7 L379.9,196.6 L380.4,196.6 L380.9,196.7 L381.2,196.9 L381.3,197.2 L381.4,197.5 L381.4,197.9 L381.3,198.2 L381.2,198.5 L380.9,198.7 L380.6,199.0 L380.4,199.2 L380.2,199.5 L379.9,199.9 L379.7,200.2 L379.4,200.4 L379.2,200.5" fill="rgba(0,0,0,0.08)" stroke="rgb(20,20,20)" stroke-width="0.6"/>
<path d="M379.2,200.0 L378.9,200.0 L378.6,199.7 L378.5,199.2 L378.7,198.7 L378.8,198.5 L379.1,198.2 L379.3,198.0 L379.5,197.7 L379.7,197.5 L380.1,197.2 L380.4,197.2 L380.7,197.2 L381.1,197.5 L381.2,197.7 L381.0,198.0 L380.7,198.2 L380.4,198.5 L380.2,198.7 L379.9,199.0 L379.8,199.2 L379.6,199.5 L379.4,199.8 L379.2,200.0" fill="rgba(0,0,0,0.08)" stroke="rgb(10,10,10)" stroke-width="0.6"/>
<rect x="374.8" y="146.1" width="56.89999999999998" height="59.400000000000006" stroke="#000" stroke-width="2" fill="none" />
<line x1="372.3" y1="147.1" x2="373.8" y2="147.1" stroke="#000" stroke-width="0.8" />
<line x1="372.3" y1="161.4" x2="373.8" y2="161.4" stroke="#000" stroke-width="0.8" />
<line x1="372.3" y1="175.8" x2="373.8" y2="175.8" stroke="#000" stroke-width="0.8" />
<line x1="372.3" y1="190.2" x2="373.8" y2="190.2" stroke="#000" stroke-width="0.8" />
<line x1="372.3" y1="204.5" x2="373.8" y2="204.5" stroke="#000" stroke-width="0.8" />
<line x1="374.8" y1="206.5" x2="374.8" y2="208.0" stroke="#000" stroke-width="0.8" />
<line x1="389.0" y1="206.5" x2="389.0" y2="208.0" stroke="#000" stroke-width="0.8" />
<line x1="403.2" y1="206.5" x2="403.2" y2="208.0" stroke="#000" stroke-width="0.8" />
<line x1="417.5" y1="206.5" x2="417.5" y2="208.0" stroke="#000" stroke-width="0.8" />
<line x1="431.7" y1="206.5" x2="431.7" y2="208.0" stroke="#000" stroke-width="0.8" />
<text x="372.3" y="205.9" font-size="4.4" font-weight="normal" text-anchor="end" fill="#222" style="font-family:Liberation Serif">1</text>
<text x="372.3" y="191.6" font-size="4.4" font-weight="normal" text-anchor="end" fill="#222" style="font-family:Liberation Serif">10</text>
<text x="372.3" y="177.2" font-size="4.4" font-weight="normal" text-anchor="end" fill="#222" style="font-family:Liberation Serif">100</text>
<text x="372.3" y="162.8" font-size="4.4" font-weight="normal" text-anchor="end" fill="#222" style="font-family:Liberation Serif">1000</text>
<text x="372.3" y="148.5" font-size="4.4" font-weight="normal" text-anchor="end" fill="#222" style="font-family:Liberation Serif">10000</text>
<text x="375.3" y="211.0" font-size="4.4" font-weight="normal" text-anchor="middle" fill="#222" style="font-family:Liberation Serif">1</text>
<text x="389.1" y="211.0" font-size="4.4" font-weight="normal" text-anchor="middle" fill="#222" style="font-family:Liberation Serif">10</text>
<text x="403.0" y="211.0" font-size="4.4" font-weight="normal" text-anchor="middle" fill="#222" style="font-family:Liberation Serif">100</text>
<text x="416.9" y="211.0" font-size="4.4" font-weight="normal" text-anchor="middle" fill="#222" style="font-family:Liberation Serif">1000</text>
<text x="430.7" y="211.0" font-size="4.4" font-weight="normal" text-anchor="middle" fill="#222" style="font-family:Liberation Serif">10000</text>
<path d="M489.8,178.7 L489.6,178.7 L489.1,178.5 L488.8,178.5 L488.3,178.3 L487.9,178.2 L487.6,178.1 L487.2,178.0 L486.8,177.8 L486.6,177.7 L486.2,177.5 L485.8,177.3 L485.6,177.1 L485.3,177.0 L485.0,176.7 L484.7,176.5 L484.3,176.2 L484.1,176.0 L483.8,175.8 L483.6,175.5 L483.3,175.2 L483.1,175.0 L483.0,174.7 L482.8,174.2 L482.7,174.0 L482.6,173.6 L482.4,173.2 L482.3,172.9 L482.1,172.5 L482.0,172.2 L481.8,171.7 L481.7,171.5 L481.6,171.1 L481.4,170.7 L481.3,170.5 L481.1,170.0 L481.0,169.7 L480.9,169.2 L480.8,168.7 L480.8,168.5 L480.7,168.0 L480.6,167.5 L480.5,167.2 L480.4,166.7 L480.4,166.2 L480.3,165.7 L480.3,165.4 L480.3,165.0 L480.3,164.5 L480.4,164.2 L480.4,163.7 L480.5,163.2 L480.6,162.9 L480.6,162.5 L480.6,162.2 L480.5,161.7 L480.5,161.2 L480.5,160.7 L480.6,160.3 L480.7,160.0 L480.8,159.5 L480.9,159.2 L481.0,158.7 L481.1,158.5 L481.3,158.0 L481.4,157.7 L481.6,157.2 L481.7,157.0 L481.8,156.7 L482.1,156.3 L482.3,156.0 L482.6,155.7 L482.8,155.5 L483.0,155.2 L483.3,155.0 L483.6,154.7 L483.8,154.5 L484.0,154.2 L484.2,154.0 L484.4,153.7 L484.6,153.5 L484.9,153.2 L485.2,153.0 L485.6,152.7 L485.8,152.6 L486.1,152.5 L486.6,152.2 L486.8,152.2 L487.3,152.1 L487.8,152.0 L488.1,151.8 L488.3,151.7 L488.8,151.5 L489.1,151.4 L489.6,151.3 L490.1,151.3 L490.4,151.5 L490.8,151.7 L491.1,151.8 L491.3,152.0 L491.6,152.2 L492.1,152.5 L492.3,152.5 L492.8,152.7 L493.1,152.8 L493.4,153.0 L493.7,153.2 L493.9,153.5 L494.1,153.7 L494.3,154.1 L494.5,154.5 L494.6,154.7 L494.8,155.1 L495.0,155.5 L495.1,155.7 L495.3,156.1 L495.5,156.5 L495.7,156.7 L495.9,157.0 L496.1,157.3 L496.3,157.6 L496.6,158.0 L496.7,158.2 L496.8,158.5 L497.0,159.0 L497.1,159.3 L497.2,159.7 L497.3,160.1 L497.5,160.5 L497.5,161.0 L497.5,161.5 L497.4,162.0 L497.4,162.5 L497.4,163.0 L497.6,163.3 L497.7,163.7 L497.9,164.0 L498.1,164.4 L498.2,164.7 L498.1,165.1 L497.9,165.5 L497.8,165.7 L497.6,166.1 L497.4,166.5 L497.3,166.7 L497.3,167.2 L497.3,167.5 L497.4,168.0 L497.4,168.5 L497.3,169.0 L497.2,169.2 L497.1,169.7 L497.0,170.0 L496.8,170.3 L496.7,170.7 L496.6,171.0 L496.4,171.5 L496.2,171.7 L496.1,172.0 L495.9,172.5 L495.8,172.7 L495.6,173.2 L495.6,173.7 L495.5,174.0 L495.4,174.5 L495.3,174.7 L495.1,175.1 L494.8,175.4 L494.6,175.7 L494.3,176.0 L494.1,176.2 L493.9,176.5 L493.6,176.7 L493.3,176.9 L493.1,177.0 L492.6,177.2 L492.3,177.3 L491.8,177.4 L491.4,177.5 L491.1,177.5 L490.6,177.7 L490.3,177.8 L490.1,178.2 L489.9,178.5 L489.8,178.7" fill="none" stroke="rgb(120,120,120)" stroke-width="0.6"/>
<path d="M489.9,177.5 L490.2,177.2 L489.8,177.0 L489.8,177.5 L489.9,177.5" fill="none" stroke="rgb(120,120,120)" stroke-width="0.6"/>
<path d="M488.3,175.5 L487.8,175.5 L487.3,175.5 L487.0,175.5 L486.6,175.4 L486.1,175.3 L485.8,175.2 L485.5,175.0 L485.3,174.5 L485.2,174.2 L485.1,173.8 L485.0,173.5 L484.8,173.0 L484.6,172.7 L484.4,172.5 L484.2,172.2 L484.1,172.0 L483.8,171.6 L483.6,171.2 L483.5,171.0 L483.3,170.6 L483.1,170.2 L482.9,170.0 L482.8,169.7 L482.6,169.2 L482.5,169.0 L482.4,168.5 L482.3,168.0 L482.3,167.7 L482.2,167.2 L482.1,166.9 L482.0,166.5 L482.0,166.0 L482.0,165.5 L482.1,165.0 L482.1,164.7 L482.0,164.5 L482.0,164.0 L482.0,163.5 L482.0,163.0 L482.0,162.5 L482.0,162.0 L482.1,161.5 L482.1,161.2 L482.2,160.7 L482.3,160.2 L482.3,159.9 L482.4,159.5 L482.5,159.0 L482.6,158.7 L482.8,158.2 L482.9,158.0 L483.1,157.7 L483.3,157.3 L483.6,157.0 L483.8,156.7 L484.1,156.5 L484.3,156.2 L484.6,156.0 L484.8,155.8 L485.1,155.6 L485.3,155.5 L485.7,155.2 L486.1,155.0 L486.3,154.8 L486.6,154.7 L486.9,154.5 L487.3,154.2 L487.6,154.1 L488.0,154.0 L488.3,153.9 L488.7,153.7 L489.1,153.6 L489.6,153.5 L489.8,153.4 L490.1,153.5 L490.6,153.7 L490.8,153.8 L491.3,153.9 L491.6,154.0 L492.0,154.2 L492.3,154.4 L492.5,154.7 L492.7,155.0 L492.9,155.2 L493.1,155.6 L493.3,156.0 L493.4,156.2 L493.6,156.5 L493.8,156.7 L494.1,157.0 L494.3,157.3 L494.6,157.7 L494.8,158.0 L495.0,158.2 L495.1,158.5 L495.3,159.0 L495.3,159.5 L495.3,159.7 L495.4,160.2 L495.4,160.7 L495.6,161.2 L495.7,161.5 L495.8,162.0 L495.9,162.2 L496.0,162.7 L495.9,163.2 L495.8,163.7 L495.8,164.0 L495.6,164.5 L495.3,164.7 L495.5,165.2 L495.6,165.7 L495.6,166.0 L495.6,166.5 L495.6,167.0 L495.6,167.5 L495.6,168.0 L495.6,168.5 L495.6,168.8 L495.5,169.2 L495.3,169.6 L495.2,170.0 L495.1,170.3 L494.9,170.7 L494.8,171.0 L494.7,171.5 L494.6,171.7 L494.4,172.2 L494.3,172.5 L494.2,173.0 L494.0,173.2 L493.8,173.5 L493.6,173.8 L493.3,174.0 L493.1,174.3 L492.8,174.5 L492.6,174.7 L492.3,175.0 L491.8,175.2 L491.6,175.3 L491.1,175.3 L490.6,175.2 L490.3,175.2 L489.8,175.1 L489.4,175.2 L489.1,175.3 L488.6,175.4 L488.3,175.5" fill="none" stroke="rgb(110,110,110)" stroke-width="0.6"/>
<path d="M491.1,174.0 L490.6,174.1 L490.1,174.2 L489.6,174.2 L489.1,174.2 L488.6,174.1 L488.2,174.0 L487.8,173.8 L487.6,173.7 L487.3,173.5 L487.1,173.2 L486.8,172.9 L486.6,172.5 L486.4,172.2 L486.3,172.0 L486.1,171.5 L486.1,171.2 L485.8,170.8 L485.6,170.7 L485.1,170.6 L484.8,170.5 L484.5,170.2 L484.2,170.0 L483.9,169.7 L483.8,169.5 L483.6,169.2 L483.4,168.7 L483.5,168.2 L483.5,167.7 L483.6,167.5 L483.7,167.0 L483.8,166.5 L483.7,166.0 L483.7,165.5 L483.7,165.0 L483.6,164.6 L483.3,164.4 L483.1,164.0 L482.9,163.7 L482.8,163.4 L482.7,163.0 L482.7,162.5 L482.7,162.0 L482.8,161.5 L482.8,161.2 L482.9,160.7 L483.0,160.2 L483.1,160.0 L483.2,159.5 L483.3,159.2 L483.5,158.7 L483.6,158.5 L483.8,158.2 L484.1,158.0 L484.3,157.7 L484.6,157.5 L484.8,157.2 L485.1,157.0 L485.3,156.7 L485.6,156.5 L486.1,156.2 L486.3,156.1 L486.8,156.0 L487.1,155.9 L487.6,155.8 L487.8,155.7 L488.1,155.5 L488.5,155.2 L488.8,155.1 L489.3,155.0 L489.6,154.9 L490.1,155.0 L490.3,155.0 L490.8,155.2 L491.1,155.4 L491.3,155.6 L491.6,155.9 L491.8,156.2 L491.9,156.5 L492.2,156.7 L492.4,157.0 L492.7,157.2 L493.0,157.5 L493.3,157.7 L493.6,158.0 L493.8,158.2 L494.0,158.5 L494.2,158.7 L494.2,159.2 L494.3,159.7 L494.3,160.2 L494.3,160.7 L494.4,161.0 L494.6,161.3 L494.7,161.7 L494.8,162.1 L494.9,162.5 L494.9,163.0 L494.8,163.2 L494.6,163.5 L494.3,163.8 L494.0,164.0 L493.8,164.2 L493.6,164.5 L493.5,165.0 L493.6,165.2 L493.8,165.7 L494.1,166.0 L494.3,166.2 L494.4,166.5 L494.6,167.0 L494.6,167.5 L494.6,168.0 L494.5,168.5 L494.5,169.0 L494.3,169.4 L494.2,169.7 L494.1,170.0 L493.9,170.5 L493.7,170.7 L493.4,171.0 L493.3,171.3 L493.2,171.7 L493.1,172.0 L492.9,172.5 L492.8,172.7 L492.6,173.0 L492.3,173.3 L492.1,173.5 L491.7,173.7 L491.3,173.9 L491.1,174.0" fill="rgba(0,0,0,0.07)" stroke="rgb(100,100,100)" stroke-width="0.6"/>
<path d="M490.6,173.3 L490.1,173.4 L489.6,173.4 L489.1,173.3 L488.8,173.2 L488.4,173.0 L488.2,172.7 L488.0,172.5 L487.8,172.2 L487.5,172.0 L487.3,171.7 L487.1,171.3 L486.9,171.0 L486.7,170.7 L486.4,170.5 L486.1,170.3 L485.8,170.1 L485.5,170.0 L485.1,169.8 L484.8,169.6 L484.6,169.3 L484.3,169.0 L484.2,168.7 L484.3,168.2 L484.3,167.9 L484.4,167.5 L484.5,167.0 L484.5,166.5 L484.5,166.0 L484.4,165.5 L484.4,165.0 L484.3,164.7 L484.1,164.3 L483.9,164.0 L483.7,163.7 L483.5,163.5 L483.3,163.0 L483.2,162.7 L483.3,162.2 L483.3,161.7 L483.4,161.5 L483.4,161.0 L483.5,160.5 L483.6,160.2 L483.8,159.7 L483.9,159.5 L484.1,159.2 L484.3,158.9 L484.6,158.7 L484.9,158.5 L485.2,158.2 L485.5,158.0 L485.7,157.7 L485.9,157.5 L486.1,157.2 L486.5,157.0 L486.8,156.9 L487.3,156.8 L487.8,156.7 L488.1,156.7 L488.6,156.5 L488.8,156.4 L489.3,156.2 L489.6,156.2 L490.0,156.2 L490.3,156.4 L490.6,156.6 L490.8,156.7 L491.1,157.0 L491.4,157.2 L491.6,157.5 L491.8,157.9 L492.1,158.2 L492.3,158.3 L492.6,158.5 L492.8,158.8 L493.0,159.2 L493.1,159.5 L493.2,160.0 L493.2,160.5 L493.3,160.8 L493.6,161.1 L493.8,161.5 L493.9,161.7 L494.1,162.1 L494.2,162.5 L494.1,163.0 L493.9,163.2 L493.7,163.5 L493.5,163.7 L493.3,164.0 L493.1,164.4 L492.9,164.7 L492.9,165.2 L493.1,165.7 L493.1,166.0 L493.3,166.4 L493.5,166.7 L493.6,167.0 L493.7,167.5 L493.7,168.0 L493.7,168.5 L493.6,169.0 L493.5,169.2 L493.3,169.6 L493.1,169.9 L492.8,170.1 L492.6,170.3 L492.3,170.5 L491.8,170.7 L491.6,171.0 L491.6,171.5 L491.6,171.9 L491.5,172.2 L491.3,172.7 L491.2,173.0 L490.8,173.2 L490.6,173.3" fill="rgba(0,0,0,0.07)" stroke="rgb(90,90,90)" stroke-width="0.6"/>
<path d="M489.8,172.8 L489.6,172.7 L489.2,172.5 L488.8,172.2 L488.6,172.0 L488.3,171.7 L488.2,171.5 L488.0,171.2 L487.8,170.9 L487.6,170.6 L487.3,170.4 L487.1,170.2 L486.7,170.0 L486.3,169.8 L486.1,169.7 L485.7,169.5 L485.3,169.2 L485.1,169.0 L484.9,168.7 L485.0,168.2 L485.1,167.7 L485.1,167.5 L485.2,167.0 L485.2,166.5 L485.1,166.0 L485.0,165.7 L484.9,165.2 L484.9,164.7 L484.7,164.5 L484.6,164.2 L484.3,163.7 L484.2,163.5 L484.0,163.2 L483.8,162.9 L483.7,162.5 L483.8,162.0 L483.8,161.5 L483.8,161.2 L483.9,160.7 L484.1,160.2 L484.2,160.0 L484.3,159.7 L484.6,159.4 L484.8,159.2 L485.1,159.0 L485.6,158.8 L485.8,158.7 L486.1,158.3 L486.2,158.0 L486.5,157.7 L486.8,157.5 L487.1,157.3 L487.4,157.2 L487.8,157.1 L488.3,157.0 L488.8,157.0 L489.1,157.0 L489.6,156.9 L489.8,157.0 L490.3,157.2 L490.6,157.4 L490.8,157.6 L491.1,157.9 L491.3,158.2 L491.4,158.5 L491.6,158.9 L491.7,159.2 L491.8,159.7 L491.8,160.2 L491.9,160.5 L492.1,160.7 L492.5,161.0 L492.8,161.2 L493.0,161.5 L493.2,161.7 L493.4,162.0 L493.6,162.5 L493.6,162.7 L493.5,163.0 L493.3,163.2 L493.1,163.6 L492.9,164.0 L492.7,164.2 L492.6,164.5 L492.4,165.0 L492.4,165.5 L492.3,166.0 L492.3,166.2 L492.1,166.6 L492.1,166.9 L492.3,167.1 L492.6,167.3 L492.8,167.7 L492.9,168.0 L493.0,168.5 L492.9,169.0 L492.8,169.2 L492.5,169.5 L492.3,169.7 L491.9,170.0 L491.6,170.2 L491.4,170.5 L491.2,170.7 L491.1,171.0 L490.9,171.5 L490.8,171.8 L490.6,172.2 L490.3,172.5 L490.1,172.7 L489.8,172.8" fill="rgba(0,0,0,0.07)" stroke="rgb(80,80,80)" stroke-width="0.6"/>
<path d="M489.8,171.9 L489.5,171.7 L489.1,171.5 L488.8,171.2 L488.6,171.0 L488.5,170.7 L488.3,170.4 L488.1,170.0 L487.9,169.7 L487.6,169.5 L487.3,169.4 L486.8,169.3 L486.5,169.2 L486.1,169.1 L485.7,169.0 L485.6,168.5 L485.7,168.0 L485.8,167.5 L485.9,167.2 L486.0,166.7 L485.8,166.5 L485.6,166.0 L485.6,165.7 L485.4,165.2 L485.4,164.7 L485.2,164.5 L485.1,164.1 L484.9,163.7 L484.7,163.5 L484.6,163.2 L484.3,162.7 L484.3,162.5 L484.2,162.0 L484.2,161.5 L484.3,161.0 L484.3,160.6 L484.5,160.2 L484.6,160.0 L484.8,159.7 L485.1,159.5 L485.4,159.2 L485.8,159.0 L486.1,158.8 L486.3,158.6 L486.6,158.2 L486.8,158.0 L487.1,157.8 L487.3,157.6 L487.8,157.5 L488.1,157.4 L488.6,157.4 L489.1,157.4 L489.5,157.5 L489.8,157.6 L490.1,157.7 L490.4,158.0 L490.6,158.2 L490.8,158.5 L491.0,159.0 L491.1,159.2 L491.2,159.7 L491.2,160.2 L491.3,160.7 L491.6,160.9 L491.8,161.2 L492.1,161.3 L492.3,161.5 L492.6,161.8 L492.8,162.1 L493.0,162.5 L493.1,162.7 L493.0,163.0 L492.8,163.2 L492.6,163.7 L492.4,164.0 L492.3,164.2 L492.1,164.7 L492.0,165.0 L491.8,165.5 L491.8,165.7 L491.6,166.1 L491.4,166.5 L491.2,166.7 L491.3,167.1 L491.6,167.4 L491.8,167.7 L492.1,168.0 L492.2,168.2 L492.3,168.6 L492.3,168.9 L492.1,169.2 L491.8,169.4 L491.6,169.6 L491.3,169.8 L491.1,170.0 L490.8,170.4 L490.6,170.7 L490.5,171.0 L490.3,171.4 L490.1,171.7 L489.8,171.9" fill="rgba(0,0,0,0.07)" stroke="rgb(70,70,70)" stroke-width="0.6"/>
<path d="M489.8,171.1 L489.6,170.9 L489.3,170.5 L489.2,170.2 L489.1,169.9 L488.9,169.5 L488.7,169.2 L488.6,169.0 L488.3,168.5 L488.2,168.2 L488.1,167.8 L488.0,167.5 L487.9,167.0 L487.7,166.7 L487.3,166.6 L487.0,166.5 L486.7,166.2 L486.5,166.0 L486.3,165.7 L486.1,165.3 L485.9,165.0 L485.8,164.7 L485.6,164.2 L485.5,164.0 L485.3,163.5 L485.2,163.2 L485.1,163.0 L484.8,162.5 L484.7,162.2 L484.7,161.7 L484.6,161.2 L484.6,160.7 L484.8,160.3 L485.0,160.0 L485.3,159.7 L485.6,159.5 L485.8,159.4 L486.1,159.2 L486.3,159.0 L486.6,158.7 L486.8,158.4 L487.1,158.2 L487.4,158.0 L487.8,157.8 L488.3,157.8 L488.8,157.8 L489.3,157.9 L489.6,158.0 L489.9,158.2 L490.2,158.5 L490.4,158.7 L490.5,159.2 L490.6,159.5 L490.6,160.0 L490.6,160.5 L490.8,160.9 L491.1,161.1 L491.3,161.3 L491.6,161.5 L491.9,161.7 L492.1,162.0 L492.3,162.2 L492.6,162.6 L492.6,162.8 L492.4,163.2 L492.2,163.5 L492.1,163.8 L491.9,164.2 L491.8,164.5 L491.6,165.0 L491.5,165.2 L491.3,165.6 L491.1,166.0 L491.0,166.2 L490.8,166.5 L490.5,166.7 L490.6,167.2 L490.7,167.5 L490.8,167.7 L491.1,168.1 L491.3,168.4 L491.6,168.7 L491.3,169.0 L490.9,169.2 L490.6,169.5 L490.4,169.7 L490.3,170.0 L490.1,170.5 L490.0,170.7 L489.8,171.1" fill="rgba(0,0,0,0.07)" stroke="rgb(60,60,60)" stroke-width="0.6"/>
<path d="M490.1,166.5 L489.6,166.7 L489.1,166.6 L488.6,166.5 L488.3,166.3 L488.1,166.2 L487.8,165.9 L487.4,165.7 L487.1,165.5 L486.8,165.3 L486.6,165.0 L486.5,164.7 L486.3,164.5 L486.1,164.0 L486.0,163.7 L485.8,163.3 L485.7,163.0 L485.6,162.6 L485.3,162.4 L485.1,162.0 L485.0,161.7 L485.0,161.2 L484.9,160.7 L485.1,160.4 L485.3,160.1 L485.6,159.8 L485.8,159.7 L486.2,159.5 L486.5,159.2 L486.8,159.0 L487.0,158.7 L487.2,158.5 L487.5,158.2 L487.8,158.1 L488.3,158.1 L488.8,158.2 L489.1,158.2 L489.6,158.5 L489.8,158.7 L489.8,159.0 L490.0,159.5 L490.0,160.0 L489.9,160.5 L490.1,160.9 L490.3,161.1 L490.6,161.3 L490.9,161.5 L491.2,161.7 L491.5,162.0 L491.8,162.2 L492.0,162.5 L492.1,162.7 L492.0,163.0 L491.8,163.4 L491.7,163.7 L491.6,164.0 L491.4,164.5 L491.3,164.7 L491.1,165.2 L490.9,165.5 L490.8,165.7 L490.6,166.0 L490.3,166.3 L490.1,166.5" fill="rgba(0,0,0,0.07)" stroke="rgb(50,50,50)" stroke-width="0.6"/>
<path d="M489.8,166.1 L489.3,166.1 L489.0,166.0 L488.6,165.8 L488.3,165.6 L488.1,165.4 L487.8,165.2 L487.5,165.0 L487.2,164.7 L487.0,164.5 L486.8,164.2 L486.6,163.8 L486.4,163.5 L486.3,163.2 L486.2,162.7 L486.0,162.5 L485.7,162.2 L485.5,162.0 L485.3,161.5 L485.3,161.2 L485.2,160.7 L485.3,160.4 L485.6,160.2 L485.8,160.0 L486.3,159.7 L486.6,159.6 L486.8,159.4 L487.1,159.1 L487.3,158.8 L487.6,158.5 L487.8,158.3 L488.3,158.4 L488.8,158.5 L489.1,158.7 L489.2,159.0 L489.3,159.2 L489.4,159.7 L489.3,160.2 L489.3,160.5 L489.3,160.7 L489.6,161.0 L489.8,161.4 L490.1,161.6 L490.3,161.8 L490.6,162.0 L491.0,162.2 L491.3,162.5 L491.6,162.7 L491.3,163.2 L491.2,163.5 L491.1,164.0 L491.0,164.2 L490.9,164.7 L490.8,165.0 L490.6,165.3 L490.3,165.6 L490.1,165.9 L489.8,166.1" fill="rgba(0,0,0,0.07)" stroke="rgb(40,40,40)" stroke-width="0.6"/>
<path d="M489.8,165.6 L489.3,165.5 L489.1,165.5 L488.6,165.2 L488.3,165.0 L488.1,164.7 L487.9,164.5 L487.7,164.2 L487.4,164.0 L487.2,163.7 L487.1,163.5 L486.8,163.0 L486.7,162.7 L486.5,162.5 L486.3,162.2 L486.1,162.0 L485.8,161.7 L485.6,161.2 L485.5,161.0 L485.6,160.5 L485.8,160.3 L486.1,160.2 L486.6,160.0 L486.8,159.9 L487.1,159.7 L487.4,159.5 L487.6,159.1 L487.8,158.7 L488.1,158.7 L488.3,158.9 L488.5,159.2 L488.6,159.5 L488.6,160.0 L488.6,160.3 L488.5,160.7 L488.8,161.0 L489.0,161.2 L489.2,161.5 L489.4,161.7 L489.6,162.0 L489.8,162.4 L490.1,162.5 L490.5,162.7 L490.6,163.0 L490.6,163.5 L490.6,164.0 L490.6,164.2 L490.5,164.7 L490.3,165.1 L490.1,165.4 L489.8,165.6" fill="rgba(0,0,0,0.07)" stroke="rgb(30,30,30)" stroke-width="0.6"/>
<path d="M489.8,165.1 L489.3,165.0 L489.1,164.9 L488.8,164.7 L488.6,164.3 L488.4,164.0 L488.2,163.7 L488.0,163.5 L487.7,163.2 L487.5,163.0 L487.3,162.6 L487.1,162.2 L486.9,162.0 L486.7,161.7 L486.4,161.5 L486.1,161.2 L485.9,161.0 L485.8,160.7 L486.1,160.5 L486.3,160.4 L486.8,160.4 L487.2,160.5 L487.4,160.7 L487.6,161.1 L487.8,161.4 L488.1,161.5 L488.5,161.7 L488.7,162.0 L488.9,162.2 L489.1,162.5 L489.3,162.9 L489.6,163.2 L489.8,163.5 L489.9,163.7 L490.1,164.2 L490.1,164.5 L490.1,164.8 L489.8,165.1" fill="rgba(0,0,0,0.07)" stroke="rgb(20,20,20)" stroke-width="0.6"/>
<path d="M459.6,197.0 L459.1,197.1 L458.6,197.1 L458.2,197.0 L457.8,196.8 L457.7,196.5 L457.6,196.0 L457.8,195.5 L457.9,195.2 L458.1,194.8 L458.3,194.5 L458.4,194.2 L458.6,194.0 L458.8,193.7 L459.1,193.4 L459.3,193.0 L459.6,192.7 L459.8,192.5 L460.0,192.2 L460.2,192.0 L460.5,191.7 L460.7,191.5 L460.9,191.2 L461.2,191.0 L461.4,190.7 L461.7,190.5 L461.9,190.2 L462.2,190.0 L462.4,189.7 L462.7,189.5 L463.0,189.2 L463.2,189.0 L463.5,188.7 L463.8,188.5 L464.1,188.2 L464.3,188.0 L464.6,187.8 L464.8,187.5 L465.1,187.3 L465.3,187.1 L465.6,186.9 L465.8,186.7 L466.1,186.5 L466.4,186.2 L466.6,186.0 L466.9,185.7 L467.2,185.5 L467.6,185.2 L467.8,185.0 L468.1,184.8 L468.3,184.6 L468.6,184.4 L468.8,184.2 L469.1,184.0 L469.4,183.7 L469.7,183.5 L470.1,183.2 L470.3,183.0 L470.6,182.8 L470.8,182.6 L471.1,182.5 L471.4,182.2 L471.7,182.0 L472.0,181.7 L472.3,181.5 L472.6,181.3 L472.8,181.1 L473.1,181.0 L473.4,180.7 L473.7,180.5 L474.1,180.2 L474.3,180.1 L474.6,179.9 L474.8,179.7 L475.1,179.5 L475.5,179.2 L475.8,179.0 L476.1,178.8 L476.3,178.6 L476.6,178.5 L476.9,178.2 L477.3,178.0 L477.6,177.8 L477.8,177.6 L478.1,177.5 L478.4,177.2 L478.8,177.0 L479.1,176.8 L479.3,176.6 L479.6,176.5 L479.9,176.2 L480.3,176.0 L480.6,175.8 L480.8,175.7 L481.1,175.5 L481.5,175.2 L481.8,175.0 L482.1,174.9 L482.3,174.7 L482.7,174.5 L483.1,174.3 L483.3,174.1 L483.6,174.0 L484.0,173.7 L484.3,173.5 L484.6,173.4 L484.8,173.2 L485.2,173.0 L485.6,172.8 L485.8,172.6 L486.1,172.5 L486.5,172.2 L486.8,172.1 L487.1,171.9 L487.5,171.7 L487.8,171.5 L488.1,171.4 L488.4,171.2 L488.8,171.0 L489.1,170.9 L489.4,170.7 L489.8,170.5 L490.1,170.4 L490.4,170.2 L490.8,170.0 L491.1,169.9 L491.4,169.7 L491.8,169.5 L492.1,169.4 L492.6,169.2 L492.8,169.1 L493.2,169.0 L493.6,168.8 L493.8,168.7 L494.3,168.5 L494.6,168.5 L495.1,168.3 L495.4,168.2 L495.8,168.1 L496.3,168.0 L496.6,168.0 L497.1,167.9 L497.6,168.0 L497.8,168.0 L498.2,168.2 L498.3,168.5 L498.4,169.0 L498.3,169.2 L498.1,169.7 L498.0,170.0 L497.8,170.3 L497.6,170.7 L497.4,171.0 L497.2,171.2 L497.1,171.5 L496.8,171.8 L496.6,172.1 L496.3,172.4 L496.1,172.7 L495.8,172.9 L495.6,173.2 L495.3,173.5 L495.1,173.7 L494.9,174.0 L494.6,174.2 L494.4,174.5 L494.1,174.7 L493.9,175.0 L493.6,175.2 L493.4,175.5 L493.1,175.7 L492.8,176.0 L492.6,176.2 L492.3,176.4 L492.1,176.7 L491.8,176.9 L491.6,177.1 L491.3,177.3 L491.1,177.6 L490.8,177.8 L490.6,178.0 L490.3,178.2 L490.0,178.5 L489.7,178.7 L489.4,179.0 L489.1,179.2 L488.8,179.5 L488.6,179.7 L488.3,179.9 L488.1,180.1 L487.8,180.3 L487.6,180.5 L487.3,180.7 L487.0,181.0 L486.6,181.2 L486.3,181.5 L486.1,181.7 L485.8,181.9 L485.6,182.1 L485.3,182.2 L485.0,182.5 L484.7,182.7 L484.4,183.0 L484.1,183.2 L483.8,183.4 L483.6,183.6 L483.3,183.7 L483.0,184.0 L482.7,184.2 L482.3,184.5 L482.1,184.7 L481.8,184.8 L481.6,185.0 L481.3,185.2 L480.9,185.5 L480.6,185.7 L480.3,185.9 L480.1,186.1 L479.8,186.2 L479.5,186.5 L479.1,186.7 L478.8,186.9 L478.6,187.1 L478.3,187.3 L478.0,187.5 L477.7,187.7 L477.3,187.9 L477.1,188.1 L476.8,188.3 L476.5,188.5 L476.1,188.7 L475.8,188.9 L475.6,189.1 L475.3,189.2 L475.0,189.5 L474.6,189.7 L474.3,189.9 L474.1,190.0 L473.8,190.2 L473.4,190.5 L473.1,190.7 L472.8,190.8 L472.5,191.0 L472.1,191.2 L471.8,191.4 L471.6,191.6 L471.3,191.7 L470.9,192.0 L470.6,192.1 L470.3,192.3 L470.0,192.5 L469.6,192.7 L469.3,192.8 L469.1,193.0 L468.6,193.2 L468.3,193.4 L468.1,193.5 L467.7,193.7 L467.3,193.9 L467.1,194.1 L466.7,194.2 L466.3,194.4 L466.1,194.6 L465.7,194.7 L465.3,194.9 L465.1,195.0 L464.7,195.2 L464.3,195.4 L464.1,195.5 L463.6,195.7 L463.3,195.8 L462.9,196.0 L462.6,196.1 L462.3,196.2 L461.8,196.4 L461.6,196.5 L461.1,196.6 L460.8,196.7 L460.3,196.9 L459.8,197.0 L459.6,197.0" fill="none" stroke="#888" stroke-width="0.6"/>
<path d="M467.3,191.3 L466.8,191.4 L466.3,191.4 L465.8,191.4 L465.6,191.2 L465.5,190.7 L465.6,190.5 L465.8,190.0 L466.0,189.7 L466.2,189.5 L466.3,189.2 L466.6,188.9 L466.8,188.6 L467.1,188.3 L467.3,188.1 L467.6,187.8 L467.8,187.6 L468.1,187.3 L468.3,187.1 L468.6,186.8 L468.8,186.6 L469.1,186.3 L469.3,186.1 L469.6,185.9 L469.8,185.7 L470.1,185.5 L470.3,185.2 L470.6,185.0 L470.9,184.7 L471.2,184.5 L471.5,184.2 L471.8,184.0 L472.1,183.8 L472.3,183.6 L472.6,183.4 L472.8,183.2 L473.1,183.0 L473.4,182.7 L473.7,182.5 L474.1,182.2 L474.3,182.0 L474.6,181.9 L474.8,181.7 L475.1,181.5 L475.4,181.2 L475.8,181.0 L476.1,180.8 L476.3,180.6 L476.6,180.4 L476.8,180.2 L477.2,180.0 L477.6,179.7 L477.8,179.6 L478.1,179.4 L478.3,179.2 L478.7,179.0 L479.1,178.7 L479.3,178.6 L479.6,178.4 L479.9,178.2 L480.2,178.0 L480.6,177.8 L480.8,177.6 L481.1,177.5 L481.5,177.2 L481.8,177.0 L482.1,176.9 L482.3,176.7 L482.7,176.5 L483.1,176.3 L483.3,176.1 L483.6,176.0 L484.1,175.7 L484.3,175.6 L484.6,175.5 L485.1,175.2 L485.3,175.1 L485.6,175.0 L486.1,174.7 L486.3,174.6 L486.7,174.5 L487.1,174.3 L487.3,174.2 L487.8,174.0 L488.1,173.9 L488.6,173.8 L488.8,173.7 L489.3,173.6 L489.8,173.6 L490.3,173.7 L490.5,174.0 L490.4,174.5 L490.3,174.7 L490.1,175.2 L489.9,175.5 L489.7,175.7 L489.5,176.0 L489.3,176.2 L489.1,176.5 L488.8,176.8 L488.6,177.0 L488.3,177.3 L488.1,177.5 L487.8,177.8 L487.6,178.0 L487.3,178.3 L487.1,178.5 L486.8,178.7 L486.6,179.0 L486.3,179.2 L486.0,179.5 L485.7,179.7 L485.4,180.0 L485.1,180.2 L484.8,180.5 L484.6,180.7 L484.3,180.9 L484.1,181.1 L483.8,181.3 L483.6,181.5 L483.3,181.7 L483.0,182.0 L482.6,182.2 L482.3,182.5 L482.1,182.7 L481.8,182.9 L481.6,183.0 L481.3,183.2 L481.0,183.5 L480.6,183.7 L480.3,184.0 L480.1,184.1 L479.8,184.3 L479.6,184.5 L479.2,184.7 L478.9,185.0 L478.6,185.2 L478.3,185.3 L478.1,185.5 L477.8,185.7 L477.4,186.0 L477.1,186.2 L476.8,186.3 L476.6,186.5 L476.2,186.7 L475.8,187.0 L475.6,187.1 L475.3,187.3 L475.0,187.5 L474.6,187.7 L474.3,187.9 L474.1,188.0 L473.8,188.2 L473.3,188.5 L473.1,188.6 L472.8,188.8 L472.4,189.0 L472.1,189.2 L471.8,189.3 L471.5,189.5 L471.1,189.7 L470.8,189.8 L470.5,190.0 L470.1,190.2 L469.8,190.3 L469.5,190.5 L469.1,190.6 L468.8,190.7 L468.3,190.9 L468.1,191.0 L467.6,191.2 L467.3,191.3" fill="none" stroke="#999" stroke-width="0.6"/>
<path d="M466.1,204.5 L465.6,204.5 L465.1,204.5 L464.7,204.5 L464.3,204.4 L463.9,204.2 L463.6,204.1 L463.3,203.9 L462.8,203.8 L462.3,203.7 L462.1,203.7 L461.6,203.6 L461.2,203.5 L460.8,203.3 L460.6,203.2 L460.3,203.0 L459.9,202.7 L459.6,202.5 L459.4,202.2 L459.1,202.0 L458.9,201.7 L458.6,201.5 L458.4,201.2 L458.1,201.0 L457.8,200.7 L457.6,200.5 L457.3,200.3 L457.1,200.0 L456.8,199.7 L456.8,199.5 L456.7,199.0 L456.7,198.5 L456.7,198.0 L456.7,197.5 L456.7,197.0 L456.7,196.5 L456.8,196.0 L456.9,195.7 L456.8,195.4 L456.7,195.0 L456.6,194.5 L456.6,194.0 L456.6,193.5 L456.7,193.0 L456.8,192.6 L456.9,192.2 L457.1,191.7 L457.2,191.5 L457.3,191.2 L457.6,190.9 L457.8,190.6 L458.1,190.4 L458.5,190.2 L458.8,190.1 L459.1,190.0 L459.4,189.7 L459.6,189.5 L459.7,189.0 L459.8,188.5 L459.9,188.2 L460.1,187.9 L460.3,187.6 L460.6,187.4 L460.9,187.2 L461.3,187.0 L461.6,187.0 L462.1,186.8 L462.6,186.7 L462.8,186.7 L463.3,186.6 L463.8,186.5 L464.1,186.4 L464.6,186.4 L465.1,186.3 L465.6,186.3 L466.1,186.3 L466.6,186.3 L467.1,186.3 L467.6,186.4 L468.1,186.5 L468.3,186.5 L468.8,186.7 L469.1,186.9 L469.3,187.0 L469.8,187.1 L470.3,187.2 L470.6,187.3 L471.1,187.4 L471.3,187.5 L471.6,187.7 L471.9,188.0 L472.2,188.2 L472.4,188.5 L472.6,188.7 L472.8,189.2 L473.0,189.5 L473.1,189.7 L473.3,190.1 L473.6,190.2 L474.1,190.4 L474.3,190.6 L474.6,190.8 L474.8,191.1 L475.1,191.4 L475.3,191.7 L475.5,192.0 L475.6,192.2 L475.8,192.7 L475.9,193.0 L476.0,193.5 L476.0,194.0 L475.9,194.5 L475.8,194.8 L475.6,195.2 L475.5,195.5 L475.4,196.0 L475.5,196.5 L475.5,197.0 L475.5,197.5 L475.5,198.0 L475.3,198.5 L475.3,198.7 L475.1,199.2 L475.1,199.5 L474.8,200.0 L474.6,200.2 L474.5,200.5 L474.3,200.7 L474.1,201.0 L473.8,201.4 L473.6,201.7 L473.4,202.0 L473.1,202.2 L472.8,202.4 L472.6,202.6 L472.3,202.8 L472.1,203.0 L471.8,203.2 L471.5,203.5 L471.1,203.7 L470.6,203.7 L470.1,203.7 L469.6,203.6 L469.1,203.6 L468.7,203.7 L468.3,203.9 L468.1,204.0 L467.6,204.2 L467.3,204.3 L466.8,204.4 L466.3,204.5 L466.1,204.5" fill="none" stroke="rgb(120,120,120)" stroke-width="0.6"/>
<path d="M467.6,203.0 L467.1,203.1 L466.6,203.1 L466.1,203.0 L465.8,203.0 L465.3,202.8 L464.8,202.8 L464.3,202.8 L463.8,202.8 L463.4,202.7 L463.1,202.7 L462.6,202.6 L462.3,202.5 L461.8,202.2 L461.6,202.1 L461.3,202.0 L461.0,201.7 L460.7,201.5 L460.4,201.2 L460.2,201.0 L460.0,200.7 L459.8,200.5 L459.6,200.2 L459.3,199.8 L459.1,199.5 L458.8,199.2 L458.6,199.0 L458.4,198.7 L458.3,198.5 L458.1,198.0 L458.0,197.7 L458.0,197.2 L458.1,196.7 L458.1,196.5 L458.2,196.0 L458.3,195.5 L458.2,195.0 L458.1,194.5 L458.1,194.0 L458.1,193.5 L458.2,193.0 L458.3,192.5 L458.4,192.2 L458.5,191.7 L458.6,191.5 L458.9,191.2 L459.3,191.0 L459.6,190.9 L459.9,190.7 L460.1,190.5 L460.3,190.2 L460.5,189.7 L460.6,189.5 L460.8,189.1 L461.1,188.8 L461.3,188.7 L461.8,188.5 L462.1,188.4 L462.6,188.3 L463.0,188.2 L463.3,188.1 L463.7,188.0 L464.1,187.9 L464.6,187.8 L465.0,187.7 L465.3,187.7 L465.8,187.6 L466.3,187.6 L466.8,187.6 L467.3,187.6 L467.6,187.7 L468.1,187.9 L468.3,188.0 L468.7,188.2 L469.1,188.4 L469.3,188.5 L469.8,188.6 L470.3,188.7 L470.6,188.7 L471.1,188.9 L471.3,189.0 L471.6,189.3 L471.8,189.7 L471.9,190.0 L472.1,190.4 L472.2,190.7 L472.3,191.0 L472.6,191.5 L472.8,191.7 L473.0,192.0 L473.1,192.2 L473.3,192.5 L473.6,192.7 L473.8,193.0 L474.1,193.2 L474.3,193.7 L474.3,193.8 L474.3,194.2 L474.2,194.7 L474.1,195.2 L474.0,195.5 L474.0,196.0 L474.0,196.5 L473.9,197.0 L473.8,197.5 L473.8,197.7 L473.8,198.0 L473.9,198.5 L473.8,199.0 L473.8,199.2 L473.7,199.7 L473.6,200.0 L473.3,200.3 L472.8,200.4 L472.3,200.4 L472.1,200.2 L471.9,199.7 L471.6,199.5 L471.3,199.3 L471.1,199.6 L471.0,200.0 L471.0,200.5 L471.0,201.0 L470.9,201.5 L470.8,201.7 L470.5,202.0 L470.1,202.2 L469.8,202.3 L469.3,202.5 L469.1,202.6 L468.6,202.7 L468.3,202.8 L467.8,202.9 L467.6,203.0" fill="none" stroke="rgb(110,110,110)" stroke-width="0.6"/>
<path d="M467.6,202.3 L467.1,202.4 L466.6,202.3 L466.3,202.2 L465.8,202.0 L465.6,201.9 L465.3,201.7 L464.8,201.7 L464.6,201.7 L464.1,201.8 L463.6,201.9 L463.1,201.9 L462.7,201.7 L462.5,201.5 L462.2,201.2 L461.9,201.0 L461.6,200.8 L461.3,200.6 L461.1,200.5 L460.8,200.2 L460.6,200.0 L460.3,199.6 L460.1,199.3 L459.8,199.0 L459.6,198.7 L459.4,198.5 L459.3,198.2 L459.1,197.9 L459.0,197.5 L459.0,197.0 L459.1,196.5 L459.1,196.2 L459.2,195.7 L459.2,195.2 L459.2,194.7 L459.2,194.2 L459.2,193.7 L459.3,193.2 L459.4,193.0 L459.6,192.6 L459.8,192.3 L460.1,192.2 L460.6,192.0 L460.9,192.0 L461.2,191.7 L461.4,191.5 L461.4,191.0 L461.5,190.5 L461.7,190.2 L461.9,190.0 L462.3,189.7 L462.6,189.7 L463.1,189.6 L463.4,189.5 L463.8,189.2 L464.1,189.1 L464.6,189.0 L464.8,188.9 L465.3,188.8 L465.6,188.7 L466.1,188.5 L466.3,188.5 L466.8,188.4 L467.3,188.4 L467.6,188.5 L468.0,188.7 L468.3,188.9 L468.6,189.0 L468.9,189.2 L469.2,189.5 L469.6,189.5 L470.1,189.7 L470.3,189.8 L470.7,190.0 L470.9,190.2 L471.1,190.6 L471.2,191.0 L471.2,191.5 L471.4,191.7 L471.6,192.0 L471.9,192.2 L472.1,192.5 L472.3,192.8 L472.6,193.2 L472.7,193.5 L472.8,193.9 L472.9,194.2 L473.0,194.7 L473.0,195.2 L473.0,195.7 L472.9,196.2 L472.8,196.7 L472.8,197.0 L472.7,197.5 L472.6,197.7 L472.4,198.2 L472.1,198.5 L471.8,198.5 L471.3,198.6 L471.1,198.8 L470.8,199.1 L470.6,199.3 L470.3,199.7 L470.2,200.0 L470.1,200.5 L470.0,200.7 L469.8,201.1 L469.6,201.4 L469.3,201.7 L469.1,201.8 L468.6,202.0 L468.3,202.1 L467.8,202.2 L467.6,202.3" fill="none" stroke="rgb(100,100,100)" stroke-width="0.6"/>
<path d="M467.3,201.8 L466.9,201.7 L466.6,201.6 L466.2,201.5 L465.8,201.3 L465.6,201.2 L465.1,201.1 L464.6,201.0 L464.3,201.0 L463.8,200.7 L463.6,200.5 L463.5,200.2 L463.4,199.7 L463.1,199.5 L462.8,199.5 L462.6,199.5 L462.1,199.5 L461.6,199.5 L461.3,199.4 L460.9,199.2 L460.7,199.0 L460.5,198.7 L460.3,198.4 L460.1,198.0 L459.9,197.7 L459.8,197.2 L459.9,196.7 L460.0,196.2 L460.1,195.9 L460.1,195.5 L460.1,195.0 L460.1,194.5 L460.2,194.0 L460.3,193.6 L460.6,193.2 L460.8,193.0 L461.1,192.9 L461.3,192.7 L461.6,192.4 L461.8,192.0 L462.0,191.7 L462.1,191.5 L462.3,191.1 L462.6,190.8 L462.8,190.6 L463.1,190.4 L463.4,190.2 L463.8,190.0 L464.1,190.0 L464.6,189.8 L465.0,189.7 L465.3,189.6 L465.6,189.5 L466.1,189.3 L466.3,189.2 L466.8,189.1 L467.3,189.1 L467.7,189.2 L468.1,189.4 L468.3,189.6 L468.6,189.7 L469.0,190.0 L469.3,190.2 L469.6,190.3 L469.9,190.5 L470.2,190.7 L470.4,191.0 L470.6,191.4 L470.7,191.7 L470.9,192.0 L471.1,192.3 L471.3,192.7 L471.5,193.0 L471.6,193.2 L471.8,193.6 L471.9,194.0 L472.0,194.5 L472.0,195.0 L471.9,195.5 L471.9,196.0 L471.9,196.5 L471.8,197.0 L471.8,197.2 L471.6,197.7 L471.3,197.9 L471.1,198.1 L470.8,198.4 L470.6,198.6 L470.3,198.9 L470.1,199.2 L469.9,199.5 L469.7,199.7 L469.6,200.1 L469.4,200.5 L469.2,200.7 L468.8,201.0 L468.6,201.1 L468.3,201.3 L468.0,201.5 L467.6,201.7 L467.3,201.8" fill="rgba(0,0,0,0.03)" stroke="rgb(90,90,90)" stroke-width="0.6"/>
<path d="M467.6,200.8 L467.1,201.0 L466.6,200.9 L466.1,200.8 L465.7,200.7 L465.3,200.6 L464.8,200.5 L464.6,200.4 L464.3,200.2 L464.1,200.0 L463.8,199.6 L463.6,199.4 L463.3,199.1 L463.1,198.9 L462.6,198.9 L462.1,198.8 L461.8,198.7 L461.3,198.5 L461.1,198.3 L460.9,198.0 L460.7,197.7 L460.6,197.2 L460.7,196.7 L460.8,196.2 L460.8,196.0 L460.9,195.5 L460.9,195.0 L461.0,194.5 L461.1,194.2 L461.3,193.8 L461.6,193.6 L461.8,193.4 L462.1,193.1 L462.3,192.7 L462.4,192.5 L462.6,192.1 L462.7,191.7 L462.8,191.5 L463.1,191.2 L463.3,191.0 L463.7,190.7 L464.1,190.6 L464.3,190.5 L464.8,190.3 L465.1,190.2 L465.6,190.1 L465.9,190.0 L466.3,189.8 L466.6,189.7 L467.1,189.6 L467.4,189.7 L467.8,190.0 L468.1,190.1 L468.3,190.2 L468.8,190.5 L469.1,190.6 L469.4,190.7 L469.7,191.0 L469.9,191.2 L470.1,191.5 L470.3,191.9 L470.5,192.2 L470.6,192.5 L470.8,193.0 L471.0,193.2 L471.1,193.5 L471.2,194.0 L471.2,194.5 L471.1,195.0 L471.1,195.5 L471.1,195.7 L471.1,196.2 L471.0,196.7 L471.0,197.2 L470.8,197.7 L470.6,197.9 L470.3,198.2 L470.1,198.5 L469.9,198.7 L469.7,199.0 L469.5,199.2 L469.3,199.5 L469.1,199.8 L468.8,200.0 L468.5,200.2 L468.2,200.5 L467.8,200.7 L467.6,200.8" fill="rgba(0,0,0,0.03)" stroke="rgb(80,80,80)" stroke-width="0.6"/>
<path d="M466.6,200.2 L466.1,200.2 L465.6,200.2 L465.3,200.2 L464.8,200.0 L464.6,199.8 L464.3,199.6 L464.1,199.3 L463.8,199.1 L463.6,198.8 L463.3,198.6 L463.1,198.3 L462.6,198.2 L462.3,198.2 L461.9,198.0 L461.6,197.7 L461.5,197.5 L461.4,197.0 L461.4,196.5 L461.4,196.0 L461.5,195.5 L461.6,195.1 L461.7,194.7 L461.9,194.5 L462.1,194.2 L462.5,194.0 L462.8,193.9 L463.2,193.7 L463.4,193.5 L463.3,193.1 L463.3,192.7 L463.3,192.2 L463.3,192.0 L463.5,191.5 L463.8,191.3 L464.1,191.1 L464.3,191.0 L464.8,190.8 L465.1,190.7 L465.6,190.6 L466.1,190.5 L466.3,190.4 L466.8,190.4 L467.3,190.4 L467.6,190.5 L468.1,190.7 L468.3,190.8 L468.8,191.0 L469.1,191.1 L469.4,191.2 L469.6,191.5 L469.8,191.9 L470.0,192.2 L470.1,192.5 L470.3,193.0 L470.4,193.2 L470.6,193.7 L470.6,194.0 L470.6,194.5 L470.6,195.0 L470.5,195.2 L470.5,195.7 L470.5,196.2 L470.4,196.7 L470.3,197.1 L470.2,197.5 L470.1,197.7 L469.8,198.0 L469.6,198.3 L469.3,198.7 L469.1,199.0 L468.8,199.2 L468.6,199.4 L468.3,199.6 L467.9,199.7 L467.6,199.9 L467.3,200.1 L466.8,200.2 L466.6,200.2" fill="rgba(0,0,0,0.03)" stroke="rgb(70,70,70)" stroke-width="0.6"/>
<path d="M466.1,199.7 L465.6,199.8 L465.1,199.8 L464.8,199.5 L464.6,199.3 L464.3,199.0 L464.1,198.8 L463.8,198.5 L463.6,198.3 L463.3,198.1 L463.1,197.8 L462.8,197.7 L462.5,197.5 L462.3,197.2 L462.1,196.8 L462.0,196.5 L462.0,196.0 L462.0,195.5 L462.1,195.2 L462.3,194.9 L462.6,194.6 L462.8,194.5 L463.3,194.2 L463.6,194.0 L463.8,193.8 L464.1,193.5 L464.0,193.0 L464.0,192.5 L464.1,192.0 L464.2,191.7 L464.3,191.5 L464.8,191.2 L465.1,191.1 L465.6,191.1 L466.1,191.0 L466.6,191.0 L467.1,191.1 L467.6,191.2 L467.8,191.2 L468.3,191.3 L468.8,191.5 L469.1,191.6 L469.3,191.8 L469.5,192.2 L469.6,192.5 L469.8,192.9 L469.9,193.2 L470.1,193.7 L470.1,194.0 L470.1,194.5 L470.1,194.8 L470.0,195.2 L469.9,195.7 L469.9,196.2 L469.8,196.6 L469.7,197.0 L469.6,197.4 L469.4,197.7 L469.2,198.0 L469.1,198.2 L468.8,198.5 L468.6,198.8 L468.3,199.0 L467.9,199.2 L467.6,199.4 L467.2,199.5 L466.8,199.6 L466.3,199.7 L466.1,199.7" fill="rgba(0,0,0,0.03)" stroke="rgb(60,60,60)" stroke-width="0.6"/>
<path d="M465.1,194.1 L464.9,193.7 L464.8,193.4 L464.7,193.0 L464.7,192.5 L464.8,192.0 L465.0,191.7 L465.3,191.6 L465.8,191.6 L466.3,191.7 L466.6,191.9 L466.8,192.2 L466.7,192.7 L466.6,193.0 L466.2,193.2 L465.8,193.4 L465.6,193.6 L465.3,193.9 L465.1,194.1" fill="rgba(0,0,0,0.03)" stroke="rgb(50,50,50)" stroke-width="0.6"/>
<path d="M466.3,199.2 L465.8,199.3 L465.3,199.3 L465.1,199.2 L464.8,199.0 L464.6,198.7 L464.3,198.5 L464.0,198.2 L463.8,198.0 L463.5,197.7 L463.3,197.4 L463.1,197.1 L462.8,196.8 L462.6,196.5 L462.5,196.2 L462.4,195.7 L462.6,195.4 L462.8,195.1 L463.1,194.9 L463.5,194.7 L463.8,194.6 L464.3,194.6 L464.6,194.9 L464.6,195.2 L464.7,195.7 L464.9,196.0 L465.3,196.2 L465.8,196.2 L466.3,196.1 L466.6,195.9 L466.8,195.7 L467.1,195.2 L467.2,195.0 L467.3,194.5 L467.5,194.2 L467.6,194.0 L467.8,193.5 L467.8,193.4 L467.7,193.0 L467.8,192.5 L468.1,192.4 L468.6,192.4 L468.8,192.5 L469.2,192.7 L469.4,193.0 L469.5,193.5 L469.6,193.7 L469.6,194.2 L469.6,194.6 L469.5,195.0 L469.4,195.5 L469.3,196.0 L469.3,196.2 L469.2,196.7 L469.1,197.1 L468.9,197.5 L468.8,197.8 L468.6,198.1 L468.3,198.4 L468.1,198.6 L467.8,198.8 L467.4,199.0 L467.1,199.1 L466.6,199.2 L466.3,199.2" fill="rgba(0,0,0,0.03)" stroke="rgb(50,50,50)" stroke-width="0.6"/>
<path d="M466.6,198.7 L466.1,198.8 L465.6,198.8 L465.3,198.7 L464.9,198.5 L464.6,198.2 L464.4,198.0 L464.1,197.7 L464.0,197.5 L463.9,197.0 L463.8,196.7 L463.6,196.4 L463.3,196.2 L463.1,196.0 L463.1,195.5 L463.3,195.4 L463.7,195.5 L464.0,195.7 L464.1,196.1 L464.3,196.4 L464.6,196.5 L465.1,196.7 L465.6,196.7 L466.1,196.7 L466.6,196.5 L466.8,196.4 L467.1,196.2 L467.4,196.0 L467.8,195.8 L468.3,195.9 L468.5,196.2 L468.5,196.7 L468.5,197.2 L468.3,197.7 L468.1,198.0 L467.8,198.2 L467.6,198.4 L467.3,198.6 L466.8,198.7 L466.6,198.7" fill="rgba(0,0,0,0.03)" stroke="rgb(40,40,40)" stroke-width="0.6"/>
<path d="M466.6,198.2 L466.1,198.2 L465.8,198.2 L465.3,198.1 L465.1,198.0 L464.9,197.5 L465.3,197.3 L465.8,197.2 L466.1,197.2 L466.6,197.0 L466.8,196.9 L467.3,196.8 L467.7,197.0 L467.8,197.5 L467.6,197.9 L467.3,198.1 L466.8,198.2 L466.6,198.2" fill="rgba(0,0,0,0.03)" stroke="rgb(30,30,30)" stroke-width="0.6"/>
<rect x="454.7" y="146.1" width="57.19999999999999" height="59.400000000000006" stroke="#000" stroke-width="2" fill="none" />
<line x1="452.2" y1="147.1" x2="453.7" y2="147.1" stroke="#000" stroke-width="0.8" />
<line x1="452.2" y1="161.4" x2="453.7" y2="161.4" stroke="#000" stroke-width="0.8" />
<line x1="452.2" y1="175.8" x2="453.7" y2="175.8" stroke="#000" stroke-width="0.8" />
<line x1="452.2" y1="190.2" x2="453.7" y2="190.2" stroke="#000" stroke-width="0.8" />
<line x1="452.2" y1="204.5" x2="453.7" y2="204.5" stroke="#000" stroke-width="0.8" />
<line x1="454.7" y1="206.5" x2="454.7" y2="208.0" stroke="#000" stroke-width="0.8" />
<line x1="469.0" y1="206.5" x2="469.0" y2="208.0" stroke="#000" stroke-width="0.8" />
<line x1="483.3" y1="206.5" x2="483.3" y2="208.0" stroke="#000" stroke-width="0.8" />
<line x1="497.6" y1="206.5" x2="497.6" y2="208.0" stroke="#000" stroke-width="0.8" />
<line x1="511.9" y1="206.5" x2="511.9" y2="208.0" stroke="#000" stroke-width="0.8" />
<text x="452.2" y="205.9" font-size="4.4" font-weight="normal" text-anchor="end" fill="#222" style="font-family:Liberation Serif">1</text>
<text x="452.2" y="191.6" font-size="4.4" font-weight="normal" text-anchor="end" fill="#222" style="font-family:Liberation Serif">10</text>
<text x="452.2" y="177.2" font-size="4.4" font-weight="normal" text-anchor="end" fill="#222" style="font-family:Liberation Serif">100</text>
<text x="452.2" y="162.8" font-size="4.4" font-weight="normal" text-anchor="end" fill="#222" style="font-family:Liberation Serif">1000</text>
<text x="452.2" y="148.5" font-size="4.4" font-weight="normal" text-anchor="end" fill="#222" style="font-family:Liberation Serif">10000</text>
<text x="455.2" y="211.0" font-size="4.4" font-weight="normal" text-anchor="middle" fill="#222" style="font-family:Liberation Serif">1</text>
<text x="469.1" y="211.0" font-size="4.4" font-weight="normal" text-anchor="middle" fill="#222" style="font-family:Liberation Serif">10</text>
<text x="483.0" y="211.0" font-size="4.4" font-weight="normal" text-anchor="middle" fill="#222" style="font-family:Liberation Serif">100</text>
<text x="497.0" y="211.0" font-size="4.4" font-weight="normal" text-anchor="middle" fill="#222" style="font-family:Liberation Serif">1000</text>
<text x="510.9" y="211.0" font-size="4.4" font-weight="normal" text-anchor="middle" fill="#222" style="font-family:Liberation Serif">10000</text>
<rect x="400.2" y="161.2" width="25.30000000000001" height="14.0" stroke="#000" stroke-width="1.5" fill="none" />
<rect x="480.9" y="161.2" width="24.80000000000001" height="14.0" stroke="#000" stroke-width="1.5" fill="none" />
<text x="417.6" y="174.1" font-size="9.2" font-weight="normal" text-anchor="start" fill="#000" >7</text>
<text x="494.9" y="174.1" font-size="9.2" font-weight="normal" text-anchor="start" fill="#000" >37</text>
<text x="379.1" y="160.7" font-size="14" font-weight="bold" text-anchor="start" fill="#000"  stroke="#000" stroke-width="0.35">i</text>
<text x="457.9" y="159" font-size="13.5" font-weight="bold" text-anchor="start" fill="#000"  stroke="#000" stroke-width="0.35">ii</text>
<line x1="355.6" y1="176.7" x2="355.6" y2="162.5" stroke="#000" stroke-width="1.2" />
<polygon points="355.60,157.50 357.90,163.00 353.30,163.00" fill="#000"/>
<text x="0" y="0" font-size="7.6" font-weight="bold" textLength="14.4" lengthAdjust="spacingAndGlyphs" transform="translate(358,193.9) rotate(-90)">Gr-1</text>
<text x="413.5" y="223.8" font-size="9.4" font-weight="bold" text-anchor="start" fill="#000"  textLength="26.5" lengthAdjust="spacingAndGlyphs" stroke="#000" stroke-width="0.35">Mac-1</text>
<line x1="440.2" y1="221.1" x2="460.2" y2="221.1" stroke="#000" stroke-width="1.6" />
<polygon points="467.20,221.10 459.70,224.10 459.70,218.10" fill="#000"/>
<text x="74.7" y="255.7" font-size="17.3" font-weight="bold" text-anchor="start" fill="#000"  stroke="#000" stroke-width="0.35">D</text>
<text x="233.6" y="256.3" font-size="17.3" font-weight="bold" text-anchor="start" fill="#000"  stroke="#000" stroke-width="0.35">E</text>
<text x="367.8" y="256.4" font-size="17.3" font-weight="bold" text-anchor="start" fill="#000"  stroke="#000" stroke-width="0.35">F</text>
<text x="57.0" y="276.2" font-size="12.2" font-weight="normal" text-anchor="start" fill="#000"  textLength="24.6" lengthAdjust="spacingAndGlyphs">FSC</text>
<text x="81.6" y="271.6" font-size="10.6" font-weight="normal" text-anchor="start" fill="#000"  textLength="17.3" lengthAdjust="spacingAndGlyphs">low</text>
<text x="99.0" y="276.2" font-size="12.2" font-weight="normal" text-anchor="start" fill="#000"  textLength="39" lengthAdjust="spacingAndGlyphs">/Mac-1</text>
<text x="139.0" y="271.0" font-size="10.6" font-weight="normal" text-anchor="start" fill="#000"  textLength="6.2" lengthAdjust="spacingAndGlyphs">+</text>
<text x="146.4" y="276.2" font-size="12.2" font-weight="normal" text-anchor="start" fill="#000"  textLength="28.5" lengthAdjust="spacingAndGlyphs">/Gr-1</text>
<text x="175.6" y="271.0" font-size="10.6" font-weight="normal" text-anchor="start" fill="#000"  textLength="14" lengthAdjust="spacingAndGlyphs">int</text>
<text x="209.4" y="276.2" font-size="12.2" font-weight="normal" text-anchor="start" fill="#000"  textLength="24.6" lengthAdjust="spacingAndGlyphs">FSC</text>
<text x="234.7" y="270.8" font-size="10.6" font-weight="normal" text-anchor="start" fill="#000"  textLength="22.2" lengthAdjust="spacingAndGlyphs">high</text>
<text x="257.0" y="276.2" font-size="12.2" font-weight="normal" text-anchor="start" fill="#000"  textLength="40.3" lengthAdjust="spacingAndGlyphs">/Mac-1</text>
<text x="297.8" y="271.0" font-size="10.6" font-weight="normal" text-anchor="start" fill="#000"  textLength="5.8" lengthAdjust="spacingAndGlyphs">+</text>
<text x="303.5" y="276.2" font-size="12.2" font-weight="normal" text-anchor="start" fill="#000"  textLength="29.5" lengthAdjust="spacingAndGlyphs">/Gr-1</text>
<text x="333.4" y="271.0" font-size="10.6" font-weight="normal" text-anchor="start" fill="#000"  textLength="13.4" lengthAdjust="spacingAndGlyphs">int</text>
<text x="365.8" y="276.2" font-size="12.2" font-weight="normal" text-anchor="start" fill="#000"  textLength="34.2" lengthAdjust="spacingAndGlyphs">Mac-1</text>
<text x="401.1" y="271.0" font-size="10.6" font-weight="normal" text-anchor="start" fill="#000"  textLength="5.6" lengthAdjust="spacingAndGlyphs">+</text>
<text x="407.9" y="276.2" font-size="12.2" font-weight="normal" text-anchor="start" fill="#000"  textLength="28.6" lengthAdjust="spacingAndGlyphs">/Gr-1</text>
<text x="436.8" y="271.0" font-size="10.6" font-weight="normal" text-anchor="start" fill="#000"  textLength="14.1" lengthAdjust="spacingAndGlyphs">int</text>
<defs>
<filter id="mot" x="-20%" y="-20%" width="140%" height="140%">
 <feTurbulence type="fractalNoise" baseFrequency="0.3" numOctaves="2" seed="7" result="t"/>
 <feColorMatrix in="t" type="matrix" values="0 0 0 0 1  0 0 0 0 1  0 0 0 0 1  1.0 0 0 0 -0.68" result="w"/>
 <feComposite in="w" in2="SourceAlpha" operator="in" result="wc"/>
 <feTurbulence type="fractalNoise" baseFrequency="0.35" numOctaves="1" seed="13" result="t2"/>
 <feColorMatrix in="t2" type="matrix" values="0 0 0 0 0.2  0 0 0 0 0.2  0 0 0 0 0.6  0 1.2 0 0 -0.55" result="d"/>
 <feComposite in="d" in2="SourceAlpha" operator="in" result="dc"/>
 <feMerge result="m"><feMergeNode in="SourceGraphic"/><feMergeNode in="wc"/><feMergeNode in="dc"/></feMerge>
 <feGaussianBlur in="m" stdDeviation="0.5"/>
</filter>
<filter id="mot2" x="-20%" y="-20%" width="140%" height="140%">
 <feTurbulence type="fractalNoise" baseFrequency="0.75" numOctaves="2" seed="21" result="t2"/>
 <feColorMatrix in="t2" type="matrix" values="0 0 0 0 0.12  0 0 0 0 0.14  0 0 0 0 0.65  0 4.0 0 0 -1.75" result="d"/>
 <feComposite in="d" in2="SourceAlpha" operator="in" result="dc"/>
 <feTurbulence type="fractalNoise" baseFrequency="0.5" numOctaves="1" seed="5" result="t"/>
 <feColorMatrix in="t" type="matrix" values="0 0 0 0 1  0 0 0 0 1  0 0 0 0 1  1.3 0 0 0 -0.85" result="w"/>
 <feComposite in="w" in2="SourceAlpha" operator="in" result="wc"/>
 <feMerge result="m"><feMergeNode in="SourceGraphic"/><feMergeNode in="wc"/><feMergeNode in="dc"/></feMerge>
 <feGaussianBlur in="m" stdDeviation="0.45"/>
</filter>
<filter id="blur1"><feGaussianBlur stdDeviation="0.8"/></filter>
<filter id="blur2"><feGaussianBlur stdDeviation="1.5"/></filter>
</defs>
<radialGradient id="cg1" cx="50%" cy="50%" r="55%"><stop offset="0" stop-color="#3d50d6"/><stop offset="0.7" stop-color="#3d50d6"/><stop offset="1" stop-color="#6a78dc"/></radialGradient>
<g filter="url(#mot)">
<path d="M113.3,302.0 L113.3,304.6 L112.8,307.1 L111.7,309.5 L110.3,311.6 L108.6,313.5 L106.8,315.2 L104.7,316.7 L102.4,317.7 L100.0,318.1 L97.5,317.8 L95.2,317.1 L93.0,316.3 L90.9,315.4 L88.7,314.6 L86.4,313.5 L84.4,311.9 L82.9,309.7 L82.2,307.2 L82.0,304.5 L82.2,302.0 L82.4,299.5 L82.5,296.9 L82.7,294.2 L83.6,291.5 L85.3,289.3 L87.7,288.0 L90.4,287.6 L93.0,287.8 L95.4,288.0 L97.5,287.9 L99.7,287.5 L102.2,287.1 L104.8,287.2 L107.2,288.1 L109.2,289.9 L110.6,292.2 L111.5,294.6 L112.3,297.0 L112.9,299.5 Z" fill="#a8b0ec" filter="url(#blur1)"/>
<path d="M112.2,302.0 L112.2,304.4 L111.7,306.8 L110.6,308.9 L109.1,310.7 L107.3,312.2 L105.4,313.3 L103.6,314.4 L101.7,315.4 L99.7,316.4 L97.5,317.1 L95.1,317.5 L92.7,317.2 L90.4,316.3 L88.4,314.9 L86.7,313.1 L85.4,311.1 L84.4,308.9 L83.8,306.6 L83.6,304.3 L83.7,302.0 L84.0,299.8 L84.5,297.6 L85.2,295.5 L86.1,293.4 L87.3,291.4 L88.8,289.6 L90.7,288.2 L92.9,287.3 L95.2,286.9 L97.5,286.8 L99.8,287.1 L102.0,287.6 L104.1,288.5 L106.1,289.8 L107.8,291.4 L109.2,293.2 L110.3,295.3 L111.1,297.4 L111.8,299.7 Z" fill="url(#cg1)"/>
<ellipse cx="108.5" cy="304.0" rx="3" ry="6" fill="#a0a8ea" opacity="0.8" filter="url(#blur1)"/>
</g>
<radialGradient id="cg2" cx="50%" cy="50%" r="55%"><stop offset="0" stop-color="#8088dc"/><stop offset="0.5" stop-color="#8088dc"/><stop offset="1" stop-color="#b0b4ea"/></radialGradient>
<g filter="url(#mot2)">
<path d="M154.6,301.0 L153.9,303.9 L153.1,306.6 L152.2,309.3 L151.1,312.0 L149.5,314.5 L147.4,316.5 L144.8,317.7 L142.1,318.3 L139.4,318.4 L136.8,318.5 L134.2,318.7 L131.3,318.9 L128.3,318.7 L125.4,317.6 L123.0,315.6 L121.4,312.8 L120.6,309.7 L120.3,306.7 L120.0,303.8 L119.8,301.0 L119.6,298.1 L119.7,295.1 L120.5,292.2 L121.9,289.5 L124.0,287.4 L126.4,285.8 L128.9,284.5 L131.5,283.7 L134.1,283.1 L136.8,282.9 L139.5,283.0 L142.2,283.5 L144.8,284.4 L147.4,285.6 L149.9,287.2 L152.1,289.2 L153.8,291.8 L154.8,294.8 L155.0,297.9 Z" fill="#dcdcf6" filter="url(#blur1)"/>
<path d="M153.5,301.0 L153.4,303.8 L153.0,306.6 L152.1,309.3 L150.6,311.7 L148.7,313.6 L146.4,315.0 L144.1,316.2 L141.8,317.2 L139.3,318.1 L136.8,318.7 L134.1,318.8 L131.6,318.0 L129.4,316.4 L127.7,314.3 L126.2,312.2 L124.8,310.2 L123.1,308.4 L121.3,306.4 L119.5,303.9 L118.5,301.0 L118.5,297.9 L119.6,295.1 L121.5,292.7 L123.5,290.8 L125.6,289.1 L127.5,287.4 L129.5,285.8 L131.7,284.5 L134.2,283.7 L136.8,283.6 L139.3,284.1 L141.7,285.0 L144.0,286.1 L146.2,287.3 L148.3,288.8 L150.2,290.7 L151.7,292.9 L152.8,295.5 L153.3,298.2 Z" fill="url(#cg2)"/>
<ellipse cx="144.8" cy="311.0" rx="8" ry="6" fill="#dcdcf4" opacity="0.85" filter="url(#blur1)"/>
<ellipse cx="133.8" cy="297.0" rx="9" ry="8" fill="#4c56d4" opacity="0.55" filter="url(#blur1)"/>
</g>
<radialGradient id="cg3" cx="50%" cy="50%" r="55%"><stop offset="0" stop-color="#3d50d6"/><stop offset="0.7" stop-color="#3d50d6"/><stop offset="1" stop-color="#6a78dc"/></radialGradient>
<g filter="url(#mot)">
<path d="M113.0,343.5 L112.8,345.9 L112.2,348.3 L111.2,350.5 L109.9,352.5 L108.2,354.3 L106.3,355.9 L104.1,357.0 L101.8,357.8 L99.4,358.2 L97.0,358.3 L94.6,358.0 L92.3,357.5 L90.1,356.6 L88.0,355.5 L86.1,354.0 L84.4,352.3 L83.0,350.4 L82.0,348.2 L81.2,345.9 L80.9,343.5 L81.1,341.1 L81.7,338.7 L82.7,336.5 L84.1,334.5 L85.8,332.7 L87.8,331.2 L89.9,330.0 L92.2,329.2 L94.6,328.8 L97.0,328.7 L99.4,329.0 L101.7,329.6 L103.9,330.4 L106.0,331.6 L107.9,333.0 L109.7,334.6 L111.1,336.6 L112.2,338.7 L112.8,341.1 Z" fill="#a8b0ec" filter="url(#blur1)"/>
<path d="M110.9,343.5 L110.8,345.6 L110.6,347.8 L110.1,349.9 L109.2,352.0 L107.8,353.9 L105.9,355.3 L103.7,356.3 L101.5,356.8 L99.2,357.0 L97.0,357.1 L94.8,357.0 L92.6,356.6 L90.4,356.0 L88.4,355.0 L86.6,353.6 L85.2,351.8 L84.1,349.8 L83.5,347.7 L83.1,345.6 L83.0,343.5 L83.0,341.4 L83.3,339.2 L83.9,337.1 L84.9,335.0 L86.3,333.1 L88.1,331.6 L90.2,330.6 L92.5,330.0 L94.8,329.9 L97.0,330.0 L99.2,330.3 L101.3,330.6 L103.5,331.2 L105.6,332.0 L107.6,333.3 L109.1,335.0 L110.1,337.0 L110.7,339.2 L110.9,341.4 Z" fill="url(#cg3)"/>
</g>
<radialGradient id="cg4" cx="50%" cy="50%" r="55%"><stop offset="0" stop-color="#8088dc"/><stop offset="0.5" stop-color="#8088dc"/><stop offset="1" stop-color="#b0b4ea"/></radialGradient>
<g filter="url(#mot2)">
<path d="M154.8,345.0 L154.5,347.9 L154.0,350.9 L153.3,353.8 L152.3,356.8 L150.8,359.6 L148.6,361.9 L145.8,363.2 L142.6,363.4 L139.7,362.8 L137.0,361.9 L134.6,361.3 L132.0,361.2 L129.2,361.2 L126.3,360.6 L123.7,359.1 L121.8,356.7 L120.8,353.7 L120.5,350.7 L120.3,347.8 L119.9,345.0 L119.5,342.1 L119.3,338.9 L119.9,335.8 L121.5,333.1 L123.9,331.1 L126.5,329.7 L129.2,328.7 L131.7,327.8 L134.3,326.8 L137.0,326.0 L139.9,325.9 L142.6,326.6 L145.1,328.1 L147.2,330.1 L149.0,332.3 L150.7,334.5 L152.3,336.8 L153.6,339.3 L154.5,342.1 Z" fill="#dcdcf4" filter="url(#blur1)"/>
<path d="M152.1,345.0 L152.4,347.6 L152.6,350.4 L152.4,353.3 L151.5,356.2 L149.9,358.7 L147.7,360.6 L145.0,361.6 L142.2,361.9 L139.5,361.7 L137.0,361.2 L134.6,360.8 L132.3,360.5 L129.8,360.0 L127.3,359.1 L125.0,357.7 L123.1,355.7 L121.8,353.2 L121.0,350.5 L120.8,347.7 L120.9,345.0 L121.2,342.3 L121.6,339.7 L122.3,337.1 L123.4,334.6 L125.0,332.3 L127.1,330.5 L129.4,329.2 L131.9,328.4 L134.5,327.9 L137.0,327.7 L139.6,327.8 L142.2,328.1 L144.7,328.9 L147.1,330.3 L149.0,332.3 L150.4,334.7 L151.2,337.3 L151.6,340.0 L151.9,342.5 Z" fill="url(#cg4)"/>
<ellipse cx="128.0" cy="336.0" rx="5" ry="4" fill="#dcdcf4" opacity="0.7" filter="url(#blur1)"/>
<ellipse cx="136.0" cy="345.0" rx="9" ry="9" fill="#4c56d4" opacity="0.55" filter="url(#blur1)"/>
</g>
<path d="M77,342 L82,340 L83,357 L77,358 Z" fill="#7080d8" opacity="0.7" filter="url(#blur1)"/>
<radialGradient id="cg5" cx="50%" cy="50%" r="55%"><stop offset="0" stop-color="#5650cc"/><stop offset="0.6" stop-color="#5650cc"/><stop offset="1" stop-color="#a8a4e4"/></radialGradient>
<g filter="url(#mot)">
<path d="M268.9,300.5 L268.0,303.1 L266.9,305.5 L266.0,307.9 L265.1,310.3 L263.9,312.8 L262.2,315.0 L260.0,316.7 L257.4,317.6 L254.7,317.8 L252.0,317.6 L249.4,317.2 L247.0,316.5 L244.5,315.6 L242.2,314.4 L240.2,312.7 L238.5,310.6 L237.2,308.3 L236.1,305.8 L235.4,303.2 L234.9,300.5 L235.0,297.7 L235.7,295.0 L237.0,292.6 L238.7,290.5 L240.5,288.6 L242.4,286.9 L244.5,285.2 L246.7,283.8 L249.3,282.9 L252.0,282.7 L254.6,283.3 L257.0,284.5 L259.2,285.9 L261.3,287.2 L263.5,288.6 L265.8,290.2 L267.7,292.2 L269.0,294.8 L269.4,297.7 Z" fill="#d4d2f4" filter="url(#blur1)"/>
<path d="M267.5,300.5 L267.4,303.0 L266.8,305.5 L265.8,307.8 L264.5,309.8 L262.8,311.6 L260.9,313.1 L258.9,314.4 L256.7,315.6 L254.4,316.4 L252.0,317.0 L249.5,317.0 L247.0,316.5 L244.7,315.4 L242.6,313.8 L241.0,311.9 L239.7,309.7 L238.8,307.4 L238.2,305.1 L237.8,302.8 L237.5,300.5 L237.4,298.1 L237.5,295.6 L237.8,293.0 L238.7,290.5 L240.1,288.2 L242.1,286.5 L244.5,285.4 L247.1,284.9 L249.6,284.9 L252.0,285.2 L254.3,285.6 L256.6,286.0 L258.8,286.7 L261.0,287.7 L263.0,289.1 L264.7,291.0 L266.0,293.2 L266.8,295.5 L267.3,298.0 Z" fill="url(#cg5)"/>
<ellipse cx="243.0" cy="296.5" rx="4" ry="8" fill="#d8d6f4" opacity="0.9" filter="url(#blur1)"/>
<ellipse cx="248.0" cy="311.5" rx="7" ry="3.5" fill="#c8c4ee" opacity="0.8" filter="url(#blur1)"/>
</g>
<path d="M236,284 Q245,281 252,285 L244,288 Z" fill="#a0a8e8" opacity="0.8" filter="url(#blur1)"/>
<radialGradient id="cg6" cx="50%" cy="50%" r="55%"><stop offset="0" stop-color="#5650cc"/><stop offset="0.6" stop-color="#5650cc"/><stop offset="1" stop-color="#a8a4e4"/></radialGradient>
<g filter="url(#mot)">
<path d="M310.6,302.0 L310.4,304.8 L310.2,307.6 L309.8,310.6 L308.7,313.4 L306.9,315.8 L304.3,317.3 L301.5,318.2 L298.7,318.6 L296.1,319.0 L293.5,319.5 L290.7,320.0 L287.8,320.0 L285.0,319.2 L282.6,317.5 L280.7,315.2 L279.2,312.7 L277.9,310.2 L276.8,307.6 L275.8,304.9 L275.4,302.0 L275.7,299.1 L276.7,296.4 L278.2,294.0 L279.9,291.8 L281.5,289.6 L283.2,287.3 L285.2,285.1 L287.6,283.4 L290.5,282.6 L293.5,282.8 L296.3,283.8 L298.8,285.1 L301.2,286.4 L303.6,287.6 L306.0,289.1 L308.2,291.0 L309.8,293.5 L310.6,296.3 L310.7,299.2 Z" fill="#d4d2f4" filter="url(#blur1)"/>
<path d="M309.0,302.0 L309.8,304.7 L309.9,307.5 L309.0,310.1 L307.1,312.2 L304.8,313.6 L302.5,314.8 L300.5,316.1 L298.4,317.7 L296.2,319.4 L293.5,320.6 L290.6,320.8 L287.9,319.9 L285.6,318.1 L283.8,315.8 L282.3,313.6 L280.8,311.5 L279.4,309.4 L278.2,307.1 L277.5,304.6 L277.4,302.0 L277.8,299.4 L278.5,297.0 L279.4,294.6 L280.5,292.2 L281.8,290.0 L283.7,288.1 L285.9,286.6 L288.4,285.8 L290.9,285.2 L293.5,284.8 L296.2,284.5 L299.0,284.6 L301.8,285.3 L304.1,286.9 L305.8,289.4 L306.6,292.2 L306.9,295.0 L307.2,297.4 L308.0,299.6 Z" fill="url(#cg6)"/>
<ellipse cx="297.0" cy="308.0" rx="6" ry="8" fill="#e4e2f8" opacity="1.0" filter="url(#blur1)"/>
<ellipse cx="302.5" cy="314.0" rx="6" ry="5" fill="#e0def6" opacity="0.95" filter="url(#blur1)"/>
</g>
<radialGradient id="cg7" cx="50%" cy="50%" r="55%"><stop offset="0" stop-color="#5650cc"/><stop offset="0.6" stop-color="#5650cc"/><stop offset="1" stop-color="#a8a4e4"/></radialGradient>
<g filter="url(#mot)">
<path d="M272.1,342.0 L271.8,344.9 L270.8,347.6 L269.4,350.1 L267.9,352.4 L266.4,354.7 L264.6,357.0 L262.4,358.9 L259.7,360.2 L256.9,360.6 L254.0,360.4 L251.3,359.9 L248.5,359.3 L245.7,358.7 L243.0,357.6 L240.5,355.9 L238.7,353.4 L237.8,350.5 L237.5,347.5 L237.4,344.7 L237.4,342.0 L237.3,339.3 L237.5,336.5 L238.4,333.8 L239.9,331.4 L241.9,329.6 L244.2,328.1 L246.4,326.5 L248.6,324.8 L251.1,322.9 L254.0,321.5 L257.2,321.1 L260.3,322.1 L262.7,324.3 L264.5,327.2 L265.7,329.9 L266.9,332.3 L268.4,334.5 L270.0,336.6 L271.4,339.2 Z" fill="#d4d2f4" filter="url(#blur1)"/>
<path d="M270.0,342.0 L269.6,344.5 L269.4,347.1 L269.0,349.9 L268.1,352.5 L266.3,354.7 L263.9,356.1 L261.3,356.8 L258.8,357.1 L256.4,357.6 L254.0,358.2 L251.4,358.8 L248.7,358.7 L246.2,357.8 L244.1,356.0 L242.7,353.7 L241.5,351.4 L240.2,349.2 L238.7,347.1 L237.1,344.8 L236.1,342.0 L236.0,339.1 L237.0,336.3 L238.8,334.0 L240.9,332.2 L242.9,330.6 L244.8,328.9 L246.7,327.2 L248.9,325.8 L251.4,325.1 L254.0,325.2 L256.5,326.0 L258.7,326.9 L261.0,327.8 L263.5,328.6 L266.0,329.6 L268.3,331.3 L269.9,333.6 L270.6,336.5 L270.4,339.3 Z" fill="url(#cg7)"/>
<ellipse cx="253.0" cy="343.0" rx="6" ry="3.5" fill="#d8d6f4" opacity="0.9" filter="url(#blur1)"/>
<ellipse cx="263.0" cy="336.0" rx="4" ry="6" fill="#c8c4ee" opacity="0.7" filter="url(#blur1)"/>
</g>
<path d="M268,328 L273,325 L272,352 L268,346 Z" fill="#8890d8" opacity="0.6" filter="url(#blur1)"/>
<radialGradient id="cg8" cx="50%" cy="50%" r="55%"><stop offset="0" stop-color="#5650cc"/><stop offset="0.6" stop-color="#5650cc"/><stop offset="1" stop-color="#a8a4e4"/></radialGradient>
<g filter="url(#mot)">
<path d="M309.9,342.0 L309.7,344.7 L309.4,347.5 L309.1,350.5 L308.3,353.5 L306.8,356.2 L304.4,358.2 L301.4,359.1 L298.3,358.9 L295.5,358.2 L293.0,357.4 L290.7,357.1 L288.2,357.1 L285.6,357.0 L282.9,356.4 L280.4,355.0 L278.5,352.8 L277.2,350.3 L276.3,347.6 L275.6,344.8 L275.1,342.0 L275.0,339.1 L275.6,336.2 L276.9,333.5 L278.8,331.3 L281.0,329.6 L283.2,328.1 L285.4,326.7 L287.8,325.4 L290.3,324.3 L293.0,323.9 L295.7,324.2 L298.3,325.3 L300.6,326.7 L302.7,328.2 L304.7,329.9 L306.7,331.7 L308.3,333.9 L309.5,336.5 L310.0,339.2 Z" fill="#d4d2f4" filter="url(#blur1)"/>
<path d="M309.1,342.0 L308.9,344.6 L308.3,347.1 L307.4,349.6 L306.2,351.9 L304.6,354.0 L302.7,355.7 L300.4,357.0 L298.0,357.8 L295.5,358.1 L293.0,358.0 L290.6,357.7 L288.2,357.2 L285.9,356.4 L283.7,355.2 L281.7,353.7 L280.0,351.7 L278.7,349.5 L277.8,347.1 L277.2,344.6 L276.8,342.0 L276.8,339.4 L277.3,336.7 L278.3,334.3 L279.8,332.1 L281.7,330.3 L283.7,328.8 L285.9,327.6 L288.2,326.7 L290.5,325.9 L293.0,325.5 L295.5,325.6 L298.0,326.2 L300.3,327.3 L302.3,328.8 L304.1,330.5 L305.7,332.5 L307.1,334.6 L308.2,336.9 L308.9,339.4 Z" fill="url(#cg8)"/>
<ellipse cx="287.0" cy="335.0" rx="7" ry="5" fill="#dcdaf6" opacity="0.95" filter="url(#blur1)"/>
<ellipse cx="292.0" cy="340.0" rx="3" ry="4" fill="#dcdaf6" opacity="0.9" filter="url(#blur1)"/>
<ellipse cx="282.0" cy="345.0" rx="3" ry="5" fill="#c8c4ee" opacity="0.7" filter="url(#blur1)"/>
</g>
<radialGradient id="cg9" cx="50%" cy="50%" r="55%"><stop offset="0" stop-color="#3a4fd4"/><stop offset="0.7" stop-color="#3a4fd4"/><stop offset="1" stop-color="#5a6ad8"/></radialGradient>
<g filter="url(#mot)">
<path d="M409.5,300.0 L409.2,302.6 L408.5,305.2 L407.2,307.5 L405.7,309.6 L403.9,311.5 L401.9,313.2 L399.7,314.6 L397.3,315.8 L394.7,316.7 L392.0,317.2 L389.2,317.1 L386.5,316.4 L384.0,315.3 L381.7,313.7 L379.8,311.8 L378.2,309.7 L376.8,307.5 L375.8,305.1 L375.1,302.6 L374.8,300.0 L374.9,297.4 L375.6,294.8 L376.7,292.5 L378.2,290.3 L380.0,288.3 L382.0,286.6 L384.2,285.2 L386.6,284.0 L389.3,283.2 L392.0,282.9 L394.8,283.1 L397.4,283.9 L399.9,285.0 L402.1,286.5 L404.1,288.3 L405.8,290.3 L407.3,292.4 L408.5,294.8 L409.2,297.4 Z" fill="#a0a8ea" filter="url(#blur1)"/>
<path d="M408.8,300.0 L408.1,302.5 L406.8,304.7 L405.4,306.6 L403.9,308.4 L402.5,310.1 L401.0,312.0 L399.3,313.8 L397.1,315.3 L394.6,316.1 L392.0,316.1 L389.5,315.4 L387.2,314.3 L385.1,313.1 L383.0,312.0 L380.9,310.8 L378.9,309.2 L377.3,307.2 L376.4,304.9 L376.1,302.4 L376.2,300.0 L376.5,297.6 L376.8,295.2 L377.3,292.7 L378.2,290.3 L379.7,288.1 L382.0,286.6 L384.6,285.9 L387.2,285.8 L389.7,286.1 L392.0,286.4 L394.2,286.4 L396.5,286.4 L399.0,286.6 L401.5,287.3 L403.9,288.5 L405.9,290.2 L407.4,292.4 L408.5,294.8 L409.0,297.4 Z" fill="url(#cg9)"/>
</g>
<path d="M404,284 L409,282 L409,296 Z" fill="#4a5ad8" opacity="0.9"/>
<radialGradient id="cg10" cx="50%" cy="50%" r="55%"><stop offset="0" stop-color="#8690e0"/><stop offset="0.6" stop-color="#8690e0"/><stop offset="1" stop-color="#aab0ea"/></radialGradient>
<g filter="url(#mot2)">
<path d="M448.2,303.5 L447.6,306.4 L446.2,309.1 L444.5,311.4 L442.7,313.5 L440.9,315.4 L439.0,317.2 L436.8,318.7 L434.3,319.9 L431.7,320.6 L429.0,321.0 L426.2,321.3 L423.2,321.3 L420.2,320.7 L417.5,319.3 L415.5,317.0 L414.3,314.2 L413.8,311.2 L413.6,308.5 L413.3,306.0 L412.6,303.5 L411.7,300.8 L411.3,297.8 L411.9,294.8 L413.5,292.2 L415.9,290.4 L418.6,289.2 L421.2,288.3 L423.8,287.4 L426.3,286.4 L429.0,285.6 L431.9,285.5 L434.6,286.2 L437.0,287.7 L439.1,289.6 L440.9,291.6 L442.8,293.4 L444.8,295.4 L446.7,297.8 L447.9,300.5 Z" fill="#d0d4f4" filter="url(#blur1)"/>
<path d="M445.1,303.5 L445.1,306.1 L444.8,308.6 L444.0,311.2 L442.8,313.5 L441.1,315.6 L439.0,317.3 L436.6,318.5 L434.1,319.3 L431.6,319.7 L429.0,319.9 L426.4,319.8 L423.9,319.3 L421.4,318.5 L419.1,317.1 L417.3,315.2 L415.9,313.0 L414.9,310.7 L414.3,308.3 L413.8,305.9 L413.4,303.5 L413.1,301.0 L413.1,298.3 L413.6,295.6 L414.7,293.1 L416.5,291.0 L418.7,289.4 L421.3,288.4 L423.9,287.8 L426.5,287.6 L429.0,287.5 L431.5,287.6 L434.0,288.0 L436.5,288.8 L438.7,290.1 L440.7,291.8 L442.2,293.9 L443.4,296.2 L444.2,298.6 L444.8,301.0 Z" fill="url(#cg10)"/>
</g>
<path d="M448,305 L448.5,322 L438,322 Z" fill="#4a5ad8" opacity="0.9"/>
<radialGradient id="cg11" cx="50%" cy="50%" r="55%"><stop offset="0" stop-color="#4256d8"/><stop offset="0.7" stop-color="#4256d8"/><stop offset="1" stop-color="#6272dc"/></radialGradient>
<g filter="url(#mot)">
<path d="M406.7,344.0 L406.7,346.6 L406.3,349.1 L405.4,351.6 L404.1,353.8 L402.3,355.7 L400.4,357.4 L398.3,358.7 L396.0,359.9 L393.5,360.6 L391.0,360.9 L388.5,360.6 L386.0,359.9 L383.7,358.8 L381.5,357.5 L379.4,356.0 L377.5,354.2 L375.9,351.9 L375.0,349.4 L374.7,346.7 L375.0,344.0 L375.7,341.5 L376.5,339.1 L377.3,336.8 L378.2,334.4 L379.4,332.0 L381.2,330.0 L383.4,328.6 L385.9,327.9 L388.5,327.7 L391.0,327.8 L393.5,328.0 L395.9,328.3 L398.5,328.8 L400.9,329.9 L403.1,331.5 L404.7,333.7 L405.7,336.3 L406.3,338.9 L406.6,341.5 Z" fill="#a8b0ec" filter="url(#blur1)"/>
<path d="M406.2,344.0 L406.0,346.5 L405.5,348.9 L404.5,351.1 L403.2,353.2 L401.6,355.0 L399.8,356.5 L397.7,357.6 L395.5,358.4 L393.3,359.1 L391.0,359.5 L388.6,359.6 L386.2,359.4 L383.8,358.6 L381.7,357.2 L380.0,355.3 L378.9,353.1 L378.1,350.8 L377.6,348.5 L377.2,346.3 L376.9,344.0 L376.8,341.7 L377.0,339.3 L377.6,337.0 L378.7,334.7 L380.1,332.8 L381.9,331.0 L383.9,329.6 L386.1,328.6 L388.5,328.0 L391.0,327.9 L393.4,328.4 L395.6,329.3 L397.6,330.6 L399.4,332.0 L401.1,333.6 L402.7,335.2 L404.0,337.1 L405.2,339.2 L405.9,341.6 Z" fill="url(#cg11)"/>
</g>
<path d="M404,332 L409,330 L409,358 L403,352 Z" fill="#8892e0" opacity="0.6" filter="url(#blur1)"/>
<radialGradient id="cg12" cx="50%" cy="50%" r="55%"><stop offset="0" stop-color="#6070da"/><stop offset="0.6" stop-color="#6070da"/><stop offset="1" stop-color="#9098e2"/></radialGradient>
<g filter="url(#mot2)">
<path d="M446.0,344.0 L445.8,346.6 L445.7,349.3 L445.6,352.2 L444.9,355.2 L443.3,357.7 L440.9,359.4 L438.0,360.2 L435.2,360.4 L432.6,360.6 L430.0,361.1 L427.3,361.7 L424.3,362.0 L421.4,361.4 L418.9,359.8 L417.2,357.2 L416.3,354.3 L415.8,351.5 L415.4,348.9 L414.7,346.5 L414.0,344.0 L413.6,341.3 L413.7,338.5 L414.5,335.8 L415.8,333.3 L417.4,331.0 L419.4,328.9 L421.6,327.1 L424.2,325.7 L427.1,325.2 L430.0,325.5 L432.7,326.4 L435.1,327.7 L437.5,328.9 L439.8,330.1 L442.1,331.5 L444.2,333.4 L445.6,335.8 L446.3,338.5 L446.3,341.3 Z" fill="#c0c6f0" filter="url(#blur1)"/>
<path d="M445.2,344.0 L444.6,346.4 L444.0,348.7 L443.3,351.0 L442.4,353.3 L441.0,355.4 L439.3,357.2 L437.2,358.7 L434.9,359.7 L432.5,360.3 L430.0,360.6 L427.5,360.5 L425.0,359.9 L422.6,358.9 L420.5,357.5 L418.6,355.8 L416.8,353.9 L415.3,351.7 L414.1,349.3 L413.4,346.7 L413.2,344.0 L413.6,341.3 L414.6,338.8 L416.1,336.7 L417.7,334.8 L419.5,333.2 L421.3,331.7 L423.3,330.4 L425.4,329.3 L427.6,328.5 L430.0,328.0 L432.5,327.8 L435.1,327.9 L437.7,328.4 L440.3,329.4 L442.6,331.0 L444.4,333.2 L445.5,335.9 L445.8,338.7 L445.7,341.4 Z" fill="url(#cg12)"/>
<ellipse cx="427.0" cy="340.0" rx="6" ry="5" fill="#a8b0ea" opacity="0.6" filter="url(#blur1)"/>
</g>
<path d="M408,323 L420,323 L410,337 Z" fill="#4a5ad8" opacity="0.9"/>
<path d="M448,350 L448,364 L438,364 Z" fill="#4a5ad8" opacity="0.9"/>
</svg>
</body></html>
